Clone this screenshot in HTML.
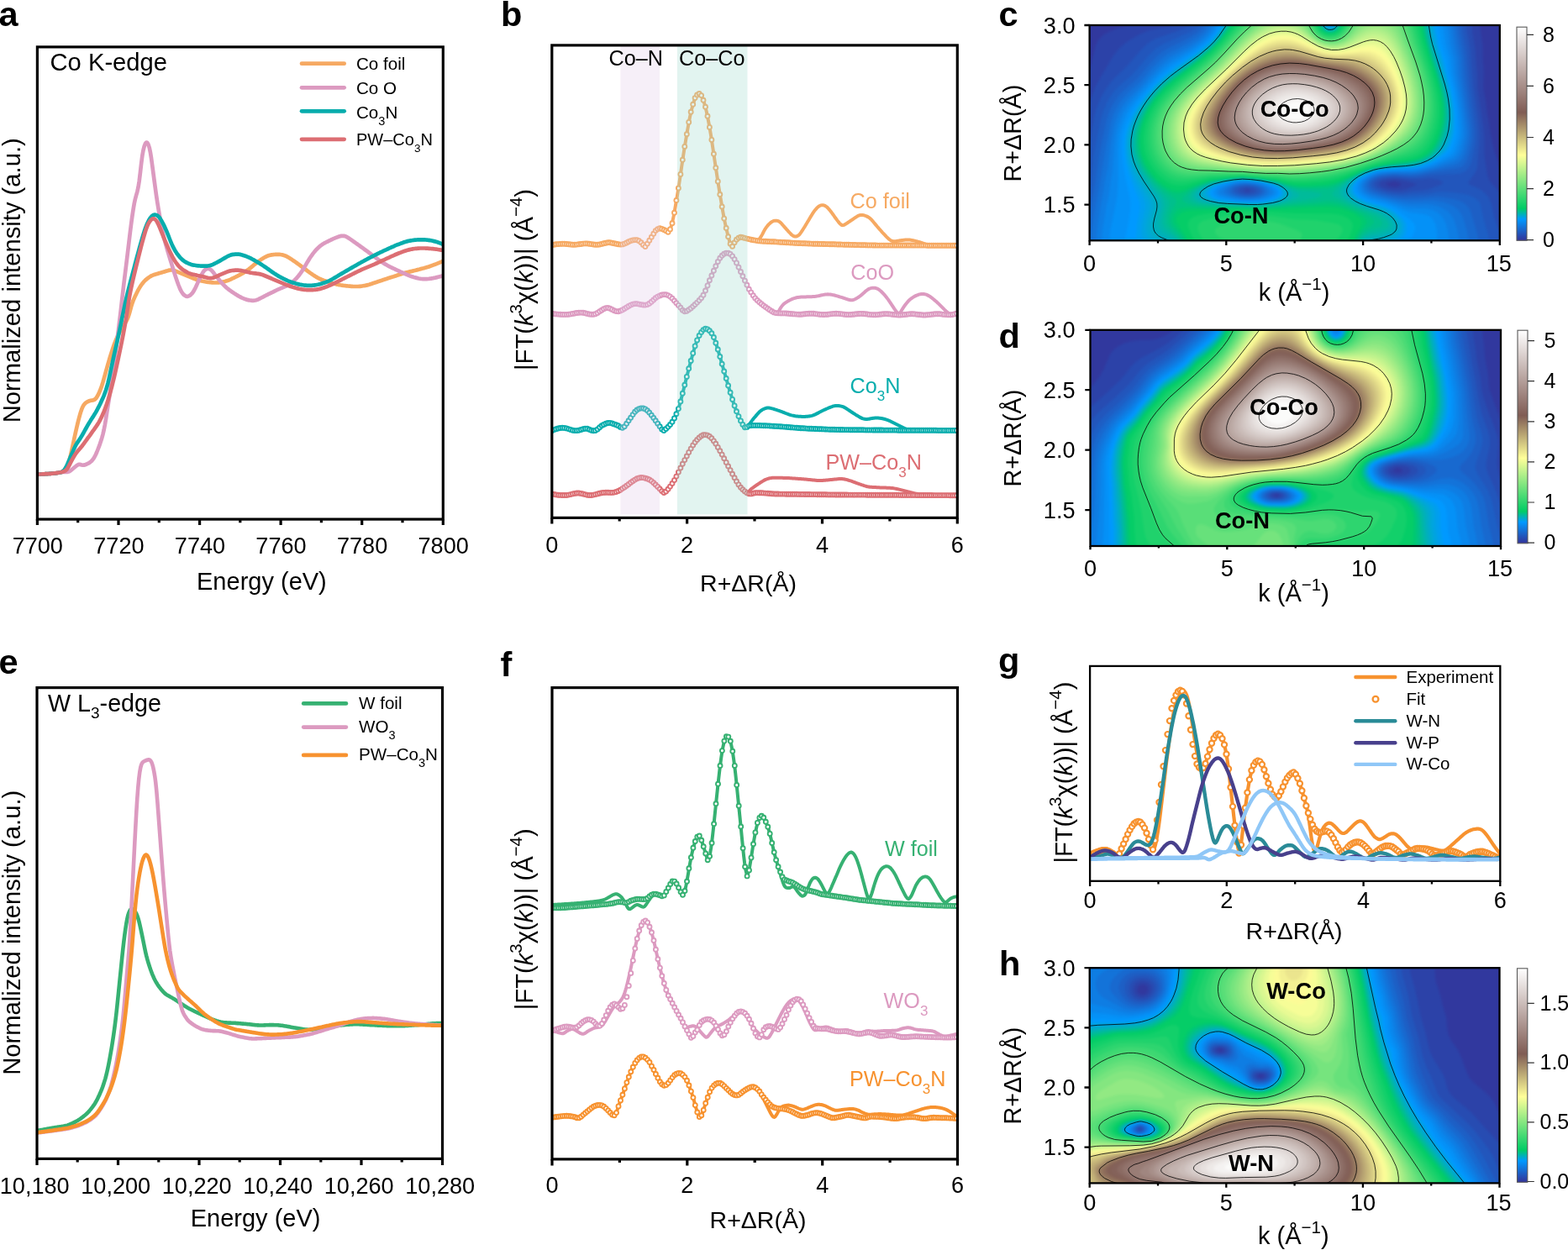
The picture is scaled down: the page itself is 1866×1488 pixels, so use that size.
<!DOCTYPE html>
<html lang="en"><head><meta charset="utf-8"><title>XAFS figure</title>
<style>
html,body{margin:0;padding:0;background:#fff}
body{width:1866px;height:1488px;overflow:hidden}
svg{display:block}
text{font-family:'Liberation Sans', Arial, Helvetica, sans-serif}
</style></head><body>
<svg xmlns="http://www.w3.org/2000/svg" width="1866" height="1488" viewBox="0 0 1866 1488">
<rect width="1866" height="1488" fill="#fff"/>
<!-- panel_a -->
<g fill="none" stroke-width="4.7" stroke-linejoin="round" stroke-linecap="butt">
<path d="M44.4 564.6L45.6 564.6L46.8 564.5L48 564.5L49.2 564.5L50.4 564.4L51.6 564.4L52.8 564.3L54 564.2L55.2 564.2L56.4 564.1L57.6 564L58.8 563.9L60 563.8L61.2 563.7L62.4 563.6L63.6 563.5L64.8 563.4L66 563.3L67.2 563.2L68.4 563L69.6 562.8L70.8 562.6L72 562.4L73.2 562L74.4 561.4L75.6 560.4L76.8 559.2L78 557.8L79.2 556.2L80.4 553.9L81.6 550.8L82.8 546.7L84 542L85.2 536.8L86.4 531.3L87.6 525.7L88.8 520L90 514.5L91.2 509.2L92.4 504.1L93.6 499.3L94.8 494.8L96 490.7L97.2 487.2L98.4 484.3L99.6 482.2L100.8 480.7L102 479.6L103.2 478.8L104.4 478.1L105.7 477.5L106.9 477.1L108.1 476.8L109.3 476.6L110.5 476.5L111.7 476.1L112.9 475.4L114.1 474.3L115.3 472.6L116.5 470.5L117.7 468.1L118.9 465.3L120.1 462.2L121.3 458.7L122.5 454.9L123.7 450.7L124.9 446.3L126.1 441.9L127.3 437.6L128.5 433.4L129.7 429.3L130.9 425.3L132.1 421.4L133.3 417.6L134.5 414L135.7 410.6L136.9 407.4L138.1 404.5L139.3 401.8L140.5 399.2L141.7 396.8L142.9 394.6L144.1 392.4L145.3 390.3L146.5 388.3L147.7 386.4L148.9 384.5L150.1 382.6L151.3 380.4L152.5 377.6L153.7 373.8L154.9 369.5L156.1 365.1L157.3 361.2L158.5 357.9L159.7 355.1L160.9 352.4L162.1 349.9L163.3 347.5L164.5 345.2L165.7 343.1L166.9 341.1L168.1 339.3L169.3 337.7L170.5 336.2L171.7 334.8L172.9 333.6L174.1 332.6L175.3 331.6L176.5 330.7L177.7 329.9L178.9 329.1L180.1 328.4L181.3 327.8L182.5 327.3L183.7 326.9L184.9 326.6L186.1 326.2L187.3 325.9L188.5 325.5L189.7 325.1L190.9 324.8L192.1 324.4L193.3 324.1L194.5 323.7L195.7 323.4L196.9 323L198.1 322.6L199.3 322.3L200.5 321.9L201.7 321.6L202.9 321.5L204.1 321.4L205.3 321.5L206.5 321.8L207.7 322.1L208.9 322.6L210.1 323.1L211.3 323.6L212.5 324.1L213.7 324.6L214.9 325.1L216.1 325.6L217.3 326.1L218.5 326.6L219.7 327.1L220.9 327.6L222.1 328.1L223.3 328.6L224.5 329.1L225.8 329.6L227 330.2L228.2 330.7L229.4 331.2L230.6 331.6L231.8 332.1L233 332.5L234.2 332.9L235.4 333.2L236.6 333.6L237.8 333.9L239 334.2L240.2 334.5L241.4 334.7L242.6 335L243.8 335.3L245 335.5L246.2 335.7L247.4 335.8L248.6 336L249.8 336.1L251 336.2L252.2 336.3L253.4 336.4L254.6 336.5L255.8 336.5L257 336.5L258.2 336.5L259.4 336.4L260.6 336.3L261.8 336.2L263 336.1L264.2 335.9L265.4 335.6L266.6 335.3L267.8 335L269 334.6L270.2 334.2L271.4 333.8L272.6 333.3L273.8 332.8L275 332.3L276.2 331.7L277.4 331.2L278.6 330.6L279.8 330L281 329.4L282.2 328.8L283.4 328.2L284.6 327.6L285.8 326.9L287 326.3L288.2 325.6L289.4 324.9L290.6 324.2L291.8 323.4L293 322.6L294.2 321.8L295.4 321L296.6 320L297.8 319.1L299 318.1L300.2 317.1L301.4 316.1L302.6 315L303.8 314.1L305 313.1L306.2 312.2L307.4 311.3L308.6 310.4L309.8 309.6L311 308.7L312.2 308L313.4 307.2L314.6 306.5L315.8 305.9L317 305.3L318.2 304.7L319.4 304.3L320.6 303.9L321.8 303.7L323 303.4L324.2 303.3L325.4 303.1L326.6 303L327.8 302.9L329 302.9L330.2 302.8L331.4 302.8L332.6 302.9L333.8 303L335 303.2L336.2 303.4L337.4 303.8L338.6 304.2L339.8 304.6L341 305.2L342.2 305.8L343.4 306.5L344.6 307.2L345.8 308L347.1 308.8L348.3 309.7L349.5 310.5L350.7 311.3L351.9 312.1L353.1 313L354.3 313.9L355.5 314.7L356.7 315.6L357.9 316.5L359.1 317.4L360.3 318.3L361.5 319.2L362.7 320.1L363.9 321L365.1 321.9L366.3 322.8L367.5 323.7L368.7 324.6L369.9 325.4L371.1 326.2L372.3 327.1L373.5 327.9L374.7 328.6L375.9 329.4L377.1 330.1L378.3 330.8L379.5 331.4L380.7 332L381.9 332.5L383.1 333L384.3 333.4L385.5 333.9L386.7 334.3L387.9 334.7L389.1 335.2L390.3 335.6L391.5 336L392.7 336.3L393.9 336.7L395.1 337.1L396.3 337.4L397.5 337.7L398.7 338L399.9 338.3L401.1 338.6L402.3 338.8L403.5 339.1L404.7 339.3L405.9 339.5L407.1 339.7L408.3 339.8L409.5 340L410.7 340.1L411.9 340.3L413.1 340.4L414.3 340.5L415.5 340.6L416.7 340.7L417.9 340.8L419.1 340.9L420.3 341L421.5 341L422.7 341L423.9 341L425.1 341L426.3 341L427.5 340.9L428.7 340.8L429.9 340.7L431.1 340.5L432.3 340.3L433.5 340.1L434.7 339.9L435.9 339.6L437.1 339.4L438.3 339L439.5 338.7L440.7 338.3L441.9 337.9L443.1 337.5L444.3 337.1L445.5 336.7L446.7 336.3L447.9 335.9L449.1 335.5L450.3 335.1L451.5 334.7L452.7 334.3L453.9 333.9L455.1 333.5L456.3 333.1L457.5 332.7L458.7 332.3L459.9 331.9L461.1 331.5L462.3 331.1L463.5 330.7L464.7 330.3L465.9 329.9L467.2 329.5L468.4 329.2L469.6 328.8L470.8 328.4L472 328L473.2 327.6L474.4 327.2L475.6 326.8L476.8 326.4L478 326L479.2 325.7L480.4 325.3L481.6 324.9L482.8 324.6L484 324.3L485.2 324L486.4 323.7L487.6 323.4L488.8 323.1L490 322.9L491.2 322.6L492.4 322.3L493.6 322L494.8 321.7L496 321.4L497.2 321.1L498.4 320.8L499.6 320.5L500.8 320.1L502 319.8L503.2 319.5L504.4 319.2L505.6 318.8L506.8 318.5L508 318.1L509.2 317.8L510.4 317.4L511.6 317L512.8 316.6L514 316.1L515.2 315.7L516.4 315.2L517.6 314.8L518.8 314.3L520 313.8L521.2 313.3L522.4 312.8L523.6 312.3L524.8 311.8L526 311.3L527.2 310.9" stroke="#F6A962"/>
<path d="M44.4 564.6L45.6 564.6L46.8 564.5L48 564.5L49.2 564.5L50.4 564.4L51.6 564.4L52.8 564.3L54 564.2L55.2 564.2L56.4 564.1L57.6 564L58.8 563.9L60 563.9L61.2 563.8L62.4 563.6L63.6 563.5L64.8 563.4L66 563.3L67.2 563.1L68.4 562.9L69.6 562.7L70.8 562.4L72 562.2L73.2 562.1L74.4 562L75.6 562L76.8 562L78 562L79.2 561.9L80.4 561.8L81.6 561.5L82.8 561L84 560.3L85.2 559.3L86.4 558.3L87.6 557.3L88.8 556.3L90 555.3L91.2 554.3L92.4 553.5L93.6 552.9L94.8 552.9L96 553.1L97.2 553.5L98.4 553.7L99.6 553.7L100.8 553.4L102 553L103.2 552.5L104.4 551.9L105.7 551.3L106.9 550.5L108.1 549.5L109.3 548.4L110.5 547L111.7 545.3L112.9 543.2L114.1 540.8L115.3 538L116.5 535L117.7 531.9L118.9 528.6L120.1 525L121.3 521.2L122.5 516.8L123.7 511.6L124.9 505.4L126.1 498.3L127.3 490.5L128.5 482.8L129.7 475.3L130.9 467.6L132.1 459.6L133.3 451.2L134.5 442.3L135.7 433.1L136.9 423.9L138.1 414.7L139.3 405.5L140.5 396.2L141.7 386.6L142.9 376.7L144.1 366.4L145.3 355.8L146.5 345.4L147.7 335.3L148.9 325.7L150.1 316L151.3 306.3L152.5 296.3L153.7 286.2L154.9 276.3L156.1 266.8L157.3 257.9L158.5 249.8L159.7 242.6L160.9 237L162.1 232.5L163.3 228.3L164.5 223L165.7 215.5L166.9 205.6L168.1 195L169.3 185.7L170.5 178.9L171.7 174.1L172.9 171L174.1 169.6L175.3 169.9L176.5 171.9L177.7 175.6L178.9 181.2L180.1 188.7L181.3 197.5L182.5 206.6L183.7 215.6L184.9 224.5L186.1 233.1L187.3 241.1L188.5 248.4L189.7 255.5L190.9 262.3L192.1 268.9L193.3 275L194.5 280.4L195.7 285.2L196.9 289.6L198.1 293.9L199.3 298L200.5 302L201.7 306L202.9 310L204.1 313.9L205.3 317.8L206.5 321.7L207.7 325.5L208.9 329.2L210.1 332.8L211.3 336.2L212.5 339.5L213.7 342.5L214.9 345.2L216.1 347.5L217.3 349.2L218.5 350.6L219.7 351.6L220.9 352.4L222.1 352.8L223.3 352.8L224.5 352.5L225.8 351.8L227 350.9L228.2 349.7L229.4 348.2L230.6 346.4L231.8 344.2L233 341.8L234.2 339.1L235.4 336.4L236.6 333.6L237.8 331L239 328.6L240.2 326.4L241.4 324.4L242.6 322.7L243.8 321.4L245 320.5L246.2 320L247.4 319.8L248.6 320L249.8 320.4L251 321.2L252.2 322.4L253.4 323.8L254.6 325.3L255.8 326.9L257 328.4L258.2 329.9L259.4 331.4L260.6 332.8L261.8 334.3L263 335.7L264.2 337.1L265.4 338.4L266.6 339.6L267.8 340.8L269 341.9L270.2 343L271.4 344L272.6 344.9L273.8 345.8L275 346.6L276.2 347.5L277.4 348.3L278.6 349.1L279.8 349.9L281 350.6L282.2 351.4L283.4 352.1L284.6 352.8L285.8 353.4L287 354.1L288.2 354.7L289.4 355.2L290.6 355.7L291.8 356.1L293 356.5L294.2 356.9L295.4 357.1L296.6 357.4L297.8 357.5L299 357.7L300.2 357.8L301.4 357.8L302.6 357.7L303.8 357.5L305 357.2L306.2 356.8L307.4 356.3L308.6 355.7L309.8 355.1L311 354.5L312.2 353.9L313.4 353.3L314.6 352.6L315.8 352L317 351.4L318.2 350.8L319.4 350.2L320.6 349.6L321.8 349L323 348.5L324.2 347.9L325.4 347.3L326.6 346.7L327.8 346.1L329 345.5L330.2 344.9L331.4 344.4L332.6 343.8L333.8 343.3L335 342.8L336.2 342.4L337.4 341.9L338.6 341.4L339.8 340.9L341 340.3L342.2 339.7L343.4 339.1L344.6 338.3L345.8 337.5L347.1 336.6L348.3 335.6L349.5 334.6L350.7 333.4L351.9 332.2L353.1 330.9L354.3 329.5L355.5 328.1L356.7 326.5L357.9 324.8L359.1 323.1L360.3 321.3L361.5 319.4L362.7 317.4L363.9 315.3L365.1 313.2L366.3 311.2L367.5 309.2L368.7 307.3L369.9 305.5L371.1 303.8L372.3 302.1L373.5 300.6L374.7 299.1L375.9 297.7L377.1 296.5L378.3 295.3L379.5 294.2L380.7 293.1L381.9 292.2L383.1 291.3L384.3 290.5L385.5 289.8L386.7 289.1L387.9 288.5L389.1 287.9L390.3 287.3L391.5 286.7L392.7 286.1L393.9 285.5L395.1 285L396.3 284.4L397.5 283.9L398.7 283.4L399.9 282.9L401.1 282.4L402.3 282L403.5 281.6L404.7 281.2L405.9 280.9L407.1 280.8L408.3 280.8L409.5 280.9L410.7 281.2L411.9 281.7L413.1 282.3L414.3 283.1L415.5 283.8L416.7 284.6L417.9 285.4L419.1 286.3L420.3 287.1L421.5 288L422.7 288.8L423.9 289.7L425.1 290.5L426.3 291.4L427.5 292.2L428.7 293.1L429.9 294L431.1 294.8L432.3 295.7L433.5 296.6L434.7 297.5L435.9 298.3L437.1 299.2L438.3 300.1L439.5 301L440.7 301.9L441.9 302.8L443.1 303.7L444.3 304.6L445.5 305.5L446.7 306.4L447.9 307.3L449.1 308.2L450.3 309.1L451.5 309.9L452.7 310.8L453.9 311.6L455.1 312.4L456.3 313.2L457.5 313.9L458.7 314.6L459.9 315.3L461.1 316L462.3 316.7L463.5 317.3L464.7 317.9L465.9 318.5L467.2 319.1L468.4 319.7L469.6 320.2L470.8 320.8L472 321.4L473.2 321.9L474.4 322.5L475.6 323L476.8 323.6L478 324.1L479.2 324.7L480.4 325.2L481.6 325.7L482.8 326.3L484 326.8L485.2 327.3L486.4 327.8L487.6 328.3L488.8 328.8L490 329.2L491.2 329.6L492.4 330L493.6 330.3L494.8 330.6L496 330.9L497.2 331.2L498.4 331.5L499.6 331.7L500.8 331.9L502 332L503.2 332.1L504.4 332.1L505.6 332.2L506.8 332.1L508 332.1L509.2 332L510.4 331.9L511.6 331.7L512.8 331.6L514 331.4L515.2 331.2L516.4 330.9L517.6 330.7L518.8 330.4L520 330.1L521.2 329.8L522.4 329.5L523.6 329.2L524.8 328.9L526 328.5L527.2 328.2" stroke="#DC9AC0"/>
<path d="M44.4 564.6L45.6 564.6L46.8 564.5L48 564.5L49.2 564.5L50.4 564.4L51.6 564.4L52.8 564.3L54 564.2L55.2 564.2L56.4 564.1L57.6 564L58.8 563.9L60 563.8L61.2 563.7L62.4 563.6L63.6 563.5L64.8 563.4L66 563.3L67.2 563.2L68.4 563L69.6 562.8L70.8 562.6L72 562.3L73.2 562L74.4 561.3L75.6 560.3L76.8 559L78 557.1L79.2 554.8L80.4 552.2L81.6 549.4L82.8 546.6L84 543.8L85.2 541L86.4 538.2L87.6 535.4L88.8 532.7L90 530.3L91.2 528.2L92.4 526.4L93.6 524.6L94.8 522.9L96 521L97.2 519.1L98.4 517L99.6 514.8L100.8 512.7L102 510.5L103.2 508.3L104.4 506.2L105.7 504.1L106.9 502.1L108.1 500.1L109.3 498.2L110.5 496.4L111.7 494.5L112.9 492.6L114.1 490.6L115.3 488.5L116.5 486.2L117.7 483.9L118.9 481.5L120.1 478.9L121.3 476.3L122.5 473.7L123.7 470.8L124.9 467.7L126.1 464.3L127.3 460.3L128.5 455.8L129.7 450.8L130.9 445.3L132.1 439.6L133.3 433.9L134.5 428.2L135.7 422.7L136.9 417.4L138.1 412.2L139.3 407L140.5 401.6L141.7 395.9L142.9 390.2L144.1 384.4L145.3 378.6L146.5 372.9L147.7 367.2L148.9 361.6L150.1 356.1L151.3 351L152.5 346L153.7 341.3L154.9 336.7L156.1 332.1L157.3 327.6L158.5 323L159.7 318.5L160.9 313.9L162.1 309.4L163.3 304.9L164.5 300.5L165.7 296.1L166.9 291.8L168.1 287.6L169.3 283.5L170.5 279.4L171.7 275.6L172.9 272.1L174.1 268.9L175.3 266L176.5 263.5L177.7 261.2L178.9 259.4L180.1 257.9L181.3 256.8L182.5 256.1L183.7 255.7L184.9 255.7L186.1 256L187.3 256.6L188.5 257.6L189.7 258.9L190.9 260.6L192.1 262.6L193.3 264.8L194.5 267.1L195.7 269.6L196.9 272.2L198.1 274.9L199.3 277.8L200.5 280.9L201.7 284L202.9 287L204.1 289.9L205.3 292.6L206.5 295L207.7 297.2L208.9 299.2L210.1 301.1L211.3 302.8L212.5 304.3L213.7 305.8L214.9 307.1L216.1 308.3L217.3 309.4L218.5 310.4L219.7 311.2L220.9 311.9L222.1 312.6L223.3 313.2L224.5 313.7L225.8 314.2L227 314.7L228.2 315.1L229.4 315.4L230.6 315.6L231.8 315.8L233 316L234.2 316.2L235.4 316.3L236.6 316.4L237.8 316.5L239 316.6L240.2 316.7L241.4 316.7L242.6 316.7L243.8 316.7L245 316.7L246.2 316.6L247.4 316.5L248.6 316.3L249.8 316.1L251 315.7L252.2 315.3L253.4 314.8L254.6 314.2L255.8 313.6L257 313L258.2 312.4L259.4 311.7L260.6 311.1L261.8 310.4L263 309.7L264.2 309L265.4 308.3L266.6 307.6L267.8 306.9L269 306.2L270.2 305.5L271.4 304.9L272.6 304.3L273.8 303.8L275 303.4L276.2 303.1L277.4 302.9L278.6 302.8L279.8 302.7L281 302.6L282.2 302.6L283.4 302.6L284.6 302.7L285.8 302.9L287 303.2L288.2 303.5L289.4 303.9L290.6 304.3L291.8 304.7L293 305.1L294.2 305.6L295.4 306.1L296.6 306.7L297.8 307.2L299 307.8L300.2 308.5L301.4 309.1L302.6 309.8L303.8 310.5L305 311.2L306.2 311.9L307.4 312.6L308.6 313.3L309.8 314.1L311 314.8L312.2 315.6L313.4 316.4L314.6 317.2L315.8 318L317 318.8L318.2 319.7L319.4 320.5L320.6 321.4L321.8 322.3L323 323.1L324.2 324L325.4 324.8L326.6 325.6L327.8 326.4L329 327.1L330.2 327.9L331.4 328.6L332.6 329.3L333.8 329.9L335 330.6L336.2 331.2L337.4 331.8L338.6 332.4L339.8 333L341 333.5L342.2 334.1L343.4 334.6L344.6 335.1L345.8 335.5L347.1 335.9L348.3 336.4L349.5 336.7L350.7 337.1L351.9 337.5L353.1 337.8L354.3 338.1L355.5 338.4L356.7 338.7L357.9 338.9L359.1 339.1L360.3 339.3L361.5 339.5L362.7 339.6L363.9 339.7L365.1 339.8L366.3 339.9L367.5 339.9L368.7 339.9L369.9 339.9L371.1 339.8L372.3 339.7L373.5 339.6L374.7 339.4L375.9 339.2L377.1 339L378.3 338.8L379.5 338.5L380.7 338.2L381.9 337.9L383.1 337.5L384.3 337.1L385.5 336.7L386.7 336.3L387.9 335.9L389.1 335.4L390.3 334.9L391.5 334.4L392.7 333.8L393.9 333.2L395.1 332.5L396.3 331.9L397.5 331.1L398.7 330.4L399.9 329.7L401.1 329L402.3 328.3L403.5 327.5L404.7 326.8L405.9 326.1L407.1 325.4L408.3 324.7L409.5 324L410.7 323.3L411.9 322.6L413.1 321.9L414.3 321.2L415.5 320.5L416.7 319.8L417.9 319.1L419.1 318.4L420.3 317.7L421.5 317L422.7 316.4L423.9 315.7L425.1 315L426.3 314.3L427.5 313.6L428.7 313L429.9 312.3L431.1 311.6L432.3 311L433.5 310.3L434.7 309.7L435.9 309L437.1 308.4L438.3 307.7L439.5 307.1L440.7 306.5L441.9 305.9L443.1 305.2L444.3 304.6L445.5 304L446.7 303.4L447.9 302.8L449.1 302.2L450.3 301.6L451.5 301L452.7 300.4L453.9 299.8L455.1 299.3L456.3 298.7L457.5 298.2L458.7 297.6L459.9 297.1L461.1 296.5L462.3 296L463.5 295.4L464.7 294.9L465.9 294.3L467.2 293.8L468.4 293.3L469.6 292.7L470.8 292.2L472 291.7L473.2 291.2L474.4 290.8L475.6 290.3L476.8 289.8L478 289.4L479.2 289L480.4 288.5L481.6 288.1L482.8 287.8L484 287.4L485.2 287.1L486.4 286.8L487.6 286.6L488.8 286.4L490 286.2L491.2 286L492.4 285.8L493.6 285.7L494.8 285.6L496 285.5L497.2 285.4L498.4 285.3L499.6 285.3L500.8 285.3L502 285.3L503.2 285.3L504.4 285.4L505.6 285.4L506.8 285.5L508 285.6L509.2 285.8L510.4 285.9L511.6 286.1L512.8 286.3L514 286.5L515.2 286.8L516.4 287.1L517.6 287.4L518.8 287.7L520 288.1L521.2 288.5L522.4 288.9L523.6 289.4L524.8 289.9L526 290.4L527.2 290.8" stroke="#08ADAD"/>
<path d="M44.4 564.6L45.6 564.6L46.8 564.5L48 564.5L49.2 564.5L50.4 564.4L51.6 564.4L52.8 564.3L54 564.2L55.2 564.2L56.4 564.1L57.6 564L58.8 563.9L60 563.8L61.2 563.7L62.4 563.6L63.6 563.5L64.8 563.4L66 563.3L67.2 563.1L68.4 562.9L69.6 562.7L70.8 562.5L72 562.3L73.2 562L74.4 561.7L75.6 561.3L76.8 560.8L78 560.1L79.2 559L80.4 557.5L81.6 555.5L82.8 553.1L84 550.7L85.2 548.4L86.4 546.2L87.6 544.1L88.8 542.1L90 540.2L91.2 538.6L92.4 537L93.6 535.6L94.8 534.3L96 532.9L97.2 531.5L98.4 529.9L99.6 528.3L100.8 526.7L102 525L103.2 523.3L104.4 521.6L105.7 520L106.9 518.3L108.1 516.6L109.3 514.9L110.5 513.2L111.7 511.6L112.9 509.9L114.1 508.2L115.3 506.4L116.5 504.6L117.7 502.6L118.9 500.4L120.1 498L121.3 495.4L122.5 492.7L123.7 489.9L124.9 486.9L126.1 483.7L127.3 480.2L128.5 476.5L129.7 472.5L130.9 468.3L132.1 463.9L133.3 459.3L134.5 454.5L135.7 449.6L136.9 444.4L138.1 439.1L139.3 433.6L140.5 428L141.7 422.3L142.9 416.6L144.1 410.7L145.3 404.8L146.5 398.7L147.7 392.4L148.9 385.9L150.1 378.9L151.3 371.2L152.5 362.9L153.7 355.2L154.9 348.6L156.1 342.7L157.3 337.2L158.5 332L159.7 326.9L160.9 321.9L162.1 316.9L163.3 312.1L164.5 307.2L165.7 302.4L166.9 297.7L168.1 293L169.3 288.5L170.5 284.1L171.7 279.8L172.9 275.8L174.1 272.1L175.3 268.9L176.5 266.3L177.7 264.3L178.9 262.6L180.1 261.4L181.3 260.6L182.5 260.3L183.7 260.6L184.9 261.4L186.1 262.9L187.3 264.9L188.5 267.3L189.7 269.9L190.9 272.9L192.1 275.9L193.3 278.9L194.5 282L195.7 284.9L196.9 287.8L198.1 290.5L199.3 293.2L200.5 295.9L201.7 298.5L202.9 301L204.1 303.4L205.3 305.8L206.5 307.9L207.7 310L208.9 311.8L210.1 313.5L211.3 315.1L212.5 316.5L213.7 317.8L214.9 318.9L216.1 319.9L217.3 320.8L218.5 321.7L219.7 322.4L220.9 323.1L222.1 323.8L223.3 324.5L224.5 325.1L225.8 325.6L227 326L228.2 326.4L229.4 326.7L230.6 326.9L231.8 327.2L233 327.4L234.2 327.7L235.4 328L236.6 328.2L237.8 328.5L239 328.7L240.2 329L241.4 329.3L242.6 329.6L243.8 329.9L245 330.2L246.2 330.5L247.4 330.8L248.6 331L249.8 331.1L251 331.1L252.2 331L253.4 330.7L254.6 330.4L255.8 329.9L257 329.4L258.2 328.9L259.4 328.3L260.6 327.7L261.8 327.2L263 326.7L264.2 326.2L265.4 325.7L266.6 325.2L267.8 324.7L269 324.2L270.2 323.7L271.4 323.2L272.6 322.8L273.8 322.4L275 322.2L276.2 322L277.4 321.9L278.6 321.8L279.8 321.7L281 321.7L282.2 321.7L283.4 321.7L284.6 321.8L285.8 321.9L287 322L288.2 322.3L289.4 322.5L290.6 322.8L291.8 323.1L293 323.4L294.2 323.7L295.4 324L296.6 324.3L297.8 324.6L299 324.8L300.2 325L301.4 325.2L302.6 325.3L303.8 325.4L305 325.6L306.2 325.8L307.4 325.9L308.6 326.1L309.8 326.4L311 326.7L312.2 327.1L313.4 327.5L314.6 328L315.8 328.5L317 329L318.2 329.5L319.4 330L320.6 330.5L321.8 331L323 331.5L324.2 332.1L325.4 332.6L326.6 333.1L327.8 333.6L329 334.1L330.2 334.6L331.4 335.1L332.6 335.6L333.8 336.1L335 336.6L336.2 337.1L337.4 337.6L338.6 338.1L339.8 338.6L341 339.1L342.2 339.6L343.4 340L344.6 340.5L345.8 340.9L347.1 341.3L348.3 341.7L349.5 342L350.7 342.4L351.9 342.7L353.1 343.1L354.3 343.4L355.5 343.7L356.7 344L357.9 344.2L359.1 344.5L360.3 344.6L361.5 344.8L362.7 344.9L363.9 345L365.1 345.1L366.3 345.1L367.5 345.2L368.7 345.2L369.9 345.2L371.1 345.2L372.3 345.1L373.5 345L374.7 344.9L375.9 344.8L377.1 344.6L378.3 344.4L379.5 344.2L380.7 343.9L381.9 343.6L383.1 343.2L384.3 342.8L385.5 342.4L386.7 342L387.9 341.6L389.1 341.2L390.3 340.7L391.5 340.2L392.7 339.7L393.9 339.1L395.1 338.5L396.3 338L397.5 337.4L398.7 336.8L399.9 336.2L401.1 335.6L402.3 335L403.5 334.4L404.7 333.8L405.9 333.2L407.1 332.5L408.3 331.9L409.5 331.3L410.7 330.7L411.9 330.1L413.1 329.5L414.3 328.9L415.5 328.3L416.7 327.7L417.9 327.1L419.1 326.5L420.3 325.9L421.5 325.3L422.7 324.7L423.9 324.1L425.1 323.5L426.3 322.9L427.5 322.3L428.7 321.8L429.9 321.2L431.1 320.6L432.3 320.1L433.5 319.6L434.7 319.1L435.9 318.6L437.1 318.1L438.3 317.6L439.5 317.1L440.7 316.6L441.9 316.1L443.1 315.6L444.3 315.1L445.5 314.6L446.7 314L447.9 313.5L449.1 313L450.3 312.4L451.5 311.9L452.7 311.3L453.9 310.7L455.1 310.2L456.3 309.6L457.5 309.1L458.7 308.5L459.9 307.9L461.1 307.4L462.3 306.8L463.5 306.3L464.7 305.7L465.9 305.2L467.2 304.6L468.4 304.1L469.6 303.5L470.8 303L472 302.5L473.2 302L474.4 301.5L475.6 301.1L476.8 300.6L478 300.1L479.2 299.7L480.4 299.2L481.6 298.8L482.8 298.4L484 298L485.2 297.7L486.4 297.4L487.6 297.1L488.8 296.8L490 296.6L491.2 296.3L492.4 296.2L493.6 296L494.8 295.9L496 295.8L497.2 295.7L498.4 295.6L499.6 295.5L500.8 295.5L502 295.5L503.2 295.5L504.4 295.5L505.6 295.5L506.8 295.6L508 295.6L509.2 295.7L510.4 295.8L511.6 295.9L512.8 296L514 296.1L515.2 296.2L516.4 296.3L517.6 296.5L518.8 296.6L520 296.8L521.2 297L522.4 297.2L523.6 297.4L524.8 297.6L526 297.8L527.2 298" stroke="#DC6E73"/>
</g>
<rect x="44.4" y="55.9" width="482.9" height="562.2" fill="none" stroke="#000" stroke-width="3.2"/>
<path d="M44.4 618.1v7M141 618.1v7M237.6 618.1v7M334.1 618.1v7M430.7 618.1v7M527.3 618.1v7" stroke="#000" stroke-width="3.2" fill="none"/>
<path d="M92.7 618.1v4.2M189.3 618.1v4.2M285.8 618.1v4.2M382.4 618.1v4.2M479 618.1v4.2" stroke="#000" stroke-width="3.2" fill="none"/>
<text x="44.8" y="658.8" font-size="27.1" text-anchor="middle">7700</text>
<text x="141.4" y="658.8" font-size="27.1" text-anchor="middle">7720</text>
<text x="238" y="658.8" font-size="27.1" text-anchor="middle">7740</text>
<text x="334.5" y="658.8" font-size="27.1" text-anchor="middle">7760</text>
<text x="431.1" y="658.8" font-size="27.1" text-anchor="middle">7780</text>
<text x="527.7" y="658.8" font-size="27.1" text-anchor="middle">7800</text>
<text x="311.4" y="701.5" font-size="29" text-anchor="middle">Energy (eV)</text>
<text transform="translate(24.2 333.8) rotate(-90)" font-size="29.2" text-anchor="middle">Normalized intensity (a.u.)</text>
<text x="-1.5" y="30.7" font-size="41.5" font-weight="bold">a</text>
<text x="59.5" y="84" font-size="29.2">Co K-edge</text>
<g fill="none" stroke-width="4.7" stroke-linecap="round">
<path d="M359 75.7H409.7" stroke="#F6A962"/>
<path d="M359 104.3H409.7" stroke="#DC9AC0"/>
<path d="M359 132.3H409.7" stroke="#08ADAD"/>
<path d="M359 165.8H409.7" stroke="#DC6E73"/>
</g>
<text x="424" y="83.4" font-size="20.6">Co foil</text>
<text x="424" y="112" font-size="20.6">Co O</text>
<text x="424" y="140.5" font-size="20.6">Co<tspan font-size="14.5" dy="8">3</tspan><tspan dy="-8">&#8203;</tspan>N</text>
<text x="424" y="173.3" font-size="20">PW–Co<tspan font-size="13.5" dy="8">3</tspan><tspan dy="-8">&#8203;</tspan>N</text>
<!-- panel_b -->
<defs><clipPath id="clb"><rect x="656.8" y="53.9" width="482.5" height="562.5"/></clipPath></defs><g clip-path="url(#clb)">
<defs><marker id="mbo" markerUnits="userSpaceOnUse" markerWidth="8" markerHeight="8" refX="0" refY="0" viewBox="-4 -4 8 8" overflow="visible"><circle r="2.5" fill="#fff" stroke="#F6A962" stroke-width="1.9"/></marker><marker id="mbp" markerUnits="userSpaceOnUse" markerWidth="8" markerHeight="8" refX="0" refY="0" viewBox="-4 -4 8 8" overflow="visible"><circle r="2.5" fill="#fff" stroke="#DC9AC0" stroke-width="1.9"/></marker><marker id="mbt" markerUnits="userSpaceOnUse" markerWidth="8" markerHeight="8" refX="0" refY="0" viewBox="-4 -4 8 8" overflow="visible"><circle r="2.5" fill="#fff" stroke="#08ADAD" stroke-width="1.9"/></marker><marker id="mbr" markerUnits="userSpaceOnUse" markerWidth="8" markerHeight="8" refX="0" refY="0" viewBox="-4 -4 8 8" overflow="visible"><circle r="2.5" fill="#fff" stroke="#DC6E73" stroke-width="1.9"/></marker></defs>
<path d="M656.8 291.5L657.8 291.4L658.8 291.3L659.8 291.1L660.8 291L661.8 290.8L662.8 290.7L663.8 290.6L664.8 290.6L665.8 290.5L666.8 290.4L667.8 290.4L668.8 290.3L669.8 290.3L670.8 290.3L671.8 290.3L672.8 290.4L673.8 290.5L674.8 290.6L675.8 290.7L676.8 290.8L677.8 290.9L678.8 291L679.8 291.1L680.8 291.2L681.8 291.2L682.8 291.3L683.8 291.3L684.8 291.2L685.8 291.2L686.8 291.1L687.8 291L688.8 290.8L689.8 290.7L690.8 290.6L691.8 290.4L692.8 290.3L693.8 290.2L694.8 290.1L695.8 290L696.8 289.9L697.8 289.9L698.8 290L699.8 290L700.8 290.1L701.8 290.3L702.8 290.4L703.8 290.6L704.8 290.7L705.9 290.9L706.9 291L707.9 291.1L708.9 291.2L709.9 291.3L710.9 291.3L711.9 291.2L712.9 291.1L713.9 290.9L714.9 290.7L715.9 290.5L716.9 290.2L717.9 290L718.9 289.7L719.9 289.5L720.9 289.3L721.9 289.1L722.9 288.9L723.9 288.8L724.9 288.8L725.9 288.9L726.9 289L727.9 289.1L728.9 289.3L729.9 289.5L730.9 289.7L731.9 290L732.9 290.2L733.9 290.4L734.9 290.6L735.9 290.8L736.9 291L737.9 291L738.9 291L739.9 291L740.9 290.8L741.9 290.5L742.9 290.2L743.9 289.8L744.9 289.4L745.9 288.9L746.9 288.4L747.9 287.9L748.9 287.4L749.9 287L750.9 286.6L751.9 286.2L752.9 286L753.9 285.8L754.9 285.7L755.9 285.7L756.9 285.7L757.9 285.8L758.9 286.1L759.9 286.5L760.9 287.1L761.9 287.8L762.9 288.7L763.9 289.7L764.9 290.8L765.9 291.9L766.9 292.6L767.9 292.8L768.9 292.1L769.9 290.8L770.9 289.2L771.9 287.7L772.9 286.1L773.9 284.5L774.9 282.9L775.9 281.3L776.9 279.7L777.9 278.1L778.9 276.5L779.9 275.2L780.9 274.1L781.9 273.3L782.9 272.7L783.9 272.2L784.9 272L785.9 272L786.9 272.2L787.9 272.5L788.9 273L789.9 273.5L790.9 274L791.9 274.5L792.9 275.1L793.9 275.5L794.9 275.6L795.9 275L796.9 273.7L797.9 271.6L798.9 268.8L799.9 265.3L800.9 260.9L802 255.8L803 250.1L804 244.2L805 238.4L806 232.6L807 226.5L808 220.2L809 213.5L810 206.7L811 199.8L812 192.9L813 186.2L814 179.8L815 173.5L816 167.5L817 161.6L818 155.7L819 150L820 144.4L821 139.3L822 134.7L823 130.6L824 126.9L825 123.4L826 120.2L827 117.5L828 115.4L829 113.9L830 112.8L831 112.1L832 111.9L833 112.2L834 113.2L835 114.7L836 116.8L837 119.4L838 122.3L839 125.7L840 129.6L841 133.9L842 138.7L843 143.8L844 149.2L845 154.9L846 160.9L847 167.3L848 174L849 180.8L850 187.5L851 194.2L852 200.8L853 207.4L854 213.9L855 220.3L856 226.6L857 232.7L858 238.7L859 244.6L860 250.4L861 256L862 261.2L863 266.1L864 270.6L865 274.9L866 279L867 283L868 286.5L869 289.4L870 291.3L871 292.2L872 291.9L873 290.7L874 289L875 287.4L876 286L877 284.9L878 284L879 283.3L880 282.9L881 282.6L882 282.5L883 282.6L884 282.8L885 283L886 283.3L887 283.6L888 283.9L889 284.1L890 284.3L891 284.5L892 284.8L893 285L894 285.2L895 285.4L896 285.6L897 285.8L898 285.9L899.1 286.1L900.1 286.1L901.1 286L902.1 285.6L903.1 284.9L904.1 283.9L905.1 282.5L906.1 280.9L907.1 279.1L908.1 277.2L909.1 275.2L910.1 273.4L911.1 271.8L912.1 270.4L913.1 269.1L914.1 267.9L915.1 266.8L916.1 265.9L917.1 265L918.1 264.3L919.1 263.7L920.1 263.2L921.1 262.9L922.1 262.7L923.1 262.7L924.1 262.7L925.1 262.9L926.1 263.2L927.1 263.6L928.1 264.3L929.1 265.2L930.1 266.2L931.1 267.4L932.1 268.5L933.1 269.7L934.1 270.8L935.1 271.9L936.1 273.1L937.1 274.2L938.1 275.3L939.1 276.4L940.1 277.4L941.1 278.5L942.1 279.5L943.1 280.3L944.1 280.9L945.1 281.3L946.1 281.5L947.1 281.5L948.1 281.3L949.1 280.9L950.1 280.3L951.1 279.4L952.1 278.2L953.1 276.9L954.1 275.4L955.1 273.9L956.1 272.3L957.1 270.7L958.1 269.1L959.1 267.4L960.1 265.8L961.1 264.1L962.1 262.4L963.1 260.7L964.1 259L965.1 257.4L966.1 255.7L967.1 254.1L968.1 252.6L969.1 251.2L970.1 249.9L971.1 248.8L972.1 247.7L973.1 246.7L974.1 245.9L975.1 245.2L976.1 244.7L977.1 244.4L978.1 244.2L979.1 244.2L980.1 244.3L981.1 244.6L982.1 245.1L983.1 245.7L984.1 246.5L985.1 247.5L986.1 248.6L987.1 249.8L988.1 251L989.1 252.3L990.1 253.6L991.1 255L992.1 256.4L993.1 257.8L994.1 259.3L995.2 260.7L996.2 262.1L997.2 263.4L998.2 264.7L999.2 265.8L1000.2 266.8L1001.2 267.6L1002.2 268.1L1003.2 268.2L1004.2 267.9L1005.2 267.4L1006.2 266.8L1007.2 266.2L1008.2 265.5L1009.2 264.8L1010.2 264.2L1011.2 263.5L1012.2 262.8L1013.2 262.2L1014.2 261.5L1015.2 260.8L1016.2 260.1L1017.2 259.4L1018.2 258.8L1019.2 258.1L1020.2 257.5L1021.2 256.9L1022.2 256.5L1023.2 256.2L1024.2 256L1025.2 255.9L1026.2 256L1027.2 256.1L1028.2 256.3L1029.2 256.6L1030.2 257L1031.2 257.4L1032.2 257.9L1033.2 258.4L1034.2 259L1035.2 259.8L1036.2 260.7L1037.2 261.7L1038.2 262.8L1039.2 264L1040.2 265.2L1041.2 266.4L1042.2 267.6L1043.2 268.8L1044.2 270L1045.2 271.1L1046.2 272.3L1047.2 273.4L1048.2 274.5L1049.2 275.7L1050.2 276.8L1051.2 277.8L1052.2 278.9L1053.2 280L1054.2 281L1055.2 282.1L1056.2 283.1L1057.2 284L1058.2 284.9L1059.2 285.6L1060.2 286.2L1061.2 286.7L1062.2 287.1L1063.2 287.3L1064.2 287.3L1065.2 287.3L1066.2 287.2L1067.2 287L1068.2 286.8L1069.2 286.7L1070.2 286.5L1071.2 286.3L1072.2 286.2L1073.2 286L1074.2 285.9L1075.2 285.8L1076.2 285.7L1077.2 285.6L1078.2 285.5L1079.2 285.4L1080.2 285.4L1081.2 285.5L1082.2 285.5L1083.2 285.6L1084.2 285.8L1085.2 285.9L1086.2 286.1L1087.2 286.3L1088.2 286.6L1089.2 286.8L1090.2 287.1L1091.3 287.3L1092.3 287.6L1093.3 287.9L1094.3 288.2L1095.3 288.5L1096.3 288.8L1097.3 289.2L1098.3 289.5L1099.3 289.8L1100.3 290.1L1101.3 290.4L1102.3 290.6L1103.3 290.9L1104.3 291.1L1105.3 291.3L1106.3 291.5L1107.3 291.7L1108.3 291.8L1109.3 291.9L1110.3 292L1111.3 292L1112.3 292.1L1113.3 292.1L1114.3 292.1L1115.3 292.2L1116.3 292.2L1117.3 292.2L1118.3 292.2L1119.3 292.3L1120.3 292.3L1121.3 292.3L1122.3 292.3L1123.3 292.3L1124.3 292.3L1125.3 292.3L1126.3 292.3L1127.3 292.3L1128.3 292.3L1129.3 292.3L1130.3 292.3L1131.3 292.3L1132.3 292.3L1133.3 292.3L1134.3 292.3L1135.3 292.3L1136.3 292.3L1137.3 292.3L1138.3 292.3L1139.3 292.3" fill="none" stroke="#F6A962" stroke-width="4" stroke-linejoin="round"/>
<path d="M656.8 291.6L659.3 291.2L661.7 290.8L664.2 290.6L666.7 290.4L669.1 290.3L671.6 290.3L674.1 290.5L676.6 290.7L679 291L681.5 291.2L684 291.3L686.4 291.1L688.9 290.8L691.4 290.5L693.8 290.1L696.3 289.9L698.8 289.9L701.2 290.2L703.7 290.6L706.2 291L708.6 291.2L711.1 291.3L713.6 291L716.1 290.4L718.5 289.8L721 289.2L723.5 288.8L725.9 288.8L728.4 289.2L730.9 289.7L733.3 290.3L735.8 290.8L738.3 291.1L740.7 290.9L743.2 290.1L745.7 289L748.1 287.8L750.6 286.6L753.1 285.9L755.6 285.6L758 285.8L760.5 286.7L763 288.7L765.4 291.4L767.9 293.6L770.4 290.1L772.8 286.2L775.3 282.3L777.8 278.3L780.2 274.6L782.7 272.8L785.2 271.7L787.6 272.4L790.1 273.5L792.6 274.8L795.1 276.3L797.5 272.9L800 265.7L802.5 253.3L804.9 238.5L807.4 224L809.9 207.4L812.3 190.3L814.8 174.4L817.3 159.7L819.7 145.4L822.2 133.3L824.7 124.3L827.1 116.6L829.6 112.9L832.1 111.5L834.6 113.6L837 119.2L839.5 127.2L842 138.3L844.4 151.4L846.9 166.4L849.4 183.3L851.8 199.7L854.3 215.9L856.8 231.5L859.2 246L861.7 260.1L864.2 271.5L866.6 281.7L869.1 290.3L871.6 293.2L874.1 288.7L876.5 285.2L879 283.2L881.5 282.3L883.9 282.7L886.4 283.4L888.9 284.1L891.3 284.6L893.8 285.2L896.3 285.7L898.7 286.1L901.2 286.6L903.7 286.9L906.1 287.1L908.6 287.2L911.1 287.3L913.6 287.5L916 287.6L918.5 287.7L921 287.8L923.4 287.9L925.9 288.1L928.4 288.2L930.8 288.4L933.3 288.5L935.8 288.7L938.2 288.8L940.7 289L943.2 289.1L945.6 289.3L948.1 289.4L950.6 289.5L953.1 289.6L955.5 289.7L958 289.8L960.5 289.9L962.9 290L965.4 290.1L967.9 290.2L970.3 290.2L972.8 290.3L975.3 290.4L977.7 290.4L980.2 290.5L982.7 290.6L985.1 290.6L987.6 290.7L990.1 290.8L992.6 290.8L995 290.9L997.5 291L1000 291L1002.4 291.1L1004.9 291.2L1007.4 291.2L1009.8 291.3L1012.3 291.4L1014.8 291.4L1017.2 291.5L1019.7 291.6L1022.2 291.6L1024.6 291.7L1027.1 291.7L1029.6 291.8L1032.1 291.9L1034.5 291.9L1037 291.9L1039.5 292L1041.9 292L1044.4 292.1L1046.9 292.1L1049.3 292.1L1051.8 292.1L1054.3 292.1L1056.7 292.1L1059.2 292.1L1061.7 292L1064.2 292L1066.6 292L1069.1 292L1071.6 292L1074 292L1076.5 292L1079 292L1081.4 292L1083.9 292L1086.4 292L1088.8 292.1L1091.3 292.1L1093.8 292.1L1096.2 292.1L1098.7 292.1L1101.2 292.1L1103.7 292.2L1106.1 292.2L1108.6 292.2L1111.1 292.2L1113.5 292.2L1116 292.2L1118.5 292.2L1120.9 292.2L1123.4 292.3L1125.9 292.3L1128.3 292.3L1130.8 292.3L1133.3 292.3L1135.7 292.3L1138.2 292.3" fill="none" stroke="none" marker-start="url(#mbo)" marker-mid="url(#mbo)" marker-end="url(#mbo)"/>
<path d="M656.8 373.3L657.8 373.4L658.8 373.5L659.8 373.7L660.8 373.8L661.8 373.9L662.8 374L663.8 374.1L664.8 374.2L665.8 374.2L666.8 374.3L667.8 374.3L668.8 374.4L669.8 374.4L670.8 374.4L671.8 374.4L672.8 374.4L673.8 374.4L674.8 374.3L675.8 374.3L676.8 374.1L677.8 374L678.8 373.9L679.8 373.7L680.8 373.5L681.8 373.4L682.8 373.2L683.8 373L684.8 372.8L685.8 372.7L686.8 372.5L687.8 372.4L688.8 372.2L689.8 372.2L690.8 372.1L691.8 372.1L692.8 372.2L693.8 372.3L694.8 372.5L695.8 372.7L696.8 372.9L697.8 373.2L698.8 373.4L699.8 373.6L700.8 373.9L701.8 374L702.8 374.2L703.8 374.3L704.8 374.3L705.9 374.3L706.9 374.1L707.9 373.9L708.9 373.5L709.9 373L710.9 372.5L711.9 371.9L712.9 371.3L713.9 370.6L714.9 370L715.9 369.3L716.9 368.7L717.9 368.1L718.9 367.6L719.9 367.2L720.9 366.9L721.9 366.7L722.9 366.6L723.9 366.7L724.9 366.9L725.9 367.2L726.9 367.6L727.9 368.1L728.9 368.6L729.9 369.1L730.9 369.6L731.9 370L732.9 370.4L733.9 370.6L734.9 370.7L735.9 370.6L736.9 370.4L737.9 370.1L738.9 369.7L739.9 369.2L740.9 368.8L741.9 368.2L742.9 367.6L743.9 367L744.9 366.4L745.9 365.8L746.9 365.2L747.9 364.6L748.9 364L749.9 363.5L750.9 363L751.9 362.6L752.9 362.2L753.9 361.9L754.9 361.7L755.9 361.6L756.9 361.6L757.9 361.7L758.9 361.8L759.9 362L760.9 362.2L761.9 362.4L762.9 362.6L763.9 362.8L764.9 362.9L765.9 363L766.9 363.1L767.9 363L768.9 362.9L769.9 362.6L770.9 362.2L771.9 361.7L772.9 361.1L773.9 360.3L774.9 359.5L775.9 358.6L776.9 357.7L777.9 356.8L778.9 355.9L779.9 355.1L780.9 354.3L781.9 353.6L782.9 353L783.9 352.5L784.9 352L785.9 351.6L786.9 351.3L787.9 351L788.9 350.8L789.9 350.7L790.9 350.7L791.9 350.7L792.9 350.9L793.9 351.2L794.9 351.6L795.9 352.2L796.9 352.8L797.9 353.5L798.9 354.3L799.9 355.3L800.9 356.3L802 357.4L803 358.5L804 359.6L805 360.7L806 361.8L807 362.9L808 364.1L809 365.2L810 366.4L811 367.6L812 368.6L813 369.5L814 370.1L815 370.5L816 370.5L817 370.3L818 369.9L819 369.3L820 368.6L821 367.9L822 367.1L823 366.3L824 365.4L825 364.5L826 363.6L827 362.7L828 361.7L829 360.7L830 359.7L831 358.7L832 357.6L833 356.5L834 355.3L835 354.1L836 352.7L837 351L838 349.2L839 347.1L840 344.8L841 342.3L842 339.8L843 337.3L844 334.9L845 332.5L846 330.1L847 327.7L848 325.4L849 323.1L850 320.8L851 318.5L852 316.3L853 314.2L854 312.2L855 310.3L856 308.6L857 307.1L858 305.8L859 304.6L860 303.6L861 302.8L862 302.1L863 301.6L864 301.3L865 301.1L866 301.2L867 301.4L868 301.9L869 302.5L870 303.3L871 304.4L872 305.6L873 307.1L874 308.6L875 310.3L876 312.1L877 314L878 316.1L879 318.2L880 320.4L881 322.5L882 324.7L883 326.9L884 329L885 331.2L886 333.3L887 335.4L888 337.5L889 339.6L890 341.6L891 343.5L892 345.3L893 346.9L894 348.5L895 350L896 351.4L897 352.8L898 354L899.1 355.2L900.1 356.3L901.1 357.3L902.1 358.3L903.1 359.2L904.1 360.1L905.1 360.9L906.1 361.7L907.1 362.5L908.1 363.3L909.1 364L910.1 364.7L911.1 365.5L912.1 366.2L913.1 366.9L914.1 367.6L915.1 368.2L916.1 368.9L917.1 369.5L918.1 370.1L919.1 370.8L920.1 371.4L921.1 372.1L922.1 372.7L923.1 373L924.1 373L925.1 372.5L926.1 371.3L927.1 369.7L928.1 368L929.1 366.3L930.1 364.9L931.1 363.6L932.1 362.5L933.1 361.6L934.1 360.8L935.1 360.1L936.1 359.5L937.1 358.9L938.1 358.3L939.1 357.7L940.1 357.2L941.1 356.7L942.1 356.2L943.1 355.8L944.1 355.4L945.1 355.1L946.1 354.8L947.1 354.5L948.1 354.2L949.1 354L950.1 353.9L951.1 353.8L952.1 353.7L953.1 353.6L954.1 353.5L955.1 353.5L956.1 353.4L957.1 353.4L958.1 353.4L959.1 353.4L960.1 353.3L961.1 353.3L962.1 353.3L963.1 353.3L964.1 353.2L965.1 353.2L966.1 353.2L967.1 353.1L968.1 353.1L969.1 353L970.1 352.9L971.1 352.7L972.1 352.6L973.1 352.4L974.1 352.2L975.1 352L976.1 351.7L977.1 351.5L978.1 351.3L979.1 351.1L980.1 350.9L981.1 350.7L982.1 350.6L983.1 350.5L984.1 350.4L985.1 350.3L986.1 350.4L987.1 350.4L988.1 350.5L989.1 350.7L990.1 350.8L991.1 351.1L992.1 351.3L993.1 351.5L994.1 351.8L995.2 352.1L996.2 352.4L997.2 352.7L998.2 353L999.2 353.3L1000.2 353.6L1001.2 353.9L1002.2 354.2L1003.2 354.5L1004.2 354.8L1005.2 355.2L1006.2 355.5L1007.2 355.8L1008.2 356.2L1009.2 356.5L1010.2 356.8L1011.2 357L1012.2 357.2L1013.2 357.2L1014.2 357.2L1015.2 357L1016.2 356.7L1017.2 356.3L1018.2 355.8L1019.2 355.2L1020.2 354.6L1021.2 354L1022.2 353.3L1023.2 352.6L1024.2 351.9L1025.2 351.1L1026.2 350.2L1027.2 349.3L1028.2 348.4L1029.2 347.5L1030.2 346.6L1031.2 345.8L1032.2 345.1L1033.2 344.4L1034.2 343.9L1035.2 343.5L1036.2 343.1L1037.2 342.9L1038.2 342.7L1039.2 342.7L1040.2 342.7L1041.2 342.8L1042.2 343L1043.2 343.3L1044.2 343.7L1045.2 344.3L1046.2 344.9L1047.2 345.7L1048.2 346.5L1049.2 347.5L1050.2 348.5L1051.2 349.5L1052.2 350.6L1053.2 351.8L1054.2 353L1055.2 354.3L1056.2 355.6L1057.2 356.9L1058.2 358.4L1059.2 359.8L1060.2 361.3L1061.2 362.9L1062.2 364.4L1063.2 365.9L1064.2 367.4L1065.2 368.8L1066.2 370.2L1067.2 371.4L1068.2 372.5L1069.2 373.2L1070.2 373.1L1071.2 372.2L1072.2 370.8L1073.2 369.1L1074.2 367.4L1075.2 365.9L1076.2 364.4L1077.2 363L1078.2 361.7L1079.2 360.5L1080.2 359.3L1081.2 358.2L1082.2 357.2L1083.2 356.3L1084.2 355.5L1085.2 354.8L1086.2 354.1L1087.2 353.5L1088.2 352.9L1089.2 352.4L1090.2 351.9L1091.3 351.5L1092.3 351.1L1093.3 350.7L1094.3 350.4L1095.3 350.2L1096.3 350L1097.3 350L1098.3 350L1099.3 350L1100.3 350.2L1101.3 350.4L1102.3 350.7L1103.3 351.1L1104.3 351.6L1105.3 352.1L1106.3 352.7L1107.3 353.4L1108.3 354.2L1109.3 354.9L1110.3 355.7L1111.3 356.5L1112.3 357.4L1113.3 358.2L1114.3 359.1L1115.3 360L1116.3 360.9L1117.3 361.9L1118.3 362.9L1119.3 363.9L1120.3 364.9L1121.3 365.9L1122.3 366.9L1123.3 367.9L1124.3 368.9L1125.3 369.8L1126.3 370.8L1127.3 371.6L1128.3 372.4L1129.3 373L1130.3 373.5L1131.3 373.8L1132.3 373.9L1133.3 374L1134.3 373.9L1135.3 373.7L1136.3 373.5L1137.3 373.1L1138.3 372.8L1139.3 372.5" fill="none" stroke="#DC9AC0" stroke-width="4" stroke-linejoin="round"/>
<path d="M656.8 373.2L659.3 373.6L661.7 373.9L664.2 374.1L666.7 374.3L669.1 374.4L671.6 374.4L674.1 374.4L676.6 374.2L679 373.9L681.5 373.4L684 373L686.4 372.5L688.9 372.2L691.4 372.1L693.8 372.3L696.3 372.8L698.8 373.4L701.2 374L703.7 374.3L706.2 374.3L708.6 373.7L711.1 372.4L713.6 370.8L716.1 369.2L718.5 367.7L721 366.7L723.5 366.5L725.9 367.2L728.4 368.4L730.9 369.7L733.3 370.6L735.8 370.7L738.3 370L740.7 368.9L743.2 367.5L745.7 365.9L748.1 364.4L750.6 363.1L753.1 362.1L755.6 361.6L758 361.6L760.5 362.1L763 362.6L765.4 363L767.9 363.1L770.4 362.6L772.8 361.2L775.3 359.2L777.8 357L780.2 354.8L782.7 353.1L785.2 351.9L787.6 351L790.1 350.6L792.6 350.8L795.1 351.6L797.5 353.1L800 355.3L802.5 358L804.9 360.7L807.4 363.4L809.9 366.3L812.3 369.2L814.8 370.7L817.3 370.3L819.7 368.8L822.2 366.9L824.7 364.8L827.1 362.5L829.6 360.1L832.1 357.5L834.6 354.7L837 351.2L839.5 346L842 339.9L844.4 333.8L846.9 328L849.4 322.2L851.8 316.7L854.3 311.5L856.8 307.3L859.2 304.3L861.7 302.2L864.2 301.1L866.6 301.2L869.1 302.4L871.6 304.9L874.1 308.6L876.5 312.9L879 318.1L881.5 323.5L883.9 328.8L886.4 334.1L888.9 339.3L891.3 344.2L893.8 348.1L896.3 351.8L898.7 354.9L901.2 357.5L903.7 359.8L906.1 361.8L908.6 363.7L911.1 365.5L913.6 367.2L916 368.9L918.5 370.5L921 371.9L923.4 372.6L925.9 372.8L928.4 372.9L930.8 372.9L933.3 372.9L935.8 373L938.2 373.2L940.7 373.5L943.2 373.7L945.6 373.9L948.1 374.1L950.6 374.2L953.1 374.2L955.5 374L958 373.7L960.5 373.4L962.9 373.3L965.4 373.2L967.9 373.3L970.3 373.6L972.8 373.9L975.3 374.2L977.7 374.4L980.2 374.5L982.7 374.4L985.1 374.2L987.6 373.9L990.1 373.6L992.6 373.4L995 373.3L997.5 373.4L1000 373.6L1002.4 373.9L1004.9 374.2L1007.4 374.5L1009.8 374.6L1012.3 374.5L1014.8 374.3L1017.2 374L1019.7 373.7L1022.2 373.5L1024.6 373.4L1027.1 373.5L1029.6 373.7L1032.1 374L1034.5 374.4L1037 374.6L1039.5 374.8L1041.9 374.8L1044.4 374.6L1046.9 374.3L1049.3 374L1051.8 373.7L1054.3 373.6L1056.7 373.7L1059.2 373.9L1061.7 374.2L1064.2 374.5L1066.6 374.8L1069.1 375L1071.6 375L1074 374.8L1076.5 374.5L1079 374.2L1081.4 373.9L1083.9 373.7L1086.4 373.7L1088.8 373.9L1091.3 374.2L1093.8 374.5L1096.2 374.8L1098.7 375L1101.2 375L1103.7 374.8L1106.1 374.6L1108.6 374.3L1111.1 374L1113.5 373.8L1116 373.7L1118.5 373.8L1120.9 374.1L1123.4 374.4L1125.9 374.6L1128.3 374.8L1130.8 374.8L1133.3 374.5L1135.7 373.9L1138.2 373.2" fill="none" stroke="none" marker-start="url(#mbp)" marker-mid="url(#mbp)" marker-end="url(#mbp)"/>
<path d="M656.8 512.4L657.8 512.1L658.8 511.8L659.8 511.4L660.8 511L661.8 510.7L662.8 510.4L663.8 510.1L664.8 509.9L665.8 509.7L666.8 509.6L667.8 509.4L668.8 509.4L669.8 509.3L670.8 509.4L671.8 509.5L672.8 509.6L673.8 509.8L674.8 510.1L675.8 510.4L676.8 510.7L677.8 511L678.8 511.4L679.8 511.7L680.8 512L681.8 512.2L682.8 512.4L683.8 512.6L684.8 512.6L685.8 512.6L686.8 512.5L687.8 512.4L688.8 512.2L689.8 511.9L690.8 511.6L691.8 511.4L692.8 511.1L693.8 510.8L694.8 510.6L695.8 510.4L696.8 510.3L697.8 510.3L698.8 510.4L699.8 510.7L700.8 511L701.8 511.4L702.8 511.8L703.8 512.2L704.8 512.5L705.9 512.7L706.9 512.7L707.9 512.6L708.9 512.2L709.9 511.7L710.9 511L711.9 510.2L712.9 509.3L713.9 508.5L714.9 507.6L715.9 506.9L716.9 506.3L717.9 505.7L718.9 505.2L719.9 504.8L720.9 504.4L721.9 504L722.9 503.7L723.9 503.5L724.9 503.5L725.9 503.5L726.9 503.7L727.9 503.9L728.9 504.2L729.9 504.5L730.9 504.9L731.9 505.3L732.9 505.7L733.9 506.1L734.9 506.5L735.9 507L736.9 507.5L737.9 508.1L738.9 508.6L739.9 508.9L740.9 509L741.9 508.6L742.9 507.8L743.9 506.7L744.9 505.4L745.9 504L746.9 502.5L747.9 501.1L748.9 499.7L749.9 498.3L750.9 496.8L751.9 495.3L752.9 493.9L753.9 492.5L754.9 491.2L755.9 490L756.9 489L757.9 488.2L758.9 487.5L759.9 486.9L760.9 486.5L761.9 486.2L762.9 486L763.9 485.9L764.9 486L765.9 486.2L766.9 486.5L767.9 487L768.9 487.6L769.9 488.4L770.9 489.2L771.9 490.2L772.9 491.4L773.9 492.6L774.9 493.8L775.9 495.1L776.9 496.4L777.9 497.7L778.9 499L779.9 500.4L780.9 501.7L781.9 503.1L782.9 504.5L783.9 505.9L784.9 507.3L785.9 508.7L786.9 510.1L787.9 511.2L788.9 512L789.9 512.2L790.9 511.8L791.9 511L792.9 510.1L793.9 509.1L794.9 508.2L795.9 507.2L796.9 506.1L797.9 504.9L798.9 503.6L799.9 502.2L800.9 500.5L802 498.7L803 496.8L804 494.7L805 492.5L806 490.1L807 487.5L808 484.6L809 481.2L810 477.5L811 473.6L812 469.7L813 465.7L814 461.6L815 457.6L816 453.6L817 449.6L818 445.7L819 441.8L820 437.9L821 434.1L822 430.4L823 426.7L824 423L825 419.4L826 416L827 412.7L828 409.6L829 406.8L830 404.2L831 401.9L832 399.9L833 398L834 396.4L835 395L836 393.8L837 392.8L838 392.1L839 391.6L840 391.4L841 391.6L842 392L843 392.6L844 393.4L845 394.4L846 395.7L847 397.1L848 398.8L849 400.9L850 403.3L851 405.9L852 408.8L853 411.9L854 415.1L855 418.4L856 421.9L857 425.4L858 428.9L859 432.5L860 436L861 439.5L862 443L863 446.5L864 449.9L865 453.4L866 456.8L867 460.2L868 463.6L869 466.9L870 470.3L871 473.5L872 476.7L873 479.8L874 482.7L875 485.6L876 488.3L877 490.9L878 493.3L879 495.7L880 497.9L881 500L882 501.9L883 503.8L884 505.4L885 506.9L886 508L887 508.7L888 508.8L889 508.2L890 507.3L891 506L892 504.7L893 503.3L894 501.9L895 500.6L896 499.3L897 498L898 496.8L899.1 495.6L900.1 494.4L901.1 493.2L902.1 492.1L903.1 491L904.1 490L905.1 489.2L906.1 488.5L907.1 487.8L908.1 487.3L909.1 486.8L910.1 486.4L911.1 486L912.1 485.7L913.1 485.5L914.1 485.5L915.1 485.6L916.1 485.7L917.1 485.9L918.1 486.2L919.1 486.4L920.1 486.7L921.1 487L922.1 487.3L923.1 487.6L924.1 487.9L925.1 488.3L926.1 488.6L927.1 488.9L928.1 489.3L929.1 489.7L930.1 490L931.1 490.4L932.1 490.8L933.1 491.2L934.1 491.6L935.1 492L936.1 492.4L937.1 492.7L938.1 493.1L939.1 493.5L940.1 493.8L941.1 494.1L942.1 494.4L943.1 494.6L944.1 494.8L945.1 495L946.1 495.2L947.1 495.4L948.1 495.5L949.1 495.6L950.1 495.7L951.1 495.7L952.1 495.8L953.1 495.8L954.1 495.9L955.1 495.9L956.1 495.9L957.1 495.9L958.1 495.9L959.1 495.8L960.1 495.8L961.1 495.7L962.1 495.6L963.1 495.5L964.1 495.3L965.1 495.1L966.1 494.9L967.1 494.6L968.1 494.2L969.1 493.8L970.1 493.4L971.1 492.9L972.1 492.4L973.1 491.9L974.1 491.4L975.1 490.8L976.1 490.3L977.1 489.8L978.1 489.3L979.1 488.8L980.1 488.3L981.1 487.8L982.1 487.4L983.1 486.9L984.1 486.5L985.1 486L986.1 485.6L987.1 485.2L988.1 484.8L989.1 484.4L990.1 484.1L991.1 483.7L992.1 483.4L993.1 483.2L994.1 483.1L995.2 483L996.2 483L997.2 483L998.2 483.1L999.2 483.2L1000.2 483.4L1001.2 483.6L1002.2 483.9L1003.2 484.2L1004.2 484.6L1005.2 485.1L1006.2 485.7L1007.2 486.3L1008.2 487L1009.2 487.6L1010.2 488.3L1011.2 489L1012.2 489.7L1013.2 490.3L1014.2 491L1015.2 491.7L1016.2 492.3L1017.2 492.9L1018.2 493.6L1019.2 494.2L1020.2 494.8L1021.2 495.4L1022.2 496L1023.2 496.6L1024.2 497.1L1025.2 497.6L1026.2 498.1L1027.2 498.4L1028.2 498.7L1029.2 498.8L1030.2 498.9L1031.2 499L1032.2 498.9L1033.2 498.8L1034.2 498.7L1035.2 498.5L1036.2 498.3L1037.2 498.1L1038.2 498L1039.2 497.8L1040.2 497.7L1041.2 497.6L1042.2 497.6L1043.2 497.6L1044.2 497.6L1045.2 497.6L1046.2 497.7L1047.2 497.8L1048.2 497.9L1049.2 498L1050.2 498.3L1051.2 498.5L1052.2 498.7L1053.2 499L1054.2 499.3L1055.2 499.7L1056.2 500L1057.2 500.4L1058.2 500.8L1059.2 501.3L1060.2 501.8L1061.2 502.3L1062.2 502.7L1063.2 503.2L1064.2 503.7L1065.2 504.2L1066.2 504.7L1067.2 505.2L1068.2 505.7L1069.2 506.2L1070.2 506.7L1071.2 507.2L1072.2 507.7L1073.2 508.2L1074.2 508.7L1075.2 509.2L1076.2 509.7L1077.2 510.2L1078.2 510.7L1079.2 511.1L1080.2 511.5L1081.2 511.7L1082.2 511.9L1083.2 512.1L1084.2 512.1L1085.2 512.2L1086.2 512.2L1087.2 512.2L1088.2 512.2L1089.2 512.2L1090.2 512.2L1091.3 512.2L1092.3 512.2L1093.3 512.2L1094.3 512.2L1095.3 512.2L1096.3 512.2L1097.3 512.3L1098.3 512.3L1099.3 512.3L1100.3 512.3L1101.3 512.3L1102.3 512.3L1103.3 512.3L1104.3 512.3L1105.3 512.3L1106.3 512.3L1107.3 512.3L1108.3 512.3L1109.3 512.3L1110.3 512.3L1111.3 512.3L1112.3 512.3L1113.3 512.3L1114.3 512.3L1115.3 512.3L1116.3 512.3L1117.3 512.3L1118.3 512.3L1119.3 512.3L1120.3 512.3L1121.3 512.3L1122.3 512.3L1123.3 512.3L1124.3 512.3L1125.3 512.4L1126.3 512.4L1127.3 512.4L1128.3 512.4L1129.3 512.4L1130.3 512.4L1131.3 512.4L1132.3 512.4L1133.3 512.4L1134.3 512.4L1135.3 512.4L1136.3 512.4L1137.3 512.4L1138.3 512.4L1139.3 512.4" fill="none" stroke="#08ADAD" stroke-width="4" stroke-linejoin="round"/>
<path d="M656.8 512.7L659.3 511.6L661.7 510.7L664.2 510L666.7 509.5L669.1 509.3L671.6 509.4L674.1 509.9L676.6 510.6L679 511.4L681.5 512.2L684 512.6L686.4 512.6L688.9 512.2L691.4 511.5L693.8 510.8L696.3 510.3L698.8 510.3L701.2 511.2L703.7 512.2L706.2 512.8L708.6 512.5L711.1 510.9L713.6 508.7L716.1 506.7L718.5 505.4L721 504.3L723.5 503.5L725.9 503.4L728.4 504L730.9 504.9L733.3 505.8L735.8 506.8L738.3 508.4L740.7 509.3L743.2 507.7L745.7 504.3L748.1 500.8L750.6 497.2L753.1 493.6L755.6 490.3L758 488L760.5 486.6L763 485.9L765.4 486L767.9 486.9L770.4 488.7L772.8 491.2L775.3 494.3L777.8 497.5L780.2 500.8L782.7 504.2L785.2 507.7L787.6 511.1L790.1 512.6L792.6 510.4L795.1 508.1L797.5 505.5L800 502.2L802.5 497.9L804.9 492.7L807.4 486.6L809.9 478L812.3 468.2L814.8 458.3L817.3 448.4L819.7 438.7L822.2 429.5L824.7 420.4L827.1 411.9L829.6 404.9L832.1 399.5L834.6 395.4L837 392.6L839.5 391.2L842 391.9L844.4 393.7L846.9 396.8L849.4 401.5L851.8 408.2L854.3 416L856.8 424.5L859.2 433.3L861.7 442L864.2 450.5L866.6 459L869.1 467.3L871.6 475.4L874.1 482.9L876.5 489.7L879 495.6L881.5 500.9L883.9 505.4L886.4 508.8L888.9 508.4L891.3 506.9L893.8 506.5L896.3 506.4L898.7 506.4L901.2 506.4L903.7 506.4L906.1 506.6L908.6 506.7L911.1 506.8L913.6 506.9L916 507L918.5 507.1L921 507.2L923.4 507.4L925.9 507.6L928.4 507.7L930.8 507.9L933.3 508.1L935.8 508.3L938.2 508.5L940.7 508.7L943.2 508.9L945.6 509.1L948.1 509.3L950.6 509.5L953.1 509.7L955.5 509.8L958 509.9L960.5 510.1L962.9 510.2L965.4 510.3L967.9 510.4L970.3 510.5L972.8 510.6L975.3 510.7L977.7 510.8L980.2 510.9L982.7 511L985.1 511.1L987.6 511.2L990.1 511.2L992.6 511.3L995 511.4L997.5 511.4L1000 511.5L1002.4 511.5L1004.9 511.6L1007.4 511.6L1009.8 511.6L1012.3 511.7L1014.8 511.7L1017.2 511.7L1019.7 511.8L1022.2 511.8L1024.6 511.8L1027.1 511.8L1029.6 511.9L1032.1 511.9L1034.5 511.9L1037 511.9L1039.5 512L1041.9 512L1044.4 512L1046.9 512L1049.3 512L1051.8 512.1L1054.3 512.1L1056.7 512.1L1059.2 512.1L1061.7 512.1L1064.2 512.1L1066.6 512.1L1069.1 512.2L1071.6 512.2L1074 512.2L1076.5 512.2L1079 512.2L1081.4 512.2L1083.9 512.2L1086.4 512.2L1088.8 512.3L1091.3 512.3L1093.8 512.3L1096.2 512.3L1098.7 512.3L1101.2 512.3L1103.7 512.3L1106.1 512.3L1108.6 512.3L1111.1 512.3L1113.5 512.3L1116 512.4L1118.5 512.4L1120.9 512.4L1123.4 512.4L1125.9 512.4L1128.3 512.4L1130.8 512.4L1133.3 512.4L1135.7 512.4L1138.2 512.4" fill="none" stroke="none" marker-start="url(#mbt)" marker-mid="url(#mbt)" marker-end="url(#mbt)"/>
<path d="M656.8 588L657.8 588.2L658.8 588.3L659.8 588.5L660.8 588.7L661.8 588.9L662.8 589L663.8 589.1L664.8 589.2L665.8 589.3L666.8 589.4L667.8 589.4L668.8 589.5L669.8 589.5L670.8 589.5L671.8 589.5L672.8 589.5L673.8 589.5L674.8 589.4L675.8 589.2L676.8 589.1L677.8 588.9L678.8 588.6L679.8 588.4L680.8 588.1L681.8 587.9L682.8 587.6L683.8 587.4L684.8 587.3L685.8 587.1L686.8 587.1L687.8 587L688.8 587.1L689.8 587.2L690.8 587.3L691.8 587.5L692.8 587.7L693.8 588L694.8 588.2L695.8 588.5L696.8 588.7L697.8 588.9L698.8 589.1L699.8 589.3L700.8 589.4L701.8 589.5L702.8 589.5L703.8 589.5L704.8 589.3L705.9 589.2L706.9 589L707.9 588.8L708.9 588.5L709.9 588.3L710.9 588L711.9 587.7L712.9 587.5L713.9 587.2L714.9 587L715.9 586.8L716.9 586.6L717.9 586.4L718.9 586.4L719.9 586.3L720.9 586.3L721.9 586.3L722.9 586.3L723.9 586.4L724.9 586.4L725.9 586.4L726.9 586.4L727.9 586.4L728.9 586.3L729.9 586.2L730.9 586.1L731.9 585.9L732.9 585.6L733.9 585.2L734.9 584.8L735.9 584.4L736.9 583.9L737.9 583.3L738.9 582.8L739.9 582.2L740.9 581.5L741.9 580.9L742.9 580.2L743.9 579.5L744.9 578.8L745.9 578.1L746.9 577.4L747.9 576.6L748.9 575.8L749.9 575.1L750.9 574.3L751.9 573.5L752.9 572.8L753.9 572.1L754.9 571.5L755.9 570.9L756.9 570.4L757.9 569.9L758.9 569.5L759.9 569.1L760.9 568.9L761.9 568.7L762.9 568.6L763.9 568.5L764.9 568.6L765.9 568.7L766.9 568.9L767.9 569.2L768.9 569.5L769.9 569.8L770.9 570.2L771.9 570.6L772.9 571.1L773.9 571.7L774.9 572.4L775.9 573.2L776.9 574L777.9 574.9L778.9 575.8L779.9 576.7L780.9 577.7L781.9 578.7L782.9 579.7L783.9 580.7L784.9 581.8L785.9 582.8L786.9 583.9L787.9 584.8L788.9 585.6L789.9 586L790.9 585.9L791.9 585.4L792.9 584.5L793.9 583.4L794.9 582.3L795.9 581.1L796.9 579.8L797.9 578.5L798.9 577L799.9 575.5L800.9 574L802 572.4L803 570.6L804 568.8L805 567L806 565L807 563L808 560.9L809 558.9L810 556.9L811 554.9L812 553L813 551L814 549.1L815 547.3L816 545.4L817 543.5L818 541.7L819 539.8L820 538L821 536.2L822 534.5L823 532.8L824 531.1L825 529.5L826 528.1L827 526.7L828 525.4L829 524.2L830 523.1L831 522.1L832 521.1L833 520.2L834 519.4L835 518.7L836 518.2L837 517.9L838 517.7L839 517.7L840 517.7L841 517.9L842 518.3L843 518.7L844 519.3L845 520L846 521L847 522L848 523.2L849 524.4L850 525.8L851 527.2L852 528.7L853 530.3L854 531.9L855 533.6L856 535.3L857 537.1L858 538.9L859 540.7L860 542.5L861 544.4L862 546.3L863 548.2L864 550.1L865 551.9L866 553.8L867 555.7L868 557.6L869 559.4L870 561.3L871 563.1L872 565L873 566.8L874 568.6L875 570.4L876 572.1L877 573.8L878 575.4L879 576.9L880 578.3L881 579.6L882 580.7L883 581.8L884 582.7L885 583.6L886 584.5L887 585.4L888 586.2L889 586.6L890 586.5L891 585.6L892 584.2L893 582.9L894 582L895 581.2L896 580.6L897 579.9L898 579.2L899.1 578.4L900.1 577.7L901.1 577L902.1 576.3L903.1 575.6L904.1 575L905.1 574.3L906.1 573.7L907.1 573.1L908.1 572.5L909.1 571.9L910.1 571.4L911.1 570.9L912.1 570.5L913.1 570.1L914.1 569.8L915.1 569.5L916.1 569.3L917.1 569.1L918.1 568.9L919.1 568.8L920.1 568.8L921.1 568.7L922.1 568.7L923.1 568.7L924.1 568.7L925.1 568.7L926.1 568.7L927.1 568.8L928.1 568.8L929.1 568.8L930.1 568.8L931.1 568.8L932.1 568.9L933.1 568.9L934.1 568.9L935.1 568.9L936.1 569L937.1 569L938.1 569.1L939.1 569.1L940.1 569.2L941.1 569.2L942.1 569.3L943.1 569.4L944.1 569.4L945.1 569.5L946.1 569.6L947.1 569.7L948.1 569.7L949.1 569.8L950.1 569.9L951.1 569.9L952.1 570L953.1 570.1L954.1 570.2L955.1 570.2L956.1 570.3L957.1 570.4L958.1 570.5L959.1 570.6L960.1 570.7L961.1 570.8L962.1 570.9L963.1 571L964.1 571.1L965.1 571.2L966.1 571.3L967.1 571.4L968.1 571.5L969.1 571.6L970.1 571.7L971.1 571.8L972.1 571.9L973.1 571.9L974.1 572L975.1 572L976.1 572L977.1 572L978.1 572L979.1 571.9L980.1 571.8L981.1 571.8L982.1 571.7L983.1 571.6L984.1 571.5L985.1 571.4L986.1 571.3L987.1 571.2L988.1 571.1L989.1 571L990.1 570.9L991.1 570.8L992.1 570.7L993.1 570.6L994.1 570.5L995.2 570.4L996.2 570.3L997.2 570.2L998.2 570.1L999.2 570L1000.2 570L1001.2 570L1002.2 570.1L1003.2 570.2L1004.2 570.3L1005.2 570.5L1006.2 570.7L1007.2 570.9L1008.2 571.2L1009.2 571.5L1010.2 571.8L1011.2 572.1L1012.2 572.4L1013.2 572.7L1014.2 573.1L1015.2 573.5L1016.2 573.8L1017.2 574.2L1018.2 574.6L1019.2 575L1020.2 575.3L1021.2 575.7L1022.2 576L1023.2 576.4L1024.2 576.7L1025.2 577.1L1026.2 577.4L1027.2 577.7L1028.2 578.1L1029.2 578.4L1030.2 578.7L1031.2 579L1032.2 579.2L1033.2 579.4L1034.2 579.5L1035.2 579.7L1036.2 579.7L1037.2 579.8L1038.2 579.9L1039.2 580L1040.2 580L1041.2 580.1L1042.2 580.1L1043.2 580.2L1044.2 580.2L1045.2 580.3L1046.2 580.3L1047.2 580.4L1048.2 580.4L1049.2 580.5L1050.2 580.5L1051.2 580.5L1052.2 580.6L1053.2 580.6L1054.2 580.6L1055.2 580.7L1056.2 580.7L1057.2 580.7L1058.2 580.8L1059.2 580.8L1060.2 580.9L1061.2 581L1062.2 581.1L1063.2 581.2L1064.2 581.4L1065.2 581.6L1066.2 581.8L1067.2 582L1068.2 582.2L1069.2 582.4L1070.2 582.7L1071.2 582.9L1072.2 583.2L1073.2 583.4L1074.2 583.7L1075.2 583.9L1076.2 584.2L1077.2 584.4L1078.2 584.7L1079.2 584.9L1080.2 585.2L1081.2 585.4L1082.2 585.7L1083.2 586L1084.2 586.2L1085.2 586.5L1086.2 586.7L1087.2 587L1088.2 587.2L1089.2 587.4L1090.2 587.6L1091.3 587.8L1092.3 588L1093.3 588.1L1094.3 588.3L1095.3 588.4L1096.3 588.5L1097.3 588.6L1098.3 588.7L1099.3 588.8L1100.3 588.8L1101.3 588.8L1102.3 588.9L1103.3 588.9L1104.3 588.9L1105.3 588.9L1106.3 589L1107.3 589L1108.3 589L1109.3 589.1L1110.3 589.1L1111.3 589.1L1112.3 589.1L1113.3 589.1L1114.3 589.2L1115.3 589.2L1116.3 589.2L1117.3 589.2L1118.3 589.3L1119.3 589.3L1120.3 589.3L1121.3 589.3L1122.3 589.3L1123.3 589.4L1124.3 589.4L1125.3 589.4L1126.3 589.4L1127.3 589.5L1128.3 589.5L1129.3 589.5L1130.3 589.5L1131.3 589.5L1132.3 589.6L1133.3 589.6L1134.3 589.6L1135.3 589.6L1136.3 589.6L1137.3 589.7L1138.3 589.7L1139.3 589.7" fill="none" stroke="#DC6E73" stroke-width="4" stroke-linejoin="round"/>
<path d="M656.8 587.9L659.3 588.4L661.7 588.9L664.2 589.2L666.7 589.4L669.1 589.5L671.6 589.5L674.1 589.5L676.6 589.1L679 588.6L681.5 587.9L684 587.4L686.4 587L688.9 587L691.4 587.4L693.8 588L696.3 588.6L698.8 589.2L701.2 589.5L703.7 589.5L706.2 589.1L708.6 588.6L711.1 587.9L713.6 587.3L716.1 586.7L718.5 586.4L721 586.3L723.5 586.3L725.9 586.4L728.4 586.4L730.9 586.1L733.3 585.5L735.8 584.5L738.3 583.2L740.7 581.6L743.2 580L745.7 578.3L748.1 576.4L750.6 574.5L753.1 572.7L755.6 571.1L758 569.8L760.5 568.9L763 568.5L765.4 568.6L767.9 569.2L770.4 570L772.8 571L775.3 572.6L777.8 574.7L780.2 577L782.7 579.4L785.2 582L787.6 584.6L790.1 586.5L792.6 585L795.1 582.2L797.5 579.1L800 575.5L802.5 571.6L804.9 567.1L807.4 562.1L809.9 557L812.3 552.2L814.8 547.6L817.3 543L819.7 538.4L822.2 534.1L824.7 529.9L827.1 526.4L829.6 523.5L832.1 520.9L834.6 518.9L837 517.8L839.5 517.6L842 518.1L844.4 519.5L846.9 521.8L849.4 524.9L851.8 528.3L854.3 532.4L856.8 536.7L859.2 541.1L861.7 545.7L864.2 550.4L866.6 555L869.1 559.6L871.6 564.2L874.1 568.7L876.5 573L879 576.9L881.5 580.2L883.9 582.8L886.4 584.9L888.9 586.7L891.3 587.8L893.8 587.9L896.3 587.3L898.7 586.7L901.2 586.6L903.7 586.7L906.1 586.8L908.6 586.9L911.1 587.1L913.6 587.3L916 587.5L918.5 587.7L921 587.9L923.4 588L925.9 588L928.4 588.1L930.8 588.1L933.3 588.1L935.8 588.2L938.2 588.2L940.7 588.2L943.2 588.3L945.6 588.3L948.1 588.3L950.6 588.4L953.1 588.4L955.5 588.4L958 588.5L960.5 588.5L962.9 588.5L965.4 588.6L967.9 588.6L970.3 588.6L972.8 588.7L975.3 588.7L977.7 588.8L980.2 588.8L982.7 588.8L985.1 588.9L987.6 588.9L990.1 588.9L992.6 588.9L995 589L997.5 589L1000 589L1002.4 589L1004.9 589L1007.4 589L1009.8 589.1L1012.3 589.1L1014.8 589.1L1017.2 589.1L1019.7 589.1L1022.2 589.1L1024.6 589.1L1027.1 589.1L1029.6 589.1L1032.1 589.2L1034.5 589.2L1037 589.2L1039.5 589.2L1041.9 589.2L1044.4 589.2L1046.9 589.2L1049.3 589.2L1051.8 589.3L1054.3 589.3L1056.7 589.3L1059.2 589.3L1061.7 589.3L1064.2 589.3L1066.6 589.3L1069.1 589.3L1071.6 589.4L1074 589.4L1076.5 589.4L1079 589.4L1081.4 589.4L1083.9 589.4L1086.4 589.4L1088.8 589.4L1091.3 589.5L1093.8 589.5L1096.2 589.5L1098.7 589.5L1101.2 589.5L1103.7 589.5L1106.1 589.5L1108.6 589.5L1111.1 589.6L1113.5 589.6L1116 589.6L1118.5 589.6L1120.9 589.6L1123.4 589.6L1125.9 589.6L1128.3 589.6L1130.8 589.7L1133.3 589.7L1135.7 589.7L1138.2 589.7" fill="none" stroke="none" marker-start="url(#mbr)" marker-mid="url(#mbr)" marker-end="url(#mbr)"/>
<rect x="738.4" y="53.9" width="46.6" height="558.5" fill="#E1CAE8" fill-opacity="0.3"/>
<rect x="805.9" y="53.9" width="83.6" height="558.5" fill="#9EDACD" fill-opacity="0.3"/>
</g>
<rect x="656.8" y="53.9" width="482.5" height="562.5" fill="none" stroke="#000" stroke-width="3.2"/>
<path d="M656.8 616.4v7M817.6 616.4v7M978.5 616.4v7M1139.3 616.4v7" stroke="#000" stroke-width="3.2" fill="none"/>
<path d="M737.2 616.4v4.2M898 616.4v4.2M1058.9 616.4v4.2" stroke="#000" stroke-width="3.2" fill="none"/>
<text x="656.8" y="658" font-size="27.1" text-anchor="middle">0</text>
<text x="817.6" y="658" font-size="27.1" text-anchor="middle">2</text>
<text x="978.5" y="658" font-size="27.1" text-anchor="middle">4</text>
<text x="1139.3" y="658" font-size="27.1" text-anchor="middle">6</text>
<text x="890.5" y="703.5" font-size="28.5" text-anchor="middle">R+ΔR(Å)</text>
<text transform="translate(634.3 333) rotate(-90)" font-size="29.2" text-anchor="middle">|FT(<tspan font-style="italic">k</tspan><tspan font-size="20.5" dy="-13">3</tspan><tspan dy="13">&#8203;</tspan>χ(<tspan font-style="italic">k</tspan>))| (Å<tspan font-size="20.5" dy="-13">−4</tspan><tspan dy="13">&#8203;</tspan>)</text>
<text x="596" y="30.7" font-size="41.5" font-weight="bold">b</text>
<text x="724.5" y="78.1" font-size="25.2">Co–N</text>
<text x="808" y="78.1" font-size="25.2">Co–Co</text>
<text x="1011.5" y="248" font-size="25.2" fill="#F6A962">Co foil</text>
<text x="1012.3" y="332.8" font-size="25.2" fill="#DC9AC0">CoO</text>
<text x="1011.5" y="468.4" font-size="25.2" fill="#08ADAD">Co<tspan font-size="17" dy="9">3</tspan><tspan dy="-9">&#8203;</tspan>N</text>
<text x="982.5" y="558.6" font-size="25.2" fill="#DC6E73">PW–Co<tspan font-size="17" dy="9">3</tspan><tspan dy="-9">&#8203;</tspan>N</text>
<!-- panel_c -->
<defs><filter id="hblur" filterUnits="userSpaceOnUse" x="1280" y="0" width="530" height="1488" color-interpolation-filters="sRGB"><feGaussianBlur stdDeviation="1.6"/></filter><clipPath id="clc"><rect x="1296.6" y="30" width="488.2" height="256.3"/></clipPath></defs>
<g clip-path="url(#clc)">
<g filter="url(#hblur)">
<rect x="1292.6" y="26" width="496.2" height="264.3" fill="#31389E"/>
<path fill="#2C42A8" d="M1365.3 26l20.5-2 374.9 0 1.1 12 2.7 18 0.1 16 1.2 16-0.6 16 0.2 4 2.6 14 1.9 16 2.5 12 1.4 12 2.8 13.4 2 7.3 8.5 23.3 2.8 6 2.7 4.3 0 79.7-502 0 0-194.6 8.3-25.4 5.1-20 3-6 3.3-4 4.3-3.4 4-2.4 10-4.2 16.3-4 19.7-3.9zM1650.6 217.8l-0.6 0.2-0.5 2 4.4 2 6.7 0.7 4-0.6 2.9-2.1-1.4-2-1.5-0.6-4-1.3-2 0-6 1.2z"/>
<path fill="#274CB2" d="M1410.7 26l4.7-2 336 0 0.8 14 3.3 20 0.7 12 1.5 16 0.9 20 6.8 46 1 14-0.1 16 0.5 6 3.1 20 1.1 4 1.6 3.1 2 2.9 8 8.5 2.4 3.5 3 8 4.6 17.5 0 38.5-502 0 0-140.3 2.6-17.7 1.6-8 3-10 4.8-12.2 6-11.9 16-27 6-7.8 8-7.3 5.5-3.8 10.2-6 6.3-3.1 6-2.5 6-1.5 20-3.4 8-2.1 10-3.4zM1480.6 225.8l-0.4 0.2 0.9 2 1.5 0.5 2 0.2 3.2-0.7 0.6-2-3.8-1.5-2 0.3zM1650.6 214l-6 1.6-0.9 0.4-2 2-0.1 2 1.6 2 3.6 2 5.8 1.6 6 0.7 8 0 4-0.5 4-1.2 11.6-4.6-2.9-2-2.7-0.5-4.5-1.5-9.9-2-5.6-0.7-8 0.4z"/>
<path fill="#2256BC" d="M1424.2 26l2.4-2 318 0 1 14 2.9 14 1.2 8 3.7 44 6.2 44 1 14-0.3 10-1.4 12-0.6 12-0.6 4-2.5 6-7.3 10-0.3 2 1.2 2 7.8 3 4 2.1 4 2.8 4.5 4.1 2.9 4 2.5 6 3.4 16 5.9 16 5.2 20-498.4 0 0-71.4 1.6-8.6 1.9-26 4-26 4.4-24 2.8-10 5-12 5.7-10 6.6-8.9 4-4.3 14-13.4 16.9-19.4 5.1-5.2 4-3.5 4.8-3.3 5.2-2.6 26-8.9 12-4.9 8-4.5zM1476.6 223.9l-3 2.1 0.6 2 3.9 2 6.5 1 6.7-1 3.5-2 0.1-2-3.2-2-7.1-1.5-6 0.8zM1650.6 211.9l-8 1.6-4.7 2.5-1.7 2-0.2 2 1.2 2 2.8 2 4.2 2 6.4 2 12 1.4 8 0 10-1.9 12-0.8 8-1.4 13.9-5.3 2.4-2-0.6-2-3.7-2-10-1.8-10 1.1-10 0.2-20-2.1-10 0.3z"/>
<path fill="#1D5FC5" d="M1431.9 26l1.8-2 305.4 0 1.4 14 4.7 24 3.9 42 6.1 44 0.7 8 0 10-0.9 8-3.6 18-2.4 6-3 4-3.4 2.6-4 1.6-4 0.8-32 1.2-12 2.1-6 0.5-8 0-16-1.2-8.4 0.4-7.6 1-4 1-4.3 2-2.7 2-1.4 2-0.3 2 0.6 2 1.7 2 3.4 2 5 2 8 2.3 12 1.8 8 0.4 10-0.9 14-0.5 6-0.6 10-2.1 6-0.1 8 0.5 16 1.9 6.3 1.3 5.7 2.2 6 4.1 2 2.4 1.4 3.3 3.3 16 5.8 20 3 14-483.5 0 0-43.5 7.4-32.5 3.4-32 8.2-42 3.4-12 5.4-12 4.9-8 5.3-6.5 4-4 11.4-9.5 4.3-4 18.9-22 7.4-7.2 4-3.1 6.3-3.7 18.1-8 15.6-7.5 6-3.8 6-5.3zM1476.6 221.8l-6.1 2.2-1.6 2 0.4 2 1.3 1.2 4 1.8 6 1.4 4 0.3 6-0.5 4-1 2.9-1.2 1.9-2 0-2-0.8-0.9-2-1.4-6-1.9-6-0.7-6 0.4z"/>
<path fill="#1869CF" d="M1437.5 26l1.5-2 295.2 0 3.2 20 4.2 22 2.6 30 7.7 58 0.1 8-1.1 10-2.9 12-3 8-2.4 3.5-2.6 2.5-3.4 1.8-6 1.5-10 1.2-20 3.3-8 1.8-6 0.9-10 0.4-18-0.8-10 0.8-7 1.1-5 1.7-4 2.3-2.2 2-1.3 2-0.5 2.1 0.2 1.9 1 2 2.1 2 2.7 1.6 10 3.5 10 2.3 10 1.7 8 0.5 18-0.3 18-1.3 6 0.2 16 2.8 6 2.1 4 1.9 4 2.8 2.2 2.2 1.8 2.5 1.7 3.5 7.1 24 1.8 8 1.7 10-470.3 0 0-7.7 0.7-4.3 4.5-26 7.4-36 3.9-28 2.8-16 7.1-34 2.7-8 4.7-10 3.7-6 4.8-6 5.7-5.6 14-12.1 16-18.9 10-10.1 6-4.7 6-3.6 18.6-9 11.4-6.2 8-6.1 8-8.5zM1480.6 219.9l-6 0.9-4.5 1.2-3.2 2-1.4 2 0 2 1.7 2 4 2 7.4 1.7 8 0.4 6-0.6 6-1.6 3-1.9 1.2-2-0.3-2-1.6-2-4.3-2.1-8-1.7-6-0.4z"/>
<path fill="#1373D9" d="M1442.1 26l1.3-2 286 0 2.5 10 2.3 16 3.8 18 1.8 24 8.2 60 0.3 8-0.8 8-2.2 10-2.9 8-1.8 3.2-2.3 2.8-2.5 2-3.2 1.7-4 1.3-36 8.5-6 1.1-6 0.5-20-0.4-6 0.3-10 1-6 1.3-6 2.6-3.1 2.1-2 2-1.3 2-0.7 2 0 2 0.6 2 1.4 2 2.4 2 2.7 1.5 12 3.9 14 3.2 8 1.5 10 1 12 0.1 12-0.6 8 0.4 10 2 6 2 4 1.8 4 2.7 2.7 2.5 3.1 4 2.2 4.3 2.7 7.7 2.6 10 1.9 10 0.9 8-451.8 0 1.4-14 3.3-22 6-32 9-54 5.3-26 3.3-10 3.8-8 5.1-8 4.5-5.3 4.7-4.7 13.3-12 13.5-16 10.5-10.7 6-5 4-2.7 22.2-11.6 11.8-7.4 8-6.9 8.1-9.7zM1472.6 219.8l-6.3 2.2-3 2-1.6 2-0.3 2 1.4 2 3.2 2 2.6 1 8 1.8 10 0.6 8-0.7 6-1.6 2.3-1.1 2.5-2 0.9-2-0.5-2-1.8-2-3.4-2.1-8-2.2-10-0.9-8 0.6z"/>
<path fill="#0E7DE3" d="M1446 26l1.2-2 277.3 0 3.7 12 2 16 4.1 18 1.2 18 5 32 3.7 30 0.5 8-0.8 8-2.2 10-3.1 7.8-2 3.1-2 2.2-2 1.6-4 2.1-20 6.6-16 4.2-6 1.2-6 0.6-20 0-8 0.4-8 0.9-6.5 1.3-5.5 2.2-6 3.8-3.4 4-0.8 2-0.1 2 0.4 2 1 2 2.9 3 5.6 3 6.3 2 26.1 6.7 10 2 8 0.6 16-0.2 6 0.6 8.3 2.3 7.7 3.9 2.7 2.1 3.6 4 2.5 4 1.7 4 3 10 1.8 8 0.7 6 0.1 6-432.7 0 0.6-12 2-16.2 3.1-19.8 3.5-18 1.7-12 3.6-18 3-24 2.4-14 1.6-8 2.2-8 3.1-8 3-6 3.8-6 4.7-6 16.3-16.1 12-13.9 10-10.1 6-5.3 6-4.6 22-12.1 12-7.9 6-5.2 4-4.2 4-4.8 4.1-5.8zM1478.6 217.9l-8 1.1-6 2.1-5.4 2.9-2.2 2-0.9 2 1.1 2 3.4 2 6 2.2 10 1.9 12 0.5 10-1.2 4.7-1.4 3.3-1.6 3.1-2.4 0.6-2-0.8-2-2.1-2-3.2-2-5-2-10.6-1.9-8-0.3z"/>
<path fill="#0987ED" d="M1449.4 26l1.3-2 268.7 0 3.2 9.1 1.3 4.9 1.6 14 4.5 18 1.6 18 4.4 24 3.7 28 1.2 14-0.2 8-2 10-2.8 8-2.4 4-1.7 2-2.4 2-2.8 1.6-18 7.4-14 4.3-6 1.4-8 1.1-22 0.4-12 1-6 0.9-6 1.8-4.8 2.1-6 4-3.5 4-1 4 0.9 4 2.4 3.2 4 2.9 6 2.6 18 4.6 18 5.9 6 1.6 6 0.9 16 0.6 4 0.6 4.2 1.1 5.8 2.9 3.8 3.1 1.8 2 2.5 4 1.9 4.5 2.4 9.5 1.3 8 0.2 4-0.7 6-412.4 0-0.2-8 1.2-14 4.2-26.2 3.1-13.8 1.8-14 2.4-14 2.5-30 1.5-12 1.2-6 2.2-8 2.9-8 2.8-6 3.6-6.3 5.8-7.7 32.2-34.7 8-7.2 8-6.3 23.6-13.8 11.1-8 5.3-4.7 4.9-5.3 4.7-6 4.4-6.7zM1470.6 217.8l-7.6 2.2-4.7 2-3.9 2-2.8 2-1.4 2 0.3 2 2.1 1.6 10 3.3 12 2.3 12 0.7 6-0.2 6-0.8 4.1-0.9 5.9-2 3.9-2 2.3-2 0.3-2-1.4-2-2.5-2-3.5-2-4.7-2-7.9-2-12.5-1.1-10 0.6z"/>
<path fill="#0491F7" d="M1452.5 26l1.3-2 260.4 0 3.9 12 2.7 18 4.8 16 1.9 16 4.7 22 3.3 22 1.5 18 0.3 10-0.4 4-1.3 6-3.4 10-1.6 2.9-2 2.7-4 3-16 7.9-14 5-6 1.6-8 1.1-22 0.7-12 1.1-8 1.3-6 2-5.9 2.7-5.8 4-3.3 4-1.3 4 0.5 4 2.4 4 3.4 2.8 6 3.1 6 1.9 16.4 4.2 10.2 4 11.4 5.1 4 1.3 4 0.9 10 1.2 6 1.1 2 0.6 3.4 1.8 2.2 2 2.7 4 1.5 4 1.3 6 0.5 6-0.3 4-0.8 4-1.7 4-1.4 2-384.7 0-0.8-4-0.2-4 1.1-12 7-34 1.5-10 0.9-22 0-30 1.1-14 1-6 2.3-8 2.9-8 2.7-6 4.6-8 6-8 19.2-21.6 8-8.3 8-7.2 8-6.4 26-16.4 10.8-8.1 6.4-6 4.8-5.3 4-5.4 4.7-7.3zM1478.6 216l-6 0.5-7.6 1.5-11.5 4-3.8 2-2.3 2-0.9 2 0.1 2 1.3 2 2.7 1.8 8.3 2.2 13.7 2.2 8 0.7 8 0.2 12.1-1.1 5.9-1.3 6-2 5.1-2.7 1.4-2 0-2-1.2-2-2.5-2-3.8-2-7-2.7-4.6-1.3-5.4-1-14-1.1z"/>
<path fill="#0099FF" d="M1455.4 26l1.3-2 120.4 0 1.5 2.9 1 1.1 1 0.8 2 0.7 2-0.2 2-1.2 2.6-4.1 120 0 3.8 14 2.5 16 5.8 18 2.3 14 5.4 22 3.2 20 1.1 14 0.1 16-1.6 8-3.5 10-2.4 4-4.2 4-13 8-8.1 3.7-10 3.2-8 1.5-8 0.8-20 0.8-10 1.1-8 1.6-9 3.3-6.9 4-4.4 4-1.5 2-1.5 4 0 4 1.3 3.1 2.3 2.9 3.7 2.9 8 3.6 19.9 5.5 6.1 2.4 8 4.2 16.3 11.4 3.6 4 1 2 0.5 2-0.2 4-2.2 6-3 4-4.3 4-3.7 2.7-6.3 3.3-323.8 0-1.4-6 0.1-6 3.5-14 2.3-18 0.3-8-1-8-4.8-22-2.2-12-1.4-12-0.4-12 0.3-8 1-8 2.1-8 3.7-10 4.9-10 6.8-10 9.9-12 12.4-13.6 8-7.6 10-8.1 28-18.6 12-9.5 4.8-4.6 5.3-6 4.4-6 5.5-8.7zM1470.6 215.8l-8 1.7-8.8 2.5-4.9 2-3.3 2-1.9 2-1 2-0.1 2 0.9 2 2.2 2 2.9 1.5 4 1.2 18 2.7 16 0.9 8-0.2 6-0.6 12-2.6 4-1.4 2.8-1.5 2-2 0.9-2-0.1-2-1-2-2.1-2-3.4-2-5-2-12.1-3.2-14-1.6-6-0.1-6 0.5z"/>
<path fill="#009EEF" d="M1458.5 24l116.8 0 1.3 3.1 2 2.7 2 1.3 2 0.5 2-0.2 2.6-1.4 1.8-2 2-4 115.2 0 3.1 14 2.9 16 5.9 18 3.6 16 4.8 18 3.4 20 1.2 14-0.2 16-1.5 8-3.5 10-2.2 4-1.6 2-7 6-9.5 6-9.2 4-7.8 2.3-8 1.4-24 1.3-12 1.3-8 1.6-8 2.8-6.7 3.3-5.5 4-3.4 4-1.8 4-0.4 2 0.6 4 1 2 2.2 2.8 4.2 3.2 7.8 3.7 20 5.7 6.7 2.6 7.3 4.2 8.9 7.8 3.1 4 1.3 4-0.3 8-1.4 4-1.3 2-2.3 2.5-4 2.9-10 4-5.1 2.6-293.5 0-2.7-6-0.9-4-0.3-4 1.2-14 3.3-18-0.2-6-1.7-6-7.3-18-4.2-12-3-12-1.4-10-0.4-10 0.5-10 1.6-8 3.2-10 4.4-10 6-10 9.1-12 11.4-12.9 8-7.9 10-8.5 8-5.9 22-14.8 12.6-10 6.2-6 5.2-6 4.3-6 6.3-10zM1466.6 215.9l-9.4 2.1-6.6 2-4.6 2-3 2-2 2-1.1 2-0.2 2 0.7 2 2.2 2.2 4 2.2 5.5 1.6 18.5 2.3 18 0.8 8-0.3 8-0.9 10-2.2 4.5-1.7 3.1-2 1.6-2 0.6-2-0.2-2-1-2-2.6-2.5-2.3-1.5-4.8-2-6.6-2-9.4-2-8.9-1-8-0.4-12 0.9z"/>
<path fill="#00A3E1" d="M1458.5 26l1.3-2 114.3 0 1.8 4 1.4 2 2.5 2 2.8 0.8 2-0.2 1.8-0.6 2.2-1.7 2-2.8 1.5-3.5 112.1 0 5.4 28 2.2 8 4.1 12 8.6 32 2.1 10 1.9 12 1 14-0.6 16-1.6 8-3.8 10-4.1 6-6.7 6-5.7 4-3.6 2-8.8 3.7-6 1.8-8 1.4-24 1.5-12 1.3-8 1.6-10 3.6-6.1 3.1-5.5 4-3.5 4-2 4-0.4 2 0.3 4 2.2 4 3 2.9 4 2.7 8 3.4 17.3 5 5.6 2 7.7 4 5.1 4 5.5 6 1.3 2 1.3 4-0.1 6-1.2 4-1.2 2-1.7 2-3.6 2.7-8.6 3.3-13.3 6-274 0-2.1-2.3-2.6-3.7-1.9-4-1.1-4-0.4-4 0.1-6 0.7-6 3.7-16-0.2-6-2.3-6.7-9.7-19.3-4.3-10-3.3-10-2-10-0.9-10 0.3-10 1.3-8 3-10 5.1-12 5.9-10 7.3-10 11.3-13.1 8-8 10-8.5 10-7.4 22-15 12-9.8 6-6 5.3-6.2 4.3-6 5-8zM1464.6 215.7l-9.9 2.3-6.1 1.9-4.7 2.1-3 2-2.1 2-1.2 2-0.4 2 0.6 2 1.7 2 3 2 5.2 2 4.9 1.1 18 1.9 20 0.7 8-0.4 8-1 8-1.6 4-1.3 2.9-1.4 3.1-2.6 1-1.4 0.5-2-0.3-2-1-2-1.9-2-2.8-2-4.6-2-6.6-2-9-2-5.3-0.8-10-0.9-6-0.1-12 1.2z"/>
<path fill="#00A8D3" d="M1459.7 26l1.4-2 112 0 1.6 4 1.9 2.7 2 1.8 2 1 2 0.4 2-0.2 2-0.7 2-1.4 2.8-3.6 1.7-4 109.2 0 5.3 28 7.5 24 7.9 28 2.2 10 1.7 10 1.1 14-0.5 14-1.8 10-3.6 10-3.5 6-5.6 6-8.1 6-6.3 3.2-8 2.9-8 1.7-36 3.1-8 1.4-6 1.7-9.8 4-6.6 4-2.5 2-3.7 4-2.3 4-0.5 2 0 4 2 4 3.4 3.5 3.6 2.5 8.4 3.8 18 5.4 6 2.2 5.2 2.6 5.6 4 5.4 6 2.1 4 0.6 2 0.1 4-1 3.8-1.2 2.2-2.8 3-4 2.4-14 5.5-10.1 3.1-4.4 2-249.8 0-7.7-4.4-4-3.8-2-2.8-1.4-3-1.1-4-0.3-4 0.6-8 4.1-16-0.2-6-1.2-4-1.9-4-11.4-20-4.8-10-3.6-10-2.2-10-0.8-10 0.3-8 1.3-8 2.8-10 5.1-12 5.8-10 7.3-10 10.3-12 8-8 9.3-7.9 10-7.5 22-15.3 12-9.8 6-5.9 6-6.9 4.8-6.7 5.2-8.3zM1474.6 214l-13.9 2-8.5 2-7.6 2.6-4 2.1-4.1 3.3-1.5 2-0.7 2 0.4 2 1.6 2 2.9 2 4.6 2 6.8 1.7 10 1.2 18 1.2 18 0.1 8-0.8 8-1.3 6-1.6 4-1.7 3.7-2.8 1.3-2 0.4-2-0.4-2-1.1-2-2-2-3.9-2.7-3-1.3-6.5-2-9-2-7.5-1.1-10-1-8-0.1z"/>
<path fill="#00ACC5" d="M1462.5 24l109.7 0 2.4 5.5 1.9 2.5 2.8 2 3.3 0.7 4-0.6 2.9-2.1 2.9-4 1.7-4 106.5 0 2 12.8 3.2 15.2 2.8 9.7 4.8 14.3 7.6 26 2.4 10 2.1 12 1 14-0.8 14-2.1 10-3.7 10-3.6 6-5.5 6-4.8 4-6.9 4-8.5 3.2-8 1.8-8 1-18 1.2-10 1.1-8 1.4-8 2.4-9.2 3.9-3.6 2-5.6 4-5.3 6-1.9 4-0.3 2 0.7 4 1.1 2 3.8 4 4.3 2.9 8 3.7 23.1 7.4 7.8 4 5.1 4 2 2.2 2.6 3.8 1.4 4 0 4-0.5 2-1.5 2.7-4 3.6-10 4.1-6 1.9-10 2.2-4 1.2-3.1 2.3-1.4 2-230.6 0-1.8-2-3.1-1.8-8-3.2-4-2.1-4-3.4-2-2.9-1.1-2.6-1-6 0.6-6 4.2-16 0.1-4-0.8-4-2.7-6-12.5-20-5.4-10-4.1-10-2.6-10-0.8-8 0.1-10 1.2-8 2.9-10 5-12 5.7-10 7.2-10 8.4-10 7.9-8 9.7-8.4 8-6.1 24-17 12.8-10.5 7.2-7.2 5.7-6.8 10.7-16zM1470.6 214l-10 1.5-10 2.2-7 2.3-4.2 2-5.7 4-1.8 2-0.9 2 0 2 1.3 2 2.8 2 5.5 2.4 4 1.2 8 1.4 18 1.4 16 0.6 10-0.1 8-0.7 12-2 6-1.9 4-2.3 2.2-2 1.2-2 0.2-2-0.5-2-1.3-2-2.1-2-2.7-2-5-2.4-5.2-1.6-9-2-7.8-1.3-10-1-8-0.3-6 0.4z"/>
<path fill="#00B1B7" d="M1462.2 26l1.6-2 107.6 0 1.5 4 2.5 4 3.2 2.6 4 1 4-0.7 2-1 2-1.8 2.7-4.1 1.6-4 104 0 2.2 14 3.1 14 15.4 50 2.5 10 2 12 0.9 14-0.8 12-1 6-1.5 6-3.9 10-3.7 6-5.3 6-4.9 4-7.1 4-6.2 2.3-8 1.9-10 1.2-16 1.2-10 1.1-10 2-7.4 2.3-9.3 4-6.6 4-2.6 2-5.9 6-1.3 2-1.5 4 0 2 1.4 4 3.7 4 5.5 3.8 8 3.8 24 8 4.9 2.4 5.1 3.5 4.3 4.5 2.1 4 0.6 4-1.1 4-1.5 2-2.4 2-8 3.4-8 2.2-10 1.7-4 1.2-2.5 1.5-1.5 1.5-2.1 4.5-221.3 0-1.9-4-1.7-2-3-1.8-12-5.4-4-3.4-2.1-3.4-1.1-6 0.8-6 3.5-14 0.2-4-0.8-4-2.8-6-12.4-18-7.1-12-4.5-10-2.9-10-1-8 0.1-10 1.2-8 2.7-10 5-12 5.7-10 7-10 8.5-10 8-7.9 8-7 8-6.2 24-17.1 14-11.6 6.1-6.2 5.9-6.9 10.2-15.1zM1468.6 213.8l-13.3 2.2-6.7 1.6-7.5 2.4-4.2 2-6.2 4-2.1 2-1.2 2-0.3 2 0.8 2 2.2 2 4.1 2 6.6 2 11.8 2 34 1.7 10-0.1 10-0.8 8-1.1 6.9-1.7 5-2 3.3-2 2.2-2 1-2 0-2-0.8-2-3.9-4-2.9-2-4.8-2.4-4.9-1.6-9-2-10.1-1.6-12-1.2-6-0.2-8 0.6z"/>
<path fill="#00B6A9" d="M1463.5 26l1.6-2 105.4 0 2.1 5.2 2 3.1 2 1.9 2 1.3 4 0.9 4-0.6 2-1 2-1.7 2.5-3.1 2.7-6 101.6 0 2.2 14 3 13.7 15.7 50.3 2.8 12 1.6 10 0.9 14-1 12-1.1 6-1.7 6-4 10-3.6 6-5.3 6-5 4-5.3 3-8 2.9-6 1.4-8 1.1-28 2.8-10 1.9-8 2.5-10.1 4.4-9.5 6-6.6 6-2.9 4-0.8 2-0.3 2 0.3 2 0.9 2 3.6 4 5.8 4 9.6 4.7 22 7.6 4 1.7 6.4 4 4.1 4 2.2 4 0.3 4-1 2.5-1.1 1.5-2.6 2-4.3 2-6 1.7-12 2.2-6 2.2-2 1.3-2 2-2.8 6.6-214.8 0-2.4-5.4-2-2.7-4-3-8.7-4.9-2.6-2-1.9-2-2.1-4-0.7-4 0.6-6 2.3-10 0.6-4-0.2-4-1.1-4-3.5-6-12.2-16-6.5-10-3.3-6-2.7-6-3.1-10-1.2-8 0-10 1.2-8 2.6-10 4-10 5.3-10 6.7-10 8.5-10.2 8-8.2 8.8-7.6 9.2-7.1 23.2-16.9 12.8-10.7 6-5.9 6.4-7.4 11.6-16.8zM1464.6 213.9l-12.2 2.1-8.1 2-5.7 2-8 4-3 2-2.1 2-1.3 2-0.6 2 0.2 2 1.2 2 1.6 1.2 4 1.9 4 1.1 8 1.6 10 1.3 42 1.3 10-0.5 8-0.9 8-1.5 5.4-1.5 6.6-3 3.9-3 1-2-0.5-2-1.4-2-4.9-4-7.1-4-5-1.9-18-3.5-20-1.9-6 0.1-8 0.8z"/>
<path fill="#00BB9A" d="M1466.4 24l103.4 0 2.4 6 3 4 3.4 2.3 4 0.8 4-0.6 2-0.9 2.1-1.6 3.2-4 2.7-6 99.3 0 2.6 16 2.1 9.3 16.4 52.7 2.8 12 1.6 10 0.7 14-1.1 12-3 12-4.1 10-3.6 6-3.3 4-4.4 4-6.4 4-5.6 2.3-8 2.1-10 1.5-16 1.4-12 1.6-8 1.7-10 3.2-6 2.5-7.2 3.7-8.9 6-7.1 6-2.9 4-0.7 2 0 2 0.8 2 1.6 2 2.2 2 6.1 4 12.1 6 21.7 8 7.5 4 4.4 4 2.1 4 0.2 2-0.6 2-1.3 1.8-3.2 2.2-2.8 1.1-14 3.5-6 2.5-3.9 2.9-1.7 2-1.1 2-2.4 6-209.2 0-2.8-6-2.9-4.1-4-3.5-6.1-4.4-4.2-4-2.1-4-0.8-4 0.4-6 2.5-12 0-4-1-4-3.7-6-11-12.8-8.2-11.2-6.7-12-3.7-10-1.6-8-0.4-10 1.2-10 2.6-10 3.9-10 5.2-10 6.7-10 8.3-10 7.9-8 8.8-7.6 32-23.9 12.5-10.5 7.5-7.6 5.5-6.4 12.7-18zM1462.6 213.7l-13.3 2.3-7.9 2-5.6 2-8.2 4-5.1 4-1.6 2-0.9 2-0.2 2 0.6 2 1.7 2 2.5 1.6 4 1.4 5 1 9 1.3 10 0.8 42 1.1 10-0.4 10-1 12-2.3 10.9-3.5 4.7-2 3.2-2 0.7-2-1.8-2-3.3-2-15.4-8-5-2-8.8-2-13.2-2.1-16-1.5-8 0.1-10 1z"/>
<path fill="#00BF8C" d="M1466 26l1.6-2 101.4 0 2.5 6 2.7 4 2.4 2 2 1 4 0.7 4-0.5 2-0.8 3-2.4 3.1-4 2.6-6 97.2 0 2.3 14 2.2 10 3.6 12.8 12.5 39.2 3 12 1.9 12 0.7 8 0 6-1.3 12-3.1 12-4.2 10-3.7 6-3.8 4.5-4 3.5-7 4-5.3 2-7.7 1.9-36 4.4-8 1.7-10 3.2-11.1 4.8-13.5 8-11.1 8-3.9 4-1.3 2 0.1 2 2.1 2 6.9 4 13.8 6.8 22.3 9.2 7.9 4 2.7 2 2 2 1.2 2 0.4 2-0.6 2-1.9 2-2 1.1-12 4.6-6 3.6-4.6 4.7-2.2 4-2.5 6-203.9 0-2.9-6-3.9-5.8-8.8-8.2-3.6-4-1.9-4-0.6-4 0.6-6 3.1-12-0.1-4-0.7-2-2.6-4-15.4-16.1-7.6-9.9-3.9-6-3.2-6-3.9-10-1.7-8-0.5-10 1.1-10 2.5-10 3.8-10 5.2-10 6.7-10 8.3-10 7.2-7.2 8-7 32-24.1 13.7-11.7 6.3-6.4 6-7 12-16.8zM1476.6 212l-12 1-14 2.1-10 2.3-7.6 2.6-8.4 4-5.4 4-3.2 4-0.7 2 0 2 0.9 2 2.3 2 4.3 2 5.8 1.3 5.7 0.7 18.3 1.3 46 0.6 10-0.4 10-1 36.6-6.5 9.8-2 5.5-2 2.5-2-1.9-2-2.5-0.6-8-1.4-12-1.1-8-1.8-17.8-7.1-6.2-1.6-18-2.9-20-1.6z"/>
<path fill="#00C47E" d="M1467.3 26l1.6-2 99.4 0 2.4 6 1.9 3 2 2.2 4 2.5 4 0.7 3.4-0.4 2.6-1 4-3 2.8-4 2.7-6 95 0 3.2 18 2.3 9.5 13 40.5 3.9 14 2.4 12 1.2 10 0.2 8-0.3 6-1.1 8-1.4 6-2.6 8-2.6 6-3.3 6-3 4-4 4-4.4 3.2-5.8 2.8-4.2 1.5-12 2.4-20 2.3-10 1.6-9.8 2.2-8.2 2.6-12.6 5.4-27.4 14.8-6 1.7-6 0.3-18-0.1-10-0.6-8-1.4-16-5.5-6-1.4-24-3.3-12-0.9-6 0.1-22 2.5-9.9 1.8-7.2 2-8.9 3.4-5.2 2.6-6 4-6.6 6-1.5 2-0.4 2 1.7 2 6 2.8 3.9 1.2 6.1 1.1 18 1.1 62 0.5 16-1.1 18-2.2 22-2 18-2.3 6 0.1 8 1.8 12 4.6 18.8 8.4 7 4 2.4 2 1.6 2 0.6 2-0.5 2-1.6 2-10.3 7.8-4 4.1-2.8 4.1-4.8 10-198.7 0-5.7-10.6-4-5.1-7.7-8.3-1.3-2-1.5-4-0.3-4 0.7-4 2.1-5.3 4.8-8.7 0.7-2-0.5-2-2.1-2-14.9-11.5-8-7.7-5.7-6.8-4.2-6-3.6-6-2.9-6-2.8-8-1.7-10-0.1-8 1.3-10 3.4-12 5.3-12 6.1-10 7.6-10 7.5-8 8.8-8 10-8 24-18 13-11.2 6-6.1 5.9-6.7 14.1-19.2z"/>
<path fill="#00C970" d="M1468.5 26l1.7-2 97.4 0 3 7.1 1.9 2.9 2 2 4.1 2.3 4 0.7 4-0.5 2-0.8 4-2.9 3.5-4.8 2.7-6 93 0 2.9 16 2.3 10 3.6 12 9.2 28 4 14 2.5 12 1.3 10 0.4 8-0.3 6-0.6 6-1.6 8-2.5 8-2.4 6-3.1 6-2.9 4.2-3.4 3.8-4.6 3.7-4 2.3-4.9 2-9.1 2.4-32 4.4-13.7 3.2-6.3 2-9.9 4-26.1 12.4-6 2.2-4 0.9-18 1-16-0.1-10-1.6-18-5.2-22-3-18-1.4-18 1.4-10.4 1.4-10.9 2-12.4 4-9 4-9.3 4.8-6 1.6-2 0-4-0.8-4-1.7-4-2.3-6-4.3-4-3.5-4-4.1-4.8-5.7-4.2-6-3-5.1-2.4-4.9-2.3-6-2.3-10-0.4-6 0.1-6 0.8-6 1.2-6 3.2-10 4.5-10 4.7-8 5.8-8 6.9-8 6.2-6.2 8-7 32-24.6 12-10.4 6-6 6.9-7.8 13.4-18zM1567.9 244l14.7-0.9 6 0.6 6 1.3 8 2.6 10.2 4.4 7.2 4 4.7 4 1.2 2 0.4 2-0.4 2-2.4 4-7.6 10-7.2 14-193.4 0-6.7-12-10-13-1.8-3-0.7-2-0.2-4 0.7-2.8 1.6-3.2 2.4-3 2-1.7 4-1.8 6-0.5 18 0.7 44-0.4 30 0.4 62-3.6z"/>
<path fill="#05CD67" d="M1469.7 26l1.8-2 95.4 0 3.5 8 3.2 4 2.8 2 2.2 0.9 4 0.7 4-0.5 2-0.7 4-2.7 4-5.3 2.9-6.4 91 0 3.4 18 2.5 10 11 34 4.7 16 2.7 12 1.5 12 0.3 8-0.2 6-0.8 6-1.6 8-2.6 8-2.4 6-3.3 6-3.1 4.4-3.4 3.6-2.6 2.1-4 2.5-6 2.6-10 2.6-28 4.1-14 3.1-14.7 5-19.3 8.7-10 4-6 1.8-6 1.1-20 1.4-14-0.2-10-1.6-16-4.2-22-2.7-18-1.4-16.3 1.1-21.7 2.9-11.3 3.1-18.7 7.2-6 1.5-4 0.1-4-0.7-4-1.4-6-3.4-6-4.5-4-3.8-7.5-9-6-10-4-10-2-10-0.3-6 0.3-6 0.8-6 1.4-6 4.2-12 4-8 4.9-8 6.1-8 5.3-6 6.1-6 6.8-6 31.9-24.7 12-10.4 12.2-12.9 15.8-20.7zM1542.9 248l35.7-1.5 10 0.4 6 1.1 6.6 2 7.4 3.1 5.2 2.9 4.6 4 1.2 2 0.6 2 0 2-0.5 2-1.8 4-4.5 8-3.7 8-3.6 6-187.8 0-7.7-13.6-8.2-12.4-1.9-4-0.3-2 0.3-2 0.9-2 3.2-3.5 4-2.2 4-1.1 8-1 46-1.8 12-0.2 26 0.5 38-0.7z"/>
<path fill="#12D06A" d="M1472.9 26l1.9-2 90.4 0 3.5 8 1.9 2.9 2 2.2 4 2.6 2 0.7 4 0.6 4-0.5 2-0.6 3.4-1.9 2.3-2 3.1-4 3.9-8 86 0 5.8 26 12.2 38 3.9 14 2.6 12 1.4 12 0.1 8-0.4 6-1.2 8-1.5 6-2.7 8-2.7 6-3.5 6-3.2 4-3.5 3.3-3.9 2.7-4.1 2-5.5 2-8.4 2-26.1 4.7-10 2.4-15.4 4.9-18.6 7.3-10 3.4-8 2.1-10 1.6-18 1.4-14 0-8-0.8-16-3.4-40-3.6-16 0.9-22 2.2-6 1.1-20 5.2-8 1.4-6-0.2-4-0.8-4-1.4-6-3.3-4-3-4-3.6-7-8.5-5.7-10-3.5-10-1.5-10-0.1-6 0.6-6 2-10 4.5-12 4.1-8 3.8-6 6.1-8 5.5-6 13.1-12 28.1-22.1 14-12.4 12-12.8 18-22.4zM1459.2 252l15.4-1 12 0 32 1.3 24 1.6 40 0.3 8 0.8 6 1.3 6 2.5 4.3 3.2 1.5 2 0.9 2 0.5 4-1.3 6-3.4 8-2.5 4-4.9 6-171 0-7.6-12-3-6-1.6-4-0.8-4 0.1-2 0.5-2 1.2-2 2-2 3.1-1.9 6-2.1 10-1.7 22-2.2z"/>
<path fill="#20D26C" d="M1476.6 26l2-2 84.7 0 4.6 10 3.3 4 2.6 2 2.8 1.4 2 0.6 4 0.5 6-1 3.3-1.5 2.7-2 2-2 2.8-4 4-8 80.2 0 6.9 28 10.5 32 4.1 14 3 14 1.4 12 0.1 8-0.3 6-1.2 8-1.5 6-2.7 8-2.8 6-3.7 6-3.4 4-3.4 3.1-4 2.6-4.8 2.3-5.2 1.8-30 7-12 3.2-32 10.9-8 2.4-10 2.4-12 1.8-18 1.5-14 0.2-8-0.8-14-2.3-40-3.1-38 2-24 4.2-10 0.7-6-0.6-4-1.1-4-1.7-4.4-2.5-7.2-6-6.4-8-2.5-4-2.8-6-3.1-10-1-10 0.6-10 2.2-10 2-6 2.6-6 3.2-6 3.8-6 4.6-6 5.3-6 12.8-12 28.3-22.8 12-10.7 11.9-12.5 16.1-19.4 6-6.6zM1466 256l8.6-0.9 8-0.3 20.6 1.2 17.4 2 20 3.3 24 0.8 20 3.1 6 1.4 3.5 1.4 2.5 2 1.1 2 0.1 2-1.2 3.8-2.9 4.2-3.9 4-5.2 4-6.7 4-137.5 0-7.8-7.9-3-4.1-2.4-4-1.5-4-0.4-2 0.1-2 1.2-3.3 2.8-2.7 5.2-2.1 8.6-1.9 21.4-3.8z"/>
<path fill="#2ED56F" d="M1480.4 26l2.1-2 78.8 0 4.8 10 2.5 3.6 2 1.9 3.7 2.5 2.3 0.9 6 1.1 4-0.4 4-1.2 4-2.3 2-1.7 3.6-4.4 5.3-10 74.5 0 1.8 6 5.1 20 10.6 32 3.6 12 3.1 14 1.8 14 0.2 8-0.5 8-1.4 8-1.6 6-2.2 6-3 6-3.9 6-3.6 4-3.4 2.8-5.2 3.2-10.8 4.3-34 9.6-28 9.1-12 3.5-12 2.7-16 2.3-16 1.3-14 0.2-8-0.7-10-1.5-12-0.4-30-2.4-38 1.2-20 2.5-10 0.5-6-0.6-4-0.8-6-2.3-4.2-2.5-3.8-2.9-3.3-3.1-3.4-4-2.7-4-4-8-2.9-10-1-10 0.7-10 1.2-6 1.8-6 4.2-10 3.5-6 4.1-6 8.6-10 11.2-10.6 26.1-21.4 11.9-10.6 11.1-11.4 16.9-19.7 8-8.5zM1471.1 262l7.5-1.1 8-0.3 10 0.7 12 1.6 14 3.1 20.8 8 4 2 1.9 2 0.3 2-2.1 6-4.6 8-59 0-4.1-4-3.2-2.1-4-0.8-12-1.1-6-1.8-4-2.2-2.4-2-1.5-2-0.8-2 0.1-2 1.2-2 2.6-2 3.8-2 10.3-4 6.7-1.9z"/>
<path fill="#3DD872" d="M1484.2 26l2.3-2 72.8 0 5.3 10.6 2 2.9 2.3 2.5 2.7 2 3.9 2 3.1 0.9 4 0.5 4-0.4 4-1 3.9-2 2.7-2 2-2 3-4 5.5-10 68.6 0 2.2 6 6.1 22 8.9 26 3.7 12 3.7 16 1.8 14 0.2 8-0.4 8-1.3 8-1.7 6-2.2 6-3.1 6-3.6 5.3-4 4.3-4 3.2-4 2.5-10 4.5-52 17.1-14 4.2-10 2.5-10 1.9-14 1.9-18 1.5-14 0.2-16-1.6-14-0.3-28-2.2-38 0.4-16 1.4-10 0.3-6-0.5-6-1.3-6-2.3-4-2.4-6-5.1-3-3.5-2.8-4-4-8-1.4-4-1.4-6-0.8-10 0.8-10 2.5-10 4.2-10 3.5-6 4.2-6 8.6-10 10.6-10 25-20.8 10.2-9.2 11.7-12 20.1-22.6 8-8z"/>
<path fill="#4BDB75" d="M1488 26l2.4-2 66.6 0 2.6 4 4.1 8 2.9 3.6 2 1.9 6 3.5 4 1.2 4 0.5 4-0.3 4-0.9 4-1.8 4-2.9 4.3-4.8 7.2-12 62.5 0 2.6 6 5.2 18 9.8 28 3.7 12 3.8 16 1.9 14 0.3 8-0.4 8-1.3 8-1.6 6-2.2 6-3.2 6-4.4 6-4.2 4.1-4 3.1-4.6 2.8-11.4 5.3-16 6.1-28 9.4-14 4.2-10 2.4-12 2.3-16 2.1-16 1.3-14 0.4-16-1.2-16-0.2-26-2-38-0.3-22 0.6-8-0.7-6-1.4-5.7-2.3-4.3-2.6-6-5.4-4.5-6-3.9-8-2.6-10-0.7-10 1-10 2.7-10 3.5-8 3.5-6 4.2-6 8.8-10 10.6-10 23.4-19.8 9.1-8.2 10.9-11.2 20-22.1 12-11.5z"/>
<path fill="#59DE78" d="M1491.9 26l2.7-2 59.9 0 3.2 4 4.3 8 2.6 3.4 2.6 2.6 3.4 2.4 4 2 4 1.1 6 0.5 4-0.6 4-1.2 4-2 3.1-2.2 3.9-4 6.1-10 3.3-4 55.5 0 2.4 4 1.6 4 5 16 12.6 36 4.5 18 1.3 8 0.8 8 0.2 8-0.5 8-1.4 8-1.7 6-2.5 6-3.6 6-4.6 5.5-5.1 4.5-9.5 6-12.5 6-16.9 6.7-18 6.2-14 4.1-16 3.7-14 2.3-14 1.6-16 1.1-12 0.3-14-0.8-16-0.1-26-2-58-1-8-1-6-1.5-6-2.6-4-2.6-6-5.7-4.5-6.7-3.3-8-2-10-0.3-8 1.1-10 3-10 3.8-8 6.7-10 8.9-10 10.6-10 22-18.8 8-7.3 9.7-9.9 22.3-24.2 8-7.7 6-5.1z"/>
<path fill="#67E17B" d="M1495.9 26l3-2 52.5 0 4.1 4 6.1 10 3.7 4 2.5 2 3.3 2 4.7 2 4.8 1 4 0.2 4-0.4 4-1.1 4-1.7 4-2.7 5.2-5.3 6.6-10 4.3-4 47 0 3.2 4 2.1 4 17.3 48 3 10 2.3 10 1.7 10 0.7 8 0.1 10-0.9 8-1.8 8-2.2 6-3.1 6-3.5 4.9-4.9 5.1-5.1 4-9.5 6-10.5 5.3-16 6.7-18 6.2-16 4.5-12 2.6-16 2.5-16 1.7-22 1.2-16-0.6-12 0.1-16-0.8-14-1.2-16-0.4-38-1.7-8-1-8-2-6-2.7-4-2.7-5.6-5.7-3.9-6-3.2-8-1.8-10-0.1-10 1.3-8 2.5-8 3.8-8 6.8-10 8.8-10 10.7-10 26.7-23.3 8-8 26-27.9 8-7.4 8-6.5z"/>
<path fill="#76E47E" d="M1500.3 26l3.5-2 43.9 0 5.1 4 1.8 2 5.3 8 3.7 4 3 2.6 4 2.4 4 1.8 4.6 1.2 5.4 0.5 4-0.3 4-1 4-1.6 4-2.3 5.9-5.3 8.1-10.6 3.9-3.4 3.1-2 36 0 3 2.4 4 4.9 2.4 4.7 11.6 29.6 5.1 14.4 3.5 12 2.3 10 1.4 10 0.6 10-0.3 8-1.1 8-2.3 8-2.7 6-3.9 6-5.4 6-5.2 4.4-8.2 5.6-11 6-14.8 6.6-12 4.5-14 4.3-12 2.9-16 3-16 2-18 1.5-16 0.6-28-0.3-78-4.9-8-1.2-8-2.3-6-2.8-5.2-3.9-4.8-5.6-3.5-6.4-2.7-8-1.2-8 0.2-10 1.5-8 2.8-8 4.2-8 7.2-10 9.3-10 35.8-32 24.4-26.2 9.8-9.8 8.2-7.1 8-5.9z"/>
<path fill="#84E680" d="M1505.2 26l4.6-2 33 0 3.8 1.9 4 2.9 3.1 3.2 6.2 8 6.7 5.9 4 2.3 4 1.7 6 1.5 4 0.3 4-0.2 4-0.8 4-1.5 4-2 6.6-5.2 7.4-8.7 4-3.8 6-3.6 4.9-1.9 19.2 0 5.9 2.8 4 3.2 1.9 2 4.1 6.6 8 18.5 6.5 16.9 4.5 14 2.9 12 1.7 10 0.8 10-0.4 10-1.3 8-2.5 8-2.9 6-5.3 7.4-6.7 6.6-7.3 5.5-8 5-10 5.2-10 4.4-12 4.4-12 3.7-12 2.9-14 2.6-14 1.9-18 1.7-18 0.9-36-0.4-38-2.4-32-3-10-1.8-7.4-2.6-6.6-3.9-4.5-4.1-4.3-6-2.7-6-2.1-8-0.7-8 0.5-8 1.7-8 3.1-8 4.5-8 6-8 7.3-8 8.4-8 27.1-24 31.7-33.5 12-10.4 6-4.3 6-3.5z"/>
<path fill="#92E983" d="M1511.5 26l7.6-2 15.3 0 6.2 1.7 6 2.9 4 3 9.5 10.4 6.5 5.1 8 4 8 1.7 6 0 4-0.7 4-1.3 4-1.8 7.2-5 8.8-8.9 4-3.3 6-3.2 6-1.8 4-0.5 4 0.1 4 0.6 4 1.3 3.5 1.7 2.8 2 2.2 2 3.2 4 2.3 3.8 4 8.1 6.9 16.1 5.7 16 3.9 14 2.4 12 0.9 10-0.1 10-1.6 10-2.7 8-4.4 8-4.8 6-6.3 6-8 6-9.9 6-12.2 6-11.8 4.7-12 3.8-12 3-16 3-12 1.7-16 1.5-18 1.2-36 0.1-43.5-3-24.5-2.7-10-1.6-8-2.3-6-2.8-6-4.4-4-4.6-3.2-5.6-2.2-6-1.6-8-0.2-8 1.1-8 2.3-8 2.7-6 4.9-8 4.6-6 7.3-8 8.5-8 25.8-23 25.2-27 8.8-8.6 8-6.7 6-4.3 6-3.4 6-2.7z"/>
<path fill="#A0EC86" d="M1523.8 26l8.8 0.3 6 1.3 4 1.5 6 3.5 11.9 11.4 6.1 4.4 8 3.8 4 1.1 6 0.9 4-0.1 4-0.6 5.1-1.5 4.4-2 6.2-4 12.3-10.4 4-2.4 4-1.7 4-0.9 6-0.4 6 0.9 4 1.6 4 2.5 4.8 4.8 3.9 6 5.3 10.3 5.8 13.7 4.2 12 3.5 12 2.6 12 1.2 10 0.1 10-0.9 8-2.5 8.8-3.4 7.2-4.6 6.7-7 7.3-7.3 6-9.1 6-11.3 6-11.3 4.8-12 4-14 3.6-12 2.3-16 2.3-18 1.7-24 1.3-22 0.1-12-0.3-38-3.1-20.7-2.7-11.3-2-6-1.7-5.5-2.3-4.5-2.7-3.9-3.3-3.4-4-2.7-4.5-2.2-5.5-1.4-6-0.6-6 0.3-8 1.1-6 1.9-6 2.6-6 3.6-6 4.3-6 5.1-6 10.1-10 26.7-24 26.5-28.1 12-11 8-5.8 8-4.5 8-3 8-1.5z"/>
<path fill="#AFEF89" d="M1515.2 30l7.4-1.4 6-0.1 6 0.6 6 1.7 4 1.8 4 2.6 12 10.3 6 4.1 8 3.7 8 1.9 8 0 5.7-1.2 4.3-1.6 8.2-4.4 11.8-8.7 4-2.4 4-1.6 6-1.2 4 0 4 0.7 6 2.5 3.7 2.7 2.3 2.3 3 3.7 3 4.7 6 11.9 5.4 13.4 4.5 14 3.4 14 1.5 10 0.3 10-1.1 10-2.3 8-3.9 8-5.9 8-8.1 8-7.8 6-9.7 6-10.3 5.1-12 4.7-12 3.6-10 2.4-14 2.5-14 1.8-16 1.5-26 1.3-22 0.2-16-0.7-34-3.3-20-3-10-2.2-8-3-5.1-2.9-4.9-4.2-4.3-5.8-2.7-6-1.9-8-0.4-6 0.5-8 1.9-8 2.4-6 3.2-6 4.1-6 4.9-6 5.6-6 32.7-30 22.6-24 9.4-9.1 8-6.5 6-4 6-3.3 8-2.9z"/>
<path fill="#BDF28C" d="M1517.5 32l5.1-0.8 6-0.2 6 0.7 6 1.6 4 1.8 4 2.5 10.6 8.4 7.4 4.8 4 2 6 2.3 8 1.5 8-0.4 8.3-2.2 8.3-4 13.4-8.3 6-2.6 6-1 6 0.4 6 2.3 4 2.7 2 1.9 5.2 6.6 4.8 8.4 5.2 11.6 5 14 3.9 14 2.1 12 0.7 10-0.6 8-1.8 8-3.2 8-5 8-7 8-9.3 8-9 6-11 5.8-10 4.1-12 3.9-12 2.9-12 2.2-14 1.8-18 1.7-20 1.3-32 0.3-12-0.6-20-1.8-12.7-1.6-15.3-2.5-10-2.1-8-2.5-6-2.7-4-2.7-4-3.7-4-5.8-2.6-6-1.6-8-0.3-6 0.8-8 2.2-8 2.6-6 3.5-6 4.4-6 5.1-6 5.9-6 30-27.7 22-23.1 10-9.5 8-6.2 6-3.8 6-2.9 8-2.6z"/>
<path fill="#CBF58F" d="M1520.6 34l6-0.5 4 0.2 6 0.9 4 1.2 6 2.9 13.3 9.3 8.7 5.1 8 3.2 8 1.5 8-0.2 8-1.9 9-3.7 13-6.8 6-2.3 6-0.9 6 0.7 6 2.7 3.4 2.6 2.6 2.6 6 8.4 5.5 11 4.5 11.3 4.1 12.7 2.9 12 1.4 10 0 10-1.2 8-2.6 8-3 6-5.5 8-7.6 8-7.2 6-9.3 6.2-11.4 5.8-10.6 4.2-13 3.8-15 3.1-26 3.4-18 1.4-18 0.9-18 0.3-12-0.3-12-0.8-19.5-2-13-2-13.5-2.6-10-2.6-6-2.2-4.9-2.6-5.2-4-3.4-4-3.3-6-1.9-6-0.9-6 0-8 0.9-6 1.8-6 2.6-6 3.5-6 4.3-6 11-12 27.9-26 23.6-24.2 8-7.5 8-6.3 8-4.8 7.6-3.2 6.4-1.7z"/>
<path fill="#D9F791" d="M1514 38l6.6-1.4 6-0.5 6 0.3 6 1.3 8 3.3 14 8.9 8 4.5 8 3 8 1.6 8-0.1 8-1.6 8-2.8 14-6 6-1.8 6-0.6 4 0.4 6 2.3 4 2.9 4 4.2 4 5.7 4.6 8.4 5 12 4 12 3.1 12 1.4 10 0.1 8-1 8-2.3 8-3.9 8-5.6 8-5.5 6-7.9 7-8 5.6-9.9 5.4-9.4 4-10.7 3.5-10 2.6-12 2.3-14 1.9-18 1.8-30 1.7-18 0.2-16-0.6-16-1.5-14.4-1.9-13.6-2.6-13.9-3.4-8.1-3-5.5-3-4.8-4-3.2-4-3.1-6-1.7-6-0.8-6 0.3-8 1.7-8 2.3-6 3.2-6 4.1-6 4.9-6 7.5-8 27.6-26 27.5-27.4 8-6.6 6-4 6-3.2 6-2.4z"/>
<path fill="#E8FA94" d="M1516.2 40l6.4-1.1 6-0.2 6 0.6 4 0.9 8 3 14 8.3 8 4.2 8 3 8 1.5 6 0.1 6-0.6 8-2 20-6.5 6-1 6 0.2 6 2 4 2.7 4.8 4.9 5.2 7.6 4.3 8.4 4.8 12 3.8 12 2.2 10 0.9 8-0.2 8-1.4 8-2.4 7-3.6 7-5.7 8-7.5 8-7.2 6-9.1 6-8.9 4.5-10 4-11.9 3.5-12.1 2.6-12 1.9-34 3.2-16 0.9-18 0.4-12-0.2-12-0.8-18-2-11.9-2-14.1-3.2-9.7-2.8-6.3-2.5-6-3.5-4.6-4-3-4-2.8-6-1.6-6-0.6-6 0.2-6 1.1-6 2-6 3-6 5.2-8 6.6-8 7.6-8 50.9-48.9 8-6.5 6-4.1 6-3.2 8-2.9z"/>
<path fill="#F6FD97" d="M1519.3 42l5.3-0.6 6 0 6 0.8 4 1 8 3.3 20 10.6 8 2.8 8 1.5 6 0.2 8-0.9 22-5.4 6-1.1 6-0.1 4 0.6 6 2.6 6 5 5.8 7.7 4.3 8 4.4 10 4.1 12 2.3 10 0.8 8-0.2 8-1.5 8-3 8-3.2 6-5.7 8-7.5 8-7.3 6-9.2 6-8.1 4-10.2 4-11.8 3.4-12.7 2.6-25.3 3.2-36 2.5-26 0.1-12-0.7-12-1.2-12-1.8-10.3-2.1-11.7-3-10-3.3-7.6-3.7-4.4-3.2-4-4.3-2.7-4.5-2.2-6-1.1-6-0.1-6 0.8-6 1.7-6 2.6-6 3.5-6 5.9-8 7-8 9.9-10 34.7-33.2 10-8.9 8-6.2 8-4.8 6-2.6 8-2.2z"/>
<path fill="#FCFB97" d="M1524.5 44l4.1-0.1 6 0.5 8 1.9 8 3.3 18 8.9 6 2.2 8 1.7 6 0.4 8-0.4 20-3.6 8-1.1 8 0.4 6 1.8 4 2.4 4 3.4 4 4.7 4 6 4 7.6 3.5 8 2.5 7.1 1.9 6.9 1.3 8 0.3 8-0.9 8-2.4 8-3.8 8-5.4 8-7 8-6.8 6-8.6 6-7.3 4-9.3 4-8 2.6-10 2.6-12 2.2-14 1.9-16 1.5-28 1.8-26 0.2-12-0.8-12-1.3-10-1.6-10-2.1-18-5.2-6-2.4-6.3-3.4-5-4-3.3-4-2.2-4-2-6-0.9-6 0.1-6 1-6 2-6 2.9-6 3.8-6 4.5-6 6.9-8 13.8-14 22.7-21.5 12-10.9 8-6.5 8-5.3 8-4 6-2.1 8-1.5z"/>
<path fill="#F3F093" d="M1515.8 48l4.8-1 6-0.5 6 0.1 6 1 10 3.2 15.2 7.2 6.8 2.7 6 1.8 6 1.1 6 0.4 6-0.1 26-3 6 0 4 0.6 6 1.9 6 3.7 5 4.9 5 6.8 4.1 7.2 4.5 10 2.6 8 1.6 8 0.6 8-0.7 8-2.1 8-2.6 6-4.6 8-6.2 8-5.9 6-7.3 5.9-6.2 4.1-7.8 4.1-9.7 3.9-10.3 3.1-12 2.6-12 1.8-36 3.3-14 0.8-16 0.3-22-1-12-1.4-12-2.2-13.4-3.3-10.6-3.4-8-3.5-5.1-3.1-4.7-4-3.1-4-2.8-6-1.5-6-0.3-6 0.7-6 1.7-6 2.6-6 3.5-6 5.7-8 8.6-10 11.7-12 15-14.2 16-14.4 8-6.4 8-5.5 8-4.3 8-2.9z"/>
<path fill="#EBE58E" d="M1518.3 50l4.3-0.7 6-0.3 6 0.3 6 1.1 8 2.6 20 8.5 6 1.8 6 1.2 6 0.6 6 0.1 26-1.7 6 0.4 6 1.2 6 2.5 6.1 4.4 5.9 6.3 6 9.1 4 8.1 2.4 6.5 2 8 0.8 8-0.5 8-1.2 6-2.1 6-4 8-5.4 8-5.2 6-6.4 6-8.2 6-7 4-9 4-8.2 2.8-10 2.6-12 2.2-12 1.5-36 3.1-26 0.7-12-0.5-10-0.8-11.5-1.6-10.5-2.1-12-3.2-10-3.4-7.5-3.3-6.4-4-4.4-4-2.9-4-2.7-6-1.2-6 0-6 1-6 2-6 2.9-6 3.6-6 5.9-8 8.7-10 9.6-10 15.4-14.5 14-12.1 10-7.6 8-5 8-3.9 8-2.5z"/>
<path fill="#E2DA89" d="M1521.4 52l9.2-0.5 10 1.3 8 2.3 20 7.9 6 1.6 6 1.1 10 0.7 18-0.7 8 0.1 6 0.7 6 1.4 4 1.6 4 2.2 4 2.9 4 3.8 6.1 7.6 3.6 6 2.3 4.6 2.8 7.4 1.8 8 0.4 8-0.5 6-1.9 8-3.4 8-4.8 8-4.6 6-5.6 6-7 6-5.8 4-7.4 4.1-9.3 3.9-8.7 2.7-10 2.4-12 2-32 3.2-26 1.5-22-0.3-10-0.8-10-1.4-10-1.9-10-2.5-10-3.2-8.9-3.7-7.1-4-4-3.1-4-4.5-2.6-4.4-1.9-6-0.5-6 0.6-6 1.7-6 2.6-6 4.6-8 5.8-8 6.6-8 9.4-10 11.7-11.2 12-10.6 12-9.4 8-5.3 8-4.4 8-3.1 8-1.9z"/>
<path fill="#D9CF85" d="M1525.9 54l8.7 0.1 8 1.4 6 1.8 18.6 6.7 9.4 2.4 12 1.2 18-0.1 8 0.4 8 1.3 7.7 2.8 4.3 2.3 6 4.5 5.1 5.2 4.6 6 3.5 6 2.7 6 1.8 6 1 6 0.1 8-1.3 8-2 6-3.8 8-5.2 8-6.5 7.6-6.9 6.4-7.1 5.1-6 3.4-8 3.6-8 2.8-10 2.6-20 3.3-34 3.1-24 1-20-0.8-18-2.4-8.2-1.7-9.8-2.7-14.3-5.3-5.7-2.8-6-4-3.6-3.2-3.1-4-2.1-4-1.7-6-0.2-6 0.9-6 2-6 3.9-8 5.2-8 6.1-8 6.9-8 7.6-8 8.1-7.6 12-10.5 10-7.7 8-5.3 8-4.4 8-3.4 8-2.1 6-0.9z"/>
<path fill="#D1C480" d="M1515.9 58l4.7-1 6-0.7 10 0.3 10 2.1 20 6.6 10 2.3 12 1.2 20 0.5 6 0.7 6 1.3 8 3.1 8 5 7.3 6.6 6.1 8 3.3 6 2.2 6 1.4 6 0.5 8-0.7 6-1.4 6-3.2 8-3.3 6-4.1 6-5.1 6-6.2 6-6.8 5.2-8 4.8-6 2.7-8 3-8 2.2-10 2.1-12 1.7-38 3.5-24 0.6-20-1.2-10-1.4-10-2.1-10-2.7-10-3.6-6.2-2.8-7-4-5.1-4-3.7-4.2-2.3-3.8-1.9-6-0.3-6 0.9-6 1.9-6 3.9-8 5.1-8 5.9-8 6.8-8 8-8.3 12-11.1 10-8.1 10-7 8-4.7 8-3.8 8-2.7z"/>
<path fill="#C8B97B" d="M1517.4 60l5.2-1 6-0.5 10 0.6 8 1.6 20 6.1 8 1.8 10 1.2 22 1.1 10 1.7 9.1 3.4 8.9 5.3 4 3.2 4 3.9 6 7.8 3.1 5.8 2.2 6 1.1 6 0.1 8-0.9 6-1.8 6-2.6 6-4.6 8-4.5 6-5.5 6-6.6 5.8-6 4.2-7.2 4-6.8 2.9-8 2.7-8 2-20 3.2-38 3.5-22 0.5-10-0.4-10-1-10-1.5-10-2.2-10-2.9-8-3-8-3.8-6.4-4-4.7-4-3.3-4-2.2-4-1.6-6 0.1-6 1.2-6 2.2-6 4.2-8 5.1-8 6.1-8 8.8-10 8.1-8 8.4-7.4 10-7.8 10-6.6 8-4.3 8-3.3 8-2.4z"/>
<path fill="#C0AE77" d="M1518.5 62l10.1-1.3 10 0.5 8 1.5 19.2 5.3 8.8 1.9 10 1.2 20 1.3 10 1.9 9.7 3.7 8.3 5 8 6.8 3.6 4.2 2.9 4 3.1 6 2 6 0.9 6-0.1 6-1 6-1.8 6-2.6 6-4.7 8-4.6 6-5.5 6-6.2 5.3-6 4.2-6 3.4-7.1 3.1-8.9 2.9-8 2-20 3.1-38 3.4-22 0.3-18-1.4-10-1.6-10-2.4-10-3.1-8-3.2-7.7-4-5.9-4-4.3-4-3-4-1.9-4-1.2-6 0.4-6 1.5-6 3.4-8 4.6-8 5.6-8 6.4-8 6.1-6.7 7.5-7.3 8.5-7.3 10-7.5 8-5 8-4.2 8-3.2 8-2.4z"/>
<path fill="#B7A372" d="M1519.4 64l11.2-1.2 10 0.6 8 1.5 18 4.7 8 1.6 8 1 20 1.7 10 1.9 10 3.9 6 3.4 4 2.8 4 3.3 4 4 5 6.8 3 6 1.8 6 0.6 6-0.4 6-1.2 6-2.1 6-4.1 8-4 6-4.9 6-5.7 5.6-5.5 4.4-6.1 4-6.4 3.3-6.8 2.7-7.2 2.2-10 2.3-10 1.6-14 1.7-18 1.7-16 1.1-20 0-18-1.8-10-1.9-10-2.6-8-2.7-8-3.5-7.4-4.1-5.3-4-3.9-4-2.7-4-1.6-4-0.8-6 0.7-6 1.8-6 3.7-8 4.7-8 5.7-8 6.6-8 5.7-6 8.8-8.2 8-6.5 8-5.6 8-4.7 8-3.8 8-3 8-2.1z"/>
<path fill="#AE976D" d="M1519.7 66l10.9-1.2 10 0.5 8 1.3 24 5.5 8 1.2 20 1.9 10 2.1 10 3.9 5.2 2.8 4.8 3.3 4 3.2 4 3.9 3 3.6 2.6 4 2.4 4.9 1.5 5.1 0.8 6-0.4 6-1.2 6-2.2 6-4 8-4.1 6-5 6-5.4 5.2-6 4.8-6 3.7-6 3-8 3.1-7.8 2.2-8.2 1.7-12 1.9-14 1.5-30 2.5-18 0-18-1.7-10-1.8-8.3-2.1-7.7-2.5-8.5-3.5-7.5-4-5.6-4-4.1-4-2.9-4-1.8-4-1-6 0.6-6 1.7-6 2.6-6 4.5-8 5.4-8 6.6-8.2 7.2-7.8 6.8-6.3 8-6.5 8-5.6 8-4.7 8-3.7 8-2.9 8-2.1z"/>
<path fill="#A68C68" d="M1519.6 68l11-1.3 6 0.1 6 0.5 8 1.3 22 4.8 26 3.2 10 2.1 10 3.8 10 6 4.4 3.5 4.1 4 3.2 4 2.3 3.6 2.1 4.4 1.6 6 0.4 6-0.6 6-1.5 6-2.4 6-3.3 6-4.1 6-4.2 5-5 5-5 4.1-6 4-6 3.1-8 3.2-8 2.4-8 1.8-22 3.1-32 2.8-18 0.2-18-1.6-10-1.8-8-2-8-2.6-8-3.3-6.6-3.4-5.9-4-4.3-4-3.1-4-1.9-4-1.2-6 0.4-6 1.7-6 2.6-6 4.4-8 5.4-8 6.3-8 7.5-8 6.5-6 7.6-6 6.6-4.6 8-4.6 8-3.7 8-2.9 8-2z"/>
<path fill="#9D8164" d="M1519.1 70l11.5-1.4 12 0.4 10 1.5 20 4.1 24 3.3 10 2.1 10 3.8 10 5.9 8 6.9 3 3.4 2.7 4 2.3 4.9 1.5 5.1 0.5 6-0.6 6-1.5 6-2.4 6-3.3 6-4.1 6-5.2 6-4.2 4-5.1 4-6.3 4-7.3 3.5-6 2.3-8 2.3-8 1.7-26 3.5-26 2.2-18 0.1-10-0.6-8-1.1-10-1.9-8-2.1-8-2.7-7.4-3.2-7.1-4-5.4-4-3.9-4-2.2-3.3-2-4.7-0.7-4 0.4-6 1.6-6 2.5-6 4.4-8 5.4-8 6.4-8.1 7.5-7.9 6.5-5.9 7.9-6.1 6.1-4 6-3.3 8-3.7 8-2.9 8-2z"/>
<path fill="#94765F" d="M1518.1 72l6.5-1.1 6-0.6 6-0.1 8 0.6 28 5.1 22 3.3 8 1.6 10 3.4 6 2.9 4.7 2.9 7.6 6 3.8 4 3 4 2.1 4 2 6 0.6 4-0.1 6-1.2 6-2.1 6-3 6-3.9 6-5 6-3.9 4-4.8 4-5.9 4-5.9 3.2-6.7 2.8-7.3 2.3-8 2-20 3-30 3-18 0.5-16-1.1-8-1.3-10-2.2-8-2.4-8-3-6-2.9-6.3-3.9-4.9-4-3.4-4-2.2-4-1.5-6 0-4 1.1-6 2.2-6 4.1-8 5.2-8 6.1-8 5.4-6 6.2-6.1 7.1-5.9 6.9-4.9 6-3.6 8-3.9 8-3.1 8-2.2z"/>
<path fill="#8C6B5A" d="M1531.4 72l9.2 0 8 0.8 42 7.2 12 2.7 9.3 3.3 4.7 2.3 6 3.7 5.2 4 4.8 4.9 3.7 5.1 2 4 1.3 4 0.7 6-0.4 6-1.5 6-3.4 8-3.6 6-4.6 6-5.9 6-5 4-6.2 4-7.1 3.5-6 2.3-14 3.7-10 1.7-16 2-26 2.4-18 0-14-1.3-14-2.8-14-4.6-6.4-2.9-5.6-3.2-4-2.8-4-3.7-2-2.4-2.3-3.9-1.4-4-0.4-4 0.3-4 1.4-6 2.5-6 4.4-8 3.9-6 6.2-8 7.3-8 6.1-5.6 6-4.7 6-4.1 8-4.4 6-2.7 6-2.2 8-2.2 8-1.5 6-0.6z"/>
<path fill="#836056" d="M1526.8 74l11.8-0.5 14 1.4 40.2 7.1 7.8 1.9 6 2 6 2.6 6 3.4 5.8 4.1 4.2 3.7 3.7 4.3 2.6 4 1.7 4 1.1 4 0.5 6-0.7 6-1.8 6-2.7 6-3.7 6-4.7 6-6 5.9-5.2 4.1-4.8 3-6 3.1-6 2.4-8 2.4-16 3.2-28 3.5-18 1.2-16-0.2-16-2.1-14-3.5-12.9-5-7.1-3.9-4-2.9-3.5-3.2-3.2-4-2-4-0.9-4-0.2-4 1-6 2.1-6 3-6 4.9-8 5.9-8 5.2-6 6-6 5.7-4.9 6-4.4 6-3.7 6-3.1 8-3.3 6-1.9 6-1.4 8-1.3z"/>
<path fill="#84625A" d="M1524.3 76l12.3-0.9 14 1 36 6.3 14 3.5 10.2 4.1 9.9 6 4.8 4 3.1 3.3 2.2 2.7 2.3 4 1.6 4 1.1 6-0.2 6-1.4 6-2.4 6-3.3 6-3.9 5.3-4 4.5-4.6 4.2-5.4 4-10 5.4-6.7 2.6-6.7 2-16.6 3.3-24 3-18 1.4-16-0.1-8-0.7-8-1.2-14.6-3.7-7.4-2.7-7.2-3.3-4.8-2.8-4.3-3.2-4.1-4-2.7-4-1.6-4-0.6-6 0.5-4 1.7-6 2.6-6 4.6-8 5.7-8 6.2-7.4 6-5.9 5.5-4.7 6.5-4.7 6-3.6 6-3 8-3.1 8-2.2 6-1.2z"/>
<path fill="#8B6B63" d="M1527.9 78l12.7-0.4 16 1.6 30 5.7 8 2.1 8 2.8 6 2.7 6 3.5 5.5 4 4.2 4 3.3 4 2.3 4 1.5 4 0.7 4 0.2 4-0.9 6-1.9 6-3.1 6-4.1 6-3.7 4.2-6 5.5-6 4.1-10 5-6 2.2-8 2.3-18 3.2-24 2.9-16 0.9-14-0.4-14-2-14.1-3.9-7.9-3.2-5.5-2.8-4.5-2.9-3.9-3.1-2.1-2.1-2.9-3.9-1.8-4-0.8-4 0-4 1.2-6 2.2-6 3.1-6 3.7-6 4.4-6 5-6 6-6 10-8 5.9-3.7 6-3.1 6-2.4 6-2 6-1.4 8-1.3z"/>
<path fill="#92746D" d="M1532.1 80l8.5-0.1 8 0.5 18 2.6 12 2.4 10 2.5 6.5 2.1 7.5 3.1 6 3.1 5.7 3.8 4.8 4 3.5 3.7 2.9 4.3 1.8 4 1 4 0.4 4-0.3 4-1.5 6-2.6 6-2.4 4-4.7 6-4 4-5 4-6.4 4-5.2 2.6-6 2.4-14 3.8-22 3.5-24 2.4-14 0.1-14-1.4-12-2.8-12-4.5-4.3-2.1-5.7-3.5-6-5.2-2.6-3.3-1.4-2.5-1.3-3.5-0.5-4 0.2-4 1.4-6 2.4-6 3.1-6 4-6 4.6-6 5.4-6 4.7-4.4 10.2-7.6 5.8-3.3 6-2.8 6-2.2 6-1.6 6-1.1 8-0.9z"/>
<path fill="#997D76" d="M1518.1 84l12.5-1.7 8-0.2 8 0.4 18 2.3 18 4 12 4 10.6 5.2 5.4 3.6 4 3.2 3.2 3.2 3.1 4 2.2 4 1.3 4 0.6 4-0.1 4-0.7 4-2.1 6-2.2 4-3.3 4.7-4 4.4-4 3.6-4.5 3.3-5.5 3.3-11.1 4.7-12.9 3.5-20 3.3-20 2.1-16 0.5-12-1-8-1.5-6-1.6-6-2.1-6-2.7-4.7-2.5-5.8-4-3.5-3.2-2.3-2.8-2.3-4-1.2-4-0.4-4 0.8-6 1.2-4 2.5-6 3.4-6 4.1-6 8.8-10 5.4-4.8 6-4.5 6-3.6 6-2.9 6-2.2 6-1.7z"/>
<path fill="#A08680" d="M1519 86l5.6-0.9 8-0.7 14 0.3 18 2.3 16 3.7 12 4.2 9.7 5.1 8.3 6.1 3.9 3.9 3.1 4 2.1 4 1.2 4 0.5 4-0.2 4-0.9 4-1.5 4-2.2 4-4 5.3-4 4.1-4 3.3-4.8 3.3-5.2 2.9-6 2.6-6 2.1-12 3-18 2.9-18 2-16 0.3-12-1.1-12-2.8-5.4-1.9-6.6-3-5.1-3-4.9-3.8-2.3-2.2-3.1-4-2-4-0.9-4-0.2-4 0.5-4 1-4 2.4-6 3.3-6 4.2-6 5.1-6 3.9-4 4.7-4 5.4-4 6-3.5 6-2.8 6-2.1 6-1.5z"/>
<path fill="#A78F89" d="M1519.9 88l12.7-1.4 14 0.3 16 1.9 16 3.7 12 4.5 9.1 5 4.9 3.5 4 3.6 2.7 2.9 3 4 2.7 6 0.7 4 0 4-0.8 4-1.5 4-2.3 4-3 4-3.8 4-4.8 4-8.9 5.5-11.1 4.5-12.9 3.3-16.3 2.7-17.7 2-16 0.3-10-1-6.7-1.3-5.3-1.5-6-2.2-4.8-2.3-3.5-2-5.5-4-5.4-6-2.2-4-1.2-4-0.3-4 0.3-4 0.9-4 2.3-6 3.2-6 2.7-4 4.9-6 3.8-4 4.5-4 5.3-4 5-3 6-3 6-2.2 6-1.5z"/>
<path fill="#AE9893" d="M1521.1 90l11.5-1.3 14 0.3 16 2 14 3.3 10 3.7 6 3 4.7 3 7.4 6 3.7 4 2.7 4 2.4 6 0.6 4-0.3 4-1.1 4-1.9 4-2.7 4-3.6 4-7.9 6.5-10 5.4-11.6 4.1-12.4 2.8-16 2.4-14 1.3-14 0.1-10-1.1-6.7-1.5-5.3-1.7-9.3-4.3-3.2-2-4.9-4-4.9-6-1.9-4-0.9-4-0.2-4 0.5-4 1-4 2.5-6 3.3-5.6 3.2-4.4 3.5-4 5.3-5.2 9.3-6.8 4.7-2.6 6-2.5 10-2.8z"/>
<path fill="#B5A19C" d="M1522.5 92l12.1-1.2 14 0.6 16 2.2 12 3.2 10 4 8.6 5.2 7.4 6.5 2.9 3.5 2.5 4 2 6 0.3 4-0.7 4-1.5 4-1.5 2.7-2.3 3.3-3.7 4-7.7 6-8.3 4.5-10 3.7-12 2.9-16 2.5-14 1.2-14-0.1-10-1.3-5.8-1.4-5.7-2-7.8-4-3-2-4.5-4-4.4-6-2.1-6-0.4-4 0.3-4 1-4 1.4-4 3-5.7 3-4.3 7.2-8 4.6-4 5.2-3.6 4.1-2.4 5.9-2.7 10-2.9z"/>
<path fill="#BCAAA5" d="M1524.4 94l12.2-1 12 0.5 14 2 12 3.1 10 4.1 8 4.9 7.1 6.4 4.2 6 2.2 6 0.2 6-1.1 4-2 4-4.7 6-7.2 6-4.7 2.9-6 3-10 3.5-12 2.7-14 2-14 1-12-0.4-10-1.6-9.6-3.1-7.3-4-3.1-2.3-3.9-3.7-4-6-1.8-6-0.2-4 0.4-4 1.1-4 1.7-4 5.1-8 3.4-4 4.2-4 8.1-6 3.9-2.2 6-2.7 10-2.8z"/>
<path fill="#C3B3AF" d="M1526.7 96l11.9-0.8 12.5 0.8 13.5 2.3 12 3.6 8.5 4.1 3.5 2.2 4.7 3.8 5.3 6 3 6 0.9 4-0.1 4-2 6-4.2 6-6.7 6-6.9 4.4-10 4.3-10 2.8-12 2.2-12 1.2-12 0.2-10-0.8-9.8-2.3-8.2-3.5-6.7-4.5-3.3-3.2-2.2-2.8-3-6-0.9-6 0.3-4 1-4 1.6-4 2.3-4 4.9-6.2 6.2-5.8 9.2-6 8.6-3.6 10-2.4z"/>
<path fill="#CABCB8" d="M1529.9 98l10.7-0.5 12 1 12 2.2 10 3.2 8 3.8 6.1 4.3 5.7 6 3.2 6 0.9 6-1.3 6-3.6 6-6.1 6-8.9 5.7-8 3.5-10 2.9-11.2 1.9-12.8 1-10 0-10-1.2-8-2.2-7.7-3.6-5.5-4-2.8-2.7-2.6-3.3-2.7-6-0.8-6 0.5-4 1.2-4 3.3-6 4.9-6 7.1-6 7.1-4.3 9.5-3.7 8.5-1.8z"/>
<path fill="#D1C5C2" d="M1535.5 100l9.1 0.1 12 1.5 10.3 2.4 9.7 3.8 7.1 4.2 4.9 4.4 3.9 5.6 1.8 6 0.1 2-0.7 4-3 6-5.5 6-6.6 4.8-8 4-9.9 3.2-10.1 1.9-10 0.9-10 0.1-8-0.7-8-1.7-6.5-2.5-6.6-4-4.9-4.5-3.8-5.5-2-6 0.2-6 2.1-6 4-6 6.2-6 5.7-4 7.9-4 7.7-2.4 10-1.6z"/>
<path fill="#D8CECB" d="M1526.4 104l8.2-1.3 8-0.2 10 1 10 2.1 8 2.7 7.3 3.7 5.2 4 3.5 4 2.2 4 1 4 0.1 2-1.3 5.5-2.6 4.5-5.8 6-5.7 4-7.9 3.8-6.9 2.2-9.1 1.8-10 0.9-10-0.2-8-1-8-2.2-6-2.9-5.8-4.4-3.6-4-2.6-4.6-1.3-5.4 0.6-6 2.8-6 3.9-4.8 6.1-5.2 7.9-4.6 8-2.9z"/>
<path fill="#DFD7D5" d="M1531.7 106l8.9-0.7 8 0.4 8 1.4 8 2.2 6.4 2.7 6.3 4 4.1 4 2.4 4 1.1 4-0.3 5-2.1 5-3.1 4-4.5 4-6.4 4-7.9 3.2-8 1.9-8 1.1-8 0.2-8-0.7-8-1.7-6-2.4-5.7-3.6-4.3-4.2-3.4-5.8-1-4 0.1-4 0.4-2 1.9-4.2 4-5.2 5.3-4.6 6.7-3.9 6-2.4 6-1.5z"/>
<path fill="#E6E0DE" d="M1528.9 110l7.7-1.4 6-0.3 6 0.4 8 1.5 6 1.9 6 2.8 4.6 3.1 3.8 4 2.1 4 0.6 4-0.6 4-2.5 4.7-2.8 3.3-5.2 4.2-7.4 3.8-6.3 2-6.3 1.2-8 0.6-8-0.4-7.3-1.4-5.7-2-5-2.8-3.9-3.2-3.1-4-1.7-4-0.5-4 0.6-4 2.6-5 4-4.5 4-3 6-3.3 6-2.1z"/>
<path fill="#EDE9E7" d="M1538.2 112l6.4-0.2 6 0.7 6 1.4 5.3 2.1 4.7 2.8 3.7 3.2 2.3 3.5 0.9 2.5 0.1 4-1.3 4-1.7 2.7-3.1 3.3-4.9 3.5-5.3 2.5-4.7 1.5-6 1-6 0.4-6-0.4-4-0.7-6-1.8-4.2-2-3.8-2.8-2.9-3.2-2-4-0.5-4 0.7-4 2.2-4 2.5-2.8 4-3.2 4-2.2 6-2.3 6-1.3z"/>
<path fill="#F4F2F1" d="M1539.9 116l4.7-0.2 4 0.4 4 0.9 4 1.5 2.8 1.4 3.2 2.4 2 2.2 1.8 3.4 0.4 2-0.5 4-1.7 3.3-2.3 2.7-5.7 4-5 2-5 1.1-6 0.3-4-0.4-5.1-1-4.9-1.9-3.5-2.1-2.2-2-2.3-3.5-0.8-2.5-0.1-2 1.1-4 1.2-2 2.6-2.9 4-2.9 4-1.9 8-2.2z"/>
<path fill="#FBFBFA" d="M1537 122l3.6-0.8 4-0.1 5.3 0.9 4.7 2.4 1.8 1.6 1.3 2 0.7 2 0.1 2-0.5 2-1 2-1.7 2-2.6 2-4.1 1.9-6 0.9-6.6-0.8-4.8-2-2.6-2-1.6-2-0.7-2-0.2-2 0.5-2 1.2-2 1.8-2 2.7-2 4.3-1.9z"/>
</g>
<path fill="none" stroke="#000" stroke-width="0.8" stroke-linejoin="round" d="M1571.5 24l1.5 4 2.6 4 3 2.4 2 0.8 2 0.2 2-0.1 2-0.5 2-1.1 1.8-1.7 2.8-4 1.6-4M1699.3 24l3.3 20 2 8.5 14.7 47.5 2.6 10 1.6 8 1.5 12 0.2 12-1.2 12-1.9 8-3.9 10-2.3 4-2.9 4-6 6-2.7 2-5.7 3.3-8 3.2-8 1.8-10 1.3-16 1.1-8 0.9-8 1.3-6 1.4-10.2 3.7-7.8 4-5.6 4-4.2 4-1.6 2-2.1 4-0.5 2 0 2 0.5 2 1 2 1.5 2 2.1 2 4.9 3.4 6 3 8 3 15 4.6 4.9 2 3.9 2 4.2 3 3.3 3 2.8 4 1.5 4-0.2 4-0.7 2-1.4 2-3.3 2.7-2.7 1.3-7.3 2.7-6 1.5-10 1.7-4 1.4-2 1.1-1.6 1.6-1.9 4M1468.6 213.9l-12.7 2.1-11.3 2.9-7.2 3.1-6.1 4-2 2-1.2 2-0.3 2 0.9 2 2.4 2 1.5 0.8 2.8 1.2 5.2 1.6 10 2 10 0.8 26 1.1 10 0 6-0.4 12-1.6 8-2.1 3.3-1.4 3.2-2 2.2-2 1-2 0.1-2-0.7-2-1.6-2-2.2-2-2.9-2-3.7-2-6-2-14.7-3-12-1.4-10-0.5-10 0.8M1398.4 294l-1.8-3.6-2-2-4-2.2-8-3.2-4-2.2-3-2.8-1.4-2-0.9-2-0.8-4 0.1-4 1.2-6 2.7-10 0.5-4-0.2-4-1.3-4-2.1-4-12.1-18-6-10-3.9-8-2.3-6-2.1-8-1.1-10 0.2-8 1.7-10 1.6-6 2.2-6 2.5-6 3.1-6 3.6-6 4-6 4.6-6 5.1-6 8.1-8.4 10-8.8 8-6.1 26-18.7 12-10.1 6-6 6-7.1 12.9-18.8M1552.2 24l2.4 2.2 2 2.5 5.5 9.3 3.7 4 2.4 2 4.4 2.5 4 1.5 4 0.7 4 0.2 4-0.4 4-1.1 4-1.9 4-2.7 4.7-4.8 6.4-10 4-4M1664.9 24l3.1 4 1.8 4 5.6 16 9.5 26 5 16 1.9 8 1.6 8 1 8 0.4 8-0.2 8-0.7 6-1.2 6-1.9 6-2.7 6-2.4 4-4.9 6-4.4 4-5.8 4.2-8 4.7-8 3.9-10 4.4-10 3.9-16 5.4-18 5-18 3.5-10 1.4-14 1.4-12 0.9-12 0.3-14-0.7-14 0.1-14-0.8-14-1.2-16-0.3-22-1-14-0.3-8-0.8-6-1-6-1.9-4-1.8-4.9-3.3-4.2-4-3-4-3.3-6-1.5-4-1.6-6-0.9-6-0.1-8 0.6-6 1.3-6 2-6 2.7-6 3.6-6 4.3-6 6.9-8 8.1-8 25.4-22 8.6-7.9 9.7-10.1 16.3-17.9 8-8 8-7.2 9.2-6.9M1518.1 38l6.5-0.8 6 0 6 0.9 4 1.2 4 1.6 4 2.1 12 7.5 8 4.4 8 3 8 1.6 8-0.1 7.6-1.4 6.4-2 16-6.2 4-1.2 4-0.8 4-0.2 4 0.6 4 1.4 4 2.4 4 3.7 4 5.1 4 6.6 3.2 6.6 4.1 10 3.4 10 2.6 10 1.5 8 0.5 6 0 6-0.6 6-1.4 6-2.2 6-2 4-3.1 5.1-3.7 4.9-7.5 8-7.1 6-9.1 6-4.6 2.5-8 3.7-10.4 3.8-15.1 4-16.5 2.9-16 1.8-26 2.1-20 0.7-18 0-18-1.2-20-2.4-10.3-1.9-11.7-2.6-8-2.2-6-2.2-4-2-4.6-3-4.1-4-1.5-2-2.3-4-1.7-4-1-4-0.9-8 0.5-8 2.1-8 2.6-6 4.9-8 6.3-8 9.5-10 25.4-24 20.8-20.8 8-7.4 8-6.2 6-3.8 8-3.7 7.5-2.1M1519.4 60l9.2-1.1 6 0.2 4 0.4 8 1.6 22 6.5 8 1.6 10 1 18 0.8 8 1.1 6 1.6 6 2.3 6 3.2 4 2.7 4 3.2 4 4 4 4.8 2 3 2 3.6 2 4.7 1.4 4.8 0.6 4 0.1 8-0.5 4-1.5 6-3.3 8-3.4 6-2.7 4-6.6 8-6.3 6-8.3 6-9.5 5-10 3.8-12 3.1-12 2-16 1.8-24 2.1-18 0.8-16-0.3-14-1.3-14-2.6-14-3.9-11.3-4.5-4.7-2.4-5.7-3.6-4.8-4-1.8-2-2.8-4-1-2-1.3-4-0.5-6 0.9-6 2.7-8 4.1-8 5.2-8 7.7-10 9-10 8.4-8 11.9-9.9 10-7.1 10-5.7 10-4.3 6-1.9 4.8-1.1M1524 76l10.6-0.9 12 0.5 10 1.3 28 5.1 10 2.1 8 2.4 8 3.4 7.3 4.1 6.7 5.1 4.7 4.9 3.9 6 2.1 6 0.6 6-0.3 4-0.8 4-1.2 4-1.7 4-3.4 6-4.4 6-5.7 6-7.7 6-7 4-7.1 3.1-10 3.1-12 2.5-12 1.7-18 2.2-16 1.1-12 0.1-12-0.9-12-2-10.7-2.9-10.5-4-8.8-4.8-6-4.6-4-4.6-2.1-4-0.6-2-0.7-4 0.5-6 1.7-6 3.7-8 4.9-8 5.9-8 7.2-8 7.5-6.9 8-5.9 8-4.6 8-3.6 10-3.2 9.4-1.8M1526.3 88l8.3-0.5 8 0.1 10 0.8 12 1.8 10 2.2 8 2.5 7.4 3.1 6.6 3.6 6.3 4.4 4.5 4 3.5 4 3.6 6 1.2 4 0.5 4-0.1 2-1.4 6-1.9 4-4.2 5.9-4 4.1-4.9 4-6.4 4-6.7 3.2-7.9 2.8-8.1 2.1-9.7 1.9-13.8 2-10.5 1.1-10 0.5-10-0.2-10-1.2-8-2-6.2-2.2-7.9-4-5.6-4-4.1-4-2.8-4-1.4-3-0.9-3-0.5-4 0.7-6 1.8-6 2.9-6 3.9-6 4.9-6 6.1-6 7.1-5.4 8-4.6 6-2.5 8-2.2 7.7-1.3M1532.3 100l6.3-0.3 6 0.1 8 0.9 7.5 1.3 6.5 1.7 6 2 5.1 2.3 4.9 2.9 4 3.1 3.8 4 2.6 4 1.4 4 0.3 2-0.1 4-1.2 4-2.3 4-3.3 4-4.6 4-4.6 3.1-4 2.1-6 2.6-4 1.3-6 1.6-7.3 1.3-6.7 0.7-8 0.5-8-0.2-6-0.6-6-1.1-4.4-1.3-4.9-2-4.7-2.8-4.1-3.2-3.7-4-2.2-3.5-1.2-2.5-1-4-0.1-4 0.8-4 1.6-4 2.5-4 3.4-4.1 4.2-3.9 5.8-4.1 6-3.2 6-2.3 6-1.6 5.7-0.8M1538.1 118l6.5-0.5 6 0.9 4.6 1.6 3.4 1.9 2 1.7 1.9 2.4 1 2 0.5 2 0 2-0.5 2-0.9 2-1.4 2-1.9 2-2.7 2-4 2-4 1.2-6 0.7-4-0.1-6-1.2-5.9-2.6-2.6-2-1.8-2-1.2-2-0.6-2 0.1-2.9 1.1-3.1 2.9-3.6 3.1-2.4 4.9-2.5 5.5-1.5"/>
</g>
<rect x="1296.6" y="30" width="488.2" height="256.3" fill="none" stroke="#000" stroke-width="2.3"/>
<path d="M1296.6 286.3v5.6M1459.3 286.3v5.6M1622.1 286.3v5.6M1784.8 286.3v5.6" stroke="#000" stroke-width="2.3" fill="none"/>
<path d="M1378 286.3v3.3M1540.7 286.3v3.3M1703.4 286.3v3.3" stroke="#000" stroke-width="2.3" fill="none"/>
<text x="1296.6" y="323" font-size="27.1" text-anchor="middle">0</text>
<text x="1459.3" y="323" font-size="27.1" text-anchor="middle">5</text>
<text x="1622.1" y="323" font-size="27.1" text-anchor="middle">10</text>
<text x="1783.8" y="323" font-size="27.1" text-anchor="middle">15</text>
<path d="M1296.6 30h-6.2M1296.6 101.2h-6.2M1296.6 172.4h-6.2M1296.6 243.6h-6.2" stroke="#000" stroke-width="2.3" fill="none"/>
<text x="1279.5" y="39.6" font-size="27.1" text-anchor="end">3.0</text>
<text x="1279.5" y="110.8" font-size="27.1" text-anchor="end">2.5</text>
<text x="1279.5" y="182" font-size="27.1" text-anchor="end">2.0</text>
<text x="1279.5" y="253.2" font-size="27.1" text-anchor="end">1.5</text>
<text x="1540" y="357.9" font-size="29" text-anchor="middle">k (Å<tspan font-size="20.5" dy="-13">−1</tspan><tspan dy="13">&#8203;</tspan>)</text>
<text transform="translate(1215.3 158.6) rotate(-90)" font-size="28.7" text-anchor="middle">R+ΔR(Å)</text>
<text x="1188.5" y="30.5" font-size="41.5" font-weight="bold">c</text>
<text x="1540.7" y="139.1" font-size="27.3" text-anchor="middle" font-weight="bold">Co-Co</text>
<text x="1477" y="266" font-size="27.3" text-anchor="middle" font-weight="bold">Co-N</text>
<defs><linearGradient id="cbc" x1="0" y1="1" x2="0" y2="0"><stop offset="0%" stop-color="#333399"/><stop offset="10%" stop-color="#0099FF"/><stop offset="15%" stop-color="#00CC66"/><stop offset="40%" stop-color="#FFFF99"/><stop offset="60%" stop-color="#805C54"/><stop offset="100%" stop-color="#FFFFFF"/></linearGradient></defs><rect x="1805" y="32.2" width="12" height="254.1" fill="url(#cbc)" stroke="#5A5A5A" stroke-width="1.1"/>
<path d="M1817 285.7h8M1817 224.6h8M1817 163.5h8M1817 102.4h8M1817 41.3h8" stroke="#333" stroke-width="1.2" fill="none"/>
<text x="1836" y="294" font-size="25">0</text>
<text x="1836" y="232.9" font-size="25">2</text>
<text x="1836" y="171.8" font-size="25">4</text>
<text x="1836" y="110.7" font-size="25">6</text>
<text x="1836" y="49.6" font-size="25">8</text>
<!-- panel_d -->
<defs><clipPath id="cld"><rect x="1297.5" y="392.8" width="488.5" height="257.2"/></clipPath></defs>
<g clip-path="url(#cld)">
<g filter="url(#hblur)">
<rect x="1293.5" y="388.8" width="496.5" height="265.2" fill="#31389E"/>
<path fill="#2C42A8" d="M1402.8 388.8l2.6-2 358.5 0 0 8 2.1 16 1.2 16 3.5 18 1.4 16 0.7 4 10.7 29.1 6.8 16.9 1.8 6 1.4 6.4 0 133.6-502 0 0-186.4 16.7-21.6 5.7-10 5.6-13.5 2.3-4.5 3.1-4 4.6-3.9 8-4.1 10-2.9 8-0.9 14-0.2 8-1.6 6-2.2 4-2 6-3.6 8-5.7zM1517.5 588.6l-0.6 0.2 0 2 2.6 0.4 1.8-0.4-0.1-2-1.7-0.4zM1663.5 556.7l-2 0.1-3.1 2-0.4 2 1.5 1.5 2 0.8 2 0.2 3.3-0.5 2.6-2-0.3-2-4.3-2z"/>
<path fill="#274CB2" d="M1413.5 388.8l2.4-2 336.7 0 0 6 0.6 6 2.5 16 1.7 14 4.2 20 2.2 18 1.7 6.5 5.7 17.5 8.1 20 2.5 8 0.8 4 0.5 6-1.4 20 0.4 8 2.4 10 9 26.7 0 63.3-502 0 0-163.7 2.9-4.3 5.1-5.6 16.6-14.4 16.9-16 5.2-6 7.6-10 3.8-4 5-4 4.9-3.2 20-10.7 8-5 8-6 16-13.5zM1519.5 586.8l-4 0.6-2.7 1.4-0.1 2 2.8 1.5 2 0.5 4-0.1 2-0.7 2-1.2-0.3-2-1.7-1-3.5-1zM1659.5 554.6l-4.8 2.2-2.1 2-0.5 2 1 2 2.5 2 3.9 1.4 4 0.6 6-0.5 5-1.5 3-2 1.2-2-0.2-2-1.7-2-4.7-2-6.6-0.9-4 0.3z"/>
<path fill="#2256BC" d="M1421.9 388.8l2.1-2 321.1 0 0.1 6 0.7 6 5.6 32 3.6 18 4.4 27 4.5 19 6.6 18 2.1 8 0.3 8-0.9 6-2.4 10-1 6-0.2 4 0.5 4 2.1 6 6.7 14 3.2 8 5.2 16 7.3 27.2 0 26.8-502 0 0-140.7 3-7.3 4.4-8 4.6-6.1 6-5.9 16-14 16-15.2 6-6.8 7.8-10 5.7-6 6.5-5.2 16-10.3 8-5.8 30-26.3zM1513.5 586.5l-3.5 2.3-0.2 2 1.7 1.6 4 1.3 4 0.2 4-0.3 2.7-0.8 1.3-1.1 0.8-0.9-0.3-2-2.5-1.9-2-0.6-4-0.5-4 0.3zM1659.5 552.6l-6.3 2.2-3.7 2.3-1.3 1.7-0.2 2 1.5 2.9 4.1 3.1 5.9 2 6 0.5 8-0.6 7-1.9 3.8-2 2.2-2 0.9-2-0.2-2-1.4-2-4.3-2.7-6-1.7-8-0.7-6 0.5z"/>
<path fill="#1D5FC5" d="M1428.6 388.8l1.8-2 308.7 0 0.3 6 1 8 10.4 54 6.2 40 1.5 6 4.4 14 1.2 6 0.2 4-0.8 6-1.7 6-5.2 14-0.8 4 0.3 4 2.5 6 11.4 18 3.5 8 2.9 10 5.7 26 7.7 30-498.3 0 0-109.7 1.7-10.3 1.8-8 2.5-8 2.6-6 4.6-8 6-8 5.9-6 16.9-15.6 14-14 4-4.6 8.8-11.8 5.2-5.7 6-5.1 14-9.4 10-7.5 32-29.2zM1511.5 586l-1.9 0.8-2.2 2-0.2 2 1.6 2 2.7 1.2 3.7 0.8 6.3 0.1 4-0.4 4.1-1.7 1.4-2-0.3-2-2.3-2-2.9-1.1-4-0.8-4 0-4 0.5zM1661.5 550.5l-8.3 2.3-4.4 2-2.6 2-1.1 2-0.2 2 0.6 2 1.4 2 2.2 2 3.6 2 6.8 2 8 0.7 10.7-0.7 8.6-2 4.7-2 3-2 1.8-2 0.8-2 0-2-1.1-2-2.5-2-4.1-2-6.7-2-9.2-1-10 0.4z"/>
<path fill="#1869CF" d="M1434.1 388.8l1.7-2 298.2 0 1.6 16 11.1 56 4.8 37.9 4 18.1 0.6 6-0.1 4-0.7 4-2.9 8-4.9 7.6-8.2 8.4-1.4 2-0.6 2 0.3 2 1.1 2 2 2 8.8 7.5 6 6.3 6 8.2 3.3 6 1.4 4 1.6 6 3.9 24 7.6 32-487.8 0 0-66.1 3.3-27.9 3.8-24 3.3-12 4.4-10 4.8-8 6-8 5.6-6 14.8-14 14-14.8 4-4.6 9.3-12.6 3.6-4 7.1-6.1 14.5-9.9 7.8-6 15.7-14.9 14.8-13.1 5.2-5.3zM1511.5 584.7l-4.6 2.1-1.9 2-0.2 2 1.2 2 1.5 1 2 1 4 0.9 10 0.1 4-0.5 4-1.8 0.9-0.7 1.2-2-0.4-2-2-2-3.7-1.7-4-0.9-6-0.1-4 0.3zM1663.5 548.7l-10 2.4-4.6 1.7-3.5 2-1.9 2-1 2-0.1 2 1.1 3.3 2 2.5 2.9 2.2 3.1 1.6 8 2.3 12 0.9 13.9-0.8 9.1-2 5.2-2 3.6-2 5-4 1.3-2 0.4-2-0.9-2-2.4-2-4-2-5.9-2-8.7-2-10.6-1.1-12 0.7z"/>
<path fill="#1373D9" d="M1438.9 388.8l1.4-2 288.9 0 2.3 20 4.9 22 7 38 2.3 26 3 24 0 4-0.5 4-2.3 6-4.3 6-4.1 3.3-6 2.9-8 2.7-8 1.5-6 0.4-8-0.3-20-1.7-8 0.4-10 1.3-10 2.4-8.1 3.1-2.8 2-1.6 2-0.9 2-0.2 2 0.4 2 1 2 1.5 2 2.7 2.4 6 3.2 8 2.1 16 1.3 14-0.2 10-1.6 16-4.3 8-0.8 4 0.4 6 1.8 6 2.9 4 2.7 4.6 4.1 4.9 6 2.5 4.1 2.4 5.9 2 8 3 22 6.7 30-478.1 0 0-27.3 3-14.7 1.9-12 3.8-40 1.7-14 1.9-10 2.3-8 2.4-6 4-8 6.1-10 4.7-6 5.7-6 10.6-10 15.9-17.5 11-14.5 5-5.7 6-5.3 16.1-11 7.7-6 14.2-14 16-14 6-6.3zM1509.5 584.3l-5 2.5-1.6 2-0.3 2 0.9 1.9 2.7 2.1 3.3 1.2 4 0.7 12 0.1 4-0.8 3.1-1.2 2.4-2 0.9-2-0.4-2-1.8-2-3.7-2-4.5-1.2-8-0.3-6 0.5z"/>
<path fill="#0E7DE3" d="M1443 388.8l1.2-2 280.3 0 2.8 22 5 22 6.6 36 2.1 32 0.5 12-0.4 8-0.9 4-0.7 1.6-3.6 4.4-4.4 3.4-10 5.5-8 3.4-6 1.6-6 0.9-24 0.3-10 1.3-10 2.1-10 3-5 2.5-2.5 2-1.5 2-0.8 2-0.2 2 1.3 4 1.4 2 3.3 3.2 4.6 2.8 7.4 2.6 10 1.5 24 1.9 10-0.5 14-1.8 8 0 6 1.1 4 1.4 4 2 4 2.7 3.4 3.1 3.1 4 2.1 4 2.1 6 1.5 8 2.2 18 6.3 30-465.7 0 7.2-46 1.7-18 2-34 1.4-12 1.8-8 2.5-8 3.4-8 4.2-8 3.6-6 4.4-6 4.8-5.2 12-11.6 16.6-19.2 9-12 4.4-5.1 6-5.3 16.9-11.6 7.1-5.5 14-14.1 16.7-14.4 7.4-8zM1513.5 582.6l-6 1.3-2.2 0.9-3 2-1.5 2-0.3 2 0.8 2 2.2 2.1 4 1.8 2 0.5 4 0.5 12 0.1 5.9-1 4.2-2 1.9-2 0.7-2-0.4-2-2.3-2.4-2.5-1.6-3.5-1.2-6-1.1-8 0z"/>
<path fill="#0987ED" d="M1446.5 388.8l1-2 272.4 0 3.3 24 4.6 20 6.6 36 1.1 24 0.1 10-1.1 10-1.7 6-3.3 5.2-4.8 4.8-10 8-5.2 2.9-4 1.6-6 1.3-6 0.6-12 0.5-10 1.4-12 2.4-10 2.8-6.5 2.5-3.5 2.2-2 1.8-1.4 2-0.7 2-0.2 2 0.4 2 1.9 3.8 4 4.2 6 3.6 6 2.1 8 1.6 30 4 8 0.3 14-0.5 4 0.3 4 0.8 4 1.4 4 2 3.4 2.4 2.6 2.4 2.7 3.6 2 4 1.2 4 1.1 6 2 18 4.8 22 1.3 8-447.5 0 2.1-16 2.5-26 1.3-24 1-32 0.9-10 1.6-8 2.3-8 3.3-8 5-10 3.4-6 4.6-6 14.4-14.2 18.2-21.8 7.8-10.4 4-4.6 6-5.3 17.2-11.7 6.8-5.3 12.3-12.7 19.7-17.1 4.8-4.9 3.2-4.2zM1509.5 582.4l-6.7 2.4-2.6 2-1.4 2-0.4 2 0.7 2 1.8 2 4.6 2.4 6 1.3 14 0.3 4-0.4 6-1.8 2.8-1.8 1.8-2 0.6-2-0.5-2-1.7-2-2.8-2-2.2-1-6-1.6-6-0.5-10 0.3zM1589.5 388.3l-2 1.7-0.6 2.8 0.6 2.2 2 1.3 2-0.6 0.8-0.9 0.6-2-0.2-2-1.2-2.1z"/>
<path fill="#0491F7" d="M1450.3 386.8l136 0-0.8 1.4-0.7 2.6 0.4 4 1.1 2 1.2 1.1 2 0.9 2-0.4 2-1.4 1.2-2.2 0.5-4-1.2-4 121.5 0 3.8 26 4.4 20 6.2 34 0.6 14 0 16-1.1 8-2.7 8-3.7 6-8.5 10-4.3 4-4.7 2.9-4 1.5-4 1-18 1.9-12 2.4-10 2.3-12 3.6-5.5 2.4-4.5 3.5-1.8 2.5-0.7 2 0 2 0.5 2.5 1.7 3.5 3.5 4 4.8 3.5 6 2.7 8 2.1 16 2.5 20 4.2 22 2.1 4 1.5 5.1 3.4 2 2 2.8 4 2.4 6 1 6 1.8 18 4.7 20 1.1 8-428.8 0 1.4-14 0.9-24 0.5-30 0-28 0.4-10 1.4-8 2.7-10 3.1-8 4.8-10 3.5-6 3-4 14.2-14.3 7.6-9.7 10.4-12.2 9-11.8 3-3.3 6-5.1 16-10.9 8-6.2 12-12.6 14.2-11.9 7.8-7.2 5.8-6.8 2.2-4zM1505.5 582.5l-5 2.3-2.5 2-1.4 2-0.4 2 0.6 2 1.7 2 2.9 2 5.5 2 4.6 0.7 16 0.2 6-1 4.7-1.9 2.9-2 1.7-2 0.6-2-0.6-2-1.7-2-2.8-2-4.8-2.1-8-1.6-12-0.1-6 1z"/>
<path fill="#0099FF" d="M1452.8 386.8l131.2 0-0.9 4 0.4 4 0.9 2 1.6 2 1.5 1.1 2 0.6 2-0.2 2-1.1 2.2-2.4 1.2-4 0.1-2-0.5-4 114.6 0 4.4 28 6.3 30 3.8 24 0.4 14-0.5 12-1.4 8-2.8 8-3.2 6-7 10-3.9 4-3.7 2.5-4 1.8-4 1.1-16 2.3-6 1.2-18 4.5-12 3.6-6 2.8-3 2.2-1.9 2-1.2 2-0.6 4 1 4 1.7 3 2 2.4 4 3.6 6 3.4 10 3.1 14.7 2.5 8.1 2 17.2 5.3 14 3.6 3 1.1 3 2.1 3.1 3.9 2.3 6 0.9 6 0.9 14 0.8 6 1.3 6 3.7 12 0.6 6-409.7 0 0.9-8 0.3-10-1.1-56-0.7-20 0.3-12 1.5-10 2-8 3-8 4.5-10 2.3-4 2.8-4 14.3-14.7 7-9.3 11.9-14 9.2-12 5.9-5.3 18-12.3 8.1-6.4 9.9-10.9 16-13.4 8-7.5 5.3-6.2 3.2-6zM1509.5 580.7l-7.5 2.1-3.8 2-2.5 2-1.4 2-0.5 2 0.6 2 1.6 2 2.7 2 2.8 1.4 6 1.8 6 0.5 16 0 4-0.6 4-1.2 3.9-1.9 2.7-2 1.5-2 0.6-2-0.6-2-1.7-2-2.9-2-4.1-2-7.2-2-6.2-0.6-12 0.2z"/>
<path fill="#009EEF" d="M1453.5 388.8l0.7-2 128.6 0-0.5 6 1.1 4 2.1 2.8 2 1.3 2 0.5 2-0.1 2-0.9 1.9-1.6 1.4-2 1.2-4-0.2-6 110.6 0 1 8 5.3 30 5.2 24 2.1 14 1 10 0.1 12-0.8 10-2.2 10-3 8-4.6 8-4.2 6-2.8 2.8-4 2.7-6.5 2.5-21.5 4-18 4.6-14 4.3-6 3-2.6 2.1-1.7 2-1.2 2-0.6 4 0.9 4 3.2 5.1 4 3.9 6 3.7 4 1.6 6 1.8 16 2.9 10.1 3 24.3 10 3.3 2 2.3 2 2.6 4 1.2 4 0.5 4 0.3 12 0.5 6 2 12 3.1 14-395.8 0 0.9-8 0-16-1.1-16-1.1-38-1.1-16 0.1-8 1.2-12 1.6-8 2.5-8 5.2-12 2.3-4 3-4 13.6-14 7.3-10 11.2-13 6.7-9 3.3-3.8 6-5 16-10.9 8.1-6.3 3.9-3.8 4-5 4-4 14-11.4 8-7.5 6-6.9 3.1-5.4zM1507.5 580.5l-7.2 2.3-3.6 2-2.5 2-1.5 2-0.6 2 0.6 2 1.6 2 2.6 2 4 2 6.6 1.9 4 0.4 14 0.2 7.1-0.5 7-2 3.9-2 2.5-2 1.5-2 0.5-2-0.5-2-1.7-2-2.9-2-4.1-2-7.3-2.2-8-0.9-10 0.1-4 0.4z"/>
<path fill="#00A3E1" d="M1455.2 386.8l126.8 0-0.4 6 1.1 4 1.2 2 1.6 1.6 2 1.2 2 0.5 2-0.2 2.6-1.1 2.2-2 1.2-1.9 1.2-4.1 0-6 107.8 0 0.9 8 5.8 32 3.4 14 1.5 8 2.9 24 0.2 10-0.8 10-2.6 12-2.9 8-3.1 6-3.7 6-3.7 4-2.9 2.1-3.9 1.9-4.1 1.3-20 4-18 4.7-16 5.1-5.4 2.9-2.6 2.3-2.4 3.7-0.7 4 0.9 4 2.2 4 4 4.4 6 4.2 4 1.9 6 1.9 18.4 3.6 9.6 3.2 10.7 4.8 7.5 4 3.1 2 4.3 4 2.2 4 1 4 0.4 16 1.7 12 1.1 10.4 1.7 7.6-386.4 0 0.7-6 0-20-1.4-14-0.2-12-1.1-14-0.2-14-1.1-12-0.1-8 1.1-14 1.5-8 2.4-8 4.1-10 2.1-4 2.9-4.2 14-14.8 6.6-9 11.9-14 9.5-12.3 6-5.2 15.5-10.5 7.8-6 4.7-4.3 4.6-5.7 3.4-3.5 18-14.9 6-5.9 4-4.7 3.2-5 1.8-4zM1505.5 580.6l-6 2-3.9 2.2-2.5 2-1.6 2-0.6 2 0.6 2 1.6 2 2.6 2 5.8 2.8 4 1.2 4 0.6 18 0.4 7.7-1 6.3-2.1 3.5-1.9 2.4-2 1.4-2 0.5-2-0.5-2-1.6-2-2.8-2-4.1-2-6-2-4.8-1-6-0.4-8 0-8 0.7z"/>
<path fill="#00A8D3" d="M1455.4 388.8l0.8-2 125.1 0-0.3 6 1.1 4 1.1 2 1.9 2 2.4 1.4 2 0.5 2-0.2 2-0.7 2-1.3 2-2.4 1.4-3.3 0.4-2 0.2-6 105.2 0 0.8 7.6 3.3 16.4 2.7 16.8 3.3 13.2 1.6 8 2.8 26 0 10-0.9 8-3.2 14-3 8-3.1 6-2.6 4-2.9 3.1-4 2.8-6 2.4-18 3.8-20 5.4-16 4.9-4 1.9-4.8 3.7-2.6 4-0.7 4 0.8 4 2.1 4 3.4 4 5.8 4.5 4 2 6 2.2 6 1.5 14 2.6 8.9 3.2 8.1 4 6.7 4 5.1 4 1.9 2 2.4 4 1.1 4 0.3 4-0.2 10 2.1 12 1.1 14 1.2 6-378.9 0 0.6-6-0.3-10 0.2-10-1.5-14-0.1-12-1.3-14-0.2-14-1.4-12-0.1-8 1-14 0.9-6 2.7-10 4-10 2.2-4 2.8-4 13.2-14 7.3-10 12.1-14 8.1-10.8 6-5.3 16-10.9 10-8 10-11.1 14.6-11.9 8.5-8 6.7-8 3.3-6zM1503.5 580.7l-5.5 2.1-3.6 2-2.5 2-1.5 2-0.6 2 0.5 2 1.5 2 2.6 2 3.6 2 3.5 1.4 8 1.6 18 0.5 6-0.6 4-0.9 5.5-2 3.5-2 2.2-2 1.3-2 0.4-2-0.4-2-1.5-2-2.7-2-4-2-5.8-2-8.5-1.6-14-0.1-8 1.1z"/>
<path fill="#00ACC5" d="M1457.1 386.8l123.5 0-0.1 6 1 4.1 2.8 3.9 3.2 2 2 0.4 2-0.1 2-0.6 2.6-1.7 1.8-2 1.7-4 0.6-4 0-4 102.9 0 0.4 6 3.6 18 3 18 3.1 12 1.5 8 2.7 26 0 10-1 8-3.2 14-2.9 8-3 6-2.6 4-3.2 3.1-4 2.5-6 2.2-16 3.5-36.6 10.7-5.4 2.8-3.9 3.2-2.4 4-0.8 4 0.7 4 0.9 2 2.6 4 3.8 4 5.1 3.6 4 1.9 6 2 6 1.5 12 2.2 8.2 2.8 10.9 6 5.6 4 3.9 4 2.5 4 1.6 6 0.1 12 2.3 14 1.6 18-372.6 0 0.4-6-0.4-10 0.2-10-1.4-14-0.3-14-1.3-12-0.3-14-1.3-10-0.3-8 0.8-16 0.9-6 2.7-10 3.8-10 4.4-7 13.8-15 6.2-8.6 12-14 8.6-11.4 5.4-4.8 16-10.9 8-6.2 4.4-4.1 7.6-8.8 14-11.3 6-5.4 6-6.2 4-5 2.1-3.3 2.7-6zM1513.5 578.7l-4 0.4-6 1.2-8 3.2-4.7 3.3-1.6 2-0.5 2 0.4 2 1.5 2 2.9 2.3 4 2.1 6 2.1 8 1.1 16 0.3 6-0.5 4-0.8 8-3.1 2.5-1.5 2.1-2 1.1-2 0.4-2-0.5-2-1.3-2-2.5-2-4-2-5.6-2-10.2-1.9-12-0.2z"/>
<path fill="#00B1B7" d="M1457.3 388.8l0.8-2 121.9 0-0.1 6 1 4 1 2 1.5 2 2.1 1.6 4 1.3 2-0.1 2.7-0.8 2.8-2 1.6-2 1.6-4 0.8-8 100.5 0 0.9 8 6.2 34 4.5 20 1.1 8 1.5 18 0.1 8-0.9 8-3 14-3.2 10-2.9 6-2.3 3.4-2.5 2.6-3.5 2.3-6 2.5-16 3.8-32.4 9.4-5.7 2-3.9 2-4.9 4-2.4 4-0.7 4 0.6 4 0.8 2 2.4 4 3.6 4 4.6 3.5 4 2.1 6 2.2 8 2 12 2.3 5.5 1.9 4.1 2 6.6 4 5.2 4 3.8 4 2.5 4 1.7 6 0.5 12 2.2 16 1.1 16-367 0-0.2-27.5-1.1-12.5-0.5-14-1.4-14-0.4-12-1.4-12-0.2-8 0.6-12 1-8 2.5-10 3.8-10 3.8-6 13.3-14.7 6.7-9.3 11.3-13 10-13 4-3.5 16-11 8-6.2 5.6-5.3 6.4-7.6 14-11.2 5.8-5.2 6.2-6.4 4-4.9 3-4.7 1.9-4zM1509.5 578.7l-9.1 2.1-4.8 2-4.1 2.5-1.8 1.5-1.6 2-0.5 2 0.4 2 1.3 2 2.4 2 3.8 2.2 4.4 1.8 5.6 1.4 6 0.7 20 0.1 4-0.6 6.1-1.6 4.7-2 3.1-2 2-2 1.1-2 0.3-2-0.5-2-1.2-2-2.4-2-3.8-2-5.5-2-5.9-1.5-8-0.9-14 0.1z"/>
<path fill="#00B6A9" d="M1459 386.8l120.4 0 0 6 0.9 4 1 2 1.5 2 2.4 2 2.3 1 2 0.4 2 0 3.9-1.4 2.4-2 1.5-2 1.6-4 0.8-8 98.3 0 1.3 10 5.8 32 4.5 20 1 8 1.5 18-0.1 10-1.1 8-3.2 14-3.5 10-2 4-2.9 4-3.8 3-4 2-16 4.3-36 10.6-8 3.4-3.9 2.7-2.1 2.2-2.2 3.8-0.8 4 0.5 4 2.5 5.1 4 4.9 5 4 5 2.6 6 2 8 2.1 12 2.4 4 1.4 3.1 1.5 6.4 4 4.9 4 3.7 4 2.5 4 1.9 6 1 14 2.1 18 0.3 12-361.7 0-0.5-28-1.6-26-3.2-38-0.3-8 0.5-12 1-8 2.4-10 2.7-8 2.1-4 2.7-3.8 12-13.3 6.3-8.9 12.2-14 9.5-12.6 4-3.6 14-9.6 10-7.6 6-5.7 6-7.2 14-11.2 6-5.4 6-6.1 4.1-5 3.8-6 2.7-6zM1507.5 578.6l-6 1.4-4 1.4-4 1.9-4 2.7-2.4 2.8-0.6 2 0.3 2 1.3 2 2.3 2 5.1 2.9 4 1.5 6 1.5 6 0.7 14 0.3 8-0.4 4-0.7 6.1-1.8 4.4-2 2.9-2 1.8-2 1-2 0.3-2-0.4-2-1.2-2-2.2-2-3.7-2-5.4-2-7.6-1.9-10-0.9-14 0.4z"/>
<path fill="#00BB9A" d="M1459 388.8l0.9-2 118.9 0 0 6 0.7 3.2 1.2 2.8 1.4 2 2.2 2 3.2 1.6 2 0.3 2 0 4-1.4 2-1.4 2-2.4 2-4.7 0.9-8 96.1 0 3 19.4 4.3 22.6 4.3 20 1.1 8 1.4 18-0.2 10-1.2 8-3.1 14-3.4 10-2 4-3.1 4-2.6 2-3.7 2-51.8 15.3-8 3.2-4 2.7-2.8 2.8-2.3 4-0.9 4 0.4 4 0.7 2 2.2 4 4.7 5.5 4 3.1 4 2.2 6 2.2 10 2.6 11.9 2.4 4.1 1.7 4.1 2.3 5.4 4 5.8 6 3.4 6 1.4 6 2.8 32-0.2 10-356.5 0-1-32-1.6-24-3.1-36-0.4-10 0.4-10 1.1-8 2.2-10 2.7-8 3.5-6 12-13.6 7.5-10.4 12.2-14 9-12 3.3-2.9 16-11.1 8-6.2 6-5.6 7-8.2 13-10.3 6-5.3 6-6.1 4-4.8 3.7-5.5 3-6zM1505.5 578.6l-6 1.6-6 2.5-3.7 2.1-2.4 2-1.4 2-0.6 2 0.3 2 1.2 2 2.1 2 3.2 2 5.3 2.3 5.8 1.7 4.2 0.7 20 0.7 8-0.7 6-1.3 4-1.4 4.2-2 3.8-3.3 1.5-2.7 0.2-2-0.4-2-1.1-2-2.1-2-3.5-2-5.3-2-11.3-2.6-10-0.6-8 0.1-6 0.6z"/>
<path fill="#00BF8C" d="M1460.8 386.8l117.4 0 0.1 6 0.9 4 0.9 2 1.3 2 2.1 2 3.8 2 2.2 0.4 3.9-0.4 2.1-0.9 2-1.3 1.8-1.8 1.4-2 1.5-4 1-8 93.8 0 3.9 24 7.8 38 1.2 10 1.2 16-0.1 8-1 8-3.5 16-3.3 10-2.1 4-1.6 2.2-4 3.4-4 2.1-52 15.7-6.3 2.6-3.7 2.3-3.8 3.7-2.3 4-0.9 4 0.2 4 1.6 4 4.2 6 5 4.6 4 2.4 6 2.3 12 3.3 10 2 4.2 1.4 3.5 2 5.4 4 5.6 6 3.3 6 1.2 4 0.6 4 2.2 30 0 5.7-0.6 4.3-351.2 0-0.7-8-0.9-30-3.7-42-1.3-24 0.4-8 1.4-10 2.3-10 2-6 3.8-6 10.5-12 8-11.1 12-13.7 8.2-11.2 3.8-3.6 14-9.7 10-7.7 6-5.5 8-9.2 12-9.3 6-5.3 6-6.2 6-7.4 2.6-4.1 3.8-8zM1503.5 578.7l-7 2.1-4.5 2-3.3 2-2.4 2-1.5 2-0.6 2 0.3 2 1.1 2 2.1 2 3.1 2 4.7 2.2 5.6 1.8 4.4 0.9 6 0.6 16 0.4 10-1 6-1.5 4-1.4 3.8-2 2.6-2 1.6-2 0.9-2 0.2-2-0.4-2-1.1-2-2.1-2-3.2-2-5.1-2-7.2-1.9-6-1.1-6-0.5-10 0-10 1z"/>
<path fill="#00C47E" d="M1460.8 388.8l0.8-2 116.1 0 0.1 6 1.7 6 2 2.8 2 1.8 2.5 1.4 3.5 0.9 4-0.4 2-0.8 2.7-1.7 1.9-2 1.4-2.4 1.3-3.6 1.1-8 91.7 0 3.8 24 7.9 38 1.3 10 1 14 0.1 8-1.2 10-3.5 16-3.4 10-2.1 4-1.6 2-2.4 2.2-4 2.3-28.9 9.5-23.1 6.8-7.6 3.2-4.4 3.1-2.8 2.9-2.2 4-1 4-0.1 2 0.7 4 2.1 4 4.5 6 4.8 4 4 2.2 6 2.1 24 6 3.3 1.7 5.4 4 5.4 6 2.4 4 1.6 4 1.5 8 1.5 30-0.4 4-0.9 4-345.5 0-1-8-1-32-2-24-1.9-16-1.4-24 0.4-8 1.4-10 2.2-10 2-6 3-4.7 12-14.2 6.3-9.1 12.3-14 8.9-12 4.5-3.8 12-8.2 10-7.8 6.8-6.2 7.2-8.5 12-9.3 6-5.3 6-6.1 6-7.3 3.5-5.5 2.9-6zM1501.5 578.7l-6.3 2.1-4.4 2-3.3 2-2.3 2-1.5 2-0.7 2 0.2 2 1.1 2 2.1 2 2.9 2 8.2 3.5 6 1.6 4 0.6 22 0.6 6-0.5 6-1.1 6-1.9 4-1.9 3.9-2.9 1.6-2 0.8-2 0.2-2-0.4-2-1.1-2-3-2.7-2.1-1.3-5.9-2.3-6.3-1.7-7.7-1.4-6-0.4-12 0-10 1.3z"/>
<path fill="#00C970" d="M1462.5 386.8l114.6 0 0.6 8 1.8 4.8 2 2.7 2 1.6 2 1.2 4 1 4-0.3 2-0.7 3.5-2.3 1.8-2 1.2-2 1.4-4 1.2-8 89.5 0 3.8 24 8.3 40 1 8 1.1 14-0.1 10-1.1 8-3.6 16-3.4 10-2.3 4-1.7 2-2.3 2-3.7 2-26.6 9.1-26 7.8-6.8 3.1-3.2 2.2-3.7 3.8-2.3 4-1.1 4-0.2 2 0.6 4 1.9 4 4.3 6 4.5 4.1 4 2.4 6 2.3 26 6.9 3.8 2.3 2.5 2 5.3 6 2.3 4 1.6 4 1 4 0.7 6 0.3 28-0.7 4-1.3 4-339 0-1.2-6-1-34-1.4-12-1-14-2.1-14-1.4-26 0.7-8 1.6-10 1.7-8 1.6-5.2 3-4.8 11-13.2 7.5-10.8 12.4-14 8.1-11 3.4-3 14.6-10.3 9.7-7.7 6.3-6 6-7.2 12-9.4 8-7.3 6-6.4 5.9-7.7 2.4-4 3.8-8zM1511.5 576.8l-6 0.7-6 1.4-5.6 1.9-6.4 3.3-3.4 2.7-1.6 2-0.7 2 0.2 2 1 2 2 2 4.5 2.9 6 2.6 6 1.7 10 1.3 20 0.2 6.4-0.7 7.6-1.8 5.9-2.2 3.4-2 2.3-2 1.5-2 0.7-2 0.2-2-0.4-2-1-2-2-2-3-2-4.7-2-7.1-2-11.8-1.9-16-0.2z"/>
<path fill="#05CD67" d="M1463.4 386.8l113.2 0 0.6 8 1.3 4 1.2 2 1.8 2.1 4 2.7 2 0.6 4 0.4 2-0.4 3.7-1.4 2.6-2 1.7-2 1.2-2 1.3-4 1.3-8 87.3 0 1.3 6 2.6 18 8.1 38 1.4 10 0.9 12 0 10-0.9 8-3.5 16-3.1 10-1.9 4-2 2.7-3.8 3.3-2.2 1.1-24.5 8.9-27.5 8.3-7.9 3.7-4.1 3.1-2.6 2.9-2.3 4-1.5 6 0.3 4 1.7 4 5.9 8 4.5 3.7 4 2.2 4 1.5 26 7 3.2 1.6 2.6 2 5.3 6 2.3 4 1.5 4 1.3 6 0.4 6-1.2 24-0.8 4-1.5 4-1 2-331 0-1.3-4-0.6-4-0.8-18-0.1-14-1.6-12-0.9-14-2.3-14-1.6-26 2.1-17 1.8-9 1.2-4 2.1-4 10.9-13.5 8-11.6 12-13.5 8.6-11.4 3.4-3.1 14-10 10-8 6-5.7 6.1-7.2 11.9-9.4 8-7.3 6-6.4 6-7.7 3.1-5.2 3.9-8zM1509.5 576.6l-6 0.9-6 1.6-6 2.2-6.3 3.5-2.3 2-1.5 2-0.9 2 0.1 2 1.1 2 3.8 3.4 4 2.3 6 2.4 6 1.6 10 1.3 16 0.4 6-0.3 7.6-1.1 6.4-1.6 5.9-2.4 3.2-2 2.3-2 1.4-2 0.8-2 0.2-2-0.4-2-1.1-2-1.9-2-4.4-2.7-4-1.6-8-2.1-12-1.9-18 0z"/>
<path fill="#12D06A" d="M1464.6 388.8l1-2 109.7 0 0.3 6 0.9 4 1 2.6 2 3.1 2.5 2.3 3.5 2 2 0.6 4 0.3 4-0.8 2-0.8 4-3 1.8-2.3 1.8-4 2-10 81.6 0 1.5 6 3 20 4.4 18 3.7 18 1.5 10 0.8 10 0.1 10-1.1 10-3.1 13.5-3.3 10.5-3.1 6-1.6 2-4 2.8-21.5 9.2-18.3 6-10.2 2.8-6 2.5-4 2.3-5.3 4.4-3 4-2.8 6-0.8 4 0.2 4 0.4 2 2 4 4.6 6 4.7 3.9 4 2.2 4 1.6 12 2.8 14 4.7 4.8 2.8 3.6 4 2.1 4 1.3 4 0.7 8-0.5 5.6-1.4 6.4-2.3 8-1.6 4-2.3 4-2.4 3.2-6.7 6.8-301.4 0-2.8-6-1.3-6-1.1-12-0.6-18-3-24-3-16-1.8-22 0.1-6 1.6-12.9 1.7-9.1 1.4-4 2.4-4 8.5-11.5 8-12 12.7-14.5 7.3-9.2 4-3.8 12-9 12-9.9 6-5.7 6-6.6 12-9.9 6-5.6 6-6.4 6.3-7.9 3.9-6 4-8zM1503.5 576.6l-8 2-6.1 2.2-4.1 2-5.4 4-1.7 2-0.9 2-0.1 2 0.9 2 3.4 3.3 4.4 2.7 5.6 2.4 6 1.8 8 1.6 22 0.9 6-0.2 8-0.9 7.4-1.6 6.1-2 4.2-2 5.4-4 1.7-2 0.9-2 0.3-2-0.5-2-1.4-2-2.2-2-3.2-2-6.7-2.8-6-1.6-10-1.9-8-0.9-6-0.2-12 0.2-6 0.7z"/>
<path fill="#20D26C" d="M1467.2 388.8l0.9-2 105.6 0 0.6 6 0.8 4 1.6 4 1.4 2 1.9 2 3.5 2.4 4 1.5 4 0.3 4-0.6 3.9-1.6 2.8-2 1.9-2 1.3-2 1.8-4 2.4-10 74.1 0 1.8 6 3.4 20 8.4 34 1.7 10 0.9 8 0.3 12-1 10-2.3 10-4 12-2.8 6-3.1 4-2.4 2-6.6 4-7.7 4-6.8 2.9-30 9.7-4 1.8-5.7 3.6-2.4 2-3.6 4-3.9 6-3.4 8-2 8 0.2 4 0.8 2 1.5 2 4.5 3.6 3.9 2.4 6.1 2.9 4 1.4 18 3.7 8 3.6 4 3.3 2 3.1 0.6 2 0.3 4-0.9 4-6 13.2-4.1 6.8-5.5 6-5.7 4-6.7 2.9-4 1-6 0.9-18 0-16 1.5-10.9 1.7-7 2-194.7 0-5.4-4.6-3.1-3.4-3.6-6-2.1-6-1.3-6-3.1-22-3.5-16-4.1-16-1.5-8-1.5-14-0.2-8 1.5-14 1.2-6 1.2-4 4.2-8 11.9-18.8 19.7-23.2 4.3-4.3 25.9-21.7 10.1-10 10-8.7 8-7.7 6-6.7 6-7.6 4.6-7.3 4.1-8zM1509.5 574.7l-8 1.1-6 1.5-8 2.7-5.8 2.8-5.5 4-1.7 2-1 2-0.3 2 0.5 2 1.3 2 4.5 3.5 5 2.5 7 2.5 8 2 6 1 6 0.4 14 0.5 10-0.2 10-1.1 10-2 9.8-3.1 10.6-4 4.6-2 3.4-2 2.2-2 1-2-0.3-2-2.3-2-5-2-21.6-6-8.4-1.8-10-1.6-10-0.9-18 0.1z"/>
<path fill="#2ED56F" d="M1470.6 386.8l101.7 0 1.4 10 1.5 4 2.3 3.3 3 2.7 3 1.8 4 1.3 4 0.4 4-0.5 3.3-1 3.6-2 2.3-2 1.7-2 2.3-4 2.8-9.6 1.2-2.4 65.3 0 2.4 6 3.7 18 9.6 36 2.2 12 0.9 12-0.2 8-0.7 6-2.8 12-2.2 6-3.4 7.5-2.9 4.5-3.1 3.5-2.9 2.5-5.8 4-7.5 4-10.4 4-19.4 6.1-6 2.6-5.7 3.3-5 4-3.8 4-9.5 13.3-4 4.4-4 3-4 1.8-8 1.9-10 0.6-10-0.5-26-3.2-10-0.7-16 0.1-10 0.9-12 2.7-6 2.1-6 2.7-4.7 2.9-2.4 2-2.9 4-0.7 2 0.1 2 0.6 1.6 1.7 2.4 2.5 2 3.7 2 4.1 1.7 8 2.7 6 1.4 8 1.3 22 1.2 10 0 16-1.3 22-3.2 10-0.6 14 0.6 20 2.3 16-1.2 4 0.5 1.8 0.6 2.2 2 0.6 2-0.9 4-3.7 6.2-6.3 7.8-3.7 3-4 2.1-8.1 2.9-21.9 5.2-10 1.7-25 3.1-3.7 2-1.2 2-0.2 4-152.6 0-1.3-2.8-2-2.4-10-8.2-4.3-4.6-5-8-3.5-8-7.1-20-8.5-22-3.4-12-1.8-12-0.3-12 1.2-12 2.5-10 3.3-8 6.4-12 3.9-6 6.3-8 14.3-16 29.5-26 18.5-17.2 8-8.1 6-6.9 6-7.8 5-8 5.1-10z"/>
<path fill="#3DD872" d="M1473 386.8l97.8 0 1.1 8 1.1 4 2 4 1.5 2 3 2.8 4 2.3 4 1.2 4 0.4 4-0.3 4-1.1 4-2.1 3.8-3.2 2.9-4 4.2-10 2.5-4 54 0 2.7 4 2.4 6 4.4 16 8.4 28 2.4 10 1.4 8 0.9 12-0.8 12-1.1 6-1.7 6-3.9 10-3.4 6-2.8 4-3.8 4-5 4-5.5 3.4-5.6 2.6-26.4 9.3-9.4 4.7-3 2-4.8 4-14.8 15.8-4 3.1-6 2.9-4 1.4-6 1.2-12 1.1-10-0.1-32-2-16 0.3-10 1.1-13.5 3.2-10.2 4-6.8 4-2.4 2-3.3 4-1 2-0.6 4 0.5 2 1.1 2 2 2 3.6 2 4.6 1.7 16 3.9 14 1.9 28 1.3 20-0.1 24-1.5 6 0.4 6 1.4 4 1.7 4.6 3.3 1.7 2 1.2 2 0.6 2 0.1 2-0.5 2-1 2-1.6 2-2.4 2-3.3 2-7.4 2.8-6 1.1-6 0.3-14-0.4-4 0.6-2 0.8-4 2.7-2.6 4.1-0.4 2 0.8 6-137.3 0-2.5-5.6-2-3.3-11.4-13.1-5.2-8-9.6-20-11.4-22-4.2-10-1.9-6-1.4-6-1.2-12 0.7-12 2.5-14 3-10 3.4-8 4.5-8 5.8-8 6.8-8 7.6-8 31-28 15-14 8-8.3 8-9.2 6.3-8.5 5-8 5.2-10z"/>
<path fill="#4BDB75" d="M1475.3 386.8l94.1 0 1.2 8 1.1 4 1.8 4 2 2.7 3.6 3.3 3.6 2 4.8 1.5 4 0.5 4-0.3 4-0.9 4-1.6 4.6-3.2 3.6-4 7.3-12 4.1-4 38.7 0 3.7 3.5 2 2.4 2 3.2 2.3 4.9 11.8 34 2.9 10 2.3 10 1.1 8 0.4 6-0.6 12-1.1 6-1.6 6-2.2 6-2.8 6-3.5 6-3.1 4-3.9 4-5.2 4-8.8 4.7-24 8.9-8.8 4.4-8.5 6-12.7 12.1-4 3.3-6 3.7-4 1.7-10 2.7-14 1.6-10 0.2-24-0.9-10 0-12 0.5-10 1.2-14 3.3-11.7 4.6-6.6 4-2.5 2-3.8 4-2.6 4-0.8 2-0.7 4 0.3 2 0.9 2 1.6 2 2.9 2 3 1.2 8 1.7 18 2.1 43.3 3 20.7 3.2 6-0.1 14-2.2 6 0.4 2.4 0.7 3.5 2 1.8 2 1 2 0.2 2-0.4 2-1.2 2-3.3 2.8-4 1.5-4 0.5-6-0.7-8-2.1-4-0.6-2 0.1-4 1.2-4 2.7-2 2-2.8 4.6-1.2 3.5-0.4 2.5 0.3 8-125.4 0-5.7-10-11.9-18-11.3-22-14.5-22-4.2-8-2.5-6-2.6-10-0.7-6-0.2-6 1-10 3.5-20 2.1-8 3.5-8 3.6-6 6-8 13-14 36.4-33.2 8-7.8 8-8.5 8-9.5 6-8.2 5.5-8.8 5.3-10z"/>
<path fill="#59DE78" d="M1476.6 388.8l1.1-2 90.2 0 1.4 8 1.1 4 1.7 4 2.9 4 2.5 2.3 4 2.4 4 1.6 6 0.9 4-0.1 4-0.8 4-1.3 4-2.2 5.8-4.8 6.2-7.8 4-4.2 4-2.8 4-1.8 5.9-1.4 7.1 0 5 1.1 6 2.7 4 2.9 4 4.2 3.3 5.1 2.7 5.3 10 24.9 3.2 9.8 2.5 10 1.4 8 0.5 6-0.4 12-1 6-1.5 6-2.1 6-2.8 6-3.4 6-2.9 4-3.6 4-4.8 4-5.1 3.2-5.7 2.8-20.3 8-8 4-9.1 6-16.9 14.2-4 2.6-6 2.9-10 3-14 2.1-12 0.6-24-0.2-16 0.4-12 1.1-10 1.8-12.2 3.5-5.8 2.3-7.2 3.7-8.3 6-8.1 8-4.2 6-0.8 2-0.2 2 0.4 2 1 2 1.4 1.8 2.5 2.2 3.5 2 4 1.4 4 0.8 6 0.4 30-1.1 20 0.4 8 0.9 6.3 1.2 5.7 2 2 1.3 2.4 2.7 0.5 2-0.1 2-1.9 8-0.6 4 0.5 10-0.5 4-112.2 0-10.1-13.9-3.6-6.1-6.6-14-4.7-12-2.3-4-3.1-4-9.7-10.4-6-7.2-5.5-8.4-3.7-8-1.9-6-0.7-4-0.6-10 0.5-6 2.1-12 2-16 1.6-6 2.5-6 3.5-6 6-8 6.2-7 6.9-7 33.1-30.3 8-7.8 8-8.6 8-9.4 7.4-9.9 5.1-8 5.6-10z"/>
<path fill="#67E17B" d="M1478.9 388.8l1.1-2 86.5 0 2.6 12 1.7 4 2.7 4 4 3.7 4 2.3 4 1.5 6 0.9 4 0 4-0.6 4-1.1 4-1.7 7.4-5 10.6-9.4 4-2.3 4-1.4 4-0.7 6 0.2 5.8 1.6 3.9 2 4.3 3.2 4 4.4 6 9.7 5.1 10.7 4.1 10 3.4 10 2.1 8 1.3 8 0.5 6 0.1 6-0.6 6-1 6-1.6 6-2.3 6-2.9 6-3.6 6-3.1 4-3.9 4-5.1 4-7.1 4-19.4 8.4-8 4.1-8.7 5.5-13.3 10.6-6 4.2-6 3.3-6 2.4-10 2.6-14 2-12 0.8-22 0.2-16 0.6-12 1.2-10 1.9-10 2.7-9.5 3.5-7.9 4-14.6 9.1-4 2.1-6 2.4-6 1.4-12 1.6-6 0.1-6-1.5-6-2.9-6-3.9-4-3.2-4-3.8-4-4.7-5.5-8.7-1.8-4-1.9-6-0.9-6 0-8 2.6-16 1.2-16 2-8 2.7-6 3.8-6 4.6-6 5.3-6 12.1-12 29.8-27.4 8-8.1 8-9 7.7-9.5 5.8-8 5.1-8 5.7-10zM1425.5 624.8l2-0.7 4 0.2 4 1.5 12 5.6 6 1.4 6 0.5 10-0.7 12-1.8 4-1 11.6-5 6.4-1.3 10-0.5 6 0.7 4 0.9 4.7 2.2 2.2 2 1.3 2 1.2 4 3 16 0 2-0.9 4-91 0-6.5-7-12-10.5-1.8-2.5-0.9-4 0.2-4 0.8-2 1.7-2z"/>
<path fill="#76E47E" d="M1481.2 388.8l1.1-2 82.8 0 1.6 8 1.8 6 2 4 3 3.8 4 3.3 4 2.1 4 1.4 6 1 8-0.4 8-2.3 5.9-2.9 14.1-9.1 6-2.1 6-0.5 4 0.5 4 1.2 4 2.1 4 3 4 4.3 4 5.5 4 6.9 4 8.2 3.3 8 2.7 8 2.1 8 1.5 12-0.1 6-0.5 6-1.2 6-1.7 6-2.4 6-3 6-3.8 6-3.3 4-4.2 4-5.4 3.9-7.5 4.1-16.5 7.8-8 4.3-6.2 3.9-15.8 11.8-6 3.8-6 2.9-8 2.8-10 2.4-14 2-12 0.8-34 1.2-10 0.9-10 1.6-8.2 1.8-9.8 3-7.7 3-18.3 8.8-6 2.2-6 1.1-20 0.4-4-0.3-6-1.3-4-1.7-4-2.2-4-2.8-4-3.6-5.5-6.6-4.3-8-2.3-8-0.4-4 0-6 2.8-16 0.4-16 0.7-4 2-6 1.9-4 3.7-6 4.7-6 5.3-6 11-10.9 28-25.8 8-8.2 8-8.9 8-9.8 6.2-8.4 5.3-8 7-12zM1506.8 632.8l4.7-1.3 4 0.3 2.7 1 3.3 2.7 2 3 2 4.2 1.9 6.1 0.1 4-1.4 4-42.8 0 1.6-2 6.6-5.3 4-3.8 6.6-8.9 3.4-3.2z"/>
<path fill="#84E680" d="M1483.4 388.8l1.2-2 79.1 0 2.2 10 1.3 4 2 4 2.3 3.3 4 3.7 4 2.5 4 1.7 6 1.4 8 0.2 8-1.4 8-2.9 14-6.8 6-1.6 4-0.2 4 0.4 4 1.2 4 1.9 4 2.9 4 4 4 5.1 4 6.4 4 7.7 2.8 6.5 2.7 8 1.6 6 1 6 0.5 6 0 6-0.6 6-1.3 6-1.8 6-2.5 6-3.2 6-3.2 4.8-4 4.8-4 3.7-4 2.9-6.2 3.8-17.8 9.2-8 4.6-20 13.9-6 3.7-6 2.9-8 2.9-12 2.9-14 2.1-12 1-34 1.6-10 1-10 1.6-10 2.3-7.7 2.3-24.3 9.6-6 1.7-4 0.6-6 0.4-18-0.9-8-1.8-6-2.8-6-4.3-6.1-6.5-2.6-4-2-4-2.2-8-0.4-4 0.2-6 2.7-16-0.4-10 0.2-4 1.2-6 1.4-4 3.1-6 2.6-4 8.2-10 11.9-12 28.2-26.1 8-8.4 8-9.1 8-9.9 6.2-8.5 5.3-8 7.3-12z"/>
<path fill="#92E983" d="M1487 386.8l75.2 0 3.7 14 1.9 4 2.8 4 4.3 4 4.6 2.8 4 1.6 6 1.4 8 0.4 8-1.1 6-1.6 14-5 8-1.6 4 0 4 0.8 4 1.4 4 2.3 4 3.2 4 4.2 4 5.4 3.5 5.8 3.1 6 3.2 8 1.8 6 1.3 6 0.7 6 0.2 6-1.2 10-1.5 6-2.1 6-5.2 10-4.4 6-3.8 4-4.7 4-5.9 4-25 14.3-20 13.4-6 3.6-8 3.7-10 3.3-12 2.8-14 2-42 2.7-18.3 2.2-15.7 3.5-28 9.3-10 2-10 0-14-1.3-8-2.3-6-3.1-6-4.8-4.5-5.3-3.5-6.5-2-7.5-0.3-4 0.3-6 2.3-12-0.7-12 0.2-4 1.3-6 1.4-4 2-4 3.8-6 8.3-10 11.4-11.5 26-24.2 8-8.3 8-9.1 8.8-10.9 7.4-10 14-22z"/>
<path fill="#A0EC86" d="M1489.4 386.8l71.3 0 3.2 12 1.5 4 2.2 4 3.3 4 2.6 2.3 4 2.7 4 1.8 8 2.2 4 0.4 6 0 9.9-1.4 16.1-4 8-0.8 4 0.4 4 1 6 2.9 4 3 4 4 4 5.1 2.9 4.4 3.1 5.8 2.7 6.2 1.9 6 1.4 6 0.8 6 0.1 6-1.2 10-1.6 6-2.3 6-5.5 10-4.3 5.7-4.2 4.3-4.9 4-5.7 4-21.2 12.9-24 15.4-10 4.8-12 3.9-12 2.7-14 2.2-42 3-18 2.3-13.5 2.8-26.5 7.9-10 1.9-10 0.2-12-1.2-8-2-4-1.6-4-2.2-6-4.7-4-4.7-3.2-5.6-1.3-4-0.8-4-0.2-8 2.1-12-0.7-14 0.9-6 2.1-6 2-4 3.9-6 8.4-10 9.8-10 27-25.3 15.2-16.7 15.6-20 15.7-24z"/>
<path fill="#AFEF89" d="M1490.4 388.8l1.4-2 67.4 0 3.3 12 1.5 4 2.2 4 3.1 4 4.2 3.7 4 2.5 3.9 1.8 8.1 2.1 10 0.7 8.8-0.8 15.2-2.6 8-0.4 4 0.4 4 1 4 1.7 4 2.4 4 3.3 3.9 4.2 6.1 8.9 2.6 5.1 2.4 6 2.5 10 0.6 6-0.1 6-1.7 10-3.6 10-2.7 5.1-3.1 4.9-6.7 8-7 6-8.5 6-30.7 19.7-8 4.8-8 3.9-8 3-8 2.4-12 2.7-14 2.2-42 3.4-16 2-16 3.2-24 6.4-10 1.7-10 0-12-1.6-8-2.4-6.6-3.4-5.4-4.3-4.6-5.7-2.9-6-1.5-6-0.1-8 1.6-10-0.7-10 0.1-4 1.1-6 2.2-6 2.1-4 4-6 8.3-10 9.9-10 24.5-23.1 8-8.3 8-9.2 16.7-21.4 15.3-22.7z"/>
<path fill="#BDF28C" d="M1492.8 388.8l1.5-2 63.4 0 4.2 14 3.6 7.1 2.2 2.9 3.8 3.6 4 2.8 4 2 8 2.5 10 1.2 8-0.1 18-1.7 8 0.2 4 0.8 4 1.3 6 3.2 4 3.2 4 4.1 6 8.6 2.2 4.3 2.4 6 2.3 10 0.3 10-1.8 10-3.9 10-3.3 6-2.7 4-6.9 8-9.3 8-11.4 8-19.9 12.9-10 5.9-8 3.8-8 3.1-10 3-12 2.7-14 2.2-42 3.7-16 2-14 2.7-22 5.3-12 1.8-10-0.1-10-1.5-8-2.5-4-1.9-4-2.4-4-3.4-4.4-5.3-2.9-6-1.5-6-0.2-6 1.2-10-0.6-10 0.3-4 1.2-6 2.3-6 2.2-4 4-6 8.4-10 9.9-10 23.2-22 14.9-16.2 17.2-21.8 16.8-24.2z"/>
<path fill="#CBF58F" d="M1495.2 388.8l1.6-2 59.2 0 4.5 14 1.7 4 2.4 4 2.9 3.4 2.7 2.6 3.3 2.4 4 2.3 8 2.9 10 1.7 8 0.3 18-0.6 8 0.6 8 2.1 4 2 3.6 2.3 6.4 6 3.2 4 2.8 4.4 2 3.9 2.3 5.7 1.1 4 0.9 6 0.2 4-0.4 6-2.1 9.4-4 9.5-5.7 9.1-7 8-9 8-10.9 8-15.4 10.2-10 5.9-10 4.8-10 3.8-10 2.9-14 3.1-12 1.9-42 3.9-14 1.8-12 2-24 5.2-10 1.3-10 0-10-1.5-8-2.5-4-1.9-4-2.4-5.2-4.5-3.2-4-2.9-6-1.5-6-0.2-6 0.6-8-0.2-8 0.3-6 1.4-6 2.5-6 6.4-10 8.4-10 9.8-10 23-22 14.6-16 15.8-20 18.6-26z"/>
<path fill="#D9F791" d="M1497.8 388.8l1.7-2 54.7 0 1.7 4 3.1 10 1.8 4 2.4 4 5.3 6 7 4.9 8 3.3 10 2.2 8 0.7 20 0.5 8 1.1 8 2.8 7.1 4.5 2.9 2.6 4 4.5 3.4 4.9 2.1 4 2.9 8 0.8 4 0.5 6-0.1 4-1 6-3.3 10-5.4 10-6 8-7.7 8-9.7 8-11.3 8-13.2 8.3-10 5.2-8 3.4-12 4-12 3.2-12 2.3-12 1.8-50 5-34 6.2-12 1.3-10-0.2-10-1.7-8-2.9-4-2.1-4-2.8-4-3.8-3.7-5.2-2.3-5.5-0.9-4.5-0.3-6 0.5-18 1.2-6 3.3-8 6.4-10 8.4-10 9.8-10 21.6-20.7 14-15.3 14.5-18 23.5-31.7z"/>
<path fill="#E8FA94" d="M1500.5 388.8l2-2 49.6 0 2.1 4 4.2 12 3.3 6 5.1 6 6.7 5 8 3.7 10 2.7 10 1.2 18 1.2 8 1.4 8 2.9 4 2.3 4.7 3.6 4 4 3 4 4.3 8 2.3 8 0.6 6-0.2 4-0.5 4-1.5 6-4.2 10-4.9 8-8.2 10-8.4 8-7.5 6-11.7 8-11.8 6.9-10 4.8-10 3.8-12 3.6-14 3.3-20 3.2-46 4.5-34 5.6-12 1.1-10-0.5-10-2-8-3.3-4-2.4-3.4-2.6-3.8-4-2.8-4.1-2.4-5.9-1-6 0-14 0.4-6 1.5-6 3.4-8 6.5-10 8.4-10 7.7-8 23.5-22.8 13.8-15.2 13-16 25.2-32.9z"/>
<path fill="#F6FD97" d="M1503.5 388.8l2.3-2 43.9 0 2.6 4 4.5 12 3.3 6 5.4 6.3 4 3.3 3.6 2.4 8.4 3.9 8 2.3 8 1.5 20 2.2 10 2.3 4 1.5 4.5 2.3 3.5 2.3 4.3 3.7 3.6 4 2.7 4 2.2 4 1.5 4 1.1 4 0.6 6-0.1 4-0.9 6-3.4 10-5.5 10-7.6 10-9.9 10-10.2 8-8.4 5.6-8 4.7-10 4.9-10 4-12 3.9-14 3.6-12 2.3-16 2.2-40 3.9-34 4.9-12 0.8-10-0.6-10-2.4-8.1-3.8-3.9-2.6-3.8-3.4-3.2-4-3-5.8-1.1-4.2-0.7-6 0-10 1.1-8 1.9-6 4-8 5.4-8 8.3-10 7.6-8 22.6-22 12.9-14 11.5-14 24.5-31.5 6-6.5z"/>
<path fill="#FCFB97" d="M1506.9 388.8l2.8-2 36.9 0 3.3 4 6.3 14 3.8 6 5.5 5.9 6 4.4 8 4 8 2.7 8 1.8 20.8 3.2 9.2 2.4 6 2.5 4 2.4 4 3 4 3.9 3 3.8 2.4 4 1.7 4 1.2 4 0.6 4 0.1 6-0.5 4-1.4 6-4.2 10-3.5 6-4.2 6-8.7 10-9.1 8-8.2 6-9.2 5.6-10 5.1-10 4.3-12 4.1-14 3.8-12 2.6-14 2.2-44 4.4-32 4.2-8 0.6-8 0-10-1.3-6-1.6-4-1.6-4-2-4-2.7-5.9-5.7-2.7-4-2.3-6-1-6-0.1-10 0.8-6 1.7-6 2.6-6 3.4-6 5.7-8 8.5-10 27.3-27 12-13 10.1-12 23.9-30.2 6-6.9 4-3.8z"/>
<path fill="#F3F093" d="M1510.8 388.8l3.5-2 28.3 0 2.9 2.2 3.1 3.8 6 12 3.8 6 5.6 6 5.5 4.3 8 4.3 8 3.1 10 2.5 19.8 3.8 10.2 3.2 5.7 2.8 4.3 2.9 4 3.5 4 4.7 3 4.9 1.6 4 1.1 4 0.5 4 0 4-0.8 6-1 4-2.2 6-2.9 6-3.7 6-7.7 10-5.8 6-4.5 4-10.8 8-10.8 6.3-14 6.4-16 5.7-16 4.3-12 2.4-14 2.1-40 3.9-28 3.3-10 0.7-8 0-8-0.8-6-1.4-6-2.1-6-3.3-4.6-3.5-3.7-4-2.6-4-2.3-6-0.9-6-0.1-8 0.9-6 1.8-6 2.7-6 3.4-6 5.6-8 6.6-8 35.6-36 12.2-14 27.4-33.8 6-6.5 6-4.9z"/>
<path fill="#EBE58E" d="M1515.7 388.8l5.3-2 15.4 0 3.1 1.2 4 2.6 2 1.9 2 2.6 5.3 9.7 4 6 5.5 6 5.2 4.2 8 4.7 8 3.3 10 3 21 4.8 6.3 2 4.7 2 6 3.5 5.5 4.5 3.5 4 3.6 6 1.5 4 1.2 6 0.1 4-0.7 6-1.6 6-2.3 6-3.1 6-3.8 6-8 10-5.9 5.7-5.1 4.3-11.9 8-15 7.6-12 4.7-12 4-12 3.2-14 2.9-22 3-56 5.4-10 0.7-8-0.1-8-0.8-6-1.3-6-2.1-6-3.2-4-3-4-4-3.3-5-1.6-4-1.2-6-0.1-8 0.9-6 1.8-6 2.7-6 3.4-6 4-6 4.6-6 7.1-8 24.2-24 11.2-12 10.3-12 18-22.3 8-9.1 8-7.6 4-2.8 4-2.1z"/>
<path fill="#E2DA89" d="M1524.2 388.8l5.3-0.4 4 0.5 4 1.2 4 2.3 4 3.9 8.1 12.5 5 6 6.8 6 8.1 5 6 2.9 8 2.9 22 5.9 8 2.6 6.3 2.7 5.7 3.5 5.4 4.5 4.7 6 2.9 6 1 4 0.5 4-0.2 6-1.7 8-2.2 6-4.2 8-5.4 8-5.1 6-6.2 6-5.5 4.4-8 5.4-8 4.5-10 4.7-10 3.9-12 4.1-10 2.8-12 2.8-12 2.1-18 2.1-54 4.8-14 0.2-10-1.2-6-1.5-6-2.4-4.7-2.7-5.3-4.3-3.2-3.7-2.8-5-1.5-5-0.7-6 0.2-5.5 0.8-4.5 1.1-4 2.4-6 3.1-6 3.7-6 7.6-10 9.2-10 18.3-18 11.4-12 10.5-12 17.9-21.9 10-11 6-5.4 4-2.8 6-3 6-1.8z"/>
<path fill="#D9CF85" d="M1519 392.8l4.5-1.2 6-0.4 6 1.2 4 1.9 2 1.4 3 3.1 7.3 10 5 6 4.3 4 5.3 4 7.1 4.2 10 4.5 28 8.7 10.7 4.6 6.2 4 4.4 4 3.3 4 3.2 6 1.3 4 0.7 6-0.3 6-1.4 6-2.1 6-2.9 6-3.6 6-4.5 6-5 5.5-4.8 4.5-5 4-6.2 4.2-14 7.5-18 7.3-12 4-10 2.7-12 2.6-12 2-18 2-40 3.3-12 0.7-8 0-8-0.6-6-1.1-6-1.7-6-2.7-6-4.1-4-4-2.8-4.1-1.7-4-1.1-4-0.5-6 0.3-4 1.2-6 2.1-6 2.8-6 4.7-8 4.3-6 10.4-12 22.1-22 11.4-12 24.8-29.6 8-8.8 6-5.7 4-3.1 4-2.4 4-1.9z"/>
<path fill="#D1C480" d="M1521.2 394.8l4.3-0.7 4-0.1 4 0.7 4 1.6 3.6 2.5 2.4 2.3 7.9 9.7 5.7 6 6.4 5.3 6 3.9 8 4.2 8 3.4 26.9 9.2 5.1 2.3 6 3.4 5.4 4.3 4.6 5.3 2.6 4.7 2 6 0.5 6-0.5 6-1.5 6-2.3 6-3 6-3.9 6-4.8 6-5.1 5.3-5.6 4.7-5.6 4-12.8 7.3-18 7.7-20 6.5-20 4.5-22 3-48 3.7-10 0.2-10-0.5-8-1.3-6-1.7-6-2.7-4-2.5-4.7-4.2-3.1-4-2.1-4-1.2-4-0.6-4 0.1-6 0.7-4 1.7-6 2.5-6 3.1-6 3.8-6 4.4-6 8.8-10 20.1-20 11.6-12 8.8-10 16.1-19.3 8-8.7 6-5.6 4-3 4-2.4 6-2.5z"/>
<path fill="#C8B97B" d="M1525.3 396.8l4.2 0.1 4 0.8 4 1.7 2 1.4 4 3.5 7.7 8.5 6.2 6 6.1 4.7 8 4.9 12 5.7 28.2 10.7 5.8 2.9 4.8 3.1 3.2 2.5 3.4 3.5 4.1 6 1.6 4 1 4 0.4 4-0.1 4-1.1 6-1.9 6-3.8 8-3.8 6-4.8 6-6.1 6-6.9 5.5-6 3.9-8.4 4.6-9.6 4.4-12 4.8-12 4-12 3.3-10 2.2-22 3.2-30 2.4-24 1.2-14-0.6-10-1.8-6-2-4-1.9-4.9-3.2-4.3-4-2.8-4-1.9-4-1.1-4-0.4-6 0.3-4 1.4-6 3.9-10 5.8-10 7.6-10 7.4-8 29.8-30 25.2-29.4 8-8.3 6-5 6-3.8 6-2.4 4-0.9z"/>
<path fill="#C0AE77" d="M1518.4 400.8l5.1-1.2 6 0 4 1 4 1.9 4 2.9 14 13.4 5.1 4 6.9 4.5 14 7.3 28 11.5 5.2 2.7 4.8 3 4 3.2 4 4.4 3.3 5.4 1.5 4 0.9 4 0.2 6-0.9 6-1.8 6-2.6 6-3.5 6-4.5 6-3.7 4-4.3 4-5 4-6 4-7.1 4-16.5 7.6-18 6.4-10 2.9-12 2.7-22 3.4-16 1.4-24 1.4-12 0.4-10-0.3-8-0.9-6-1.3-5.2-1.7-4.8-2.2-5.6-3.8-3.9-4-2.7-4-1.7-4-0.9-4-0.2-6 0.5-4 1.5-6 2.3-6 2.9-6 3.5-6 4.3-6 8.7-10 31.8-32 23.5-27.1 6-6.3 6-5.4 4-2.9 4-2.3 4-1.7z"/>
<path fill="#B7A372" d="M1520.4 402.8l3.1-0.5 4-0.1 4 0.6 4 1.5 6 4 14.4 12.5 11.6 7.8 14 7.3 24.7 10.9 9.3 5.2 6.1 4.8 5 6 2.9 6 1.3 6 0 6-1.1 6-1.9 6-2.9 6-3.8 6-3.1 4-4.5 4.7-6 5.2-5.9 4.1-6.7 4-7.8 4-9 4-18.6 6.8-10 3-10 2.4-10 1.9-12 1.7-26 2.2-26 0.9-10-0.4-8-0.9-7.1-1.6-5.6-2-5.3-2.8-4-3-3.9-4.2-2.1-3.5-1.7-4.5-0.8-4-0.1-4 0.7-6 3.1-10 5-10 7.1-10 9-10 30-30 21.7-24.9 6-6.3 6-5.3 4-2.8 6-3.2 4-1.3z"/>
<path fill="#AE976D" d="M1524.2 404.8l3.3 0 4 0.8 6 2.6 4 2.7 15 11.9 9 5.9 14 7.6 26.2 12.5 6.9 4 4.9 3.6 2.6 2.4 3.3 4 2.4 4 1.5 4 0.9 4 0.3 4-0.3 4-1.2 6-2.2 6-3.1 6-4.2 6-6 6.5-6.6 5.5-7.4 4.9-8 4.5-9.8 4.6-10.2 4.1-12 4.2-10 2.9-12 2.8-11.2 2-10.8 1.4-30 2-18 0.2-14-1-6-1.1-5.2-1.5-4.8-1.9-3.7-2.1-4.3-3.3-2.6-2.7-2.7-4-1.7-4-0.9-4-0.3-4 0.3-4 1.1-6 2-6 3.7-8 3.6-6 4.5-6 9-10 30-30 22-24.9 8-7.7 6-4.4 4-2.2 4-1.6 6-1.2z"/>
<path fill="#A68C68" d="M1516.5 408.8l5-1.2 6-0.2 4 0.8 6 2.6 4 2.5 12.8 9.5 11.2 7.2 14 7.7 22 11.1 10 6 5 4 3.7 4 2.7 4 1.7 4 1 4 0.4 6-0.4 4-1.4 6-2.4 6-2.2 4-4.1 5.8-3.7 4.2-4.3 4-5.1 4-10.9 6.8-14.8 7.2-17.2 6.5-10 3.1-10 2.6-10 2-12.2 1.8-13.8 1.3-16 0.9-14 0.3-12-0.4-8-0.8-6-1.2-6-1.7-5.4-2.4-4.6-3-3.4-3-3-4-1.9-4-1-4-0.4-6 0.3-4 1.3-6 2-6 2.7-6 6.5-10 8.9-10.3 31.8-31.7 24.2-26.7 8-6.7 4-2.5 4-1.8z"/>
<path fill="#9D8164" d="M1517.5 410.8l6-1 4 0.2 4 0.8 4 1.5 6 3.4 13.4 9.1 10.6 6.6 39.1 21.4 8.4 6 4.5 4.6 2.4 3.4 1.6 3.1 1.1 2.9 0.8 4 0.3 4-0.6 6-1.7 6-1.7 4-3.5 6-3 4-3.7 4-6 5.3-6 4.4-6 3.6-8 4.3-8 3.6-18 6.8-18 5.2-18 3.3-22 2.1-26 0.7-10-0.4-8.1-0.9-5.9-1.1-6-1.8-6-2.7-3.6-2.4-4.3-4-2.1-3-2.2-5-0.9-4-0.3-4 0.5-6 2.7-10 4.9-10 5.6-8 9.1-10 28.3-28 24.3-26.5 6-5.2 4-2.8 4-2 4-1.5z"/>
<path fill="#94765F" d="M1519 412.8l4.5-0.6 4 0.2 4 0.9 6 2.4 26 15.9 37.4 21.2 8.5 6 6 6 3.7 6 1.8 6 0.4 4-0.5 6-1.5 6-1.7 4-3.5 6-3.1 4-3.7 4-4.5 4-5.3 4-6.3 4-7.3 4-8.4 3.9-10 4.1-10 3.6-18 5-10 2-10 1.5-22 1.8-24 0.2-8-0.6-8-1-6-1.4-6-2.1-4-1.9-4-2.7-2.6-2.4-3.1-4-1.8-4-1.1-4-0.4-4 0.2-6 1.2-6 1.2-4 2.6-6 2.2-4 5.7-8 9.1-10 28.3-28 22.5-24.3 4-3.6 6-4.3 4-2.1 4-1.4z"/>
<path fill="#8C6B5A" d="M1521.1 414.8l4.4-0.1 4 0.5 4 1.1 6 2.6 47.9 27.9 13 8 9.1 7.1 2.8 2.9 2.9 4 2.7 6 0.8 4 0.2 4-0.7 6-1.1 4-2.6 6-2.5 4-4.5 5.5-4.6 4.5-5 4-5.9 4-8.5 4.8-8 3.9-18 7.1-10 3.1-10 2.7-18 3.3-18 1.7-22 0.5-16-1-12-2.2-5.6-1.9-4.4-2.1-4-2.8-3.2-3.1-2.7-4-1.7-4-0.9-4-0.3-4 0.2-4 1-6 2.7-8 4.3-8 6.1-8 9.5-10 24.3-24 18.7-20 6-5.9 6-4.8 4-2.4 4-1.6 4-1.1z"/>
<path fill="#836056" d="M1514.3 418.8l3.2-1 4-0.7 6 0.1 8 2.1 8 3.8 34.4 19.7 19.1 12 8 6 4.1 4 3.2 4 2.2 4 1.4 4 0.6 4 0 4-0.5 4-1.8 6-1.9 4-2.5 4-3.1 4-3.9 4-4.6 4-8.6 6-12.1 6.5-14 5.9-10 3.6-10 3-10 2.4-10 1.9-10 1.3-12 1-12 0.4-12-0.1-10-0.7-8-1.1-6-1.4-6-2.1-4-2-4-2.7-3.8-3.9-2.4-4-1.4-4-0.8-4-0.2-4 0.6-6 1.4-6 1.5-4 3.1-6 2.6-4 4.7-6 5.6-6 26.3-26 20.8-21.9 8-7.1 4-2.7 4-2z"/>
<path fill="#84625A" d="M1515.6 420.8l3.9-1 4-0.3 4 0.2 6 1.3 10 4.1 21.3 11.7 22.9 14 13.8 10 4.3 4 3.3 4 2.4 4 1.6 4 0.8 4 0.1 4-0.4 4-1.7 6-1.9 4-2.5 4-3.2 4-3.8 4-4.7 4-5.6 4-10.7 6.1-16 7.1-18 6.1-18 4.2-10 1.6-10 1-22 0.7-10-0.4-10-1-6-1-6-1.7-6-2.4-3.9-2.3-2.6-2-3.5-4-2.2-4-1.3-4-0.6-4-0.1-4 0.7-6 1-4 2.3-6 2.2-4 5.7-8 9.1-10 22.4-22 22.8-23.4 8-6.5 4-2.4 4-1.7z"/>
<path fill="#8B6B63" d="M1514.9 424.8l4.6-1.3 4-0.4 8 0.9 10 3.3 16 7.9 19.6 11.6 17 12 4.7 4 4 4 3.1 4 2.2 4 1.4 4 0.7 4 0 4-0.6 4-1.2 4-1.9 4-2.5 4-3.1 4-4 4-4.7 4-8.7 5.8-10 5.2-14 5.8-10 3.5-10 2.9-18 3.7-10 1.3-10 0.6-12 0.2-10-0.4-8-0.7-8-1.2-6-1.6-6-2.3-4.8-2.8-3.2-2.7-2.8-3.3-2.1-4-1.2-4-0.6-4 0-4 0.8-6 1.9-5.8 2-4.2 5.2-8 10.8-12 40-40 8-6.9 4-2.6 4-2z"/>
<path fill="#92746D" d="M1522.9 426.8l4.6 0.1 6 0.9 6 1.9 8 3.2 10 4.9 8.9 5 9.4 6 8.5 6 7.5 6 4.4 4 3.6 4 2.9 4 2 4 1.2 4 0.5 4-0.1 4-1.5 6-1.7 4-2.5 4-3.1 4-4 4-4.9 4-9.4 6-7.7 3.9-8 3.4-20 7-16 3.9-10 1.6-8 0.8-16 0.6-16-0.8-12-1.9-6-1.6-4-1.6-4-2.1-4-3-4-4.9-1.6-3.3-1.2-4-0.5-4 0.1-4 1.8-8 3.7-8 5.8-8 7.2-8 34.7-34.8 8-7.4 6-4.4 4-2.3 4-1.7 6-1.3z"/>
<path fill="#997D76" d="M1519.4 430.8l4.1-0.5 6 0.2 10 2.3 6 2.2 8 3.5 8 4.2 8 4.8 13 9.3 7 6 4 4 3.4 4 2.6 4 2 4.5 1.2 5.5-0.1 4-0.6 4-1.4 4-2 4-2.8 4-3.6 4-7.1 6-9.9 6-13.2 6-16.5 5.9-14 3.7-14 2.5-16 1.2-18-0.5-14-2-10-3-4-2-4-2.8-4.4-5-2-4-1-4-0.4-4 0.3-4 0.8-4 1.4-4 4.3-8 6.2-8 9.3-10 31.5-31.3 6-5 4-2.8 6-3.1 4-1.4z"/>
<path fill="#A08680" d="M1517.3 434.8l4.2-0.9 6-0.2 4 0.4 6 1.2 12 4.2 7 3.3 7 3.8 12.1 8.2 11.6 10 5.4 6 2.7 4 2 4 1.2 4 0.5 6-0.5 4-1.3 4-1.9 4-2.8 4-5.8 6-8.3 6-8.9 4.7-12.5 5.3-15.5 5.2-16 3.9-16 2.1-16 0.2-16-1.6-6-1.1-6-1.7-4-1.6-4-2.2-4-3.1-2-2.3-2.3-3.8-1.3-4-0.5-6 0.4-4 1.1-4 3.9-8 5.7-8 10.9-12 26.1-26.3 10-8.1 6-3.5 4-1.6z"/>
<path fill="#A78F89" d="M1515.3 438.8l4.2-1.1 4-0.6 4-0.1 6 0.6 6 1.3 6 1.9 12 5.3 11 6.7 10.2 8 6.2 6 3.4 4 2.8 4 2.2 4 1.8 6 0.3 4-0.4 4-1.1 4-1.9 4-4.5 6-6 5.4-7 4.6-11 5.4-11.8 4.6-16.2 5.1-14 2.9-14 1.4-16-0.2-14-1.9-6-1.4-6-2.1-4-2-4-2.9-2.7-2.9-2.3-4-1.4-6 0.1-4 0.8-4 1.3-4 2-4 5.3-8 12.2-14 22.7-23.1 10-8 8-4.2z"/>
<path fill="#AE9893" d="M1520.6 440.8l4.9-0.5 4 0 6 0.8 6 1.4 6 2 6 2.5 6 3.2 6 3.7 6 4.4 5.2 4.5 5.8 6 3.1 4 2.6 4 2 4 1.2 4 0.5 4-0.3 4-1 4-3.1 6-5.4 6-6.6 5-10 5.4-14 5.7-14 4.5-14 3.3-14 1.6-12 0-13.5-1.5-10.5-2.4-8-3.3-3.5-2.3-2.3-2-2.2-2.9-1.5-3.1-1.1-6 0.4-4 1.1-4 3.8-8 5.5-8 10.4-12 15.4-16.1 10-8.9 6-4.1 4-2.1 8-2.6z"/>
<path fill="#B5A19C" d="M1517 444.8l4.5-1 6-0.4 10 1.1 10 2.9 6 2.6 5.3 2.8 6.2 4 4.5 3.4 5.1 4.6 3.8 4 5.8 8 2 4 1.4 4 0.7 6-1.1 6-3.1 6-5.6 6-8.9 6-8.1 4-12 4.8-12 3.9-14 3.3-12 1.4-12 0.1-12-1.4-10-2.3-5-1.8-4.1-2-3-2-2.2-2-1.7-2.1-1.8-3.9-0.6-6 0.6-4 1.4-4 4.1-8 5.7-8 14.1-16 12.5-12.5 6-4.8 4-2.6 8-3.7z"/>
<path fill="#BCAAA5" d="M1522.7 446.8l4.8-0.3 6 0.4 10 2.1 10 4 9.6 5.8 5.1 4 4.2 4 6.6 8 2.4 4 1.8 4 1.1 4 0.4 4-1 6-3.2 6-5 5.1-7 4.9-12.3 6-12.7 4.8-12 3.6-12 2.3-12 0.8-10-0.4-10-1.6-10-3-5.3-2.5-5.1-4-2.6-4-0.7-2-0.4-4 0.5-4 1.1-4 1.8-4 3.4-6 7.4-10 10.6-12 9.3-9.3 8-6.2 8-4.2 8-2.1z"/>
<path fill="#C3B3AF" d="M1517.8 450.8l7.7-1.2 4-0.1 6 0.6 10 2.6 10 4.5 8.2 5.6 4.5 4 3.8 4 5.5 8 1.8 4 1.2 4 0.3 6-1.7 6-2.6 4-5 4.9-7.8 5.1-8.2 4-12 4.7-12 3.7-10 2-10 0.9-10-0.2-10-1.4-8-2.3-4-1.6-4-2.2-4.2-3.6-1.8-2.6-1.3-3.4-0.1-6 1-4 1.5-4 4.4-8 7.5-10 10.8-12 8.2-7.4 8-5.3 8-3.2z"/>
<path fill="#CABCB8" d="M1523.2 452.8l8.3-0.2 10 1.8 6 2.1 4 1.8 7.4 4.5 7 6 3.6 4 2.9 4 2.2 4 1.5 4 0.9 6-1.1 6-2.1 4-4.3 4.8-7.3 5.2-8.7 4.4-12 4.9-10 3-10 2-10 0.8-8-0.2-8-1.1-8-2.3-7.4-3.5-4.6-4-2.2-4-0.8-4 0.2-4 1-4 3.6-8 5.3-8 8.3-10 8.6-8.5 7.3-5.5 6.7-3.5 8-2.3z"/>
<path fill="#D1C5C2" d="M1518.3 456.8l5.2-1 4-0.3 8 0.6 8 2 8 3.6 7.6 5.1 6.2 6 4.2 6 1.9 4 1.2 4 0.2 6-1.1 4-2.3 4-3.7 4-5.4 4-8.8 4.8-10 4.2-10 3.2-8.8 1.8-9.2 0.8-10-0.4-8-1.5-7.9-2.9-4.1-2.5-4-3.9-1.9-3.6-0.5-2 0.1-6 1.8-6 4.2-8 5.8-8 7.2-8 7.3-6.5 6-3.9 8-3.4z"/>
<path fill="#D8CECB" d="M1524.2 458.8l7.3-0.1 8 1.4 8 3 6.4 3.7 6.9 6 4.5 6 2.6 6 0.8 6-0.7 4-0.7 2-2.6 4-4 4-5.8 4-7.5 4-9.9 4.1-8 2.3-10 1.7-8 0.3-6-0.4-8-1.7-6-2.3-4-2.5-2-1.7-2-2.5-1.5-3.3-0.5-2-0.1-4 1.4-6 3.8-8 4.9-7 6-6.7 6-5.4 6-4.1 6-2.8 8-1.9z"/>
<path fill="#DFD7D5" d="M1519.6 462.8l5.9-0.9 8 0.2 8 2 6 2.6 6 4 4.3 4.1 4.1 6 2.1 6 0.3 4-0.3 2-1.5 4-2.8 4-4.2 3.9-6.2 4.1-7.8 3.9-6 2.4-8 2.2-8 1.2-6 0.2-8-0.9-6-1.5-6-2.7-3.6-2.8-2.9-4-1.2-4 0.3-6 1.9-6 3.3-6 4.5-6 5.7-5.9 6-4.6 6-3.4 6-2.1z"/>
<path fill="#E6E0DE" d="M1517.5 466.8l6-1.4 6-0.3 6 0.8 6 1.8 6 3.1 4 3 4 4.3 2.7 4.7 1.2 4 0.1 4-1 4-2.4 4-3.8 4-5.5 4-7.3 3.9-5.2 2.1-6.8 1.9-6 1-8 0.1-6-0.8-6-1.7-4.9-2.5-3.1-2.7-2.2-3.3-1.2-4 0.4-6 1.3-4 3.2-6 4.5-5.8 4.3-4.2 5.7-4.2 6-3.1z"/>
<path fill="#EDE9E7" d="M1526.6 468.8l4.9 0.2 6 1.3 4 1.6 4.8 2.9 4.2 4 2.6 4 1.2 4 0.1 4-1.3 4-2.6 4-4.1 4-2.9 2.1-6 3.4-6 2.4-6 1.5-6 0.7-6-0.3-6-1.2-4-1.5-4-2.5-2.6-2.6-1.4-2.5-0.9-3.5 0.1-4 1.1-4 3.2-6 3.2-4 4.2-4 5.1-3.6 4-1.9 4-1.4 6-1.1z"/>
<path fill="#F4F2F1" d="M1517.3 474.8l4.2-1.2 6-0.6 4 0.3 4 1 4 1.6 4 2.7 2.2 2.2 1.8 2.9 1.1 3.1 0 4-1.1 3.2-1.6 2.8-2.4 2.8-3.8 3.2-7.3 4-4.9 1.6-4 0.7-6 0.2-4-0.5-4-1.2-4-1.9-3.4-2.9-1.3-2-0.9-2-0.4-4 0.9-4 2-4 3.1-4 2-2 4-3.1 4-2.1z"/>
<path fill="#FBFBFA" d="M1521.7 478.8l3.8-0.5 4 0.2 6 2 3.1 2.3 1.6 2 0.9 2 0.4 2-0.1 2-1.5 4-3.4 4-5 3.3-6 2.1-6 0.5-4-0.7-3.5-1.2-3-2-1.5-1.7-1.1-2.3-0.4-2 0.1-2 1.4-4 3.1-4 4.9-3.7 6-2.3z"/>
</g>
<path fill="none" stroke="#000" stroke-width="0.8" stroke-linejoin="round" d="M1572.1 386.8l0.6 6 0.8 4 1.6 4 2.4 3.5 2.7 2.5 3.3 2 4 1.2 4 0.4 4-0.4 3.7-1.2 3.5-2 2.3-2 1.7-2 2.3-4 2.5-8.7 1.6-3.3M1677.3 386.8l1.9 4 0.6 2 3.8 18 9.3 34 2.3 12 1.2 12-0.1 8-0.5 6-1.1 6-2.1 8-2.1 6-3 6.5-3.5 5.5-2.5 2.9-3.5 3.1-4.5 3.2-8.8 4.8-10.4 4-20.8 6.7-6 2.9-4 2.4-5 4-3.8 4-9.2 12.5-4 4.4-4 2.9-4 2-4 1.2-4 0.7-6 0.6-6 0.2-10-0.6-22-2.5-10-0.9-16 0-10 0.7-6 1-7.6 1.8-6 2-4.7 2-6.8 4-2.4 2-1.8 2-1.2 2-0.7 2 0 2 0.7 2 1.4 2 3.1 2.4 6 3 6 2.1 8 2.1 8 1.5 12 1 22 0.5 18-1.4 20-2.7 8-0.4 6 0.1 8 0.7 6.4 1.1 5.6 1.3 14 4.2 10.3 0.5 1.4 2-0.4 2-1.4 4-1.8 4-3.2 4-2.7 2-3.5 2-4.6 2-5.8 2-16.3 4.3-8 1.6-8 1.1-16 1.4-4 0.7-2.2 0.9-2.2 2-0.7 2 0.1 4M1402.1 656.8l-0.7-2-1.9-3-12.5-11-3.4-4-3.7-6-3.6-8-6.7-18-9.6-24-2.6-8-1.4-6-1-6-0.8-8 0-6 0.3-6 1-8 1.3-6 1.2-4 2.3-6 4.9-10 4.7-8 6-8 9.6-11.1 6.5-6.9 29.4-26 18.1-16.9 8-8.1 8-9.3 5.6-7.7 4.4-7.4 5.3-10.6M1550.4 386.8l2.4 4 4.4 12 3.3 6 5.1 6 3.9 3.3 4 2.6 8 3.7 8 2.3 8 1.4 22 2.3 6 1.2 3.8 1.2 4.8 2 5.4 3.3 4 3.2 3.3 3.5 4.3 6 2.9 6 1.7 6 0.6 6-0.4 6-1.8 8-2.3 6-4.2 8-5.5 8-5.2 6-8.2 8-7.4 6-11.7 8-8.1 4.7-10 4.9-12 4.7-8 2.6-10 2.7-8 1.9-12 2.1-14 1.9-38 3.7-36 5.3-12 0.9-6-0.2-6-0.8-6-1.3-4-1.4-6-2.8-4-2.7-4-3.5-2.4-2.7-2.6-4-1.7-4-1-4-0.5-4 0.1-14 0.9-6 1.1-4 2.5-6 3.4-6 4.2-6 4.8-6 9.2-10 20.7-20 13.3-14 13.4-16 26.6-34.3 4-4.5 3.4-3.2M1517.3 414.8l4.2-0.8 6 0.1 4 0.8 6 2.4 6 3.2 17 10.3 34.7 20 9.2 6 5 4 3.9 4 2.8 4 2 4 1.4 6 0.1 6-1.2 6-2.3 6-2.2 4-4.4 6-6 6.1-7.7 5.9-9.9 6-10.4 5.1-12.1 4.9-13.9 4.7-12 3.2-12 2.4-14 1.8-16 1.1-18 0.2-12-0.6-10-1.4-8-2.2-7-3.2-5.3-4-3.3-4-2.1-4-1.5-6-0.2-6 1.2-8 1.9-6 3.9-8 4.4-6.4 6.5-7.6 30.3-30 23.2-24.8 4-3.6 6-4.3 4-2 3.8-1.3M1518.9 444.8l6.6-0.9 6 0.2 8 1.3 6 1.7 8 3.3 6 3.3 6 3.9 6.4 5.2 5.9 6 4.6 6 3.1 5.6 1.6 4.4 0.7 6-0.5 4-1.4 4-2.3 4-3.5 4-4.8 4-6.4 4-7.4 3.6-10.7 4.4-9.3 3.2-9.9 2.8-8.1 1.7-8 1.1-8 0.5-8-0.2-6-0.5-6-0.9-8-1.8-6-2-6-3.1-3.5-2.8-2.5-3.3-1.2-2.7-0.7-4 0.3-4 1.7-6 1.9-4 3.5-6 6-8 6.9-8 9.6-10.3 8-7.7 6-4.8 4-2.7 6-2.9 5.4-1.6M1520.2 472.8l5.3-0.8 6 0.2 6 1.6 4 1.9 4.1 3.1 3 4 1.4 4 0 4-1.3 4-2.8 4-4.5 4-5.9 3.6-6 2.3-4 1-6 0.6-6-0.5-4-1-4-1.7-4-3-2-2.8-1-2.5-0.3-2 0.4-4 0.9-2.7 1.7-3.3 2.3-3.2 2.6-2.8 3.4-2.9 4-2.5 6.7-2.6"/>
</g>
<rect x="1297.5" y="392.8" width="488.5" height="257.2" fill="none" stroke="#000" stroke-width="2.3"/>
<path d="M1297.5 650v4.2M1460.3 650v4.2M1623.2 650v4.2M1786 650v4.2" stroke="#000" stroke-width="2.3" fill="none"/>
<path d="M1378.9 650v2.6M1541.8 650v2.6M1704.6 650v2.6" stroke="#000" stroke-width="2.3" fill="none"/>
<text x="1297.5" y="686.1" font-size="27.1" text-anchor="middle">0</text>
<text x="1460.3" y="686.1" font-size="27.1" text-anchor="middle">5</text>
<text x="1623.2" y="686.1" font-size="27.1" text-anchor="middle">10</text>
<text x="1785" y="686.1" font-size="27.1" text-anchor="middle">15</text>
<path d="M1297.5 392.8h-6.2M1297.5 464.2h-6.2M1297.5 535.7h-6.2M1297.5 607.1h-6.2" stroke="#000" stroke-width="2.3" fill="none"/>
<text x="1279.5" y="402.4" font-size="27.1" text-anchor="end">3.0</text>
<text x="1279.5" y="473.8" font-size="27.1" text-anchor="end">2.5</text>
<text x="1279.5" y="545.3" font-size="27.1" text-anchor="end">2.0</text>
<text x="1279.5" y="616.7" font-size="27.1" text-anchor="end">1.5</text>
<text x="1539.5" y="716.3" font-size="29" text-anchor="middle">k (Å<tspan font-size="20.5" dy="-13">−1</tspan><tspan dy="13">&#8203;</tspan>)</text>
<text transform="translate(1215.3 521.6) rotate(-90)" font-size="28.7" text-anchor="middle">R+ΔR(Å)</text>
<text x="1188.5" y="414.1" font-size="41.5" font-weight="bold">d</text>
<text x="1528" y="493.5" font-size="27.3" text-anchor="middle" font-weight="bold">Co-Co</text>
<text x="1478.5" y="629.2" font-size="27.3" text-anchor="middle" font-weight="bold">Co-N</text>
<defs><linearGradient id="cbd" x1="0" y1="1" x2="0" y2="0"><stop offset="0%" stop-color="#333399"/><stop offset="10%" stop-color="#0099FF"/><stop offset="15%" stop-color="#00CC66"/><stop offset="40%" stop-color="#FFFF99"/><stop offset="60%" stop-color="#805C54"/><stop offset="100%" stop-color="#FFFFFF"/></linearGradient></defs><rect x="1806" y="393.2" width="12" height="253.6" fill="url(#cbd)" stroke="#5A5A5A" stroke-width="1.1"/>
<path d="M1818 646.1h8M1818 598h8M1818 549.9h8M1818 501.8h8M1818 453.7h8M1818 405.6h8" stroke="#333" stroke-width="1.2" fill="none"/>
<text x="1837.5" y="654.4" font-size="25">0</text>
<text x="1837.5" y="606.3" font-size="25">1</text>
<text x="1837.5" y="558.2" font-size="25">2</text>
<text x="1837.5" y="510.1" font-size="25">3</text>
<text x="1837.5" y="462" font-size="25">4</text>
<text x="1837.5" y="413.9" font-size="25">5</text>
<!-- panel_e -->
<g fill="none" stroke-width="4.6" stroke-linejoin="round">
<path d="M44.2 1345.9L45.2 1345.8L46.2 1345.6L47.2 1345.4L48.2 1345.3L49.2 1345.1L50.2 1344.9L51.2 1344.7L52.2 1344.5L53.2 1344.3L54.2 1344.2L55.2 1344L56.2 1343.8L57.2 1343.6L58.2 1343.5L59.2 1343.3L60.2 1343.1L61.2 1342.9L62.2 1342.8L63.2 1342.6L64.2 1342.4L65.2 1342.3L66.2 1342.1L67.2 1342L68.2 1341.8L69.2 1341.6L70.2 1341.5L71.2 1341.3L72.2 1341.2L73.2 1341L74.2 1340.9L75.2 1340.7L76.2 1340.5L77.2 1340.3L78.2 1340.1L79.2 1339.9L80.2 1339.6L81.2 1339.2L82.2 1338.8L83.2 1338.4L84.2 1338L85.2 1337.5L86.2 1337.1L87.2 1336.6L88.2 1336.1L89.2 1335.6L90.2 1335.1L91.2 1334.5L92.2 1334L93.2 1333.4L94.2 1332.7L95.2 1332.1L96.2 1331.4L97.2 1330.6L98.2 1329.9L99.2 1329.1L100.2 1328.3L101.2 1327.5L102.2 1326.6L103.2 1325.7L104.2 1324.8L105.2 1323.7L106.2 1322.6L107.2 1321.4L108.2 1320.2L109.2 1318.9L110.2 1317.6L111.2 1316.2L112.2 1314.8L113.2 1313.2L114.2 1311.5L115.2 1309.7L116.2 1307.7L117.2 1305.6L118.2 1303.5L119.2 1301.2L120.2 1298.8L121.2 1296.4L122.2 1293.7L123.2 1290.7L124.2 1287.6L125.3 1284.1L126.3 1280.3L127.3 1276.2L128.3 1271.7L129.3 1266.9L130.3 1261.7L131.3 1256.2L132.3 1250.4L133.3 1244.3L134.3 1237.9L135.3 1231.1L136.3 1223.9L137.3 1216.1L138.3 1207.7L139.3 1198.6L140.3 1188.8L141.3 1178.9L142.3 1169.1L143.3 1159.3L144.3 1149.4L145.3 1139.6L146.3 1130.1L147.3 1121.3L148.3 1113.3L149.3 1106L150.3 1099.5L151.3 1094.1L152.3 1089.8L153.3 1086.7L154.3 1084.4L155.3 1082.8L156.3 1082L157.3 1081.9L158.3 1082.4L159.3 1083.3L160.3 1084.4L161.3 1085.8L162.3 1087.6L163.3 1089.9L164.3 1092.9L165.3 1096.4L166.3 1100.5L167.3 1105L168.3 1109.7L169.3 1114.5L170.3 1119.4L171.3 1124.4L172.3 1129.3L173.3 1133.9L174.3 1138.1L175.3 1141.9L176.3 1145.3L177.3 1148.5L178.3 1151.6L179.3 1154.5L180.3 1157.2L181.3 1159.8L182.3 1162.2L183.3 1164.5L184.3 1166.5L185.3 1168.3L186.3 1170L187.3 1171.7L188.3 1173.2L189.3 1174.6L190.3 1175.9L191.3 1177.2L192.3 1178.4L193.3 1179.5L194.3 1180.6L195.3 1181.6L196.3 1182.6L197.3 1183.4L198.3 1184.1L199.3 1184.7L200.3 1185.3L201.3 1185.9L202.3 1186.4L203.3 1187L204.3 1187.5L205.3 1188.1L206.3 1188.7L207.3 1189.3L208.3 1189.9L209.3 1190.6L210.3 1191.2L211.3 1191.9L212.3 1192.6L213.3 1193.2L214.3 1193.9L215.3 1194.6L216.3 1195.2L217.3 1195.9L218.3 1196.5L219.3 1197.2L220.3 1197.8L221.3 1198.4L222.3 1199L223.3 1199.6L224.3 1200.2L225.3 1200.8L226.3 1201.3L227.3 1201.8L228.3 1202.3L229.3 1202.8L230.3 1203.3L231.3 1203.8L232.3 1204.2L233.3 1204.7L234.3 1205.2L235.3 1205.6L236.3 1206.1L237.3 1206.5L238.3 1207L239.3 1207.5L240.3 1207.9L241.3 1208.4L242.3 1208.9L243.3 1209.3L244.3 1209.8L245.3 1210.2L246.3 1210.7L247.3 1211.2L248.3 1211.6L249.3 1212L250.3 1212.5L251.3 1212.9L252.3 1213.3L253.3 1213.7L254.3 1214L255.3 1214.4L256.3 1214.7L257.3 1215.1L258.3 1215.4L259.3 1215.7L260.3 1216L261.3 1216.2L262.3 1216.5L263.3 1216.7L264.3 1216.9L265.3 1217L266.3 1217.2L267.3 1217.3L268.3 1217.4L269.3 1217.4L270.3 1217.5L271.3 1217.5L272.3 1217.6L273.3 1217.6L274.3 1217.6L275.3 1217.7L276.3 1217.7L277.3 1217.7L278.3 1217.8L279.3 1217.8L280.3 1217.9L281.3 1218L282.3 1218.1L283.3 1218.1L284.3 1218.2L285.4 1218.3L286.4 1218.4L287.4 1218.5L288.4 1218.6L289.4 1218.6L290.4 1218.7L291.4 1218.8L292.4 1218.9L293.4 1219L294.4 1219.1L295.4 1219.2L296.4 1219.3L297.4 1219.4L298.4 1219.5L299.4 1219.6L300.4 1219.7L301.4 1219.9L302.4 1220L303.4 1220.1L304.4 1220.2L305.4 1220.3L306.4 1220.4L307.4 1220.4L308.4 1220.5L309.4 1220.5L310.4 1220.5L311.4 1220.5L312.4 1220.5L313.4 1220.5L314.4 1220.4L315.4 1220.4L316.4 1220.3L317.4 1220.3L318.4 1220.2L319.4 1220.2L320.4 1220.1L321.4 1220.1L322.4 1220.1L323.4 1220.1L324.4 1220.1L325.4 1220.1L326.4 1220.2L327.4 1220.2L328.4 1220.2L329.4 1220.3L330.4 1220.3L331.4 1220.4L332.4 1220.5L333.4 1220.6L334.4 1220.7L335.4 1220.8L336.4 1220.9L337.4 1221.1L338.4 1221.2L339.4 1221.4L340.4 1221.6L341.4 1221.8L342.4 1222L343.4 1222.1L344.4 1222.3L345.4 1222.5L346.4 1222.7L347.4 1222.9L348.4 1223.1L349.4 1223.2L350.4 1223.4L351.4 1223.6L352.4 1223.8L353.4 1223.9L354.4 1224.1L355.4 1224.3L356.4 1224.4L357.4 1224.6L358.4 1224.8L359.4 1224.9L360.4 1225.1L361.4 1225.2L362.4 1225.4L363.4 1225.5L364.4 1225.6L365.4 1225.6L366.4 1225.7L367.4 1225.7L368.4 1225.7L369.4 1225.6L370.4 1225.5L371.4 1225.5L372.4 1225.4L373.4 1225.2L374.4 1225.1L375.4 1225L376.4 1224.9L377.4 1224.7L378.4 1224.6L379.4 1224.5L380.4 1224.3L381.4 1224.2L382.4 1224L383.4 1223.9L384.4 1223.7L385.4 1223.6L386.4 1223.4L387.4 1223.2L388.4 1223.1L389.4 1222.9L390.4 1222.7L391.4 1222.6L392.4 1222.4L393.4 1222.2L394.4 1222.1L395.4 1221.9L396.4 1221.7L397.4 1221.6L398.4 1221.4L399.4 1221.3L400.4 1221.1L401.4 1221L402.4 1220.9L403.4 1220.7L404.4 1220.6L405.4 1220.5L406.4 1220.4L407.4 1220.3L408.4 1220.2L409.4 1220.1L410.4 1220L411.4 1219.9L412.4 1219.8L413.4 1219.7L414.4 1219.7L415.4 1219.6L416.4 1219.5L417.4 1219.5L418.4 1219.4L419.4 1219.4L420.4 1219.3L421.4 1219.3L422.4 1219.2L423.4 1219.2L424.4 1219.2L425.4 1219.2L426.4 1219.3L427.4 1219.3L428.4 1219.4L429.4 1219.4L430.4 1219.5L431.4 1219.5L432.4 1219.6L433.4 1219.7L434.4 1219.7L435.4 1219.8L436.4 1219.8L437.4 1219.9L438.4 1220L439.4 1220L440.4 1220.1L441.4 1220.1L442.4 1220.2L443.4 1220.2L444.4 1220.3L445.4 1220.3L446.5 1220.4L447.5 1220.5L448.5 1220.5L449.5 1220.6L450.5 1220.6L451.5 1220.7L452.5 1220.7L453.5 1220.8L454.5 1220.8L455.5 1220.9L456.5 1220.9L457.5 1220.9L458.5 1221L459.5 1221L460.5 1221.1L461.5 1221.1L462.5 1221.2L463.5 1221.2L464.5 1221.2L465.5 1221.3L466.5 1221.3L467.5 1221.3L468.5 1221.3L469.5 1221.3L470.5 1221.3L471.5 1221.3L472.5 1221.3L473.5 1221.3L474.5 1221.3L475.5 1221.3L476.5 1221.3L477.5 1221.2L478.5 1221.2L479.5 1221.2L480.5 1221.1L481.5 1221.1L482.5 1221L483.5 1221L484.5 1220.9L485.5 1220.9L486.5 1220.8L487.5 1220.7L488.5 1220.7L489.5 1220.6L490.5 1220.5L491.5 1220.5L492.5 1220.4L493.5 1220.3L494.5 1220.2L495.5 1220.2L496.5 1220.1L497.5 1220L498.5 1219.9L499.5 1219.8L500.5 1219.8L501.5 1219.7L502.5 1219.6L503.5 1219.5L504.5 1219.4L505.5 1219.3L506.5 1219.2L507.5 1219.1L508.5 1219L509.5 1218.9L510.5 1218.8L511.5 1218.7L512.5 1218.6L513.5 1218.5L514.5 1218.4L515.5 1218.3L516.5 1218.3L517.5 1218.2L518.5 1218.2L519.5 1218.1L520.5 1218.1L521.5 1218.1L522.5 1218L523.5 1218L524.5 1218L525.5 1218L526.5 1218" stroke="#36B172"/>
<path d="M44.2 1348.5L45.2 1348.5L46.2 1348.3L47.2 1348.2L48.2 1348.1L49.2 1348L50.2 1347.8L51.2 1347.7L52.2 1347.6L53.2 1347.4L54.2 1347.3L55.2 1347.2L56.2 1347L57.2 1346.9L58.2 1346.8L59.2 1346.6L60.2 1346.5L61.2 1346.4L62.2 1346.2L63.2 1346.1L64.2 1346L65.2 1345.8L66.2 1345.7L67.2 1345.6L68.2 1345.4L69.2 1345.3L70.2 1345.1L71.2 1345L72.2 1344.9L73.2 1344.7L74.2 1344.6L75.2 1344.4L76.2 1344.3L77.2 1344.2L78.2 1344L79.2 1343.8L80.2 1343.6L81.2 1343.4L82.2 1343.2L83.2 1343L84.2 1342.7L85.2 1342.5L86.2 1342.2L87.2 1341.9L88.2 1341.6L89.2 1341.3L90.2 1341L91.2 1340.7L92.2 1340.4L93.2 1340L94.2 1339.7L95.2 1339.2L96.2 1338.8L97.2 1338.4L98.2 1337.9L99.2 1337.5L100.2 1337L101.2 1336.5L102.2 1336.1L103.2 1335.6L104.2 1335L105.2 1334.4L106.2 1333.8L107.2 1333.2L108.2 1332.5L109.2 1331.8L110.2 1331L111.2 1330.2L112.2 1329.4L113.2 1328.5L114.2 1327.5L115.2 1326.3L116.2 1325.1L117.2 1323.7L118.2 1322.3L119.2 1320.8L120.2 1319.3L121.2 1317.7L122.2 1316L123.2 1314.3L124.2 1312.4L125.3 1310.4L126.3 1308.3L127.3 1306L128.3 1303.5L129.3 1300.9L130.3 1298.1L131.3 1295.1L132.3 1291.8L133.3 1288.1L134.3 1284.2L135.3 1280.1L136.3 1275.7L137.3 1271.1L138.3 1266.2L139.3 1261L140.3 1255.5L141.3 1249.5L142.3 1243.2L143.3 1236.3L144.3 1228.9L145.3 1221L146.3 1212.2L147.3 1202.2L148.3 1191.1L149.3 1179.4L150.3 1167.6L151.3 1156.2L152.3 1145.2L153.3 1133.7L154.3 1119.7L155.3 1102.3L156.3 1082.9L157.3 1063L158.3 1043.2L159.3 1023.4L160.3 1003.7L161.3 984.6L162.3 966.6L163.3 950.7L164.3 937.4L165.3 926.9L166.3 919L167.3 913.5L168.3 910L169.3 908.1L170.3 907L171.3 906.4L172.3 905.8L173.3 905.4L174.3 905L175.3 904.6L176.3 904.4L177.3 904.3L178.3 904.7L179.3 905.6L180.3 907.3L181.3 910L182.3 913.7L183.3 918.5L184.3 924.3L185.3 931.9L186.3 941.8L187.3 953.8L188.3 966.9L189.3 980.3L190.3 993.8L191.3 1007.2L192.3 1020.6L193.3 1033.9L194.3 1046.8L195.3 1059L196.3 1070.7L197.3 1081.9L198.3 1092.9L199.3 1103.7L200.3 1114.1L201.3 1123.7L202.3 1131.8L203.3 1138.5L204.3 1144.4L205.3 1149.8L206.3 1155L207.3 1160.1L208.3 1165.1L209.3 1170L210.3 1174.8L211.3 1179.5L212.3 1184.2L213.3 1188.9L214.3 1193.3L215.3 1197.4L216.3 1201L217.3 1203.9L218.3 1206.2L219.3 1208.1L220.3 1209.8L221.3 1211.3L222.3 1212.8L223.3 1214.1L224.3 1215.2L225.3 1216.1L226.3 1217L227.3 1217.7L228.3 1218.5L229.3 1219.2L230.3 1219.9L231.3 1220.5L232.3 1221.1L233.3 1221.7L234.3 1222.2L235.3 1222.8L236.3 1223.3L237.3 1223.8L238.3 1224.3L239.3 1224.7L240.3 1225.1L241.3 1225.4L242.3 1225.6L243.3 1225.9L244.3 1226.1L245.3 1226.2L246.3 1226.4L247.3 1226.5L248.3 1226.7L249.3 1226.8L250.3 1226.9L251.3 1227L252.3 1227L253.3 1227.1L254.3 1227.1L255.3 1227.1L256.3 1227.1L257.3 1227.2L258.3 1227.2L259.3 1227.2L260.3 1227.3L261.3 1227.5L262.3 1227.6L263.3 1227.8L264.3 1228L265.3 1228.2L266.3 1228.5L267.3 1228.7L268.3 1229L269.3 1229.3L270.3 1229.6L271.3 1229.8L272.3 1230.1L273.3 1230.4L274.3 1230.7L275.3 1231.1L276.3 1231.4L277.3 1231.7L278.3 1232L279.3 1232.3L280.3 1232.6L281.3 1232.9L282.3 1233.2L283.3 1233.5L284.3 1233.7L285.4 1234L286.4 1234.2L287.4 1234.4L288.4 1234.6L289.4 1234.8L290.4 1235L291.4 1235.2L292.4 1235.4L293.4 1235.6L294.4 1235.8L295.4 1235.9L296.4 1236.1L297.4 1236.2L298.4 1236.3L299.4 1236.4L300.4 1236.5L301.4 1236.5L302.4 1236.5L303.4 1236.5L304.4 1236.4L305.4 1236.4L306.4 1236.3L307.4 1236.3L308.4 1236.2L309.4 1236.2L310.4 1236.1L311.4 1236.1L312.4 1236L313.4 1236L314.4 1235.9L315.4 1235.9L316.4 1235.9L317.4 1235.8L318.4 1235.8L319.4 1235.7L320.4 1235.7L321.4 1235.6L322.4 1235.6L323.4 1235.5L324.4 1235.5L325.4 1235.5L326.4 1235.4L327.4 1235.4L328.4 1235.3L329.4 1235.3L330.4 1235.2L331.4 1235.2L332.4 1235.2L333.4 1235.1L334.4 1235.1L335.4 1235L336.4 1235L337.4 1234.9L338.4 1234.9L339.4 1234.8L340.4 1234.8L341.4 1234.8L342.4 1234.7L343.4 1234.7L344.4 1234.6L345.4 1234.6L346.4 1234.5L347.4 1234.5L348.4 1234.4L349.4 1234.3L350.4 1234.2L351.4 1234.1L352.4 1234L353.4 1233.9L354.4 1233.7L355.4 1233.6L356.4 1233.4L357.4 1233.2L358.4 1233L359.4 1232.9L360.4 1232.7L361.4 1232.5L362.4 1232.3L363.4 1232.2L364.4 1232L365.4 1231.8L366.4 1231.6L367.4 1231.4L368.4 1231.2L369.4 1230.9L370.4 1230.7L371.4 1230.5L372.4 1230.2L373.4 1229.9L374.4 1229.6L375.4 1229.3L376.4 1229L377.4 1228.7L378.4 1228.4L379.4 1228.1L380.4 1227.8L381.4 1227.5L382.4 1227.2L383.4 1226.9L384.4 1226.5L385.4 1226.2L386.4 1225.9L387.4 1225.6L388.4 1225.3L389.4 1225L390.4 1224.7L391.4 1224.4L392.4 1224.1L393.4 1223.8L394.4 1223.5L395.4 1223.3L396.4 1223L397.4 1222.7L398.4 1222.4L399.4 1222.1L400.4 1221.7L401.4 1221.4L402.4 1221.1L403.4 1220.8L404.4 1220.4L405.4 1220.1L406.4 1219.7L407.4 1219.3L408.4 1219L409.4 1218.6L410.4 1218.2L411.4 1217.9L412.4 1217.5L413.4 1217.2L414.4 1216.9L415.4 1216.5L416.4 1216.2L417.4 1215.9L418.4 1215.6L419.4 1215.4L420.4 1215.1L421.4 1214.8L422.4 1214.6L423.4 1214.3L424.4 1214.1L425.4 1213.8L426.4 1213.6L427.4 1213.4L428.4 1213.2L429.4 1213L430.4 1212.9L431.4 1212.7L432.4 1212.6L433.4 1212.5L434.4 1212.4L435.4 1212.3L436.4 1212.2L437.4 1212.1L438.4 1212.1L439.4 1212L440.4 1212L441.4 1212L442.4 1212L443.4 1211.9L444.4 1211.9L445.4 1212L446.5 1212L447.5 1212L448.5 1212.1L449.5 1212.2L450.5 1212.2L451.5 1212.3L452.5 1212.4L453.5 1212.5L454.5 1212.6L455.5 1212.7L456.5 1212.8L457.5 1212.9L458.5 1213L459.5 1213.2L460.5 1213.3L461.5 1213.5L462.5 1213.7L463.5 1213.8L464.5 1214L465.5 1214.2L466.5 1214.4L467.5 1214.5L468.5 1214.7L469.5 1214.9L470.5 1215.1L471.5 1215.2L472.5 1215.4L473.5 1215.6L474.5 1215.7L475.5 1215.9L476.5 1216L477.5 1216.2L478.5 1216.4L479.5 1216.5L480.5 1216.7L481.5 1216.8L482.5 1217L483.5 1217.1L484.5 1217.3L485.5 1217.4L486.5 1217.5L487.5 1217.7L488.5 1217.8L489.5 1217.9L490.5 1218L491.5 1218.1L492.5 1218.3L493.5 1218.4L494.5 1218.5L495.5 1218.5L496.5 1218.6L497.5 1218.7L498.5 1218.8L499.5 1218.9L500.5 1219L501.5 1219L502.5 1219.1L503.5 1219.2L504.5 1219.2L505.5 1219.3L506.5 1219.4L507.5 1219.4L508.5 1219.5L509.5 1219.6L510.5 1219.6L511.5 1219.7L512.5 1219.8L513.5 1219.8L514.5 1219.9L515.5 1219.9L516.5 1220L517.5 1220L518.5 1220.1L519.5 1220.1L520.5 1220.2L521.5 1220.2L522.5 1220.2L523.5 1220.3L524.5 1220.3L525.5 1220.4L526.5 1220.4" stroke="#DC9AC0"/>
<path d="M44.2 1348.1L45.2 1348.1L46.2 1347.9L47.2 1347.8L48.2 1347.7L49.2 1347.5L50.2 1347.4L51.2 1347.3L52.2 1347.1L53.2 1347L54.2 1346.8L55.2 1346.7L56.2 1346.6L57.2 1346.4L58.2 1346.3L59.2 1346.1L60.2 1346L61.2 1345.9L62.2 1345.7L63.2 1345.6L64.2 1345.4L65.2 1345.3L66.2 1345.1L67.2 1345L68.2 1344.8L69.2 1344.7L70.2 1344.5L71.2 1344.4L72.2 1344.2L73.2 1344.1L74.2 1343.9L75.2 1343.8L76.2 1343.6L77.2 1343.5L78.2 1343.3L79.2 1343.1L80.2 1342.9L81.2 1342.7L82.2 1342.4L83.2 1342.2L84.2 1341.9L85.2 1341.6L86.2 1341.3L87.2 1341L88.2 1340.8L89.2 1340.5L90.2 1340.1L91.2 1339.8L92.2 1339.5L93.2 1339.1L94.2 1338.7L95.2 1338.3L96.2 1337.9L97.2 1337.4L98.2 1337L99.2 1336.5L100.2 1336L101.2 1335.6L102.2 1335.1L103.2 1334.6L104.2 1334L105.2 1333.4L106.2 1332.8L107.2 1332.1L108.2 1331.4L109.2 1330.7L110.2 1329.9L111.2 1329.1L112.2 1328.2L113.2 1327.3L114.2 1326.2L115.2 1325.1L116.2 1323.8L117.2 1322.5L118.2 1321.1L119.2 1319.6L120.2 1318.1L121.2 1316.5L122.2 1314.9L123.2 1313.3L124.2 1311.5L125.3 1309.6L126.3 1307.7L127.3 1305.6L128.3 1303.5L129.3 1301.3L130.3 1299L131.3 1296.6L132.3 1294.1L133.3 1291.3L134.3 1288.3L135.3 1285.1L136.3 1281.8L137.3 1278.2L138.3 1274.4L139.3 1270.2L140.3 1265.6L141.3 1260.7L142.3 1255.4L143.3 1249.8L144.3 1243.8L145.3 1237.3L146.3 1230.4L147.3 1223L148.3 1215.2L149.3 1206.7L150.3 1197.8L151.3 1188.3L152.3 1178.6L153.3 1168.6L154.3 1158.5L155.3 1148.1L156.3 1137L157.3 1125.2L158.3 1112.4L159.3 1099.5L160.3 1087.3L161.3 1076.2L162.3 1066.6L163.3 1058.2L164.3 1051L165.3 1044.6L166.3 1038.8L167.3 1033.7L168.3 1029.2L169.3 1025.5L170.3 1022.5L171.3 1020.1L172.3 1018.5L173.3 1017.6L174.3 1017.6L175.3 1018.5L176.3 1020.1L177.3 1022.5L178.3 1025.5L179.3 1029.1L180.3 1033.2L181.3 1037.8L182.3 1042.8L183.3 1048.1L184.3 1053.6L185.3 1059.4L186.3 1065.3L187.3 1071.3L188.3 1077.4L189.3 1083.7L190.3 1090.1L191.3 1096.5L192.3 1102.9L193.3 1109.2L194.3 1115.5L195.3 1121.5L196.3 1127.3L197.3 1132.6L198.3 1137.3L199.3 1141.7L200.3 1145.8L201.3 1149.6L202.3 1153.1L203.3 1156.3L204.3 1159.2L205.3 1162L206.3 1164.6L207.3 1167L208.3 1169.4L209.3 1171.6L210.3 1173.8L211.3 1175.8L212.3 1177.5L213.3 1178.9L214.3 1180.1L215.3 1181.2L216.3 1182.2L217.3 1183.2L218.3 1184.2L219.3 1185.2L220.3 1186.1L221.3 1187L222.3 1187.9L223.3 1188.8L224.3 1189.7L225.3 1190.6L226.3 1191.5L227.3 1192.3L228.3 1193.2L229.3 1194.1L230.3 1195L231.3 1195.9L232.3 1196.8L233.3 1197.7L234.3 1198.7L235.3 1199.6L236.3 1200.6L237.3 1201.6L238.3 1202.6L239.3 1203.6L240.3 1204.5L241.3 1205.4L242.3 1206.3L243.3 1207.2L244.3 1208L245.3 1208.7L246.3 1209.5L247.3 1210.2L248.3 1210.9L249.3 1211.6L250.3 1212.3L251.3 1213L252.3 1213.6L253.3 1214.3L254.3 1214.9L255.3 1215.6L256.3 1216.2L257.3 1216.8L258.3 1217.3L259.3 1217.9L260.3 1218.4L261.3 1218.9L262.3 1219.3L263.3 1219.7L264.3 1220.1L265.3 1220.5L266.3 1220.9L267.3 1221.3L268.3 1221.6L269.3 1221.9L270.3 1222.3L271.3 1222.6L272.3 1222.9L273.3 1223.3L274.3 1223.6L275.3 1224L276.3 1224.3L277.3 1224.6L278.3 1224.9L279.3 1225.2L280.3 1225.4L281.3 1225.7L282.3 1225.9L283.3 1226.1L284.3 1226.3L285.4 1226.4L286.4 1226.6L287.4 1226.8L288.4 1227L289.4 1227.1L290.4 1227.3L291.4 1227.5L292.4 1227.6L293.4 1227.8L294.4 1228L295.4 1228.1L296.4 1228.3L297.4 1228.5L298.4 1228.6L299.4 1228.8L300.4 1229L301.4 1229.1L302.4 1229.3L303.4 1229.4L304.4 1229.6L305.4 1229.8L306.4 1229.9L307.4 1230.1L308.4 1230.2L309.4 1230.4L310.4 1230.5L311.4 1230.6L312.4 1230.8L313.4 1230.9L314.4 1231L315.4 1231.1L316.4 1231.2L317.4 1231.3L318.4 1231.4L319.4 1231.4L320.4 1231.5L321.4 1231.5L322.4 1231.6L323.4 1231.6L324.4 1231.6L325.4 1231.6L326.4 1231.6L327.4 1231.5L328.4 1231.5L329.4 1231.5L330.4 1231.4L331.4 1231.4L332.4 1231.3L333.4 1231.3L334.4 1231.2L335.4 1231.2L336.4 1231.1L337.4 1231L338.4 1230.9L339.4 1230.8L340.4 1230.7L341.4 1230.6L342.4 1230.5L343.4 1230.3L344.4 1230.2L345.4 1230L346.4 1229.9L347.4 1229.7L348.4 1229.6L349.4 1229.4L350.4 1229.2L351.4 1229.1L352.4 1228.9L353.4 1228.7L354.4 1228.5L355.4 1228.3L356.4 1228.1L357.4 1227.9L358.4 1227.7L359.4 1227.6L360.4 1227.4L361.4 1227.2L362.4 1227L363.4 1226.8L364.4 1226.6L365.4 1226.4L366.4 1226.1L367.4 1225.9L368.4 1225.7L369.4 1225.5L370.4 1225.3L371.4 1225.1L372.4 1224.9L373.4 1224.6L374.4 1224.4L375.4 1224.2L376.4 1224L377.4 1223.8L378.4 1223.6L379.4 1223.3L380.4 1223.1L381.4 1222.9L382.4 1222.7L383.4 1222.5L384.4 1222.2L385.4 1222L386.4 1221.8L387.4 1221.6L388.4 1221.3L389.4 1221.1L390.4 1220.9L391.4 1220.7L392.4 1220.4L393.4 1220.2L394.4 1220L395.4 1219.8L396.4 1219.6L397.4 1219.4L398.4 1219.2L399.4 1219L400.4 1218.8L401.4 1218.6L402.4 1218.5L403.4 1218.3L404.4 1218.1L405.4 1218L406.4 1217.8L407.4 1217.7L408.4 1217.5L409.4 1217.4L410.4 1217.3L411.4 1217.2L412.4 1217.1L413.4 1217L414.4 1216.9L415.4 1216.8L416.4 1216.7L417.4 1216.6L418.4 1216.6L419.4 1216.5L420.4 1216.4L421.4 1216.3L422.4 1216.3L423.4 1216.2L424.4 1216.1L425.4 1216.1L426.4 1216.1L427.4 1216L428.4 1216.1L429.4 1216.1L430.4 1216.1L431.4 1216.2L432.4 1216.3L433.4 1216.3L434.4 1216.4L435.4 1216.5L436.4 1216.6L437.4 1216.6L438.4 1216.7L439.4 1216.8L440.4 1216.9L441.4 1216.9L442.4 1217L443.4 1217.1L444.4 1217.2L445.4 1217.3L446.5 1217.3L447.5 1217.4L448.5 1217.5L449.5 1217.5L450.5 1217.6L451.5 1217.7L452.5 1217.8L453.5 1217.8L454.5 1217.9L455.5 1218L456.5 1218L457.5 1218.1L458.5 1218.2L459.5 1218.3L460.5 1218.3L461.5 1218.4L462.5 1218.5L463.5 1218.5L464.5 1218.6L465.5 1218.7L466.5 1218.7L467.5 1218.8L468.5 1218.9L469.5 1218.9L470.5 1219L471.5 1219L472.5 1219.1L473.5 1219.1L474.5 1219.2L475.5 1219.2L476.5 1219.3L477.5 1219.3L478.5 1219.3L479.5 1219.4L480.5 1219.4L481.5 1219.5L482.5 1219.5L483.5 1219.5L484.5 1219.6L485.5 1219.6L486.5 1219.7L487.5 1219.7L488.5 1219.7L489.5 1219.8L490.5 1219.8L491.5 1219.8L492.5 1219.9L493.5 1219.9L494.5 1220L495.5 1220L496.5 1220L497.5 1220.1L498.5 1220.1L499.5 1220.1L500.5 1220.2L501.5 1220.2L502.5 1220.2L503.5 1220.3L504.5 1220.3L505.5 1220.3L506.5 1220.4L507.5 1220.4L508.5 1220.4L509.5 1220.4L510.5 1220.5L511.5 1220.5L512.5 1220.5L513.5 1220.6L514.5 1220.6L515.5 1220.6L516.5 1220.6L517.5 1220.6L518.5 1220.7L519.5 1220.7L520.5 1220.7L521.5 1220.7L522.5 1220.7L523.5 1220.8L524.5 1220.8L525.5 1220.8L526.5 1220.8" stroke="#F7922F"/>
</g>
<rect x="44" y="818.6" width="482.5" height="560.8" fill="none" stroke="#000" stroke-width="3.2"/>
<path d="M44 1379.4v7.5M140.5 1379.4v7.5M237 1379.4v7.5M333.5 1379.4v7.5M430 1379.4v7.5M526.5 1379.4v7.5" stroke="#000" stroke-width="3.2" fill="none"/>
<path d="M92.2 1379.4v4.2M188.8 1379.4v4.2M285.2 1379.4v4.2M381.8 1379.4v4.2M478.2 1379.4v4.2" stroke="#000" stroke-width="3.2" fill="none"/>
<text x="41.2" y="1421.3" font-size="27.1" text-anchor="middle">10,180</text>
<text x="137.7" y="1421.3" font-size="27.1" text-anchor="middle">10,200</text>
<text x="234.2" y="1421.3" font-size="27.1" text-anchor="middle">10,220</text>
<text x="330.7" y="1421.3" font-size="27.1" text-anchor="middle">10,240</text>
<text x="427.2" y="1421.3" font-size="27.1" text-anchor="middle">10,260</text>
<text x="523.7" y="1421.3" font-size="27.1" text-anchor="middle">10,280</text>
<text x="304.1" y="1459.8" font-size="29" text-anchor="middle">Energy (eV)</text>
<text transform="translate(24.2 1110.3) rotate(-90)" font-size="29.2" text-anchor="middle">Normalized intensity (a.u.)</text>
<text x="-1.5" y="802.2" font-size="41.5" font-weight="bold">e</text>
<text x="57" y="847.4" font-size="28.7">W L<tspan font-size="19" dy="8">3</tspan><tspan dy="-8">&#8203;</tspan>-edge</text>
<g fill="none" stroke-width="4.7" stroke-linecap="round">
<path d="M361.2 837.4H411.9" stroke="#36B172"/>
<path d="M361.2 865.6H411.9" stroke="#DC9AC0"/>
<path d="M361.2 898.9H411.9" stroke="#F7922F"/>
</g>
<text x="427" y="843.8" font-size="20.6">W foil</text>
<text x="427" y="872" font-size="20.6">WO<tspan font-size="14.5" dy="8">3</tspan><tspan dy="-8">&#8203;</tspan></text>
<text x="427" y="905.4" font-size="20.6">PW–Co<tspan font-size="14.5" dy="8">3</tspan><tspan dy="-8">&#8203;</tspan>N</text>
<!-- panel_f -->
<defs><clipPath id="clf"><rect x="657" y="818.6" width="482.5" height="561.3"/></clipPath></defs><g clip-path="url(#clf)">
<defs><marker id="mfg" markerUnits="userSpaceOnUse" markerWidth="8" markerHeight="8" refX="0" refY="0" viewBox="-4 -4 8 8" overflow="visible"><circle r="2.5" fill="#fff" stroke="#36B172" stroke-width="1.9"/></marker><marker id="mfp" markerUnits="userSpaceOnUse" markerWidth="8" markerHeight="8" refX="0" refY="0" viewBox="-4 -4 8 8" overflow="visible"><circle r="2.5" fill="#fff" stroke="#DC9AC0" stroke-width="1.9"/></marker><marker id="mfo" markerUnits="userSpaceOnUse" markerWidth="8" markerHeight="8" refX="0" refY="0" viewBox="-4 -4 8 8" overflow="visible"><circle r="2.5" fill="#fff" stroke="#F7922F" stroke-width="1.9"/></marker></defs>
<path d="M657 1077L658 1076.9L659 1076.9L660 1076.8L661 1076.8L662 1076.7L663 1076.7L664 1076.6L665 1076.6L666 1076.5L667 1076.4L668 1076.4L669 1076.3L670 1076.3L671 1076.2L672 1076.1L673 1076.1L674 1076L675 1075.9L676 1075.9L677 1075.8L678 1075.7L679 1075.7L680 1075.6L681 1075.5L682 1075.5L683 1075.4L684 1075.3L685 1075.3L686 1075.2L687 1075.1L688 1075L689 1075L690 1074.9L691 1074.8L692 1074.7L693 1074.6L694 1074.5L695 1074.4L696 1074.3L697 1074.2L698 1074.1L699 1074L700 1073.9L701 1073.8L702 1073.7L703 1073.6L704 1073.5L705 1073.4L706.1 1073.3L707.1 1073.2L708.1 1073L709.1 1072.9L710.1 1072.8L711.1 1072.7L712.1 1072.5L713.1 1072.4L714.1 1072.2L715.1 1072L716.1 1071.8L717.1 1071.6L718.1 1071.2L719.1 1070.9L720.1 1070.5L721.1 1070L722.1 1069.5L723.1 1068.9L724.1 1068.3L725.1 1067.7L726.1 1067.1L727.1 1066.5L728.1 1066L729.1 1065.4L730.1 1065L731.1 1064.6L732.1 1064.3L733.1 1064.2L734.1 1064.3L735.1 1064.7L736.1 1065.3L737.1 1065.9L738.1 1066.7L739.1 1067.6L740.1 1068.7L741.1 1070.1L742.1 1071.6L743.1 1073.4L744.1 1075.2L745.1 1077.1L746.1 1079L747.1 1080.7L748.1 1081.8L749.1 1082.2L750.1 1082L751.1 1081.4L752.1 1080.7L753.1 1079.9L754.1 1079.1L755.1 1078.3L756.1 1077.7L757.1 1077.2L758.1 1077L759.1 1077.1L760.1 1077.4L761.1 1077.9L762.1 1078.4L763.1 1078.9L764.1 1079.4L765.1 1079.7L766.1 1079.6L767.1 1079L768.1 1077.9L769.1 1076.5L770.1 1075L771.1 1073.4L772.1 1071.9L773.1 1070.5L774.1 1069.1L775.1 1067.8L776.1 1066.7L777.1 1065.7L778.1 1064.9L779.1 1064.5L780.1 1064.4L781.1 1064.5L782.1 1064.7L783.1 1065L784.1 1065.3L785.1 1065.7L786.1 1066L787.1 1066.3L788.1 1066.5L789.1 1066.4L790.1 1065.6L791.1 1064.3L792.1 1062.6L793.1 1060.8L794.1 1059L795.1 1057.2L796.1 1055.4L797.1 1053.6L798.1 1051.9L799.1 1050.5L800.1 1049.5L801.1 1049L802.2 1049.1L803.2 1049.8L804.2 1050.8L805.2 1052.3L806.2 1054L807.2 1056L808.2 1058L809.2 1059.9L810.2 1061.8L811.2 1063.3L812.2 1064.2L813.2 1064L814.2 1062.3L815.2 1059.3L816.2 1055.2L817.2 1050.3L818.2 1044.7L819.2 1038.8L820.2 1032.9L821.2 1027.3L822.2 1022.1L823.2 1017.1L824.2 1012.6L825.2 1008.5L826.2 1005.1L827.2 1002.2L828.2 999.8L829.2 997.8L830.2 996.3L831.2 995.6L832.2 995.8L833.2 997L834.2 999L835.2 1001.7L836.2 1004.6L837.2 1007.7L838.2 1011L839.2 1014.3L840.2 1017.5L841.2 1020.5L842.2 1022.4L843.2 1022.5L844.2 1020L845.2 1015.3L846.2 1009.2L847.2 1001.7L848.2 993.2L849.2 984L850.2 974.5L851.2 964.9L852.2 955.3L853.2 945.7L854.2 936.2L855.2 927.1L856.2 918.3L857.2 910.1L858.2 902.5L859.2 895.8L860.2 890.1L861.2 885.4L862.2 881.8L863.2 879.2L864.2 877.6L865.2 876.8L866.2 877L867.2 878.1L868.2 880L869.2 882.8L870.2 886.6L871.2 891.5L872.2 897.4L873.2 904.2L874.2 912L875.2 920.6L876.2 929.9L877.2 939.7L878.2 949.7L879.2 959.7L880.2 969.7L881.2 979.8L882.2 990L883.2 1000.2L884.2 1010.3L885.2 1019.7L886.2 1028L887.2 1034.7L888.2 1039.1L889.2 1040.8L890.2 1039.6L891.2 1036.2L892.2 1031.3L893.2 1025.5L894.2 1019.2L895.2 1012.9L896.2 1006.5L897.2 1000.5L898.2 994.8L899.3 989.5L900.3 984.7L901.3 980.6L902.3 977.3L903.3 974.9L904.3 973.2L905.3 972.2L906.3 971.8L907.3 972L908.3 972.9L909.3 974.3L910.3 976.1L911.3 978.3L912.3 980.6L913.3 983.2L914.3 986L915.3 989.3L916.3 993L917.3 997.2L918.3 1001.6L919.3 1006.1L920.3 1010.5L921.3 1014.8L922.3 1018.7L923.3 1022.4L924.3 1025.8L925.3 1029.1L926.3 1032.3L927.3 1035.7L928.3 1039L929.3 1042.4L930.3 1045.8L931.3 1049L932.3 1051.9L933.3 1054.1L934.3 1055.6L935.3 1056.5L936.3 1056.9L937.3 1057.1L938.3 1057.1L939.3 1057.1L940.3 1056.8L941.3 1056.3L942.3 1055.8L943.3 1055.3L944.3 1055.4L945.3 1056.1L946.3 1057.3L947.3 1058.7L948.3 1060.1L949.3 1061.5L950.3 1062.7L951.3 1063.9L952.3 1065L953.3 1065.9L954.3 1066.5L955.3 1066.7L956.3 1066.4L957.3 1065.8L958.3 1064.6L959.3 1062.8L960.3 1060.5L961.3 1057.7L962.3 1054.9L963.3 1052.4L964.3 1050.2L965.3 1048.5L966.3 1047L967.3 1045.9L968.3 1045.2L969.3 1044.8L970.3 1044.8L971.3 1045L972.3 1045.5L973.3 1046.4L974.3 1047.6L975.3 1049.1L976.3 1050.8L977.3 1052.5L978.3 1054.4L979.3 1056.4L980.3 1058.4L981.3 1060.3L982.3 1062.1L983.3 1063.3L984.3 1063.8L985.3 1063.5L986.3 1062.4L987.3 1060.7L988.3 1058.7L989.3 1056.5L990.3 1054.1L991.3 1051.8L992.3 1049.4L993.3 1047.1L994.3 1044.7L995.4 1042.3L996.4 1039.9L997.4 1037.5L998.4 1035.1L999.4 1032.8L1000.4 1030.6L1001.4 1028.6L1002.4 1026.6L1003.4 1024.8L1004.4 1023.1L1005.4 1021.4L1006.4 1019.9L1007.4 1018.5L1008.4 1017.3L1009.4 1016.3L1010.4 1015.5L1011.4 1014.9L1012.4 1014.6L1013.4 1014.6L1014.4 1015L1015.4 1015.9L1016.4 1017L1017.4 1018.6L1018.4 1020.5L1019.4 1022.8L1020.4 1025.4L1021.4 1028.3L1022.4 1031.4L1023.4 1034.7L1024.4 1038.3L1025.4 1041.9L1026.4 1045.7L1027.4 1049.5L1028.4 1053.3L1029.4 1057L1030.4 1060.7L1031.4 1064.2L1032.4 1067.3L1033.4 1069.2L1034.4 1069.7L1035.4 1068.6L1036.4 1066.4L1037.4 1063.6L1038.4 1060.3L1039.4 1056.9L1040.4 1053.5L1041.4 1050.4L1042.4 1047.5L1043.4 1044.8L1044.4 1042.3L1045.4 1040.1L1046.4 1038.2L1047.4 1036.6L1048.4 1035.2L1049.4 1034.1L1050.4 1033.2L1051.4 1032.5L1052.4 1031.9L1053.4 1031.5L1054.4 1031.3L1055.4 1031.2L1056.4 1031.4L1057.4 1031.7L1058.4 1032.3L1059.4 1033L1060.4 1034L1061.4 1035.2L1062.4 1036.5L1063.4 1038L1064.4 1039.6L1065.4 1041.4L1066.4 1043.3L1067.4 1045.4L1068.4 1047.5L1069.4 1049.7L1070.4 1051.8L1071.4 1053.9L1072.4 1056.1L1073.4 1058.1L1074.4 1060.2L1075.4 1062.2L1076.4 1064.1L1077.4 1066L1078.4 1067.6L1079.4 1068.9L1080.4 1069.8L1081.4 1070L1082.4 1069.4L1083.4 1068.1L1084.4 1066.5L1085.4 1064.6L1086.4 1062.3L1087.4 1059.9L1088.4 1057.5L1089.4 1055.2L1090.4 1053.2L1091.5 1051.4L1092.5 1049.8L1093.5 1048.4L1094.5 1047.2L1095.5 1046.2L1096.5 1045.3L1097.5 1044.6L1098.5 1044.1L1099.5 1043.8L1100.5 1043.6L1101.5 1043.6L1102.5 1043.7L1103.5 1044L1104.5 1044.6L1105.5 1045.4L1106.5 1046.5L1107.5 1047.8L1108.5 1049.4L1109.5 1051L1110.5 1052.7L1111.5 1054.5L1112.5 1056.3L1113.5 1058.1L1114.5 1060L1115.5 1061.8L1116.5 1063.6L1117.5 1065.3L1118.5 1066.9L1119.5 1068.4L1120.5 1069.8L1121.5 1071.2L1122.5 1072.4L1123.5 1073.4L1124.5 1074L1125.5 1074.2L1126.5 1073.7L1127.5 1072.9L1128.5 1071.9L1129.5 1071L1130.5 1070.2L1131.5 1069.5L1132.5 1069L1133.5 1068.5L1134.5 1068.2L1135.5 1067.8L1136.5 1067.6L1137.5 1067.4L1138.5 1067.3L1139.5 1067.2" fill="none" stroke="#36B172" stroke-width="4" stroke-linejoin="round"/>
<path d="M657 1080.8L659.5 1080.8L661.9 1080.8L664.4 1080.7L666.9 1080.7L669.3 1080.6L671.8 1080.5L674.3 1080.3L676.8 1080.1L679.2 1079.9L681.7 1079.7L684.2 1079.5L686.6 1079.3L689.1 1079.1L691.6 1078.9L694 1078.7L696.5 1078.5L699 1078.3L701.4 1078.1L703.9 1077.9L706.4 1077.7L708.8 1077.5L711.3 1077.2L713.8 1077L716.3 1076.8L718.7 1076.6L721.2 1076.4L723.7 1076.1L726.1 1075.8L728.6 1075.4L731.1 1074.7L733.5 1074.1L736 1073.8L738.5 1073.8L740.9 1073.9L743.4 1074.6L745.9 1074.6L748.3 1073.6L750.8 1072.3L753.3 1071.4L755.8 1070.8L758.2 1070.3L760.7 1070.2L763.2 1070.4L765.6 1070.5L768.1 1070.2L770.6 1069.3L773 1066.9L775.5 1065.2L778 1064.3L780.4 1064.3L782.9 1065L785.4 1065.7L787.8 1066.7L790.3 1065.9L792.8 1061.5L795.3 1057L797.7 1052.5L800.2 1049L802.7 1049.1L805.1 1052L807.6 1056.8L810.1 1061.8L812.5 1065.3L815 1060.5L817.5 1049.2L819.9 1033.8L822.4 1020.7L824.9 1009.2L827.3 1001.5L829.8 996.3L832.3 995L834.8 1000.2L837.2 1007.8L839.7 1016L842.2 1023.8L844.6 1019.2L847.1 1003.5L849.6 980.7L852 956.8L854.5 933.2L857 911.5L859.4 893.6L861.9 882.1L864.4 876.7L866.8 877.1L869.3 882.3L871.8 894.2L874.3 911.4L876.7 934.5L879.2 959.3L881.7 984L884.1 1009.7L886.6 1031.7L889.1 1042.9L891.5 1035.9L894 1020.9L896.5 1004.8L898.9 990.9L901.4 979.4L903.9 973.4L906.3 971.3L908.8 973.2L911.3 978.2L913.8 984.3L916.2 992.4L918.7 1003.5L921.2 1014.5L923.6 1023.8L926.1 1031.7L928.6 1038L931 1043.7L933.5 1046.9L936 1048L938.4 1049L940.9 1049.8L943.4 1050.6L945.8 1052.1L948.3 1053.8L950.8 1055.4L953.3 1056.9L955.7 1058.1L958.2 1059L960.7 1059.6L963.1 1060.2L965.6 1060.8L968.1 1061.4L970.5 1062L973 1062.8L975.5 1063.7L977.9 1064.5L980.4 1064.9L982.9 1065.3L985.3 1065.6L987.8 1066L990.3 1066.3L992.8 1066.7L995.2 1067L997.7 1067.4L1000.2 1067.7L1002.6 1068.1L1005.1 1068.4L1007.6 1068.8L1010 1069.2L1012.5 1069.6L1015 1070L1017.4 1070.4L1019.9 1070.8L1022.4 1071.2L1024.8 1071.4L1027.3 1071.7L1029.8 1071.9L1032.3 1072.2L1034.7 1072.4L1037.2 1072.7L1039.7 1072.9L1042.1 1073.2L1044.6 1073.4L1047.1 1073.7L1049.5 1073.9L1052 1074.2L1054.5 1074.4L1056.9 1074.7L1059.4 1074.9L1061.9 1075.2L1064.4 1075.4L1066.8 1075.5L1069.3 1075.7L1071.8 1075.8L1074.2 1076L1076.7 1076.1L1079.2 1076.2L1081.6 1076.3L1084.1 1076.4L1086.6 1076.6L1089 1076.7L1091.5 1076.8L1094 1076.9L1096.4 1077.1L1098.9 1077.2L1101.4 1077.3L1103.9 1077.5L1106.3 1077.6L1108.8 1077.7L1111.3 1077.8L1113.7 1077.9L1116.2 1078L1118.7 1078L1121.1 1078.1L1123.6 1078.2L1126.1 1078.2L1128.5 1078.3L1131 1078.3L1133.5 1078.4L1135.9 1078.4L1138.4 1078.5" fill="none" stroke="none" marker-start="url(#mfg)" marker-mid="url(#mfg)" marker-end="url(#mfg)"/>
<path d="M657 1227.2L658 1227.4L659 1227.6L660 1227.9L661 1228.2L662 1228.4L663 1228.7L664 1229L665 1229.3L666 1229.6L667 1229.9L668 1230.1L669 1230.3L670 1230.3L671 1229.9L672 1229.4L673 1228.7L674 1227.9L675 1227.3L676 1226.7L677 1226.2L678 1225.8L679 1225.4L680 1225.1L681 1225L682 1225.1L683 1225.4L684 1225.9L685 1226.5L686 1227.1L687 1227.8L688 1228.4L689 1229L690 1229.6L691 1230.1L692 1230.5L693 1230.7L694 1230.8L695 1230.5L696 1230.1L697 1229.5L698 1228.7L699 1228L700 1227.4L701 1226.8L702 1226.2L703 1225.7L704 1225.2L705 1224.7L706.1 1224.2L707.1 1223.8L708.1 1223.5L709.1 1223.3L710.1 1223.2L711.1 1223.1L712.1 1222.9L713.1 1222.7L714.1 1222.4L715.1 1221.8L716.1 1221L717.1 1220.1L718.1 1218.9L719.1 1217.4L720.1 1215.9L721.1 1214.2L722.1 1212.5L723.1 1210.8L724.1 1209.1L725.1 1207.3L726.1 1205.5L727.1 1203.7L728.1 1202.1L729.1 1200.6L730.1 1199.3L731.1 1198.1L732.1 1197.1L733.1 1196.2L734.1 1195.4L735.1 1194.6L736.1 1193.8L737.1 1192.8L738.1 1191.8L739.1 1190.6L740.1 1189.1L741.1 1187.4L742.1 1185.4L743.1 1182.8L744.1 1179.7L745.1 1176.3L746.1 1172.6L747.1 1168.5L748.1 1164.3L749.1 1160L750.1 1155.4L751.1 1150.7L752.1 1145.9L753.1 1141L754.1 1136.1L755.1 1131.3L756.1 1126.7L757.1 1122.3L758.1 1118.1L759.1 1114.2L760.1 1110.7L761.1 1107.4L762.1 1104.4L763.1 1101.9L764.1 1099.9L765.1 1098.3L766.1 1097.2L767.1 1096.5L768.1 1096.4L769.1 1096.9L770.1 1097.9L771.1 1099.4L772.1 1101.3L773.1 1103.6L774.1 1106.2L775.1 1109.1L776.1 1112.5L777.1 1116.2L778.1 1120.3L779.1 1124.6L780.1 1129L781.1 1133.6L782.1 1138.2L783.1 1142.6L784.1 1146.9L785.1 1151.1L786.1 1155.1L787.1 1159L788.1 1162.7L789.1 1166.4L790.1 1169.8L791.1 1173.1L792.1 1176.3L793.1 1179.3L794.1 1182L795.1 1184.5L796.1 1186.5L797.1 1188.5L798.1 1190.3L799.1 1192.3L800.1 1194.2L801.1 1196.1L802.2 1198L803.2 1199.8L804.2 1201.7L805.2 1203.5L806.2 1205.3L807.2 1207.2L808.2 1209L809.2 1210.8L810.2 1212.5L811.2 1214.4L812.2 1216.3L813.2 1218.3L814.2 1220.2L815.2 1221.8L816.2 1222.6L817.2 1222.7L818.2 1222.6L819.2 1222.4L820.2 1222.1L821.2 1221.9L822.2 1221.7L823.2 1221.5L824.2 1221.3L825.2 1221.3L826.2 1221.5L827.2 1221.8L828.2 1222.4L829.2 1223.2L830.2 1224.2L831.2 1225.3L832.2 1226.5L833.2 1227.7L834.2 1228.9L835.2 1230L836.2 1231.1L837.2 1232.2L838.2 1233.2L839.2 1234.1L840.2 1234.7L841.2 1234.7L842.2 1234L843.2 1232.9L844.2 1231.6L845.2 1230.3L846.2 1229L847.2 1227.7L848.2 1226.5L849.2 1225.3L850.2 1224.3L851.2 1223.3L852.2 1222.6L853.2 1221.9L854.2 1221.4L855.2 1220.9L856.2 1220.5L857.2 1220.1L858.2 1219.6L859.2 1219.1L860.2 1218.6L861.2 1218L862.2 1217.4L863.2 1216.8L864.2 1216.2L865.2 1215.5L866.2 1214.8L867.2 1214.1L868.2 1213.3L869.2 1212.4L870.2 1211.6L871.2 1210.8L872.2 1209.9L873.2 1209.1L874.2 1208.3L875.2 1207.4L876.2 1206.6L877.2 1205.8L878.2 1205.1L879.2 1204.6L880.2 1204.2L881.2 1204L882.2 1204.1L883.2 1204.3L884.2 1204.7L885.2 1205.3L886.2 1206.1L887.2 1207.1L888.2 1208.3L889.2 1209.6L890.2 1211.2L891.2 1212.9L892.2 1214.8L893.2 1216.9L894.2 1219L895.2 1220.9L896.2 1222.5L897.2 1224L898.2 1225.3L899.3 1226.4L900.3 1227.5L901.3 1228.5L902.3 1229.5L903.3 1230.5L904.3 1231.3L905.3 1232.2L906.3 1232.9L907.3 1233.5L908.3 1234.1L909.3 1234.6L910.3 1235L911.3 1235.5L912.3 1235.8L913.3 1235.8L914.3 1235.3L915.3 1234.4L916.3 1233L917.3 1231.4L918.3 1229.6L919.3 1227.7L920.3 1225.7L921.3 1223.7L922.3 1221.7L923.3 1219.7L924.3 1217.6L925.3 1215.6L926.3 1213.6L927.3 1211.6L928.3 1209.7L929.3 1207.7L930.3 1205.8L931.3 1204L932.3 1202.2L933.3 1200.5L934.3 1198.8L935.3 1197.3L936.3 1195.9L937.3 1194.6L938.3 1193.5L939.3 1192.6L940.3 1191.7L941.3 1191L942.3 1190.4L943.3 1189.9L944.3 1189.4L945.3 1189.1L946.3 1188.9L947.3 1188.9L948.3 1189.1L949.3 1189.7L950.3 1190.6L951.3 1191.8L952.3 1193.3L953.3 1194.9L954.3 1196.6L955.3 1198.4L956.3 1200.4L957.3 1202.6L958.3 1204.8L959.3 1207.2L960.3 1209.5L961.3 1211.9L962.3 1214.2L963.3 1216.4L964.3 1218.5L965.3 1220.4L966.3 1222.3L967.3 1223.9L968.3 1225.2L969.3 1226L970.3 1226.3L971.3 1226.3L972.3 1225.9L973.3 1225.5L974.3 1225.1L975.3 1224.6L976.3 1224.2L977.3 1223.8L978.3 1223.5L979.3 1223.1L980.3 1222.8L981.3 1222.6L982.3 1222.4L983.3 1222.4L984.3 1222.6L985.3 1222.8L986.3 1223.2L987.3 1223.5L988.3 1223.9L989.3 1224.3L990.3 1224.7L991.3 1225.1L992.3 1225.4L993.3 1225.8L994.3 1226.1L995.4 1226.4L996.4 1226.7L997.4 1227L998.4 1227.2L999.4 1227.2L1000.4 1227.2L1001.4 1227L1002.4 1226.8L1003.4 1226.6L1004.4 1226.4L1005.4 1226.2L1006.4 1226.1L1007.4 1226.2L1008.4 1226.3L1009.4 1226.5L1010.4 1226.8L1011.4 1227.2L1012.4 1227.5L1013.4 1227.9L1014.4 1228.2L1015.4 1228.6L1016.4 1228.8L1017.4 1229L1018.4 1229.1L1019.4 1229.2L1020.4 1229.3L1021.4 1229.3L1022.4 1229.2L1023.4 1229.2L1024.4 1229.1L1025.4 1228.9L1026.4 1228.7L1027.4 1228.4L1028.4 1228.1L1029.4 1227.8L1030.4 1227.5L1031.4 1227.3L1032.4 1227.2L1033.4 1227.1L1034.4 1227.2L1035.4 1227.3L1036.4 1227.4L1037.4 1227.5L1038.4 1227.6L1039.4 1227.7L1040.4 1227.8L1041.4 1227.8L1042.4 1227.7L1043.4 1227.7L1044.4 1227.6L1045.4 1227.5L1046.4 1227.4L1047.4 1227.4L1048.4 1227.3L1049.4 1227.2L1050.4 1227.2L1051.4 1227.1L1052.4 1227.1L1053.4 1227L1054.4 1227L1055.4 1227L1056.4 1226.9L1057.4 1226.9L1058.4 1226.9L1059.4 1226.9L1060.4 1226.9L1061.4 1226.8L1062.4 1226.8L1063.4 1226.8L1064.4 1226.7L1065.4 1226.7L1066.4 1226.6L1067.4 1226.4L1068.4 1226.2L1069.4 1225.9L1070.4 1225.6L1071.4 1225.2L1072.4 1224.8L1073.4 1224.5L1074.4 1224.2L1075.4 1224L1076.4 1223.8L1077.4 1223.6L1078.4 1223.4L1079.4 1223.3L1080.4 1223.2L1081.4 1223.3L1082.4 1223.4L1083.4 1223.5L1084.4 1223.8L1085.4 1224.1L1086.4 1224.4L1087.4 1224.8L1088.4 1225.1L1089.4 1225.4L1090.4 1225.6L1091.5 1225.7L1092.5 1225.9L1093.5 1226L1094.5 1226L1095.5 1226.1L1096.5 1226.2L1097.5 1226.3L1098.5 1226.3L1099.5 1226.4L1100.5 1226.5L1101.5 1226.6L1102.5 1226.7L1103.5 1226.7L1104.5 1226.8L1105.5 1226.9L1106.5 1227L1107.5 1227.1L1108.5 1227.2L1109.5 1227.3L1110.5 1227.6L1111.5 1227.9L1112.5 1228.4L1113.5 1228.9L1114.5 1229.5L1115.5 1230.1L1116.5 1230.6L1117.5 1231.1L1118.5 1231.7L1119.5 1232.2L1120.5 1232.6L1121.5 1233.1L1122.5 1233.4L1123.5 1233.7L1124.5 1233.8L1125.5 1233.8L1126.5 1233.7L1127.5 1233.5L1128.5 1233.3L1129.5 1233L1130.5 1232.8L1131.5 1232.5L1132.5 1232.3L1133.5 1232.1L1134.5 1231.8L1135.5 1231.6L1136.5 1231.3L1137.5 1231.1L1138.5 1230.8L1139.5 1230.6" fill="none" stroke="#DC9AC0" stroke-width="4" stroke-linejoin="round"/>
<path d="M657 1227.1L659.5 1226.1L661.9 1225.3L664.4 1224.4L666.9 1223.6L669.3 1222.9L671.8 1222.3L674.3 1221.9L676.8 1222.2L679.2 1222.7L681.7 1223.2L684.2 1223.3L686.6 1222.8L689.1 1220.8L691.6 1218.2L694 1216.3L696.5 1214.8L699 1213.8L701.4 1213.6L703.9 1214.4L706.4 1216.1L708.8 1218.8L711.3 1220.7L713.8 1221.1L716.3 1218.4L718.7 1214L721.2 1208.6L723.7 1203.2L726.1 1198.9L728.6 1196.3L731.1 1195L733.5 1196.9L736 1199.1L738.5 1201.2L740.9 1200.5L743.4 1196.4L745.9 1186.7L748.3 1173.4L750.8 1158.4L753.3 1143.4L755.8 1129.1L758.2 1117.4L760.7 1108L763.2 1101.5L765.6 1097.4L768.1 1096L770.6 1098.1L773 1103.2L775.5 1110L778 1119.5L780.4 1130.3L782.9 1141.8L785.4 1152.1L787.8 1161.8L790.3 1170.5L792.8 1178.4L795.3 1185L797.7 1189.5L800.2 1194.3L802.7 1199L805.1 1203.4L807.6 1208L810.1 1212.3L812.5 1216.9L815 1221.9L817.5 1226.6L819.9 1231.1L822.4 1235.2L824.9 1233.4L827.3 1228.9L829.8 1225.9L832.3 1220.4L834.8 1216.5L837.2 1214.7L839.7 1213.6L842.2 1213.1L844.6 1213.5L847.1 1214.9L849.6 1217.3L852 1221.1L854.5 1225.4L857 1229.9L859.4 1232.8L861.9 1231.7L864.4 1227.8L866.8 1222L869.3 1217.2L871.8 1212.8L874.3 1209.2L876.7 1206.2L879.2 1204.4L881.7 1203.9L884.1 1204.6L886.6 1206.3L889.1 1209.3L891.5 1213.3L894 1218.3L896.5 1224.3L898.9 1230.1L901.4 1233.7L903.9 1234.9L906.3 1231.6L908.8 1225.8L911.3 1222.8L913.8 1221.8L916.2 1221.5L918.7 1222.2L921.2 1223.2L923.6 1224.6L926.1 1225.4L928.6 1223.1L931 1218.8L933.5 1213.4L936 1208.2L938.4 1202L940.9 1196.9L943.4 1193L945.8 1190.4L948.3 1189.1L950.8 1189.8L953.3 1191.7L955.7 1195.9L958.2 1200.9L960.7 1206.1L963.1 1211.6L965.6 1216.4L968.1 1221.3L970.5 1223.8L973 1224.3L975.5 1224.6L977.9 1224.7L980.4 1224.7L982.9 1224.8L985.3 1225.1L987.8 1225.7L990.3 1226.5L992.8 1227.1L995.2 1227.5L997.7 1227.7L1000.2 1227.7L1002.6 1227.6L1005.1 1227.6L1007.6 1227.8L1010 1228.2L1012.5 1228.8L1015 1229.5L1017.4 1230.1L1019.9 1230.6L1022.4 1230.9L1024.8 1230.6L1027.3 1230.1L1029.8 1229.5L1032.3 1229.1L1034.7 1229.1L1037.2 1229.6L1039.7 1230.6L1042.1 1231.6L1044.6 1232.6L1047.1 1233.2L1049.5 1233.3L1052 1233.1L1054.5 1232.7L1056.9 1232.3L1059.4 1232.1L1061.9 1232.1L1064.4 1232.5L1066.8 1233.1L1069.3 1233.7L1071.8 1234.2L1074.2 1234.5L1076.7 1234.5L1079.2 1234.4L1081.6 1234.2L1084.1 1234L1086.6 1233.9L1089 1233.8L1091.5 1233.8L1094 1233.9L1096.4 1234L1098.9 1234.1L1101.4 1234.2L1103.9 1234.3L1106.3 1234.4L1108.8 1234.5L1111.3 1234.6L1113.7 1234.7L1116.2 1234.8L1118.7 1234.8L1121.1 1234.9L1123.6 1235L1126.1 1235L1128.5 1235L1131 1235L1133.5 1234.9L1135.9 1234.7L1138.4 1234.6" fill="none" stroke="none" marker-start="url(#mfp)" marker-mid="url(#mfp)" marker-end="url(#mfp)"/>
<path d="M657 1330.2L658 1330.1L659 1330L660 1329.8L661 1329.7L662 1329.5L663 1329.4L664 1329.3L665 1329.1L666 1329L667 1328.9L668 1328.7L669 1328.6L670 1328.5L671 1328.5L672 1328.4L673 1328.3L674 1328.3L675 1328.3L676 1328.4L677 1328.5L678 1328.6L679 1328.7L680 1328.8L681 1329L682 1329.2L683 1329.4L684 1329.7L685 1330.1L686 1330.4L687 1330.6L688 1330.7L689 1330.5L690 1330.1L691 1329.5L692 1328.8L693 1328L694 1327.1L695 1326.3L696 1325.4L697 1324.6L698 1323.8L699 1322.9L700 1322.1L701 1321.3L702 1320.4L703 1319.6L704 1318.9L705 1318.2L706.1 1317.6L707.1 1317L708.1 1316.6L709.1 1316.2L710.1 1315.8L711.1 1315.6L712.1 1315.5L713.1 1315.4L714.1 1315.5L715.1 1315.6L716.1 1315.9L717.1 1316.3L718.1 1316.9L719.1 1317.6L720.1 1318.5L721.1 1319.4L722.1 1320.3L723.1 1321.3L724.1 1322.3L725.1 1323.3L726.1 1324.4L727.1 1325.5L728.1 1326.4L729.1 1327.1L730.1 1327.5L731.1 1327.3L732.1 1326.6L733.1 1325L734.1 1322.6L735.1 1319.7L736.1 1316.8L737.1 1313.9L738.1 1311L739.1 1308.2L740.1 1305.5L741.1 1302.7L742.1 1299.8L743.1 1296.8L744.1 1293.9L745.1 1290.9L746.1 1288.1L747.1 1285.3L748.1 1282.7L749.1 1280.1L750.1 1277.5L751.1 1275.1L752.1 1272.9L753.1 1270.7L754.1 1268.7L755.1 1266.7L756.1 1265L757.1 1263.4L758.1 1262.1L759.1 1261L760.1 1260L761.1 1259.1L762.1 1258.5L763.1 1258.1L764.1 1257.9L765.1 1257.9L766.1 1258.2L767.1 1258.7L768.1 1259.4L769.1 1260.2L770.1 1261.2L771.1 1262.2L772.1 1263.5L773.1 1264.9L774.1 1266.5L775.1 1268.3L776.1 1270.2L777.1 1272L778.1 1273.9L779.1 1275.8L780.1 1277.8L781.1 1279.8L782.1 1281.8L783.1 1283.7L784.1 1285.5L785.1 1287.2L786.1 1288.6L787.1 1289.9L788.1 1290.8L789.1 1291.5L790.1 1291.9L791.1 1291.9L792.1 1291.7L793.1 1291.1L794.1 1290.2L795.1 1289.2L796.1 1288L797.1 1286.7L798.1 1285.4L799.1 1284L800.1 1282.7L801.1 1281.4L802.2 1280.4L803.2 1279.5L804.2 1278.9L805.2 1278.3L806.2 1277.9L807.2 1277.6L808.2 1277.5L809.2 1277.6L810.2 1278L811.2 1278.5L812.2 1279.2L813.2 1280.1L814.2 1281.2L815.2 1282.6L816.2 1284.1L817.2 1285.9L818.2 1287.9L819.2 1290.2L820.2 1292.8L821.2 1295.6L822.2 1298.5L823.2 1301.4L824.2 1304.5L825.2 1307.8L826.2 1311.4L827.2 1315L828.2 1318.5L829.2 1321.8L830.2 1324.8L831.2 1327.2L832.2 1328.5L833.2 1328.8L834.2 1328L835.2 1326.4L836.2 1324L837.2 1321.3L838.2 1318.2L839.2 1315L840.2 1311.9L841.2 1309L842.2 1306.2L843.2 1303.6L844.2 1301.1L845.2 1298.8L846.2 1296.8L847.2 1295.2L848.2 1293.8L849.2 1292.6L850.2 1291.7L851.2 1290.9L852.2 1290.3L853.2 1289.8L854.2 1289.5L855.2 1289.3L856.2 1289.3L857.2 1289.5L858.2 1290L859.2 1290.6L860.2 1291.4L861.2 1292.3L862.2 1293.2L863.2 1294.2L864.2 1295.2L865.2 1296.2L866.2 1297.2L867.2 1298.2L868.2 1299.1L869.2 1300.1L870.2 1300.9L871.2 1301.7L872.2 1302.4L873.2 1303L874.2 1303.4L875.2 1303.7L876.2 1303.8L877.2 1303.7L878.2 1303.5L879.2 1303L880.2 1302.4L881.2 1301.7L882.2 1300.9L883.2 1300.2L884.2 1299.4L885.2 1298.7L886.2 1297.9L887.2 1297.3L888.2 1296.7L889.2 1296.1L890.2 1295.6L891.2 1295.1L892.2 1294.6L893.2 1294.2L894.2 1293.9L895.2 1293.8L896.2 1293.8L897.2 1294L898.2 1294.5L899.3 1295L900.3 1295.6L901.3 1296.3L902.3 1297.2L903.3 1298.3L904.3 1299.9L905.3 1301.7L906.3 1303.6L907.3 1305.6L908.3 1307.6L909.3 1309.6L910.3 1311.6L911.3 1313.6L912.3 1315.6L913.3 1317.6L914.3 1319.6L915.3 1321.6L916.3 1323.6L917.3 1325.5L918.3 1327.2L919.3 1328.6L920.3 1329.6L921.3 1329.9L922.3 1329.4L923.3 1328.2L924.3 1326.7L925.3 1324.9L926.3 1323.1L927.3 1321.3L928.3 1319.7L929.3 1318.5L930.3 1317.6L931.3 1317L932.3 1316.6L933.3 1316.3L934.3 1316.1L935.3 1315.9L936.3 1315.8L937.3 1315.7L938.3 1315.6L939.3 1315.7L940.3 1315.9L941.3 1316.1L942.3 1316.3L943.3 1316.6L944.3 1316.9L945.3 1317.3L946.3 1317.7L947.3 1318.1L948.3 1318.6L949.3 1319L950.3 1319.5L951.3 1319.9L952.3 1320.2L953.3 1320.5L954.3 1320.7L955.3 1320.8L956.3 1320.6L957.3 1320.4L958.3 1320L959.3 1319.6L960.3 1319.3L961.3 1318.9L962.3 1318.4L963.3 1318L964.3 1317.6L965.3 1317.2L966.3 1316.8L967.3 1316.4L968.3 1316L969.3 1315.6L970.3 1315.3L971.3 1315.1L972.3 1314.9L973.3 1314.8L974.3 1314.8L975.3 1314.8L976.3 1314.9L977.3 1315L978.3 1315.2L979.3 1315.5L980.3 1315.8L981.3 1316.1L982.3 1316.5L983.3 1317L984.3 1317.5L985.3 1318L986.3 1318.5L987.3 1319L988.3 1319.5L989.3 1320L990.3 1320.4L991.3 1320.9L992.3 1321.2L993.3 1321.5L994.3 1321.7L995.4 1321.8L996.4 1321.8L997.4 1321.7L998.4 1321.6L999.4 1321.5L1000.4 1321.3L1001.4 1321.1L1002.4 1321L1003.4 1320.8L1004.4 1320.7L1005.4 1320.6L1006.4 1320.5L1007.4 1320.4L1008.4 1320.2L1009.4 1320.2L1010.4 1320.1L1011.4 1320L1012.4 1319.9L1013.4 1319.9L1014.4 1320L1015.4 1320.1L1016.4 1320.2L1017.4 1320.4L1018.4 1320.7L1019.4 1321L1020.4 1321.3L1021.4 1321.7L1022.4 1322.1L1023.4 1322.6L1024.4 1323.2L1025.4 1323.7L1026.4 1324.2L1027.4 1324.7L1028.4 1325.1L1029.4 1325.5L1030.4 1325.9L1031.4 1326.3L1032.4 1326.5L1033.4 1326.7L1034.4 1326.8L1035.4 1326.8L1036.4 1326.8L1037.4 1326.6L1038.4 1326.5L1039.4 1326.4L1040.4 1326.3L1041.4 1326.2L1042.4 1326.2L1043.4 1326.2L1044.4 1326.2L1045.4 1326.1L1046.4 1326.1L1047.4 1326.1L1048.4 1326.1L1049.4 1326.2L1050.4 1326.2L1051.4 1326.2L1052.4 1326.3L1053.4 1326.3L1054.4 1326.4L1055.4 1326.5L1056.4 1326.5L1057.4 1326.6L1058.4 1326.7L1059.4 1326.8L1060.4 1326.9L1061.4 1327L1062.4 1327.1L1063.4 1327.2L1064.4 1327.3L1065.4 1327.3L1066.4 1327.4L1067.4 1327.4L1068.4 1327.5L1069.4 1327.5L1070.4 1327.5L1071.4 1327.5L1072.4 1327.5L1073.4 1327.5L1074.4 1327.4L1075.4 1327.2L1076.4 1327L1077.4 1326.8L1078.4 1326.5L1079.4 1326.2L1080.4 1325.9L1081.4 1325.5L1082.4 1325.2L1083.4 1324.8L1084.4 1324.5L1085.4 1324.2L1086.4 1323.8L1087.4 1323.5L1088.4 1323.2L1089.4 1322.8L1090.4 1322.5L1091.5 1322.2L1092.5 1321.8L1093.5 1321.5L1094.5 1321.2L1095.5 1320.8L1096.5 1320.5L1097.5 1320.2L1098.5 1319.9L1099.5 1319.6L1100.5 1319.3L1101.5 1319.1L1102.5 1318.9L1103.5 1318.7L1104.5 1318.5L1105.5 1318.4L1106.5 1318.2L1107.5 1318.1L1108.5 1318.1L1109.5 1318L1110.5 1318L1111.5 1318L1112.5 1318L1113.5 1318.1L1114.5 1318.2L1115.5 1318.2L1116.5 1318.4L1117.5 1318.5L1118.5 1318.7L1119.5 1318.8L1120.5 1319.1L1121.5 1319.3L1122.5 1319.6L1123.5 1319.9L1124.5 1320.3L1125.5 1320.7L1126.5 1321.1L1127.5 1321.6L1128.5 1322.1L1129.5 1322.7L1130.5 1323.3L1131.5 1324L1132.5 1324.7L1133.5 1325.4L1134.5 1326.1L1135.5 1326.8L1136.5 1327.5L1137.5 1328.3L1138.5 1329L1139.5 1329.5" fill="none" stroke="#F7922F" stroke-width="4" stroke-linejoin="round"/>
<path d="M657 1330.3L659.5 1329.9L661.9 1329.5L664.4 1329.2L666.9 1328.9L669.3 1328.6L671.8 1328.4L674.3 1328.3L676.8 1328.4L679.2 1328.7L681.7 1329.1L684.2 1329.8L686.6 1330.7L689.1 1330.7L691.6 1329.2L694 1327.1L696.5 1325L699 1323L701.4 1320.9L703.9 1318.9L706.4 1317.3L708.8 1316.2L711.3 1315.5L713.8 1315.4L716.3 1315.9L718.7 1317.3L721.2 1319.4L723.7 1321.9L726.1 1324.5L728.6 1327L731.1 1327.8L733.5 1324.6L736 1316.9L738.5 1309.9L740.9 1303.2L743.4 1295.9L745.9 1288.6L748.3 1282L750.8 1275.7L753.3 1270.3L755.8 1265.4L758.2 1261.9L760.7 1259.4L763.2 1257.9L765.6 1257.9L768.1 1259.3L770.6 1261.6L773 1264.5L775.5 1269.1L778 1273.5L780.4 1278.5L782.9 1283.3L785.4 1287.7L787.8 1290.7L790.3 1292.2L792.8 1291.6L795.3 1289.2L797.7 1285.9L800.2 1282.6L802.7 1279.8L805.1 1278.2L807.6 1277.4L810.1 1277.8L812.5 1279.4L815 1282.1L817.5 1286.3L819.9 1292L822.4 1299.1L824.9 1306.6L827.3 1315.6L829.8 1324L832.3 1329.6L834.8 1327.8L837.2 1321.4L839.7 1313.2L842.2 1306.3L844.6 1299.8L847.1 1295.1L849.6 1292.1L852 1290.3L854.5 1289.3L857 1289.3L859.4 1290.7L861.9 1292.9L864.4 1295.4L866.8 1297.8L869.3 1300.2L871.8 1302.2L874.3 1303.5L876.7 1303.9L879.2 1303.2L881.7 1301.4L884.1 1299.5L886.6 1297.7L889.1 1296.2L891.5 1294.9L894 1293.9L896.5 1293.7L898.9 1294.7L901.4 1296.6L903.9 1299.2L906.3 1302.9L908.8 1306.2L911.3 1309.2L913.8 1312.1L916.2 1314.8L918.7 1317L921.2 1318.3L923.6 1318.9L926.1 1319.4L928.6 1319.7L931 1319.9L933.5 1320.2L936 1320.7L938.4 1321.6L940.9 1322.6L943.4 1323.8L945.8 1325.1L948.3 1326.3L950.8 1327.4L953.3 1328.2L955.7 1328.4L958.2 1328L960.7 1327.4L963.1 1326.7L965.6 1325.8L968.1 1325.1L970.5 1324.7L973 1324.8L975.5 1325.2L977.9 1325.9L980.4 1326.9L982.9 1327.9L985.3 1328.9L987.8 1329.9L990.3 1330.7L992.8 1330.8L995.2 1330.3L997.7 1329.8L1000.2 1329.2L1002.6 1328.7L1005.1 1328L1007.6 1327.4L1010 1327.3L1012.5 1327.7L1015 1328.2L1017.4 1328.7L1019.9 1329.2L1022.4 1329.7L1024.8 1330.2L1027.3 1330.7L1029.8 1330.9L1032.3 1330.3L1034.7 1329.6L1037.2 1329.1L1039.7 1329.2L1042.1 1329.3L1044.6 1329.4L1047.1 1329.6L1049.5 1329.7L1052 1330L1054.5 1330.3L1056.9 1330.7L1059.4 1331.1L1061.9 1331.4L1064.4 1331.6L1066.8 1331.6L1069.3 1331.3L1071.8 1330.8L1074.2 1330.4L1076.7 1330L1079.2 1329.9L1081.6 1329.8L1084.1 1329.8L1086.6 1329.8L1089 1329.9L1091.5 1330.3L1094 1330.8L1096.4 1331.2L1098.9 1331.5L1101.4 1331.6L1103.9 1331.3L1106.3 1330.8L1108.8 1330.5L1111.3 1330.3L1113.7 1330.4L1116.2 1330.5L1118.7 1330.6L1121.1 1330.7L1123.6 1330.7L1126.1 1330.8L1128.5 1330.9L1131 1331L1133.5 1331.1L1135.9 1331.2L1138.4 1331.3" fill="none" stroke="none" marker-start="url(#mfo)" marker-mid="url(#mfo)" marker-end="url(#mfo)"/>
</g>
<rect x="657" y="818.6" width="482.5" height="561.3" fill="none" stroke="#000" stroke-width="3.2"/>
<path d="M657 1379.9v7.5M817.8 1379.9v7.5M978.7 1379.9v7.5M1139.5 1379.9v7.5" stroke="#000" stroke-width="3.2" fill="none"/>
<path d="M737.4 1379.9v4.2M898.2 1379.9v4.2M1059.1 1379.9v4.2" stroke="#000" stroke-width="3.2" fill="none"/>
<text x="657" y="1420.2" font-size="27.1" text-anchor="middle">0</text>
<text x="817.8" y="1420.2" font-size="27.1" text-anchor="middle">2</text>
<text x="978.7" y="1420.2" font-size="27.1" text-anchor="middle">4</text>
<text x="1139.5" y="1420.2" font-size="27.1" text-anchor="middle">6</text>
<text x="902" y="1461.9" font-size="28.5" text-anchor="middle">R+ΔR(Å)</text>
<text transform="translate(634.3 1094.3) rotate(-90)" font-size="29.2" text-anchor="middle">|FT(<tspan font-style="italic">k</tspan><tspan font-size="20.5" dy="-13">3</tspan><tspan dy="13">&#8203;</tspan>χ(<tspan font-style="italic">k</tspan>))| (Å<tspan font-size="20.5" dy="-13">−4</tspan><tspan dy="13">&#8203;</tspan>)</text>
<text x="595.5" y="804.5" font-size="41.5" font-weight="bold">f</text>
<text x="1053" y="1018.5" font-size="25.2" fill="#36B172">W foil</text>
<text x="1051.5" y="1199.7" font-size="25.2" fill="#DC9AC0">WO<tspan font-size="17" dy="9">3</tspan><tspan dy="-9">&#8203;</tspan></text>
<text x="1011" y="1293.3" font-size="25.2" fill="#F7922F">PW–Co<tspan font-size="17" dy="9">3</tspan><tspan dy="-9">&#8203;</tspan>N</text>
<!-- panel_g -->
<defs><clipPath id="clg"><rect x="1297.1" y="792.9" width="488.2" height="255.9"/></clipPath></defs><g clip-path="url(#clg)">
<defs><marker id="mgo" markerUnits="userSpaceOnUse" markerWidth="12" markerHeight="12" refX="0" refY="0" viewBox="-6 -6 12 12" overflow="visible"><circle r="3.1" fill="#fff" stroke="#F7922F" stroke-width="2.2"/></marker></defs>
<path d="M1297.1 1015.5L1298.1 1015.1L1299.1 1014.7L1300.1 1014.2L1301.1 1013.7L1302.1 1013.3L1303.1 1012.9L1304.1 1012.5L1305.1 1012.1L1306.1 1011.8L1307.1 1011.4L1308.1 1011.1L1309.1 1010.8L1310.1 1010.5L1311.1 1010.3L1312.1 1010.2L1313.1 1010L1314.1 1010L1315.1 1010L1316.1 1010.1L1317.1 1010.3L1318.1 1010.6L1319.1 1011L1320.1 1011.4L1321.1 1011.9L1322.1 1012.5L1323.1 1013.1L1324.1 1013.9L1325.1 1015L1326.1 1016.3L1327.1 1017.6L1328.1 1018.6L1329.1 1019L1330.1 1018.6L1331.1 1017.4L1332.1 1015.6L1333.1 1013.5L1334.1 1011.3L1335.1 1009L1336.1 1006.8L1337.1 1004.5L1338.1 1002.3L1339.1 1000L1340.1 997.7L1341.1 995.3L1342.1 993.1L1343.1 991L1344.1 989L1345.1 987.2L1346.1 985.4L1347.1 983.9L1348.1 982.4L1349.1 981.2L1350.1 980.2L1351.1 979.3L1352.1 978.7L1353.1 978.3L1354.1 978.1L1355.1 978.1L1356.1 978.4L1357.1 979L1358.1 979.9L1359.1 981L1360.1 982.4L1361.1 984.1L1362.1 986L1363.1 988.3L1364.1 990.8L1365.1 993.5L1366.1 996.4L1367.1 999.3L1368.1 1002.2L1369.1 1005L1370.1 1007.4L1371.1 1009.4L1372.1 1010.5L1373.1 1010.4L1374.1 1008.8L1375.1 1005.4L1376.1 1000.6L1377.1 995L1378.1 989L1379.1 982.2L1380.1 974.7L1381.1 966.6L1382.1 958.3L1383.1 949.9L1384.1 941.5L1385.1 933L1386.1 924.5L1387.1 915.9L1388.1 907.6L1389.1 899.8L1390.1 892.2L1391.1 884.7L1392.1 877.3L1393.1 870.3L1394.1 863.7L1395.1 857.4L1396.1 851.4L1397.1 845.9L1398.1 841.1L1399.1 837.1L1400.1 833.8L1401.1 830.9L1402.1 828.5L1403.1 826.4L1404.1 824.7L1405.1 823.4L1406.1 822.5L1407.1 822.1L1408.1 822.1L1409.1 822.6L1410.1 823.5L1411.1 825.1L1412.1 827.3L1413.1 830.2L1414.1 834.1L1415.1 838.7L1416.1 844.1L1417.1 850.2L1418.1 856.6L1419.1 863.2L1420.2 869.8L1421.2 876.6L1422.2 883.3L1423.2 889.8L1424.2 895.5L1425.2 900.4L1426.2 904.5L1427.2 908.1L1428.2 910.9L1429.2 912.9L1430.2 914L1431.2 914.2L1432.2 913.4L1433.2 911.8L1434.2 909.5L1435.2 906.6L1436.2 903.4L1437.2 900.1L1438.2 896.7L1439.2 893.4L1440.2 890.2L1441.2 887.2L1442.2 884.5L1443.2 882L1444.2 879.9L1445.2 878L1446.2 876.5L1447.2 875.3L1448.2 874.5L1449.2 874.2L1450.2 874.2L1451.2 874.8L1452.2 875.8L1453.2 877.2L1454.2 879L1455.2 881.3L1456.2 884.1L1457.2 887.6L1458.2 891.7L1459.2 896.7L1460.2 902.6L1461.2 909.6L1462.2 917.3L1463.2 925.8L1464.2 934.7L1465.2 943.7L1466.2 952.9L1467.2 962L1468.2 971L1469.2 979.8L1470.2 988.2L1471.2 996L1472.2 1003.1L1473.2 1008.9L1474.2 1012.5L1475.2 1012.9L1476.2 1009.5L1477.2 1002.8L1478.2 994.4L1479.2 985.6L1480.2 976.8L1481.2 968.4L1482.2 960.3L1483.2 952.7L1484.2 945.6L1485.2 938.9L1486.2 932.9L1487.2 927.4L1488.2 922.7L1489.2 918.7L1490.2 915.5L1491.2 912.9L1492.2 910.7L1493.2 909L1494.2 907.6L1495.2 906.7L1496.2 906.1L1497.2 905.9L1498.2 906.1L1499.2 906.6L1500.2 907.6L1501.2 908.9L1502.2 910.7L1503.2 913L1504.2 915.7L1505.2 918.6L1506.2 921.8L1507.2 925.1L1508.2 928.4L1509.2 931.6L1510.2 934.6L1511.2 937.5L1512.2 940.2L1513.2 942.7L1514.2 944.8L1515.2 946.4L1516.2 947.7L1517.2 948.7L1518.2 949.3L1519.2 949.4L1520.2 949L1521.2 948L1522.2 946.6L1523.2 944.8L1524.2 942.7L1525.2 940.4L1526.2 938.2L1527.2 935.9L1528.2 933.6L1529.2 931.4L1530.2 929.4L1531.2 927.5L1532.2 925.9L1533.2 924.4L1534.2 923.2L1535.2 922.2L1536.2 921.2L1537.2 920.5L1538.2 919.9L1539.2 919.7L1540.2 920.1L1541.2 921L1542.2 922.4L1543.2 924.2L1544.2 926.2L1545.2 928.4L1546.2 931L1547.2 933.9L1548.2 937.2L1549.2 940.6L1550.2 944.1L1551.2 947.6L1552.2 951.2L1553.2 954.8L1554.2 958.4L1555.2 962L1556.2 966.4L1557.2 972.1L1558.2 979L1559.2 986.6L1560.2 994.3L1561.2 1001.2L1562.2 1006.8L1563.2 1010.7L1564.2 1012.8L1565.2 1013L1566.2 1011.5L1567.2 1008.9L1568.2 1005.4L1569.2 1001.6L1570.2 997.9L1571.2 994.4L1572.2 991.3L1573.2 988.7L1574.2 986.6L1575.2 984.8L1576.2 983.4L1577.2 982.3L1578.2 981.3L1579.2 980.6L1580.2 980L1581.2 979.7L1582.2 979.7L1583.2 979.9L1584.2 980.3L1585.2 980.9L1586.2 981.7L1587.2 982.6L1588.2 983.6L1589.2 984.6L1590.2 985.6L1591.2 986.6L1592.2 987.7L1593.2 988.7L1594.2 989.7L1595.2 990.6L1596.2 991.4L1597.2 991.8L1598.2 992L1599.2 992L1600.2 991.7L1601.2 991.2L1602.2 990.6L1603.2 989.7L1604.2 988.8L1605.2 987.8L1606.2 986.8L1607.2 985.8L1608.2 984.8L1609.2 983.8L1610.2 982.8L1611.2 981.8L1612.2 980.8L1613.2 980L1614.2 979.2L1615.2 978.5L1616.2 978L1617.2 977.6L1618.2 977.4L1619.2 977.4L1620.2 977.6L1621.2 978L1622.2 978.6L1623.2 979.4L1624.2 980.4L1625.2 981.6L1626.2 982.9L1627.2 984.3L1628.2 985.6L1629.2 987.1L1630.2 988.5L1631.2 990L1632.2 991.5L1633.2 992.9L1634.2 994.2L1635.2 995.4L1636.2 996.4L1637.2 997.2L1638.2 997.8L1639.2 998.4L1640.2 998.9L1641.2 999.1L1642.2 999.2L1643.2 998.9L1644.2 998.5L1645.2 998.1L1646.2 997.5L1647.2 996.9L1648.2 996.3L1649.2 995.6L1650.2 995L1651.2 994.3L1652.2 993.7L1653.2 993.2L1654.2 992.8L1655.2 992.5L1656.2 992.3L1657.2 992.3L1658.2 992.3L1659.2 992.5L1660.2 992.9L1661.2 993.4L1662.2 994L1663.2 994.8L1664.3 995.7L1665.3 996.7L1666.3 997.7L1667.3 998.8L1668.3 1000L1669.3 1001.1L1670.3 1002.3L1671.3 1003.5L1672.3 1004.7L1673.3 1005.8L1674.3 1006.9L1675.3 1007.9L1676.3 1008.8L1677.3 1009.7L1678.3 1010.3L1679.3 1010.8L1680.3 1011L1681.3 1011L1682.3 1010.9L1683.3 1010.7L1684.3 1010.4L1685.3 1010.1L1686.3 1009.8L1687.3 1009.5L1688.3 1009.3L1689.3 1009.1L1690.3 1009L1691.3 1008.8L1692.3 1008.6L1693.3 1008.5L1694.3 1008.4L1695.3 1008.3L1696.3 1008.4L1697.3 1008.5L1698.3 1008.6L1699.3 1008.8L1700.3 1009L1701.3 1009.3L1702.3 1009.5L1703.3 1009.8L1704.3 1010L1705.3 1010.3L1706.3 1010.6L1707.3 1010.8L1708.3 1011.1L1709.3 1011.3L1710.3 1011.5L1711.3 1011.7L1712.3 1012L1713.3 1012.2L1714.3 1012.4L1715.3 1012.5L1716.3 1012.6L1717.3 1012.6L1718.3 1012.5L1719.3 1012.2L1720.3 1011.8L1721.3 1011.2L1722.3 1010.5L1723.3 1009.8L1724.3 1008.9L1725.3 1008.1L1726.3 1007.2L1727.3 1006.3L1728.3 1005.4L1729.3 1004.5L1730.3 1003.6L1731.3 1002.7L1732.3 1001.8L1733.3 1000.9L1734.3 1000L1735.3 999.1L1736.3 998.2L1737.3 997.3L1738.3 996.4L1739.3 995.5L1740.3 994.6L1741.3 993.7L1742.3 992.9L1743.3 992.1L1744.3 991.4L1745.3 990.8L1746.3 990.2L1747.3 989.7L1748.3 989.2L1749.3 988.7L1750.3 988.3L1751.3 987.9L1752.3 987.6L1753.3 987.3L1754.3 987.1L1755.3 987L1756.3 986.8L1757.3 986.7L1758.3 986.7L1759.3 986.7L1760.3 986.8L1761.3 987.1L1762.3 987.4L1763.3 987.9L1764.3 988.6L1765.3 989.5L1766.3 990.5L1767.3 991.6L1768.3 992.9L1769.3 994.1L1770.3 995.5L1771.3 996.9L1772.3 998.3L1773.3 999.8L1774.3 1001.3L1775.3 1002.8L1776.3 1004.3L1777.3 1005.8L1778.3 1007.2L1779.3 1008.6L1780.3 1010L1781.3 1011.3L1782.3 1012.6L1783.3 1014L1784.3 1015.3L1785.3 1016.2" fill="none" stroke="#F7922F" stroke-width="4.2" stroke-linejoin="round"/>
<path d="M1297.1 1018.3L1299.6 1017.1L1302.1 1016.1L1304.6 1015.1L1307.1 1014.1L1309.6 1013.2L1312.1 1012.5L1314.6 1012.3L1317.1 1012.8L1319.6 1013.8L1322.1 1015L1324.6 1016.3L1327.1 1018.3L1329.6 1019.3L1332.1 1016.3L1334.6 1010.2L1337.1 1004.6L1339.6 999L1342.1 993.1L1344.6 988.1L1347.1 983.9L1349.6 980.5L1352.1 978.6L1354.6 977.9L1357.1 978.8L1359.5 981.4L1362 985.6L1364.5 991.7L1367 999.1L1369.5 1006.2L1372 1011.3L1374.5 1000.4L1377 976.2L1379.5 955L1382 934L1384.5 912.2L1387 893.1L1389.5 874.1L1392 858.1L1394.5 843.2L1397 833.9L1399.5 827.4L1402 823.3L1404.5 821.7L1407 823L1409.5 827.6L1412 837.5L1414.5 852.3L1417 868.8L1419.5 886.1L1422 900.1L1424.5 909.5L1427 913.5L1429.5 915L1432 914.1L1434.5 909L1437 900.6L1439.5 892.3L1442 884.8L1444.5 879L1447 875.2L1449.5 873.8L1452 875.3L1454.5 879.3L1457 886.4L1459.5 897.7L1462 915.2L1464.5 937.3L1467 960.1L1469.5 982.5L1472 1002.3L1474.5 1015.6L1477 1005.8L1479.5 983L1481.9 961.8L1484.4 943.4L1486.9 928.1L1489.4 917.2L1491.9 910.9L1494.4 907.1L1496.9 905.6L1499.4 906.6L1501.9 909.9L1504.4 916.2L1506.9 924.3L1509.4 932.4L1511.9 939.7L1514.4 945.6L1516.9 948.6L1519.4 949.8L1521.9 947.3L1524.4 942.2L1526.9 936.5L1529.4 930.8L1531.9 926.1L1534.4 922.9L1536.9 920.6L1539.4 919.4L1541.9 921.7L1544.4 926.5L1546.9 932.7L1549.4 941.2L1551.9 950L1554.4 959.3L1556.9 967.7L1559.4 975.1L1561.9 981.8L1564.4 986.7L1566.9 989.5L1569.4 990.7L1571.9 990.9L1574.4 990.1L1576.9 989.2L1579.4 989.6L1581.9 991.1L1584.4 994L1586.9 998.2L1589.4 1003.1L1591.9 1008.2L1594.4 1012.3L1596.9 1014.5L1599.4 1013.6L1601.9 1011.3L1604.3 1008.1L1606.8 1005.8L1609.3 1004.1L1611.8 1003L1614.3 1002.4L1616.8 1002.4L1619.3 1003.2L1621.8 1004.9L1624.3 1007.1L1626.8 1009.8L1629.3 1012.8L1631.8 1015.6L1634.3 1016.3L1636.8 1014.7L1639.3 1012.8L1641.8 1010.8L1644.3 1008.9L1646.8 1007.6L1649.3 1007L1651.8 1006.9L1654.3 1007.1L1656.8 1008L1659.3 1009.7L1661.8 1011.7L1664.3 1013.6L1666.8 1016.5L1669.3 1017.8L1671.8 1016.6L1674.3 1015.4L1676.8 1014.1L1679.3 1012.9L1681.8 1011.6L1684.3 1010.5L1686.8 1010L1689.3 1010L1691.8 1010.3L1694.3 1010.8L1696.8 1011.6L1699.3 1012.6L1701.8 1014.2L1704.3 1016.5L1706.8 1018.3L1709.3 1018.5L1711.8 1017.9L1714.3 1017.1L1716.8 1016.1L1719.3 1015L1721.8 1014L1724.3 1013.3L1726.7 1013.1L1729.2 1013.4L1731.7 1014.2L1734.2 1015.1L1736.7 1016.2L1739.2 1017.4L1741.7 1019.3L1744.2 1020.3L1746.7 1019.2L1749.2 1017.3L1751.7 1016.2L1754.2 1015.3L1756.7 1014.5L1759.2 1014L1761.7 1013.7L1764.2 1013.8L1766.7 1014.4L1769.2 1015.3L1771.7 1016.3L1774.2 1017.4L1776.7 1018.5L1779.2 1019.8L1781.7 1021L1784.2 1020.9" fill="none" stroke="none" marker-start="url(#mgo)" marker-mid="url(#mgo)" marker-end="url(#mgo)"/>
<g fill="none" stroke-width="4.4" stroke-linejoin="round">
<path d="M1297.1 1023.1L1298.1 1022.9L1299.1 1022.6L1300.1 1022.2L1301.1 1021.9L1302.1 1021.5L1303.1 1021.2L1304.1 1020.8L1305.1 1020.5L1306.1 1020.1L1307.1 1019.8L1308.1 1019.4L1309.1 1019.1L1310.1 1018.7L1311.1 1018.4L1312.1 1018.1L1313.1 1017.7L1314.1 1017.4L1315.1 1017.1L1316.1 1016.8L1317.1 1016.6L1318.1 1016.5L1319.1 1016.6L1320.1 1016.8L1321.1 1017L1322.1 1017.4L1323.1 1017.8L1324.1 1018.1L1325.1 1018.5L1326.1 1018.8L1327.1 1019.1L1328.1 1019.4L1329.1 1019.7L1330.1 1020.1L1331.1 1020.4L1332.1 1020.7L1333.1 1020.8L1334.1 1020.8L1335.1 1020.7L1336.1 1020.3L1337.1 1019.6L1338.1 1018.6L1339.1 1017.4L1340.1 1016.1L1341.1 1014.6L1342.1 1013.2L1343.1 1011.7L1344.1 1010.3L1345.1 1008.9L1346.1 1007.4L1347.1 1006.1L1348.1 1004.8L1349.1 1003.8L1350.1 1002.9L1351.1 1002.4L1352.1 1001.9L1353.1 1001.7L1354.1 1001.5L1355.1 1001.5L1356.1 1001.6L1357.1 1001.9L1358.1 1002.4L1359.1 1002.9L1360.1 1003.5L1361.1 1004.1L1362.1 1004.7L1363.1 1005.2L1364.1 1005.7L1365.1 1006L1366.1 1006.2L1367.1 1006.1L1368.1 1005.6L1369.1 1004.5L1370.1 1002.8L1371.1 1000.7L1372.1 997.9L1373.1 994.5L1374.1 990.5L1375.1 986L1376.1 981.1L1377.1 975.8L1378.1 970.2L1379.1 964.2L1380.1 957.9L1381.1 951.3L1382.1 944.5L1383.1 937.6L1384.1 930.6L1385.1 923.5L1386.1 916.4L1387.1 909.4L1388.1 902.6L1389.1 896L1390.1 889.7L1391.1 883.6L1392.1 877.8L1393.1 872.1L1394.1 866.7L1395.1 861.5L1396.1 856.6L1397.1 852.1L1398.1 847.9L1399.1 844.3L1400.1 841L1401.1 838L1402.1 835.4L1403.1 833.2L1404.1 831.3L1405.1 829.8L1406.1 828.8L1407.1 828.1L1408.1 827.9L1409.1 828.1L1410.1 828.9L1411.1 830.1L1412.1 832L1413.1 834.3L1414.1 837.1L1415.1 840.3L1416.1 843.9L1417.1 847.9L1418.1 852.2L1419.1 857L1420.2 862L1421.2 867.3L1422.2 872.6L1423.2 878.2L1424.2 883.9L1425.2 889.9L1426.2 896.3L1427.2 902.8L1428.2 909.4L1429.2 915.9L1430.2 922.4L1431.2 928.8L1432.2 935.3L1433.2 941.9L1434.2 948.5L1435.2 955L1436.2 961.3L1437.2 967.3L1438.2 973.1L1439.2 978.6L1440.2 983.9L1441.2 988.9L1442.2 993.4L1443.2 997.3L1444.2 1000.5L1445.2 1002.7L1446.2 1003.4L1447.2 1002.7L1448.2 1001L1449.2 998.8L1450.2 996.3L1451.2 993.8L1452.2 991.5L1453.2 989.4L1454.2 987.6L1455.2 986.1L1456.2 985L1457.2 984.1L1458.2 983.5L1459.2 983.2L1460.2 983.2L1461.2 983.4L1462.2 984L1463.2 984.9L1464.2 986.1L1465.2 987.6L1466.2 989.3L1467.2 991.2L1468.2 993.4L1469.2 995.7L1470.2 998L1471.2 1000.4L1472.2 1002.8L1473.2 1005.2L1474.2 1007.6L1475.2 1010L1476.2 1012.3L1477.2 1014.3L1478.2 1015.7L1479.2 1016.2L1480.2 1015.8L1481.2 1014.9L1482.2 1013.6L1483.2 1012.3L1484.2 1010.9L1485.2 1009.5L1486.2 1008.1L1487.2 1006.7L1488.2 1005.3L1489.2 1003.9L1490.2 1002.6L1491.2 1001.3L1492.2 1000.1L1493.2 999.2L1494.2 998.6L1495.2 998.3L1496.2 998.1L1497.2 998.1L1498.2 998.3L1499.2 998.6L1500.2 999L1501.2 999.6L1502.2 1000.4L1503.2 1001.4L1504.2 1002.6L1505.2 1004L1506.2 1005.5L1507.2 1007.1L1508.2 1008.6L1509.2 1010.1L1510.2 1011.6L1511.2 1013L1512.2 1014.4L1513.2 1015.7L1514.2 1016.8L1515.2 1017.6L1516.2 1017.9L1517.2 1017.8L1518.2 1017.3L1519.2 1016.4L1520.2 1015.3L1521.2 1014.1L1522.2 1012.9L1523.2 1011.9L1524.2 1011L1525.2 1010.2L1526.2 1009.4L1527.2 1008.7L1528.2 1008L1529.2 1007.4L1530.2 1006.9L1531.2 1006.6L1532.2 1006.3L1533.2 1006.2L1534.2 1006.2L1535.2 1006.2L1536.2 1006.3L1537.2 1006.4L1538.2 1006.7L1539.2 1007.3L1540.2 1008L1541.2 1008.9L1542.2 1009.9L1543.2 1010.9L1544.2 1011.9L1545.2 1012.9L1546.2 1013.9L1547.2 1014.9L1548.2 1015.9L1549.2 1016.9L1550.2 1017.9L1551.2 1018.8L1552.2 1019.5L1553.2 1020L1554.2 1020.2L1555.2 1020.1L1556.2 1019.7L1557.2 1019.2L1558.2 1018.6L1559.2 1017.9L1560.2 1017.2L1561.2 1016.5L1562.2 1015.8L1563.2 1015L1564.2 1014.3L1565.2 1013.5L1566.2 1012.7L1567.2 1012L1568.2 1011.3L1569.2 1010.8L1570.2 1010.4L1571.2 1010.2L1572.2 1010.1L1573.2 1010.2L1574.2 1010.4L1575.2 1010.6L1576.2 1010.9L1577.2 1011.2L1578.2 1011.6L1579.2 1012.1L1580.2 1012.7L1581.2 1013.4L1582.2 1014.1L1583.2 1014.9L1584.2 1015.8L1585.2 1016.7L1586.2 1017.5L1587.2 1018.3L1588.2 1019.1L1589.2 1019.8L1590.2 1020.4L1591.2 1020.8L1592.2 1021L1593.2 1021L1594.2 1020.7L1595.2 1020L1596.2 1019.2L1597.2 1018.3L1598.2 1017.4L1599.2 1016.7L1600.2 1016L1601.2 1015.4L1602.2 1014.8L1603.2 1014.4L1604.2 1014L1605.2 1013.7L1606.2 1013.7L1607.2 1013.7L1608.2 1013.8L1609.2 1014.1L1610.2 1014.5L1611.2 1014.9L1612.2 1015.4L1613.2 1015.9L1614.2 1016.5L1615.2 1017.1L1616.2 1017.7L1617.2 1018.3L1618.2 1018.9L1619.2 1019.5L1620.2 1020.1L1621.2 1020.6L1622.2 1021.1L1623.2 1021.5L1624.2 1021.8L1625.2 1021.9L1626.2 1021.8L1627.2 1021.5L1628.2 1021L1629.2 1020.5L1630.2 1019.9L1631.2 1019.3L1632.2 1018.8L1633.2 1018.2L1634.2 1017.8L1635.2 1017.4L1636.2 1017L1637.2 1016.6L1638.2 1016.3L1639.2 1016L1640.2 1015.7L1641.2 1015.5L1642.2 1015.4L1643.2 1015.3L1644.2 1015.4L1645.2 1015.5L1646.2 1015.7L1647.2 1015.9L1648.2 1016.1L1649.2 1016.4L1650.2 1016.7L1651.2 1017.1L1652.2 1017.5L1653.2 1017.9L1654.2 1018.4L1655.2 1019L1656.2 1019.5L1657.2 1020L1658.2 1020.4L1659.2 1020.8L1660.2 1020.9L1661.2 1021L1662.2 1020.9L1663.2 1020.7L1664.3 1020.4L1665.3 1020L1666.3 1019.6L1667.3 1019.2L1668.3 1018.8L1669.3 1018.4L1670.3 1018.1L1671.3 1017.8L1672.3 1017.5L1673.3 1017.3L1674.3 1017L1675.3 1016.8L1676.3 1016.6L1677.3 1016.5L1678.3 1016.4L1679.3 1016.4L1680.3 1016.6L1681.3 1016.7L1682.3 1017L1683.3 1017.2L1684.3 1017.5L1685.3 1017.8L1686.3 1018.1L1687.3 1018.4L1688.3 1018.7L1689.3 1019.1L1690.3 1019.5L1691.3 1020L1692.3 1020.4L1693.3 1020.8L1694.3 1021.2L1695.3 1021.5L1696.3 1021.8L1697.3 1021.9L1698.3 1021.9L1699.3 1021.8L1700.3 1021.7L1701.3 1021.4L1702.3 1021.2L1703.3 1020.9L1704.3 1020.6L1705.3 1020.3L1706.3 1020L1707.3 1019.7L1708.3 1019.4L1709.3 1019.2L1710.3 1018.9L1711.3 1018.6L1712.3 1018.3L1713.3 1018.1L1714.3 1018L1715.3 1017.9L1716.3 1017.9L1717.3 1017.9L1718.3 1018L1719.3 1018.2L1720.3 1018.4L1721.3 1018.6L1722.3 1018.8L1723.3 1019.1L1724.3 1019.3L1725.3 1019.5L1726.3 1019.8L1727.3 1020L1728.3 1020.2L1729.3 1020.4L1730.3 1020.7L1731.3 1020.9L1732.3 1021.2L1733.3 1021.4L1734.3 1021.6L1735.3 1021.8L1736.3 1021.9L1737.3 1022L1738.3 1022L1739.3 1021.9L1740.3 1021.8L1741.3 1021.5L1742.3 1021.3L1743.3 1021L1744.3 1020.8L1745.3 1020.6L1746.3 1020.4L1747.3 1020.2L1748.3 1020.1L1749.3 1019.9L1750.3 1019.8L1751.3 1019.7L1752.3 1019.6L1753.3 1019.5L1754.3 1019.5L1755.3 1019.5L1756.3 1019.6L1757.3 1019.7L1758.3 1019.8L1759.3 1020L1760.3 1020.1L1761.3 1020.3L1762.3 1020.4L1763.3 1020.6L1764.3 1020.7L1765.3 1020.9L1766.3 1021L1767.3 1021.2L1768.3 1021.3L1769.3 1021.4L1770.3 1021.5L1771.3 1021.6L1772.3 1021.7L1773.3 1021.8L1774.3 1021.9L1775.3 1022L1776.3 1022L1777.3 1022L1778.3 1021.9L1779.3 1021.8L1780.3 1021.6L1781.3 1021.4L1782.3 1021.1L1783.3 1020.9L1784.3 1020.6L1785.3 1020.4" stroke="#2A8B97"/>
<path d="M1297.1 1020.5L1298.1 1020L1299.1 1019.4L1300.1 1018.7L1301.1 1018.1L1302.1 1017.5L1303.1 1016.9L1304.1 1016.3L1305.1 1015.8L1306.1 1015.3L1307.1 1014.8L1308.1 1014.3L1309.1 1013.9L1310.1 1013.5L1311.1 1013.2L1312.1 1012.9L1313.1 1012.7L1314.1 1012.5L1315.1 1012.5L1316.1 1012.5L1317.1 1012.6L1318.1 1012.8L1319.1 1013.1L1320.1 1013.4L1321.1 1013.8L1322.1 1014.2L1323.1 1014.7L1324.1 1015.2L1325.1 1015.9L1326.1 1016.6L1327.1 1017.3L1328.1 1018.1L1329.1 1018.9L1330.1 1019.6L1331.1 1020.2L1332.1 1020.7L1333.1 1021.1L1334.1 1021.3L1335.1 1021.3L1336.1 1021.1L1337.1 1020.6L1338.1 1019.9L1339.1 1019.1L1340.1 1018.2L1341.1 1017.2L1342.1 1016.3L1343.1 1015.5L1344.1 1014.7L1345.1 1014L1346.1 1013.3L1347.1 1012.7L1348.1 1012L1349.1 1011.5L1350.1 1010.9L1351.1 1010.5L1352.1 1010.2L1353.1 1010L1354.1 1009.9L1355.1 1009.9L1356.1 1010L1357.1 1010.2L1358.1 1010.5L1359.1 1010.8L1360.1 1011.3L1361.1 1011.8L1362.1 1012.4L1363.1 1013.1L1364.1 1014L1365.1 1014.8L1366.1 1015.8L1367.1 1016.7L1368.1 1017.5L1369.1 1018.4L1370.1 1019.2L1371.1 1019.9L1372.1 1020.4L1373.1 1020.6L1374.1 1020.4L1375.1 1019.9L1376.1 1019L1377.1 1017.9L1378.1 1016.7L1379.1 1015.5L1380.1 1014.3L1381.1 1013L1382.1 1011.8L1383.1 1010.5L1384.1 1009.3L1385.1 1008.1L1386.1 1007L1387.1 1006.1L1388.1 1005.3L1389.1 1004.5L1390.1 1003.9L1391.1 1003.4L1392.1 1003.1L1393.1 1002.9L1394.1 1002.9L1395.1 1003.1L1396.1 1003.5L1397.1 1004.1L1398.1 1004.9L1399.1 1005.8L1400.1 1006.9L1401.1 1008.2L1402.1 1009.6L1403.1 1010.9L1404.1 1012.2L1405.1 1013.3L1406.1 1014.2L1407.1 1014.7L1408.1 1014.7L1409.1 1014L1410.1 1012.3L1411.1 1009.9L1412.1 1006.9L1413.1 1003.6L1414.1 1000.1L1415.1 996.3L1416.1 992.3L1417.1 988L1418.1 983.5L1419.1 979.2L1420.2 974.9L1421.2 970.8L1422.2 966.8L1423.2 962.8L1424.2 958.8L1425.2 954.8L1426.2 950.8L1427.2 946.8L1428.2 942.9L1429.2 939.1L1430.2 935.6L1431.2 932.4L1432.2 929.4L1433.2 926.5L1434.2 923.8L1435.2 921.1L1436.2 918.7L1437.2 916.4L1438.2 914.3L1439.2 912.4L1440.2 910.7L1441.2 909.2L1442.2 907.7L1443.2 906.5L1444.2 905.3L1445.2 904.3L1446.2 903.6L1447.2 903L1448.2 902.6L1449.2 902.5L1450.2 902.5L1451.2 902.8L1452.2 903.4L1453.2 904.3L1454.2 905.4L1455.2 906.8L1456.2 908.4L1457.2 910.1L1458.2 912L1459.2 914L1460.2 916.1L1461.2 918.4L1462.2 920.8L1463.2 923.4L1464.2 926.1L1465.2 929L1466.2 932L1467.2 935L1468.2 938.1L1469.2 941.3L1470.2 944.6L1471.2 948L1472.2 951.4L1473.2 954.8L1474.2 958.2L1475.2 961.6L1476.2 965L1477.2 968.4L1478.2 971.8L1479.2 975.1L1480.2 978.4L1481.2 981.6L1482.2 984.8L1483.2 987.9L1484.2 990.9L1485.2 993.7L1486.2 996.5L1487.2 999.1L1488.2 1001.6L1489.2 1003.8L1490.2 1005.7L1491.2 1007.4L1492.2 1008.8L1493.2 1009.8L1494.2 1010.5L1495.2 1010.9L1496.2 1011L1497.2 1010.8L1498.2 1010.5L1499.2 1010.2L1500.2 1009.9L1501.2 1009.6L1502.2 1009.4L1503.2 1009.3L1504.2 1009.2L1505.2 1009.2L1506.2 1009.4L1507.2 1009.8L1508.2 1010.3L1509.2 1010.9L1510.2 1011.4L1511.2 1012L1512.2 1012.5L1513.2 1013.1L1514.2 1013.6L1515.2 1014.2L1516.2 1014.7L1517.2 1015.3L1518.2 1015.8L1519.2 1016.3L1520.2 1016.9L1521.2 1017.3L1522.2 1017.6L1523.2 1017.8L1524.2 1017.9L1525.2 1017.8L1526.2 1017.6L1527.2 1017.3L1528.2 1017L1529.2 1016.6L1530.2 1016.3L1531.2 1015.9L1532.2 1015.6L1533.2 1015.3L1534.2 1015.1L1535.2 1014.8L1536.2 1014.6L1537.2 1014.3L1538.2 1014.1L1539.2 1014L1540.2 1013.8L1541.2 1013.8L1542.2 1013.9L1543.2 1014.1L1544.2 1014.4L1545.2 1014.7L1546.2 1015.1L1547.2 1015.6L1548.2 1016.1L1549.2 1016.7L1550.2 1017.3L1551.2 1018L1552.2 1018.6L1553.2 1019.2L1554.2 1019.8L1555.2 1020.3L1556.2 1020.8L1557.2 1021.2L1558.2 1021.6L1559.2 1021.8L1560.2 1021.9L1561.2 1021.9L1562.2 1021.7L1563.2 1021.4L1564.2 1021.1L1565.2 1020.7L1566.2 1020.3L1567.2 1020L1568.2 1019.6L1569.2 1019.4L1570.2 1019.1L1571.2 1018.8L1572.2 1018.6L1573.2 1018.4L1574.2 1018.2L1575.2 1018.1L1576.2 1018.1L1577.2 1018.2L1578.2 1018.3L1579.2 1018.6L1580.2 1018.8L1581.2 1019.1L1582.2 1019.4L1583.2 1019.7L1584.2 1020L1585.2 1020.3L1586.2 1020.6L1587.2 1020.8L1588.2 1021.1L1589.2 1021.3L1590.2 1021.6L1591.2 1021.8L1592.2 1022.1L1593.2 1022.3L1594.2 1022.4L1595.2 1022.6L1596.2 1022.7L1597.2 1022.7L1598.2 1022.7L1599.2 1022.6L1600.2 1022.4L1601.2 1022.1L1602.2 1021.8L1603.2 1021.4L1604.2 1021.1L1605.2 1020.8L1606.2 1020.5L1607.2 1020.3L1608.2 1020.1L1609.2 1019.9L1610.2 1019.7L1611.2 1019.6L1612.2 1019.4L1613.2 1019.4L1614.2 1019.4L1615.2 1019.5L1616.2 1019.7L1617.2 1019.9L1618.2 1020.1L1619.2 1020.3L1620.2 1020.6L1621.2 1020.8L1622.2 1021.1L1623.2 1021.3L1624.2 1021.6L1625.2 1021.8L1626.2 1022.1L1627.2 1022.3L1628.2 1022.6L1629.2 1022.8L1630.2 1023.1L1631.2 1023.3L1632.2 1023.5L1633.2 1023.6L1634.2 1023.6L1635.2 1023.5L1636.2 1023.2L1637.2 1022.9L1638.2 1022.5L1639.2 1022.1L1640.2 1021.7L1641.2 1021.3L1642.2 1021.1L1643.2 1020.9L1644.2 1020.9L1645.2 1020.9L1646.2 1020.9L1647.2 1021L1648.2 1021.1L1649.2 1021.2L1650.2 1021.3L1651.2 1021.3L1652.2 1021.4L1653.2 1021.5L1654.2 1021.6L1655.2 1021.7L1656.2 1021.9L1657.2 1022L1658.2 1022.1L1659.2 1022.2L1660.2 1022.4L1661.2 1022.5L1662.2 1022.6L1663.2 1022.8L1664.3 1022.9L1665.3 1023.1L1666.3 1023.2L1667.3 1023.4L1668.3 1023.5L1669.3 1023.6L1670.3 1023.6L1671.3 1023.6L1672.3 1023.5L1673.3 1023.3L1674.3 1023.1L1675.3 1022.9L1676.3 1022.7L1677.3 1022.4L1678.3 1022.2L1679.3 1022L1680.3 1021.8L1681.3 1021.6L1682.3 1021.6L1683.3 1021.5L1684.3 1021.5L1685.3 1021.6L1686.3 1021.6L1687.3 1021.7L1688.3 1021.8L1689.3 1021.8L1690.3 1022L1691.3 1022.1L1692.3 1022.2L1693.3 1022.3L1694.3 1022.4L1695.3 1022.6L1696.3 1022.7L1697.3 1022.8L1698.3 1023L1699.3 1023.1L1700.3 1023.2L1701.3 1023.3L1702.3 1023.4L1703.3 1023.5L1704.3 1023.5L1705.3 1023.6L1706.3 1023.6L1707.3 1023.6L1708.3 1023.6L1709.3 1023.5L1710.3 1023.5L1711.3 1023.4L1712.3 1023.3L1713.3 1023.2L1714.3 1023L1715.3 1022.9L1716.3 1022.8L1717.3 1022.6L1718.3 1022.5L1719.3 1022.4L1720.3 1022.3L1721.3 1022.2L1722.3 1022.1L1723.3 1022L1724.3 1022L1725.3 1022L1726.3 1022L1727.3 1022.1L1728.3 1022.2L1729.3 1022.2L1730.3 1022.3L1731.3 1022.4L1732.3 1022.5L1733.3 1022.7L1734.3 1022.8L1735.3 1022.9L1736.3 1023L1737.3 1023.1L1738.3 1023.2L1739.3 1023.3L1740.3 1023.4L1741.3 1023.5L1742.3 1023.5L1743.3 1023.6L1744.3 1023.6L1745.3 1023.6L1746.3 1023.6L1747.3 1023.5L1748.3 1023.5L1749.3 1023.4L1750.3 1023.4L1751.3 1023.3L1752.3 1023.3L1753.3 1023.2L1754.3 1023.1L1755.3 1023.1L1756.3 1023L1757.3 1022.9L1758.3 1022.9L1759.3 1022.8L1760.3 1022.7L1761.3 1022.7L1762.3 1022.6L1763.3 1022.6L1764.3 1022.6L1765.3 1022.5L1766.3 1022.5L1767.3 1022.5L1768.3 1022.5L1769.3 1022.5L1770.3 1022.5L1771.3 1022.5L1772.3 1022.5L1773.3 1022.5L1774.3 1022.5L1775.3 1022.5L1776.3 1022.5L1777.3 1022.5L1778.3 1022.6L1779.3 1022.6L1780.3 1022.6L1781.3 1022.6L1782.3 1022.7L1783.3 1022.7L1784.3 1022.7L1785.3 1022.8" stroke="#48408C"/>
<path d="M1297.1 1022.5L1298.1 1022.5L1299.1 1022.4L1300.1 1022.4L1301.1 1022.4L1302.1 1022.3L1303.1 1022.3L1304.1 1022.3L1305.1 1022.2L1306.1 1022.2L1307.1 1022.1L1308.1 1022.1L1309.1 1022.1L1310.1 1022.1L1311.1 1022L1312.1 1022L1313.1 1022L1314.1 1021.9L1315.1 1021.9L1316.1 1021.9L1317.1 1021.8L1318.1 1021.8L1319.1 1021.8L1320.1 1021.7L1321.1 1021.7L1322.1 1021.7L1323.1 1021.7L1324.1 1021.6L1325.1 1021.6L1326.1 1021.6L1327.1 1021.6L1328.1 1021.5L1329.1 1021.5L1330.1 1021.5L1331.1 1021.5L1332.1 1021.5L1333.1 1021.4L1334.1 1021.4L1335.1 1021.4L1336.1 1021.4L1337.1 1021.4L1338.1 1021.3L1339.1 1021.3L1340.1 1021.3L1341.1 1021.3L1342.1 1021.3L1343.1 1021.3L1344.1 1021.2L1345.1 1021.2L1346.1 1021.2L1347.1 1021.2L1348.1 1021.2L1349.1 1021.2L1350.1 1021.2L1351.1 1021.2L1352.1 1021.1L1353.1 1021.1L1354.1 1021.1L1355.1 1021.1L1356.1 1021.1L1357.1 1021.1L1358.1 1021.1L1359.1 1021.1L1360.1 1021.1L1361.1 1021.1L1362.1 1021L1363.1 1021L1364.1 1021L1365.1 1021L1366.1 1021L1367.1 1021L1368.1 1021L1369.1 1021L1370.1 1021L1371.1 1021L1372.1 1021L1373.1 1021L1374.1 1021L1375.1 1020.9L1376.1 1020.9L1377.1 1020.9L1378.1 1020.9L1379.1 1020.9L1380.1 1020.9L1381.1 1020.9L1382.1 1020.9L1383.1 1020.9L1384.1 1020.9L1385.1 1020.9L1386.1 1020.8L1387.1 1020.8L1388.1 1020.8L1389.1 1020.8L1390.1 1020.8L1391.1 1020.8L1392.1 1020.8L1393.1 1020.8L1394.1 1020.8L1395.1 1020.7L1396.1 1020.7L1397.1 1020.7L1398.1 1020.7L1399.1 1020.7L1400.1 1020.7L1401.1 1020.6L1402.1 1020.6L1403.1 1020.6L1404.1 1020.6L1405.1 1020.6L1406.1 1020.5L1407.1 1020.5L1408.1 1020.5L1409.1 1020.5L1410.1 1020.5L1411.1 1020.4L1412.1 1020.4L1413.1 1020.4L1414.1 1020.4L1415.1 1020.4L1416.1 1020.3L1417.1 1020.3L1418.1 1020.3L1419.1 1020.3L1420.2 1020.2L1421.2 1020.1L1422.2 1020L1423.2 1019.9L1424.2 1019.6L1425.2 1019.4L1426.2 1019L1427.2 1018.5L1428.2 1018L1429.2 1017.3L1430.2 1016.6L1431.2 1016L1432.2 1015.3L1433.2 1014.7L1434.2 1014.2L1435.2 1013.7L1436.2 1013.2L1437.2 1012.7L1438.2 1012.3L1439.2 1011.9L1440.2 1011.7L1441.2 1011.5L1442.2 1011.5L1443.2 1011.6L1444.2 1011.8L1445.2 1012L1446.2 1012.3L1447.2 1012.6L1448.2 1012.8L1449.2 1013.1L1450.2 1013.3L1451.2 1013.5L1452.2 1013.8L1453.2 1014L1454.2 1014.2L1455.2 1014.4L1456.2 1014.5L1457.2 1014.5L1458.2 1014.4L1459.2 1014.1L1460.2 1013.6L1461.2 1012.9L1462.2 1011.8L1463.2 1010.3L1464.2 1008.4L1465.2 1006.4L1466.2 1004.2L1467.2 1001.9L1468.2 999.6L1469.2 997.3L1470.2 994.9L1471.2 992.5L1472.2 990.2L1473.2 987.8L1474.2 985.5L1475.2 983.2L1476.2 980.9L1477.2 978.6L1478.2 976.3L1479.2 974L1480.2 971.6L1481.2 969.3L1482.2 966.9L1483.2 964.6L1484.2 962.4L1485.2 960.3L1486.2 958.4L1487.2 956.5L1488.2 954.7L1489.2 952.9L1490.2 951.3L1491.2 949.8L1492.2 948.4L1493.2 947L1494.2 945.8L1495.2 944.8L1496.2 943.9L1497.2 943.1L1498.2 942.5L1499.2 941.9L1500.2 941.5L1501.2 941.2L1502.2 941.1L1503.2 941L1504.2 941.1L1505.2 941.2L1506.2 941.5L1507.2 941.9L1508.2 942.4L1509.2 942.9L1510.2 943.6L1511.2 944.4L1512.2 945.3L1513.2 946.3L1514.2 947.5L1515.2 948.7L1516.2 950L1517.2 951.4L1518.2 952.9L1519.2 954.5L1520.2 956.1L1521.2 957.9L1522.2 959.7L1523.2 961.5L1524.2 963.4L1525.2 965.3L1526.2 967.3L1527.2 969.2L1528.2 971.2L1529.2 973.2L1530.2 975.2L1531.2 977.1L1532.2 979L1533.2 980.8L1534.2 982.6L1535.2 984.3L1536.2 985.8L1537.2 987.3L1538.2 988.8L1539.2 990.3L1540.2 991.8L1541.2 993.4L1542.2 994.9L1543.2 996.5L1544.2 998.1L1545.2 999.6L1546.2 1001.3L1547.2 1002.9L1548.2 1004.6L1549.2 1006.2L1550.2 1007.8L1551.2 1009.2L1552.2 1010.5L1553.2 1011.7L1554.2 1012.7L1555.2 1013.6L1556.2 1014.4L1557.2 1015.2L1558.2 1015.8L1559.2 1016.4L1560.2 1016.9L1561.2 1017.3L1562.2 1017.7L1563.2 1018.1L1564.2 1018.4L1565.2 1018.7L1566.2 1018.9L1567.2 1019.1L1568.2 1019.3L1569.2 1019.4L1570.2 1019.6L1571.2 1019.7L1572.2 1019.8L1573.2 1019.9L1574.2 1020.1L1575.2 1020.1L1576.2 1020.2L1577.2 1020.3L1578.2 1020.4L1579.2 1020.5L1580.2 1020.5L1581.2 1020.6L1582.2 1020.7L1583.2 1020.7L1584.2 1020.8L1585.2 1020.8L1586.2 1020.9L1587.2 1021L1588.2 1021L1589.2 1021.1L1590.2 1021.1L1591.2 1021.1L1592.2 1021.2L1593.2 1021.2L1594.2 1021.2L1595.2 1021.3L1596.2 1021.3L1597.2 1021.3L1598.2 1021.4L1599.2 1021.4L1600.2 1021.4L1601.2 1021.5L1602.2 1021.5L1603.2 1021.5L1604.2 1021.6L1605.2 1021.6L1606.2 1021.6L1607.2 1021.6L1608.2 1021.7L1609.2 1021.7L1610.2 1021.7L1611.2 1021.7L1612.2 1021.8L1613.2 1021.8L1614.2 1021.8L1615.2 1021.8L1616.2 1021.9L1617.2 1021.9L1618.2 1021.9L1619.2 1021.9L1620.2 1021.9L1621.2 1022L1622.2 1022L1623.2 1022L1624.2 1022L1625.2 1022L1626.2 1022L1627.2 1022L1628.2 1022.1L1629.2 1022.1L1630.2 1022.1L1631.2 1022.1L1632.2 1022.1L1633.2 1022.1L1634.2 1022.1L1635.2 1022.1L1636.2 1022.2L1637.2 1022.2L1638.2 1022.2L1639.2 1022.2L1640.2 1022.2L1641.2 1022.2L1642.2 1022.2L1643.2 1022.2L1644.2 1022.3L1645.2 1022.3L1646.2 1022.3L1647.2 1022.3L1648.2 1022.3L1649.2 1022.3L1650.2 1022.3L1651.2 1022.3L1652.2 1022.4L1653.2 1022.4L1654.2 1022.4L1655.2 1022.4L1656.2 1022.4L1657.2 1022.4L1658.2 1022.4L1659.2 1022.4L1660.2 1022.4L1661.2 1022.4L1662.2 1022.5L1663.2 1022.5L1664.3 1022.5L1665.3 1022.5L1666.3 1022.5L1667.3 1022.5L1668.3 1022.5L1669.3 1022.5L1670.3 1022.5L1671.3 1022.5L1672.3 1022.6L1673.3 1022.6L1674.3 1022.6L1675.3 1022.6L1676.3 1022.6L1677.3 1022.6L1678.3 1022.6L1679.3 1022.6L1680.3 1022.6L1681.3 1022.6L1682.3 1022.6L1683.3 1022.7L1684.3 1022.7L1685.3 1022.7L1686.3 1022.7L1687.3 1022.7L1688.3 1022.7L1689.3 1022.7L1690.3 1022.7L1691.3 1022.7L1692.3 1022.7L1693.3 1022.7L1694.3 1022.7L1695.3 1022.7L1696.3 1022.7L1697.3 1022.8L1698.3 1022.8L1699.3 1022.8L1700.3 1022.8L1701.3 1022.8L1702.3 1022.8L1703.3 1022.8L1704.3 1022.8L1705.3 1022.8L1706.3 1022.8L1707.3 1022.8L1708.3 1022.8L1709.3 1022.8L1710.3 1022.8L1711.3 1022.8L1712.3 1022.8L1713.3 1022.8L1714.3 1022.8L1715.3 1022.8L1716.3 1022.9L1717.3 1022.9L1718.3 1022.9L1719.3 1022.9L1720.3 1022.9L1721.3 1022.9L1722.3 1022.9L1723.3 1022.9L1724.3 1022.9L1725.3 1022.9L1726.3 1022.9L1727.3 1022.9L1728.3 1022.9L1729.3 1022.9L1730.3 1022.9L1731.3 1022.9L1732.3 1022.9L1733.3 1022.9L1734.3 1022.9L1735.3 1022.9L1736.3 1022.9L1737.3 1022.9L1738.3 1022.9L1739.3 1022.9L1740.3 1022.9L1741.3 1022.9L1742.3 1022.9L1743.3 1022.9L1744.3 1022.9L1745.3 1022.9L1746.3 1022.9L1747.3 1022.9L1748.3 1022.9L1749.3 1022.9L1750.3 1022.9L1751.3 1022.9L1752.3 1022.9L1753.3 1022.9L1754.3 1022.9L1755.3 1022.9L1756.3 1022.9L1757.3 1022.9L1758.3 1022.9L1759.3 1022.9L1760.3 1022.9L1761.3 1022.9L1762.3 1022.9L1763.3 1022.9L1764.3 1022.9L1765.3 1022.9L1766.3 1022.9L1767.3 1022.9L1768.3 1022.9L1769.3 1022.9L1770.3 1022.9L1771.3 1022.9L1772.3 1022.9L1773.3 1022.9L1774.3 1022.9L1775.3 1022.9L1776.3 1022.8L1777.3 1022.8L1778.3 1022.8L1779.3 1022.8L1780.3 1022.8L1781.3 1022.8L1782.3 1022.8L1783.3 1022.8L1784.3 1022.8L1785.3 1022.8" stroke="#8FC7F7"/>
<path d="M1297.1 1022.8L1298.1 1022.8L1299.1 1022.8L1300.1 1022.7L1301.1 1022.7L1302.1 1022.7L1303.1 1022.7L1304.1 1022.7L1305.1 1022.7L1306.1 1022.6L1307.1 1022.6L1308.1 1022.6L1309.1 1022.6L1310.1 1022.6L1311.1 1022.5L1312.1 1022.5L1313.1 1022.5L1314.1 1022.5L1315.1 1022.5L1316.1 1022.5L1317.1 1022.5L1318.1 1022.4L1319.1 1022.4L1320.1 1022.4L1321.1 1022.4L1322.1 1022.4L1323.1 1022.4L1324.1 1022.4L1325.1 1022.3L1326.1 1022.3L1327.1 1022.3L1328.1 1022.3L1329.1 1022.3L1330.1 1022.3L1331.1 1022.3L1332.1 1022.2L1333.1 1022.2L1334.1 1022.2L1335.1 1022.2L1336.1 1022.2L1337.1 1022.2L1338.1 1022.2L1339.1 1022.1L1340.1 1022.1L1341.1 1022.1L1342.1 1022.1L1343.1 1022.1L1344.1 1022.1L1345.1 1022.1L1346.1 1022.1L1347.1 1022L1348.1 1022L1349.1 1022L1350.1 1022L1351.1 1022L1352.1 1022L1353.1 1022L1354.1 1021.9L1355.1 1021.9L1356.1 1021.9L1357.1 1021.9L1358.1 1021.9L1359.1 1021.9L1360.1 1021.9L1361.1 1021.9L1362.1 1021.9L1363.1 1021.9L1364.1 1021.8L1365.1 1021.8L1366.1 1021.8L1367.1 1021.8L1368.1 1021.8L1369.1 1021.8L1370.1 1021.8L1371.1 1021.8L1372.1 1021.8L1373.1 1021.8L1374.1 1021.8L1375.1 1021.8L1376.1 1021.8L1377.1 1021.8L1378.1 1021.8L1379.1 1021.8L1380.1 1021.8L1381.1 1021.8L1382.1 1021.8L1383.1 1021.7L1384.1 1021.7L1385.1 1021.7L1386.1 1021.7L1387.1 1021.7L1388.1 1021.7L1389.1 1021.7L1390.1 1021.7L1391.1 1021.7L1392.1 1021.7L1393.1 1021.7L1394.1 1021.7L1395.1 1021.7L1396.1 1021.7L1397.1 1021.7L1398.1 1021.7L1399.1 1021.7L1400.1 1021.7L1401.1 1021.7L1402.1 1021.7L1403.1 1021.7L1404.1 1021.7L1405.1 1021.7L1406.1 1021.7L1407.1 1021.7L1408.1 1021.7L1409.1 1021.7L1410.1 1021.7L1411.1 1021.7L1412.1 1021.7L1413.1 1021.7L1414.1 1021.7L1415.1 1021.7L1416.1 1021.6L1417.1 1021.6L1418.1 1021.6L1419.1 1021.6L1420.2 1021.6L1421.2 1021.6L1422.2 1021.6L1423.2 1021.6L1424.2 1021.6L1425.2 1021.6L1426.2 1021.5L1427.2 1021.4L1428.2 1021.3L1429.2 1021.2L1430.2 1021.1L1431.2 1021L1432.2 1020.9L1433.2 1021L1434.2 1021.3L1435.2 1021.7L1436.2 1022.3L1437.2 1022.8L1438.2 1023.1L1439.2 1023.2L1440.2 1023L1441.2 1022.6L1442.2 1022.1L1443.2 1021.6L1444.2 1021.1L1445.2 1020.5L1446.2 1019.9L1447.2 1019.3L1448.2 1018.6L1449.2 1018L1450.2 1017.3L1451.2 1016.7L1452.2 1016.2L1453.2 1015.7L1454.2 1015.3L1455.2 1015L1456.2 1014.7L1457.2 1014.5L1458.2 1014.3L1459.2 1014.1L1460.2 1013.9L1461.2 1013.7L1462.2 1013.4L1463.2 1013.3L1464.2 1013.1L1465.2 1013.1L1466.2 1013.2L1467.2 1013.4L1468.2 1013.6L1469.2 1013.9L1470.2 1014.2L1471.2 1014.4L1472.2 1014.7L1473.2 1014.9L1474.2 1015.2L1475.2 1015.4L1476.2 1015.7L1477.2 1015.9L1478.2 1016.1L1479.2 1016L1480.2 1015.7L1481.2 1015.1L1482.2 1014.2L1483.2 1013.1L1484.2 1011.7L1485.2 1010.2L1486.2 1008.6L1487.2 1006.8L1488.2 1005L1489.2 1003L1490.2 1001.1L1491.2 999.1L1492.2 997L1493.2 994.9L1494.2 992.8L1495.2 990.6L1496.2 988.4L1497.2 986.2L1498.2 984.1L1499.2 982L1500.2 980L1501.2 978L1502.2 976L1503.2 974.1L1504.2 972.3L1505.2 970.5L1506.2 968.8L1507.2 967.2L1508.2 965.7L1509.2 964.3L1510.2 962.9L1511.2 961.7L1512.2 960.6L1513.2 959.7L1514.2 958.8L1515.2 958L1516.2 957.4L1517.2 956.8L1518.2 956.3L1519.2 955.9L1520.2 955.6L1521.2 955.4L1522.2 955.3L1523.2 955.3L1524.2 955.4L1525.2 955.6L1526.2 955.9L1527.2 956.2L1528.2 956.7L1529.2 957.3L1530.2 958L1531.2 958.8L1532.2 959.6L1533.2 960.5L1534.2 961.4L1535.2 962.3L1536.2 963.2L1537.2 964.3L1538.2 965.4L1539.2 966.6L1540.2 968L1541.2 969.5L1542.2 971.2L1543.2 973.1L1544.2 975L1545.2 977.1L1546.2 979.2L1547.2 981.3L1548.2 983.4L1549.2 985.6L1550.2 987.7L1551.2 989.8L1552.2 991.8L1553.2 993.8L1554.2 995.8L1555.2 997.7L1556.2 999.5L1557.2 1001.1L1558.2 1002.6L1559.2 1003.9L1560.2 1005.2L1561.2 1006.3L1562.2 1007.4L1563.2 1008.4L1564.2 1009.3L1565.2 1010.2L1566.2 1010.9L1567.2 1011.6L1568.2 1012.3L1569.2 1012.9L1570.2 1013.5L1571.2 1014L1572.2 1014.5L1573.2 1014.9L1574.2 1015.4L1575.2 1015.7L1576.2 1016.1L1577.2 1016.5L1578.2 1016.8L1579.2 1017.1L1580.2 1017.4L1581.2 1017.6L1582.2 1017.9L1583.2 1018.1L1584.2 1018.3L1585.2 1018.6L1586.2 1018.8L1587.2 1019L1588.2 1019.2L1589.2 1019.3L1590.2 1019.5L1591.2 1019.6L1592.2 1019.7L1593.2 1019.8L1594.2 1020L1595.2 1020.1L1596.2 1020.2L1597.2 1020.3L1598.2 1020.4L1599.2 1020.5L1600.2 1020.6L1601.2 1020.7L1602.2 1020.8L1603.2 1020.8L1604.2 1020.9L1605.2 1021L1606.2 1021L1607.2 1021.1L1608.2 1021.2L1609.2 1021.2L1610.2 1021.3L1611.2 1021.3L1612.2 1021.4L1613.2 1021.4L1614.2 1021.5L1615.2 1021.5L1616.2 1021.6L1617.2 1021.6L1618.2 1021.7L1619.2 1021.7L1620.2 1021.8L1621.2 1021.8L1622.2 1021.9L1623.2 1021.9L1624.2 1022L1625.2 1022L1626.2 1022L1627.2 1022.1L1628.2 1022.1L1629.2 1022.2L1630.2 1022.2L1631.2 1022.2L1632.2 1022.3L1633.2 1022.3L1634.2 1022.3L1635.2 1022.4L1636.2 1022.4L1637.2 1022.4L1638.2 1022.4L1639.2 1022.5L1640.2 1022.5L1641.2 1022.5L1642.2 1022.5L1643.2 1022.5L1644.2 1022.6L1645.2 1022.6L1646.2 1022.6L1647.2 1022.6L1648.2 1022.6L1649.2 1022.7L1650.2 1022.7L1651.2 1022.7L1652.2 1022.7L1653.2 1022.7L1654.2 1022.7L1655.2 1022.8L1656.2 1022.8L1657.2 1022.8L1658.2 1022.8L1659.2 1022.8L1660.2 1022.8L1661.2 1022.9L1662.2 1022.9L1663.2 1022.9L1664.3 1022.9L1665.3 1022.9L1666.3 1022.9L1667.3 1023L1668.3 1023L1669.3 1023L1670.3 1023L1671.3 1023L1672.3 1023L1673.3 1023L1674.3 1023.1L1675.3 1023.1L1676.3 1023.1L1677.3 1023.1L1678.3 1023.1L1679.3 1023.1L1680.3 1023.1L1681.3 1023.1L1682.3 1023.2L1683.3 1023.2L1684.3 1023.2L1685.3 1023.2L1686.3 1023.2L1687.3 1023.2L1688.3 1023.2L1689.3 1023.2L1690.3 1023.2L1691.3 1023.3L1692.3 1023.3L1693.3 1023.3L1694.3 1023.3L1695.3 1023.3L1696.3 1023.3L1697.3 1023.3L1698.3 1023.3L1699.3 1023.3L1700.3 1023.3L1701.3 1023.3L1702.3 1023.4L1703.3 1023.4L1704.3 1023.4L1705.3 1023.4L1706.3 1023.4L1707.3 1023.4L1708.3 1023.4L1709.3 1023.4L1710.3 1023.4L1711.3 1023.4L1712.3 1023.4L1713.3 1023.4L1714.3 1023.4L1715.3 1023.4L1716.3 1023.4L1717.3 1023.4L1718.3 1023.4L1719.3 1023.4L1720.3 1023.4L1721.3 1023.5L1722.3 1023.5L1723.3 1023.5L1724.3 1023.5L1725.3 1023.5L1726.3 1023.5L1727.3 1023.5L1728.3 1023.5L1729.3 1023.5L1730.3 1023.5L1731.3 1023.5L1732.3 1023.5L1733.3 1023.5L1734.3 1023.5L1735.3 1023.5L1736.3 1023.5L1737.3 1023.5L1738.3 1023.5L1739.3 1023.5L1740.3 1023.5L1741.3 1023.5L1742.3 1023.5L1743.3 1023.5L1744.3 1023.5L1745.3 1023.4L1746.3 1023.4L1747.3 1023.4L1748.3 1023.4L1749.3 1023.4L1750.3 1023.4L1751.3 1023.4L1752.3 1023.4L1753.3 1023.4L1754.3 1023.4L1755.3 1023.4L1756.3 1023.4L1757.3 1023.4L1758.3 1023.4L1759.3 1023.4L1760.3 1023.4L1761.3 1023.4L1762.3 1023.4L1763.3 1023.3L1764.3 1023.3L1765.3 1023.3L1766.3 1023.3L1767.3 1023.3L1768.3 1023.3L1769.3 1023.3L1770.3 1023.3L1771.3 1023.3L1772.3 1023.3L1773.3 1023.3L1774.3 1023.2L1775.3 1023.2L1776.3 1023.2L1777.3 1023.2L1778.3 1023.2L1779.3 1023.2L1780.3 1023.2L1781.3 1023.2L1782.3 1023.1L1783.3 1023.1L1784.3 1023.1L1785.3 1023.1" stroke="#8FC7F7"/>
</g>
</g>
<rect x="1297.1" y="792.9" width="488.2" height="255.9" fill="none" stroke="#000" stroke-width="2.3"/>
<path d="M1297.1 1048.8v6.2M1459.8 1048.8v6.2M1622.6 1048.8v6.2M1785.3 1048.8v6.2" stroke="#000" stroke-width="2.3" fill="none"/>
<path d="M1378.5 1048.8v3.6M1541.2 1048.8v3.6M1703.9 1048.8v3.6" stroke="#000" stroke-width="2.3" fill="none"/>
<text x="1297.1" y="1080.8" font-size="27.1" text-anchor="middle">0</text>
<text x="1459.8" y="1080.8" font-size="27.1" text-anchor="middle">2</text>
<text x="1622.6" y="1080.8" font-size="27.1" text-anchor="middle">4</text>
<text x="1785.3" y="1080.8" font-size="27.1" text-anchor="middle">6</text>
<text x="1540" y="1117.7" font-size="28.5" text-anchor="middle">R+ΔR(Å)</text>
<text transform="translate(1275.5 919.6) rotate(-90)" font-size="29.2" text-anchor="middle">|FT(<tspan font-style="italic">k</tspan><tspan font-size="20.5" dy="-13">3</tspan><tspan dy="13">&#8203;</tspan>χ(<tspan font-style="italic">k</tspan>))| (Å<tspan font-size="20.5" dy="-13">−4</tspan><tspan dy="13">&#8203;</tspan>)</text>
<text x="1188" y="800" font-size="41.5" font-weight="bold">g</text>
<g fill="none" stroke-width="4.4" stroke-linecap="round">
<path d="M1613.4 806H1660.3" stroke="#F7922F"/>
<path d="M1613.4 858.3H1660.3" stroke="#2A8B97"/>
<path d="M1613.4 884.2H1660.3" stroke="#48408C"/>
<path d="M1613.4 909.9H1660.3" stroke="#8FC7F7"/>
</g>
<circle cx="1637" cy="832.3" r="3.4" fill="#fff" stroke="#F7922F" stroke-width="2.3"/>
<text x="1673.5" y="813" font-size="20.5">Experiment</text>
<text x="1673.5" y="839.2" font-size="20.5">Fit</text>
<text x="1673.5" y="865.2" font-size="20.5">W-N</text>
<text x="1673.5" y="890.9" font-size="20.5">W-P</text>
<text x="1673.5" y="916.3" font-size="20.5">W-Co</text>
<!-- panel_h -->
<defs><clipPath id="clh"><rect x="1296.7" y="1152.2" width="487.8" height="256.2"/></clipPath></defs>
<g clip-path="url(#clh)">
<g filter="url(#hblur)">
<rect x="1292.7" y="1148.2" width="495.8" height="264.2" fill="#31389E"/>
<path fill="#2C42A8" d="M1290.7 1146.2l416.8 0 0.3 16 0.8 6 5.3 16 2.8 12 4.2 14 1.6 16 0.8 4 1.3 4 2.1 4 7.1 10 2.3 4 3.4 8 5.9 16 3.3 6.6 4.3 5.4 15.7 13.1 4.9 4.9 3.1 3.8 2.6 4.2 6 14 5.4 9.5 0 78.5-500 0 0-268zM1358.7 1171.8l-2 0.7-2.2 1.7-1 2-0.3 2 0.4 2 1.1 2.1 2 1.4 2 0.6 2 0 2-0.7 1.9-1.4 1.3-2 0.5-2-0.1-2-1-2-2.6-2-2-0.4zM1450.7 1247.9l-1 0.3-1.5 2 1.9 2 2.6 0.4 1.5-0.4 1.5-2-1.6-2-1.4-0.4zM1496.7 1280.1l0.1 2.1 1.9 1.1 2 0.3 2-0.6 1.1-0.8 0.2-2-1.3-0.9-2-0.6-2 0.2z"/>
<path fill="#274CB2" d="M1290.7 1146.2l387.4 0-0.5 6 0.8 6 5.6 20 3.6 16 3 16 5.5 18 4.6 20 2 6 4 8 9 14 2.2 4 1.5 4 2.5 10 1.6 4 2.5 4 3.4 4 21.3 18.1 6 6.4 10 11.6 14 14.9 6 7.3 2.2 3.7 1.8 4.3 0 43.7-500 0 0-268zM1356.7 1168l-4 1.8-2.4 2.4-1 2-0.4 2 0.2 4 0.7 2 1.3 2 2.3 2 3.3 1.3 4 0.1 4-1.3 2.8-2.1 1.6-2 1-2 0.6-4-0.3-2-0.9-2-2.8-2.7-4-1.6-4-0.2zM1450.7 1246.1l-2 0.4-2 1-0.9 0.7-0.7 2 1.6 2.3 2 1 4 0.7 2-0.2 2-0.7 1.6-1.1 0.6-2-1.1-2-1.1-0.8-4-1.3zM1496.7 1277.5l-1.8 0.7-1.5 2 0.3 2 3 2.4 2 0.5 4-0.1 2.1-0.8 1.9-1.8 0.6-2.2-1.6-2-1-0.4-2-0.5-4-0.2zM1356.7 1343.1l-1.3 1.1 1.3 0.9 1.4-0.9z"/>
<path fill="#2256BC" d="M1290.7 1146.2l377 0 0.2 8 1.4 8 6.3 22 5.1 26.8 7.1 23.2 4.8 22 4.1 12 7.2 16 6.2 16 2.3 4 3.2 4 31.1 29 6.5 7 8.2 10 10.2 14 3.8 6 2.9 6 5.9 14 2.5 4.6 4 5.7 0 1.7 0 10-500 0 0-268zM1356.7 1164.2l-4 0.9-2 0.9-3.1 2.2-1.7 2-1 2-0.7 2-0.2 4 1 4 1 2 1.4 2 2.3 2 5 2.1 6 0.2 4-1 2-0.9 3.2-2.4 1.9-2 1.3-2 1.5-4 0.1-4-0.5-2-1.5-2.8-3.6-3.2-4.4-1.7-6-0.5zM1446.7 1245.3l-2 0.9-1.7 2-0.4 2 1 2 2.5 2 2.6 0.9 4 0.4 4-0.2 3-1.1 1.7-2 0.3-2-0.9-2-2.1-1.9-2-0.8-4-0.7-4 0.1zM1494.7 1276.1l-2 1-1.1 1.1-0.8 2 0.5 2 1.4 1.8 4 2.2 2 0.3 4-0.1 4-1.5 2-1.8 0.7-0.9 0.5-2-0.7-2-2.5-1.8-2-0.5-8-0.1zM1356.7 1341.7l-2 0.7-1.1 1.8 1.4 2 1.7 0.4 2-0.8 1.1-1.6-1.1-2.1z"/>
<path fill="#1D5FC5" d="M1290.7 1146.2l369.5 0 0.9 10 1.4 8 2.2 8.3 4.3 13.7 2.3 10 2.9 16 7.3 24 3.8 18 2.9 12 4.5 13.6 8.8 20.4 3.2 6 3 4 11 10.3 22 22 5.3 5.7 4.8 6 5.5 8 9.6 16 11.2 22 2.8 4 5.1 6 3.3 6-497.6 0 0-268zM1348.7 1162l-4 2.2-2.3 2-1.7 2.3-1.7 3.7-0.4 2 0 4 1 4 0.9 2 1.3 2 2.9 3.1 2 1.5 4 1.8 6 0.9 4-0.2 4-0.9 4-1.8 3.3-2.4 2.7-2.9 2.1-3.1 1.6-4 0.3-2-0.1-2-1-4-0.9-2-2-2.7-2-1.8-4-2.1-4-1-4-0.3-6 0.2-4 0.8zM1444.7 1244.2l-2.8 2-1 2-0.2 2 0.7 2 1.8 2 3.5 1.9 2 0.4 6 0.5 4-0.1 2.3-0.7 1.7-1.3 1.3-2.7 0-2-0.7-2-1.6-2-3-1.8-2-0.5-10-0.3zM1490.7 1275.8l-1.5 2.4-0.3 2 0.5 2 1.2 2 2.1 1.8 2 1 4 0.7 4 0 4.7-1.5 2.6-2 1.4-2 0.6-2-0.3-2-1.5-2-1.5-1-4-0.9-10 0-2 0.3zM1354.7 1341.3l-1.5 0.9-1.1 2 0.9 2 1.7 1 2 0.3 2-0.5 1.2-0.8 1.2-2-0.4-1.3-0.3-0.7-1.7-1.1-2-0.4z"/>
<path fill="#1869CF" d="M1290.7 1146.2l363.1 0 0.6 8 2 10 4.3 15.9 4.9 16.1 5.1 23.2 6.3 20.8 7.4 34 2.7 8 9.2 20 3.3 6 3.1 4 12.3 12 9.7 11.2 14.4 14.8 5.6 6.8 4.8 7.2 10.4 18 11.8 22 8.4 12-489.4 0 0-268zM1344.7 1158.1l-4 2.1-2.6 2-3.6 4-2.1 4-0.6 2-0.4 4 0.9 4 1.9 4 4.7 6 3.8 2.9 4 1.9 4 1.1 6 0.3 6-0.8 4-1.2 4-2 4-3 2.9-3.2 3.1-5 1-3 0.3-4-0.6-4-1.5-4-2.8-4-2.3-2-2.1-1.3-4-1.6-6-0.9-8-0.1-4 0.2-4 0.9zM1446.7 1242l-4 1.2-1.4 1-1.6 2-0.7 2 0 2 0.6 2 1.1 1.7 2.7 2.3 3.3 1.3 12 1.4 4-0.7 2.5-2 1-2 0.3-2-0.9-4-1.2-2-1.7-1.6-2-1.2-4-1.1-8-0.3zM1490.7 1272.9l-2 1.3-1.2 2-0.4 2 0.6 4 1 2 2 2.1 4 2.1 4 0.5 6-0.3 2-0.6 3.1-1.8 2.9-3.2 1.1-2.8-0.1-2-1-2.3-2-1.9-2-0.9-2-0.4-6 0.4-8-0.7zM1356.7 1339.9l-2 0.3-2 1.2-1 0.8-0.9 2 0.6 2 1.3 1 2.3 1 1.7 0.1 2-0.4 2.7-1.7 1-2-0.6-2-3.1-2.1z"/>
<path fill="#1373D9" d="M1290.7 1146.2l357.6 0 0.6 8 1.8 8.5 6 22.2 5 15.3 5.4 24 6.2 20 5.4 27.4 2 7.6 2 5.3 10.6 21.7 3.4 5.4 4 4.6 11.9 12 8.1 10.5 14.5 15.5 6.2 8 25.3 43.7 6.4 10.3-482.4 0 0-268zM1344.7 1151.9l-6 1.9-4 2.2-5.5 4.2-3.9 4-2.8 4-1.5 4-0.2 4 0.4 2 2.2 4 3.5 4 6.5 6 5.7 4 4.8 2 4.8 1 6 0.2 6-0.7 6-1.5 6-3 4-3.2 4-4.5 2.5-4.3 1.4-4 0.2-6-0.9-6-1.2-3.1-2-3.2-4-3.8-4-2.2-4-1.3-4-0.7-12-0.7-6 0.3zM1442.7 1241.2l-2 1-2 2-1.1 2-0.4 2 0.6 4 1.1 2 1.8 2 2 1.3 4 1.5 6 0.6 6 1.4 4 0.1 2-0.5 2-1.1 1.3-1.3 0.9-2 0.3-2-1.2-6-1.1-2-1.7-2-2.8-2-3.7-1.2-12-0.6-2 0.2zM1490.7 1269.9l-2 0.5-2 1.4-1.3 2.4-0.3 4 0.9 4 0.9 2 1.8 2.2 4 2.6 4 1 6 0.1 4-0.9 2-0.8 4-3.1 2.2-3.1 0.6-2 0.1-2-0.6-2-2.3-3.2-2-1.3-2-0.7-4-0.1-4 0.6-8-1.6zM1354.7 1339.4l-2 0.8-2.5 2-0.9 2 0.5 2 2.6 2 2.3 0.7 2 0.1 2-0.3 2-0.9 2.1-1.6 0.9-2-0.5-2-2.1-2-2.4-0.9-2-0.2z"/>
<path fill="#0E7DE3" d="M1290.7 1146.2l44.7 0-6.7 2.6-12 6-5.7 3.4-2.4 2-1.9 2-2.2 4-0.8 4 0.3 4 1.1 4 2.2 4 3.4 3.6 3.3 2.4 22.3 12 6.4 1.9 6 0.7 6-0.4 8-1.3 6-1.8 4-2 4.3-3.1 3.9-4 3.8-5.6 1.8-4.4 1-6 0.1-6-1-6-1.9-4.2-4-4.8-4-3-6-2.8-5.2-1.2 278.2 0 1 9.7 1.7 8.3 6.9 24 5.2 16 4.5 22 7.1 22 4.8 26 1.7 6 2.4 6 10.1 20 3.6 6.3 4.6 5.7 11.8 12 10.2 14 12.6 14 4.6 6 10.5 18 14.9 24 5.6 10-476.8 0 0-268zM1352.7 1339.4l-1.7 0.8-2.3 2-1 2 0.5 2 2.3 2 2.2 1 4 0.6 2-0.4 3.1-1.2 2.4-2 0.8-2-0.3-2-1.9-2-2.1-1.1-4-0.8-2 0.4zM1440.7 1240l-2 1.4-2 2.3-1.1 2.5-0.3 2 0.7 4 1 2 1.5 2 2.2 1.9 4 2 8 1.4 8 2.3 4 0.3 4-0.6 2.6-1.3 1.6-2 0.5-2-0.1-2-2.8-8-1-2-2.8-3.3-4-2.6-4-1.2-12-0.5-4 0.6zM1488.7 1266.1l-4 0.8-2 1.9-0.9 3.4 0.1 2 0.9 4 2.3 6 1.6 2.2 4 3.1 2 0.9 4 0.9 8-0.3 4-1.3 2.5-1.5 2.3-2 3-4 0.7-2-0.3-4-2.2-3.9-2-1.8-2-1.1-4-0.8-6 0.4-8-2.4-3-0.4z"/>
<path fill="#0987ED" d="M1381.3 1146.2l258.2 0 1.8 14 1.2 6 5.3 16 3 12 4.8 14 3.3 20 1.9 6 5.4 14 3.7 22 2.1 8 3 8 10.2 20 4.5 8 5 6.5 11.1 11.5 10.9 16.2 12 13.4 3.4 4.4 10.4 18 15.1 22 5.2 10-472.1 0 0-225.6 7.2 3.6 5.8 2 17 4 12 4.2 8 1.6 6 0.4 8-0.7 10-2.1 6-2.2 6-3.7 6-5.8 4-6.1 1.5-3.6 1.1-4 1-6 0.4-4-0.2-6-0.7-4-1.1-3.1-1.7-2.9-4.3-4.8zM1440.7 1237.8l-3.8 2.4-1.8 2-1.7 4-0.2 2 0.9 4 2.3 4 2.3 2.3 2.5 1.7 3.5 1.6 8 2.1 8 3 10 2.3 2.4 1 1.6 1 2 2.2 7.8 12.8 2.2 2.2 4 2.5 4 1.3 4 0.5 4-0.2 4-0.8 3.4-1.5 2.9-2 3.7-3.9 1.3-2.1 0.6-2 0-4-1.6-4-2.3-2.7-2-1.5-4-1.7-8-1-2-0.6-16-7-4-3.5-7.7-10-2-2-2.6-2-3.7-1.9-6-1.3-10-0.5-4 0.6zM1354.7 1337.9l-5.5 2.3-2.2 2-1 2 0.5 2 2.1 2 4.1 1.8 4 0.5 2-0.4 4.9-1.9 2.2-2 0.7-2-0.3-2-1.6-2-3.9-2-4-0.6z"/>
<path fill="#0491F7" d="M1389.7 1146.2l245.6 0 3.6 22 1.8 6 3.8 10 2 10 1.1 4 4.7 12 0.6 4 0.7 10 1.1 6 2 6 6.2 14 0.8 4 1 10 1.2 6 3 10 3.2 8 8.2 16 8 14 4.6 6 7.8 8 3.3 4 6.7 11.7 4.4 6.3 12.7 14 9.1 16 7 10 10.8 14 3.9 8-467.9 0 0-212 8 1.1 20 2 16 2.5 8 0.3 8-0.5 8-1.4 8-2.2 6-2.6 6-4 4-3.7 4.3-5.5 3-6 3.2-12 0.9-10-0.3-8-1.1-3.2-2-3.4zM1440.7 1235.5l-4 2.1-2.9 2.6-1.5 2-1.4 4-0.1 2 1 4 2.4 4 2.5 2.6 2 1.7 4 2.3 9 3.4 19 8.6 6 4.8 7.4 8.6 2.7 2 3.7 2 4.2 1.3 4 0.4 4-0.1 4-0.9 4-1.8 4-2.9 3.6-4 1.7-4 0.2-4-1.2-4-2.3-3.5-2-2-4-2.6-10.5-3.9-15.5-8.2-6-4.1-8.8-7.7-5.2-3.1-4-1.5-6-1-8-0.3-4 0.6zM1352.7 1337.7l-5.4 2.5-2.2 2-1 2 0.4 2 2.1 2 6.1 2.5 4 0.4 4.1-0.9 4.7-2 2-2 0.8-2-0.3-2-1.5-2-3.5-2-4.3-1.2-4 0.1z"/>
<path fill="#0099FF" d="M1395.7 1146.2l235.4 0 1.8 8 2.1 14 2.2 8 3.6 10 2.1 12 1.4 4 4.4 10 0.1 10 1.9 10 2.7 8 5.3 10 0.7 2 0.8 10 1.2 6 3.1 10 4.2 10.4 8 16 10 17.4 6 8 7.4 8.2 5.3 10 3.7 6 5.6 7.3 9.6 10.7 4.5 8 3.9 6 7.5 10 10.5 12.8 3 5.2 0.8 2-463.8 0 0-203.8 20 0.5 22 1.1 12-0.4 10-1.3 8-1.8 6-2 6-2.9 6-4.3 4-3.9 3.9-5.2 3.3-6 3.8-12 1.4-8 0.9-12-0.2-2-1.2-4zM1444.7 1232.1l-6 1.9-3.9 2.2-2.4 2-3.1 4-1.3 4 0.3 4 1.9 4 3.3 4 3.2 2.8 4 2.7 12.8 6.5 17.2 9.3 6 4.4 4.7 4.3 6.2 4 3.1 1.4 4 1.1 4 0.4 4-0.1 6-1.7 4-2.1 5.6-5 2.4-4 1.1-4-0.3-4-1.5-4-3.3-4.5-4-3.5-4-2.5-24-12.3-6-3.6-8.1-5.6-5.9-3.2-4-1.6-4-1-4-0.5-6-0.1zM1356.7 1336.1l-4 0.8-6 2.4-3.8 2.9-1 2 0.4 2 1.9 2 4.4 2 6.1 1.5 4-0.2 6-1.7 2.9-1.6 1.8-2 0.8-2-0.2-2-1.5-2-3.8-2.3-6.3-1.7z"/>
<path fill="#009EEF" d="M1398.8 1146.2l229.6 0 4.3 22.1 4.9 17.9 2.3 12 1.8 6 3.3 8 0.7 10 2.2 10 3.1 10 4.7 10 1.5 10 1.6 6 4.1 12 4.2 10 9 18 5.5 10 5.1 8.2 10.4 13.8 5.7 10 5.9 8.7 12 15 11.4 16.3 16.3 20 3.2 6-460.9 0 0-199.4 16-0.5 26 0.2 14-0.9 10-1.5 8-2.1 6-2.2 6-3.3 5.7-4.3 4.3-4.5 4-5.5 3.1-6 3.4-10 1.7-8 1.3-14-0.9-6zM1446.7 1230.2l-6 1.3-4 1.7-4.6 3-3.8 4-2.1 4-0.4 4 1.3 4 2.7 4 4.1 4 4.8 3.7 30 17.1 6 3.8 7.4 5.4 3.5 2 7.1 2.9 4 0.6 4 0.2 6-1.1 5.7-2.6 5-4 3.3-4 1.7-4 0.4-2-0.1-3.5-1.4-4.5-2.6-4.2-4-4.2-8-5.7-7.1-3.9-18.9-9.4-14-8.3-4-1.8-6-1.8-4-0.7-4-0.1zM1354.7 1335.9l-7.5 2.3-3.6 2-2.2 2-1 2 0.3 2 1.9 2 4.3 2 7.8 1.9 4-0.2 8-2.1 2.3-1.6 2-2 0.8-2-0.4-2-1.4-2-3-2-6.3-2.1-4-0.5z"/>
<path fill="#00A3E1" d="M1400.8 1146.2l225.9 0 0.5 4 5.5 25.1 3.2 12.9 2.8 13.4 3.6 12.6 1.3 8 3.1 12.9 2.7 9.1 3.1 8 3.1 12 1.9 6 4.5 12 4.4 10 7.9 16 8.4 15.2 20.1 30.8 7.9 11.1 17.4 22.9 18 22 3.4 6-458.8 0 0-196.6 16-1 30-0.6 12-1.1 8-1.3 8-2.1 6-2.2 6-3.1 6-4.5 5.3-5.5 4.2-6 3-6 3.5-10 1.8-8 1.4-14-0.7-6zM1442.7 1229.6l-4 1.4-6 3.2-4.6 4-2.8 4-1.2 4 0 2 1.4 4 2.8 4 6.4 5.8 4 2.9 45.4 27.3 6.6 2.9 4 1 6 0.3 4-0.5 6-2.2 4-2.4 5.3-5.1 2.3-4 1.2-4 0-4-1.2-4-3.8-6-3.8-3.9-4-3.2-7.8-4.9-22.2-10.8-16-8.9-4-1.6-6-1.6-4-0.5-6 0.4zM1352.7 1336l-6 1.9-4.2 2.3-2.2 2-1 2 0.3 2 1.8 2 3.3 1.6 8 2.3 4 0.4 8-1.5 2.6-0.8 5.1-4 0.5-2-0.5-2-1.7-2.2-4-2.5-8-2.2-4 0.2z"/>
<path fill="#00A8D3" d="M1402.9 1146.2l222.3 0 0.4 4 11.1 50.9 5.9 25.1 4.1 15.6 8.3 26.4 6.2 16 4.4 10 12.1 24 9 15.4 8 12.6 20 28 12.5 16 16.5 20 3.5 6-456.5 0 0-193.9 14-1.4 34-1.6 12-1.2 8-1.5 8-2.2 6-2.5 6-3.4 5.5-4.3 4.5-4.7 5.1-7.3 3-6 3.5-10 1.8-8 1.4-14-0.4-6zM1444.7 1228l-6 1.6-6 3-4.6 3.6-3.5 4-1.8 4-0.4 4 1.3 4 3 4 8 7 12 8.1 12 7.4 23.7 13.5 6.3 2.8 4 1.2 4 0.6 6 0 6-1.7 6-3.2 6-5.6 2.4-4.1 1.2-4 0.1-2-0.5-4-1.6-4-3.6-5.3-6-5.8-8-5.4-6.6-3.5-15.4-7.2-16-8.5-6-2.6-6-1.8-4-0.5-4 0.1zM1350.7 1336.2l-6.1 2-3.4 2-2.1 2-0.9 2 0.3 2 1.8 2 4 2 10.4 2.5 4-0.1 8-1.6 2.1-0.8 3.1-2 2-2 0.3-2-0.7-2-1.5-2-3.3-2.3-8-2.6-4-0.4-4 0.7z"/>
<path fill="#00ACC5" d="M1405.1 1146.2l218.6 0 0.8 6 3.7 16 9.2 44 9.2 36 2.3 8 3.8 10.7 11.1 27.3 4.9 10.4 7 13.6 9 16.1 7.4 11.9 20.6 28.6 28.5 35.4 3.7 6-454.2 0 0-191.5 16-1.9 34-2.2 14-1.7 8-1.8 6-1.9 6-2.7 6-3.7 5.6-4.6 5.2-6 3.9-6 3.8-8 2.8-8 1.8-8 1.5-14-0.1-6zM1440.7 1227.6l-6 2.4-4 2.2-4.8 4-3.2 4-1.7 4-0.3 4 1.2 4 3 4 9.5 8 14.3 9.8 16.7 10.2 15.1 8 8.2 3.5 4 1.1 6 0.6 6-0.5 6-2.1 4.5-2.6 5.5-5 3.1-5 1.3-4 0.2-2-0.5-4-2.1-5.2-4-5.6-6-5.7-8.1-5.5-7.7-4-16.2-7.4-16-8.3-6-2.4-6-1.4-6-0.2-4 0.6zM1350.7 1335.7l-7.5 2.5-3.3 2-2 2-0.9 2 0.4 2 1.7 2 3.8 2 7.4 2 4.4 0.8 4-0.1 8-1.3 3.7-1.4 3.4-2 1.5-2 0.1-2-0.8-2-1.6-2-2.4-2-5.9-2.3-6-1.3-2-0.1-4 0.7z"/>
<path fill="#00B1B7" d="M1407.4 1146.2l215 0 0.8 6 4.6 20 8 40 9.1 36 2.9 10 2.9 8 12.3 30 5.7 12.3 6 11.7 10 18 5 8 21 29 26.6 33 2.9 4 2.4 4-451.9 0 0-189.1 18-2.6 36-2.9 12-1.6 6-1.4 6-1.9 6-2.7 6-3.5 5.5-4.3 5.7-6 4.1-6 4.1-8 3.5-10 1.9-8 1.6-12 0.3-8zM1440.7 1226.2l-6 2.2-6 3.3-5.1 4.5-2.9 4-1.5 4-0.2 4 1.1 4 2.8 4 4.5 4 21.3 15.2 10.6 6.8 10.9 6 12.5 5.8 8 2.9 8 1 6-0.5 6-2.1 6-3.6 5.6-5.5 3.1-6 0.7-4-0.3-4-0.6-2-2.5-5.1-3.7-4.9-6.4-6-9.2-6-22.7-10.6-16-8.1-6-2.4-6-1.5-6-0.3-4 0.4zM1356.7 1334.1l-9.8 2.1-5.1 2-3.2 2-1.9 2-0.8 2 0.4 2 1.6 2 3.6 2 7.3 2 7.9 1.1 9.9-1.1 2.1-0.6 3.6-1.4 2.4-1.5 1.9-2.5 0-2-1-2-1.6-2-2.4-2-4.9-2.2-8-1.8z"/>
<path fill="#00B6A9" d="M1409.9 1146.2l211.3 0 0.8 6 4.1 18 8.3 42 10.3 41.3 2.1 6.7 3.7 10 12.2 29.3 6 12.9 8 15.4 6 10.8 6 9.6 22 29.8 24.3 30.2 5.2 8-449.5 0 0-186.8 12-2.2 12-1.7 12-1.3 20-1.4 12-1.8 6-1.5 6-2.1 6-2.9 6-3.7 5.7-4.6 5.5-6 4-6 3.1-6 3.1-8 2.8-10 2.3-14 0.6-8zM1444.7 1224.2l-6 1.1-7.3 2.9-6.1 4-4.1 4-2.5 4-0.8 2-0.7 4 0.4 4 1.7 4 3.6 4 5.2 4 22.6 16 13 8 12.4 6 10.3 4 6.3 1.7 8 0.5 6-1.1 7.3-3.1 3-2 3.7-3.2 3.7-4.8 1.8-4 0.8-4 0-2-1.6-6-3.5-6-3.4-4-5.8-5.2-4-2.9-6.7-3.9-19.3-8.8-22-10.6-8-2.3-6-0.4zM1354.7 1333.9l-9.6 2.3-6.4 3-3.2 3-0.7 2 0.3 2 1.6 2 4 2.2 12 2.9 6 0.2 10-1.2 5.3-2.1 2.7-2 1-2-0.1-2-0.9-2-1.7-2-4.3-3.1-6-2.2-8-1.2z"/>
<path fill="#00BB9A" d="M1412.5 1146.2l207.5 0 0.8 6 4.5 20 7.4 38.6 10 41.1 2 6.8 3.4 9.5 14 34 5.5 12 7.1 13.8 6 10.9 5.9 9.3 22.1 29.8 22.5 28.2 6.7 10-447.2 0 0-184.6 14-2.9 16-2.5 8-0.9 20-1.3 10-1.5 6-1.5 6-2.1 6-2.8 6.5-3.9 5.5-4.2 5.8-5.8 4.2-6 3.2-6 4-10 2.3-8 2.9-14 1.3-10zM1438.7 1223.8l-6 2-6 3.1-6 5-3.1 4.3-1.6 4-0.7 4 0.1 2 1 4 2.4 4 4.3 4 25.6 18.1 9.1 5.9 8.9 4.9 11.9 5.1 12.1 3.9 8 0.8 6-0.6 6.4-2.1 6.8-4 4.4-4 1.7-2 2.3-4 1.3-4 0.3-2-0.7-6-2.8-6-3.7-5-7.3-7-8.7-5.8-8.5-4.2-15.5-6.8-16-7.9-6-2.4-6-1.7-6-0.5-6 0.5zM1352.7 1333.9l-9.3 2.3-4.5 2-2.9 2-1.6 2-0.7 2 0.3 2 1.5 2 3.3 2 1.9 0.6 12 2.7 6 0.3 10-1 2.3-0.6 4.4-2 2.3-2 1-2-0.1-2-0.9-2-4-4-5-2.6-8-2-6-0.1z"/>
<path fill="#00BF8C" d="M1415.3 1146.2l203.5 0 0.9 6 4.4 20 7.6 40 9.6 40 2.4 8 2.9 8 14.1 35 10 21.1 6.4 11.9 6.1 10 5.5 8 16.7 22 22.3 28 4.3 6 3.6 6-444.9 0 0-182.4 14-3.3 18-3.2 8-0.9 18-1.1 12-1.8 6-1.6 6-2.2 6-3 7.1-4.5 6.9-5.5 4.1-4.5 4.1-6 3-6 3.8-10 2.4-8 3.3-14 1.6-10zM1440.7 1221.9l-6 1.3-7.3 3-5.9 4-3.7 4-3.2 6-1.1 6 0.4 4 0.6 2 2.2 4 4 4 15 10 13.8 10 9.4 6 7.6 4 9.6 4 12.7 4 5.9 1 8-0.1 4-0.8 4-1.4 6-3.2 6.5-5.5 4-6 1.3-4 0.1-6-2-6-3.8-6-4.1-4.6-6-5.2-6.4-4.2-7.6-3.9-16-7.1-18-8.7-6-2.5-8-2-8-0.3zM1350.7 1333.8l-9 2.4-4.2 2-2.7 2-1.6 2-0.7 2 0.3 2 1.5 2 3.2 2 3.2 1.1 12 2.5 6 0.3 10-0.8 3.8-1.1 4.1-2 2.1-2 0.8-2 0-2-0.8-2-4-4-3.3-2-2.7-1.1-10-2.2-6 0.5z"/>
<path fill="#00C47E" d="M1418.1 1146.2l199.6 0 0.9 6 4.4 20 7.5 40 9.9 42 4.6 14 15.2 38 4.5 10 6 12 6 10.7 5.8 9.3 21 28 20.7 26 5.6 8 3.6 6-442.7 0 0-180.2 14-3.7 18-3.6 8-1.1 20-1.1 12-1.9 6-1.8 6-2.4 6-3.2 7.9-5 5.2-4 4-4 4.2-6 3.1-6 3.8-10 3.2-10 3.7-14 2-10zM1432.7 1222l-6 2.2-6 3.8-4 4-2.7 4.2-2 6-0.3 6 1.7 6 2.7 4 5 4 11.6 7.3 20 14.2 7.5 4.5 8.2 4 11 4 11.3 3 8 0.6 4-0.2 4-0.9 8-3.2 6-4.1 5-5.2 3.2-6 0.6-2 0.3-4-1.2-6-3.2-6-4.7-5.9-6.7-6.1-9.3-6-44-20.4-8-2.6-6-0.8-6 0-6 1zM1346.7 1334.1l-8 2.7-2.6 1.4-2.6 2-1.5 2-0.6 2 0.3 2 1.4 2 3 2 4.6 1.6 12 2.3 6 0.3 10-0.7 6-2 2.8-1.5 2-2 0.9-2 0-2-0.9-2-1.6-2-5.4-4-3.8-1.6-4-1-8-1.1-8 1.2z"/>
<path fill="#00C970" d="M1420.6 1148.2l0.4-2 195.6 0 1.3 8 4 18 7 38 10.2 44 5.2 16 14.4 36.7 4.1 9.3 6 12 5.9 10.6 5.9 9.4 18 24 23.6 30 5.6 8 3.4 6-440.5 0 0-178 14-4.1 20-4.5 6-0.7 22-1.3 12-2 6-1.9 6-2.6 15.1-8.9 7.3-6 3.1-4 3.4-6 3.9-10 4.1-12 4.1-14 2.5-10zM1432.7 1220l-6 1.7-6 3.1-4 3.5-4.2 5.9-2.2 6-0.7 6 1.1 6 1.8 4 1.4 2 4.6 4 14.2 8.6 18.8 13.4 6.5 4 7.9 4 10.8 4 12 3.1 8 1 8-0.6 8-2.6 6-3.4 6.3-5.5 4-6 0.9-2 0.8-4-0.4-6-2.5-6-5.1-7-7.3-7-8.8-6-7.8-4-20.1-8.8-16-7.7-8-3-6-1.3-6-0.5-8 0.7zM1354.7 1332.2l-10.7 2-7.3 2.8-4 2.8-1.9 2.4-0.6 2 0.3 2 1.3 2 2.9 2 5.9 2 14.1 2.4 12-0.3 4-0.6 4.2-1.5 3.5-2 1.8-2 0.9-2 0.1-2-0.8-2-1.5-2-2.3-2-5.9-3.4-6-1.7-8-1.1z"/>
<path fill="#05CD67" d="M1423.8 1146.2l191.8 0 1.1 7.1 4.6 20.9 6.8 38 9.6 42 5 15.7 14.8 38.3 4.4 10 5 10 5.6 10 6.2 9.8 11.9 16.2 28.3 36 5.6 8 4.6 8-438.4 0 0-175.7 12.7-4.3 21.3-5.3 6-0.8 24-1.3 12-2.2 10-3.7 20-11.4 4-3.2 1.9-2.1 2.7-4 2-4 3-8 9.3-28 3.8-14zM1432.7 1217.9l-8 1.9-6 2.9-4 3.5-2 2.6-2 3.5-1.6 3.9-1 4-0.5 6 0.6 4 1.3 4 3.2 5.1 3.2 2.9 16.8 10 18 12.8 6 3.6 6.9 3.6 10.4 4 12.7 3.3 8 1.2 8-0.2 4-0.8 4.5-1.5 7.7-4 3.8-2.9 3.3-3.1 4-6 1.8-6-0.5-6-2.4-6-4.1-6-3.6-4-4.5-4.2-5.1-3.8-4.9-3-6-3.1-20-8.8-18-8.6-8-3.1-6-1.4-6-0.8-8 0.2zM1352.7 1332l-10.8 2.2-5.2 2-3.4 2-2.6 2.5-1.1 1.5-0.6 2 0.3 2 1.2 2 2.8 2 5.4 1.9 11.1 2.1 6.9 0.8 12-0.5 2.1-0.3 5.1-2 3.3-2 1.7-2 0.9-2 0.1-2-0.7-2-1.4-2-2.2-2-3-2-3.9-1.9-4-1.2-6-1.2-6-0.2z"/>
<path fill="#12D06A" d="M1430.4 1148.2l0.6-2 181.9 0 5.4 26 6.6 38 9.4 44 4.8 16 14 38 4.3 10 5 10 10.3 17.2 12 16.7 29.7 38.1 5.3 8 4.3 8-433.3 0 0-169.9 14-5.8 20.7-6.3 5.3-1 22-0.6 12-1.3 6-1.4 5.1-1.7 14.9-7 4-0.9 4 0 2 0.6 1.6 1.3 0.9 2 0.1 4-1.3 12 0.3 6 0.8 4 1.5 4 2.1 4 2 2.7 4 3.7 16 8.6 22 14.8 11.8 6.2 11.3 4 12.9 2.8 10 0.9 8-0.7 4.2-1 5.5-2 7.2-4 3.1-2.4 3.8-3.6 4.1-6 1.5-4 0.5-4-0.5-4-2.3-6-4-6-5.1-5.8-6-5.2-6-4.2-10-5.4-20-8.7-18-8.7-8-3.4-6-1.9-6-1.3-20-2.7-4-1.3-1.8-1.4-1.1-2-0.6-4 0.3-6 1-6 3.5-12 6.7-18 3.1-10zM1344.7 1331.9l-8 2.4-3.9 1.9-2.9 2-2.1 2-1.2 2-0.6 2 0.2 2 1.1 2 2.4 2 4.8 2 8.2 1.6 14 1.8 6 0.1 8-0.7 7.4-2.8 2.7-2 1.7-2 1-2 0.2-2-0.5-2-2.5-3.3-3.5-2.7-3.6-2-4.9-1.9-4-0.9-8-1-10 1.1z"/>
<path fill="#20D26C" d="M1438.1 1148.2l0.9-2 170.9 0 5.6 26 6.2 38 9 45.4 4.8 16.6 12.6 36 4.4 10 4 8 10.2 17 12 17.1 30.6 39.9 5.1 8 3.9 8-427.6 0 0-162.7 4-2.2 8-4.1 7.1-3 10.8-4 8.1-2.4 6-0.6 28-0.6 8-0.8 12-1.9 4-0.1 2 0.6 2 1.8 2 4 3.8 10 3.2 6 4.4 6 4.1 4 3 2 17.5 9.1 13.6 8.9 8.4 5.1 8 3.9 7.7 3 10.3 2.8 12 1.9 10 0.3 8-1 6-1.8 4-1.6 8.1-4.6 7-6 4.2-6 1.5-4 0.6-4-0.4-4-1.4-4-2.1-4-4.4-6-5.6-6-5.5-4.7-6-4.3-8-4.5-26-11.6-24-11.8-17.1-7.1-4.9-2.6-4.1-3.4-1.9-2.9-1.1-3.1-0.5-4 0.6-6 3.3-12 8.3-22zM1344.7 1330.1l-6 1.4-4 1.5-6 3-2.9 2.2-1.9 2-1.1 2-0.4 2 0.2 2 1 2 1.1 1.1 0.9 0.9 3.8 2 8.3 2 19 2.2 6 0.2 8-0.6 9.3-3.8 4.2-4 1.1-2 0.3-2-0.3-2-1-2-1.6-1.9-4-3.1-4-2.2-8-2.7-6-1.1-4-0.4-10 0.9z"/>
<path fill="#2ED56F" d="M1445.6 1148.2l1.2-2 160.2 0 6.1 28 5.4 36 8.3 46 4.9 18 10.1 30 7.2 16 5.4 10 4.9 8 13.4 19.5 33.1 44.5 3.7 6 3.5 8-422.3 0 0-155.2 12-7.5 6.5-3.3 9.5-4.1 8-2.8 6-1.3 10-0.5 16 0.2 14 0.9 6 1.1 4 1.8 2 1.4 4 4 7.8 9.3 3.8 4 4.6 4 3.8 2.5 16 8.3 22.2 13.2 8.3 4 13.5 4.7 8 1.9 8 1.2 10 0.6 8-0.5 6-1.1 8-2.6 8.5-4.2 5.7-4 4.4-4 4.3-6 1.7-4 0.6-4-0.4-4-1.4-4-2.1-4-4.5-6-5.6-6-4.3-4-6.9-5.3-8-4.9-8-4-24-10.8-24.1-13-9.4-6-2.4-2-3.7-4-2.2-4-1.1-4-0.3-4 0.6-6 1.4-6 2.6-8 3.3-8 3.3-6.4zM1344.7 1328.1l-6 1.4-6 2-5.7 2.7-4.3 2.9-2.8 3.1-1 2-0.3 2 0.4 2 1.7 2.8 1.1 1.2 3 2 3.9 1.4 6 1.2 26 2.6 10-0.6 8-2.9 2.8-1.7 4.3-4 1.1-2 0.6-2-0.1-2-0.8-2-1.5-2-2.4-2.2-4-2.7-4-2-6-2.1-6-1.3-6-0.7-10 0.6z"/>
<path fill="#3DD872" d="M1453.6 1148.2l1.6-2 149 0 4.3 18 2.4 12 5.1 38 6.5 42 1.8 8 3.4 12 7.9 24 7.1 16 10 17.5 12 17.9 36.4 50.6 4.6 8 2.2 6-417.2 0 0-147.3 8.5-6.7 9.5-5.8 8-3.8 8-3.2 6-1.8 6-1 8-0.5 10 0.4 8 1 8 1.8 6 2.2 4 2.3 4 2.8 14.2 11.6 7.8 5.3 38.5 20.7 9.3 4 12 4 8.9 2 9.3 1.3 12 0.4 8-0.8 8-1.8 6-2.1 8-3.8 7.8-5.2 4.5-4 4.6-6 1.7-4 0.7-4-0.4-4-1.4-4-2.2-4-4.7-6-9.9-10-7.6-6-9.1-5.7-8-4.1-26-12.1-14.2-8.1-11-8-4.1-4-3.1-4-2-4-1.2-4-0.5-6 0.6-6 2-8 2.3-6 3.2-5.8 4-5.2zM1344.7 1326.1l-6 1.2-8 2.6-6 2.7-5.7 3.6-2.3 2.3-1.2 1.7-0.7 2-0.1 2 0.5 2 1.1 2 1.8 2 2.7 2 4.5 2 3.4 0.8 8 1.2 24 1.9 10-0.7 9.1-3.2 3.1-2 4.4-4 1.2-2 0.7-2 0.1-2-0.6-2-1.2-2-2.8-2.9-4-2.8-6-2.9-4-1.5-6-1.6-6-1-6-0.2-6 0.5z"/>
<path fill="#4BDB75" d="M1461.9 1148.2l1.1-2 138.4 0 4.6 18 2.9 16 6.4 58 2.5 18 4 18 5.8 18 6.9 16 10 18 10.4 16 26.9 38 9.4 14 8.8 14 1.8 4 1.2 4-412.3 0 0-139.9 3.1-2.1 4.9-4.8 4-3.2 10-5.9 6-2.9 8-3.1 6-1.7 6-1 6-0.5 6 0.2 6 0.8 6 1.3 7.9 2.8 6.1 2.9 30 18.4 20.2 10.7 12.3 6 9.5 4 11.9 4 14.1 3.3 10 1.3 12 0.4 8-0.8 8-1.7 7.7-2.5 8.7-4 6.5-4 7.3-6 4.9-6 1.8-4 0.6-2 0.2-4-0.8-4-2-4-2.8-4-5.3-6-6.1-6-9.6-8-11.1-7.2-10-5.2-24-11.5-10.5-6.1-5.6-4-4.7-4-3.7-4-2.9-4-2.8-6-1.3-6-0.2-6 0.8-6 1.8-6 3-6 2.1-2.8 6-5.7zM1342.7 1324.2l-10 2.6-6 2.2-7.2 3.2-5.9 4-1.9 2-1.2 2-0.5 2 0.1 2 0.8 2 1.4 2 1.9 2 4.5 3 4 1.6 5.3 1.4 32.7 2.5 10-0.6 10.5-3.9 5.6-4 1.9-2 2.2-4 0.2-2-0.4-2.3-2-3.4-4-3.5-4-2.5-6-2.8-6-2-6-1.5-6-0.9-6-0.1-6 0.6z"/>
<path fill="#59DE78" d="M1468.2 1146.2l130.5 0 5.2 20 2.8 16 1.4 12 1 14 0.3 10-0.2 12 0.5 6 4.6 34 1.6 8 1.9 6 3.6 8 4.3 8 12.8 22 11.9 18 25.3 36 10.3 16 9.1 16 1.7 4 1.1 4-407.2 0 0-134.3 6-3.7 6-5.6 3.2-2.4 8.8-5.3 6-2.8 6-2.3 6-1.8 6-1.1 6-0.5 4 0.1 9.9 1.7 8.1 2.8 10 4.5 40 21.9 15.2 6.8 16.4 6 13.7 4 12.7 2.7 10.7 1.3 11.3 0.2 8-0.7 10-2.1 8-2.7 10.2-4.7 6.6-4 7.6-6 5.2-6 1.2-2 1.5-4 0.3-4-0.9-4-1.9-4-3-4-7.7-8-11.5-10-11.6-8.2-10-5.8-27.9-14-9.8-6-7.3-6-3.6-4-2.7-4-2.8-6-1.5-6-0.3-6 0.8-6 1.1-4 2-4.1 2.8-3.9 5.2-5.4 2.8-4.6zM1340.7 1322l-10 2.7-8 2.8-6.2 2.7-6.9 4-2.9 2.8-2 3.2-0.4 2 0.3 2 0.9 2 1.7 2 2.4 2 5.1 3.1 4 1.7 8 2.1 8 0.8 26 1.4 10-0.7 8-2.7 3.7-1.7 5.7-4 1.9-2 2.5-4 0.4-2-0.6-4-1.6-2.8-2-2.1-6-4.1-8-3.7-6-2-8-1.9-6-0.7-6 0-6 0.7z"/>
<path fill="#67E17B" d="M1472.6 1146.2l123.5 0 4.3 16 2.2 10 1.8 12 1.3 14 0.4 10-0.4 8-1 6-2.2 8-0.1 2 2.4 16 0.7 8 0 10-1.5 14 0.7 4 1.2 2 1.7 2 9.1 8.6 6 7.4 48.6 70 7.6 12 6.7 12 4.7 10 2.4 8-402 0 0-128.9 7.8-5.1 10.5-8 9.7-5.7 10-4 8-1.9 6-0.6 4 0 8 1.2 8 2.3 12 5.1 16 7.9 22 11.9 10 4.3 25.7 7.5 16 4 10.6 2 11.7 1.3 10 0.2 10-1 10-2.2 8-2.7 8.2-3.6 10.7-6 8.3-6 5.8-6 2.3-4 0.6-2 0.2-4-1-4-3.4-6-3.4-4-4.2-4-14.5-12-13.6-9.5-10-5.9-24-12.6-9.9-6-7.4-6-5.2-6-3.2-6-1.9-6-0.7-6 0.5-6 1.1-4 1.8-4 6.9-9.9 3.1-6.1zM1348.7 1318.1l-8 0.9-10 2.5-12 4-8 3.4-5.9 3.3-4.9 4-1.6 2-0.9 2-0.2 2 0.3 2 1 2 1.8 2 2.7 2 8.7 4 7 2.3 10 1.8 34 1.6 8-0.9 2-0.5 8-2.8 5.9-3.5 2.7-2 3.6-4 1.8-4 0-4.3-1.6-3.7-2.4-2.8-4-2.9-6-3.1-10-3.8-8-2.2-6-1-6-0.4z"/>
<path fill="#76E47E" d="M1476.6 1146.2l116.9 0 4.9 18 2.4 12 1.9 16 0.4 14-1.1 10-1 4-3.1 8-0.8 4-0.1 4 0.9 16-0.8 8-2.4 6.8-7.1 11.2-0.8 4 0.9 4 2.2 4 2.8 2.8 2.1 1.2 11.9 3.3 6 3.4 6 5.3 8 9.6 26.7 36.4 12.5 18 6.4 10 5.7 10 4.7 10 3 8 1.9 8-396.9 0 0-68.6 3.2 2.6 4.8 2.3 12.8 3.7 9.1 2 6.1 0.9 8 0.5 28 0.8 10-1.4 8-2.7 3.9-2.1 6-4 2.1-2 2.9-4 1.3-4 0-4-1.5-4-2.7-3.5-4-2.9-6-3-10-3.7-12-3.3-8-1-6 0-6 0.6-16 3.9-12 4.2-18 7.8-4 2.1 0-39.8 9.7-7.4 12.3-8.2 8-4.6 8-3.3 8-1.8 8-0.4 8 1 10 3 10.6 4.3 16.7 8 18.7 10.1 8 3.3 6 1.5 14 2.3 31.3 6.8 12.7 1.9 10 0.7 8 0 10-1.1 8-1.8 11.1-3.7 13.2-6 10.6-6 8.7-6 4.6-4 1.8-2 1.3-2 0.7-2 0.1-2-1-4-3.5-6-3.4-4-4.1-4-15.5-12-16.6-11.6-12-7.2-20.2-11.2-9.8-6-7.6-6-5.4-6-2.4-4-2.4-6-1-6 0.2-6 0.9-4 1.5-4 6.2-11.3 3.1-6.7z"/>
<path fill="#84E680" d="M1480.6 1146.2l110.3 0 4.9 18 2.5 12 1.7 14 0.4 12-0.4 6-1 6-6.1 18-2.5 18-1.7 6.2-2 3.8-2 2.3-2 1.4-2 0.7-2 0.2-4-1.2-15.9-11.4-27.4-18-39.9-24-8.4-6-4.4-4-3.5-4-3.5-6-2-6-0.7-6 0.3-4 1.4-6 9.1-20zM1329.5 1276.2l7.2-1.4 6-0.2 8 0.9 8 2.1 10 3.8 10.7 4.8 23.3 12.7 4 1.6 5.9 1.7 6.1 0.9 10 0.2 8 0.6 36.3 6.3 15.7 1.6 8 0.2 8-0.6 7.7-1.2 6.3-1.5 8-2.5 10.2-4 29.8-13.9 4-1.2 2-0.1 4 0.8 4 2.5 6.5 5.9 3.5 2.4 12 2.8 4 1.5 4 2.1 4 3 4 3.7 8 9 12 15.1 10.8 14.4 12.4 18 7.6 12 5.3 10 3.5 8 3 10 1.3 8-391.9 0 0-62.3 4 1.3 5 1 27 3.8 34 0.9 10-1 10-3.1 8.4-4.6 2.8-2 3.9-4 1.4-2 1.7-4 0.6-4-0.5-4-0.7-2-2.2-4-3.4-3.5-6-3.3-6-2.2-14-4.2-8-1.8-10-0.9-10 0.7-10 2-8 2.3-20 7.4-6 0.3-4-1.3 0-18.3 2.4-3.2 5.6-5.8 4-3.2 18.2-11 7.8-3.7z"/>
<path fill="#92E983" d="M1484.6 1146.2l103.6 0 5.4 20 2.1 10 1.6 12 0.3 12-0.7 8-1.3 6-10.9 29.2-2 4-2 2.6-2 1.6-2 0.8-4 0-8-2.6-10-4.7-8-4.4-40.5-24.5-12.2-8-9.3-7.6-4-4.4-3.8-6-2.1-6-0.8-6 0.4-6 1.6-6 7.7-18zM1338.4 1284.2l8.3 0.3 8 1.7 6.2 2 9.1 4 7 4 5.2 4 1.9 2 1.2 2 0.1 2-2.7 1.1-4 0.2-4-0.5-22-3.7-8-0.5-10 0-6 0.6-20 5.9-2 0.2-2-0.4-0.9-0.9-0.1-2 0.7-2 2.3-3.1 3.3-2.9 20.5-12 6.2-1.8zM1562.4 1294.2l6.3-1.4 6 0.5 4 1.6 10 6.1 12 3.5 4 1.6 4 2.2 4 2.7 4 3.4 6 6.1 12 13.9 10.8 13.8 11.2 16 10 16 5.1 10 3.1 8 2.3 10 0.6 8-387.1 0 0-58.5 4 0.7 14 0.8 18 1.7 34 0.5 10-1 12-4 7.7-4.2 2.7-2 4.2-4 2.7-4 1.5-4 0.7-6-0.8-6-3.1-12 0.3-2 2.1-1.6 4-1.3 22-2.8 8-0.2 10 0.8 30 4.4 10 1.1 12 0.5 10-0.7 10-1.9 10-2.8 9.8-3.5 24.2-9.5z"/>
<path fill="#A0EC86" d="M1488.7 1146.2l96.7 0 6.9 26 1.6 10 0.9 10 0 8-1 8-1.5 6-3.6 8.8-6 11.8-2.2 3.4-3.8 3.9-2 1.3-4 1-6-0.4-4-1-6-2.1-12-6-28.6-16.7-14.8-10-7.3-6-5.8-6-4-6-1.8-4-1.1-4-0.6-6 1-8 2.6-8 5.4-12zM1560.4 1298.2l8.3-1.3 6 0.6 4 1.4 10 4.7 12 4.2 6 3.1 6 4.3 6 5.3 6 6.1 10 11.3 11.2 14.3 10.9 16 8.3 14 4.6 10 2.4 8 1.1 8 0 8-382.5 0 0-55.6 4 0.4 14-0.2 26 1.2 26-0.1 10-1.1 10-3.1 11-5.5 5.1-4 3.6-4 2.4-4 1.5-4 1.9-12 1.1-4 1-2 1.7-2 4.7-3 9.9-3 8.1-1.2 8-0.2 10 0.8 24 3 12 1.2 10 0.3 10-0.6 10-1.8 8-2 34-11.1z"/>
<path fill="#AFEF89" d="M1492 1148.2l0.9-2 89.6 0 6.9 26 1.7 10 0.9 10-0.2 8-1.2 8-1.9 6.3-3.5 7.7-4.5 7.4-2 2.6-4 3.7-2 1.2-4 1.3-4 0.3-4-0.4-4-0.9-6-2.1-14-6.8-17.9-10.3-14.5-10-9-8-5.2-6-3.6-6-2.2-6-0.9-6 0.5-8 2.3-8 4.7-10zM1555.9 1302.2l8.8-1.5 8 0 6 1.4 16 6.2 8 3.8 6 3.9 8 6.5 8 7.7 10 11 10 12.8 9.6 14.2 8.1 14 4.4 10 2 8 0.5 8-0.5 8-378.1 0 0-53.2 4 0.2 14-0.9 26 0.5 26-0.4 10-1.2 10-3 4.7-2 7.5-4 5.3-4 3.8-4 3.8-6 5.2-14 1.7-2.9 2-2.2 2-1.6 4-2.3 8-2.7 8-1.2 8-0.3 14 0.9 28 2.8 10 0.3 10-0.5 10-1.6 8-1.9 30-8.5z"/>
<path fill="#BDF28C" d="M1496.4 1148.2l0.9-2 82.1 0 6.9 26 1.5 8 0.9 8 0.2 8-0.9 8-2.1 8-2.6 6-4.6 7.1-2.8 2.9-3.2 2.6-2.6 1.4-3.4 1.1-4 0.5-4-0.3-4-0.8-6-2-14-6.5-14-8-11.3-8-8.8-8-5.1-6-3.7-6-1.8-4-1.2-4-0.8-6 0.6-8 2.5-8 4.3-8zM1560.4 1304.2l8.3-0.5 8 0.9 10 3 10 4.4 8 4.8 8 5.9 8 7 8 8.1 9 10.4 8.8 12 8.8 14 5.4 10 3.1 8 1.7 8 0.2 6-1.2 10-373.8 0 0-51.1 4 0 14-1.5 36-0.1 16-0.6 10-1.3 10-3 12-5.5 4.3-2.9 4.8-4 5-6 7.6-14 4.3-5 4-2.7 4-1.9 8-2.4 8-1 8-0.2 38 2.7 10 0.2 8-0.5 10-1.4 32-7.7 10-1.9z"/>
<path fill="#CBF58F" d="M1501.5 1146.2l74.6 0 2.4 8 4 16 2.6 16 0.3 8-0.4 6-1.2 6-2 6-1.9 4-2.7 4-4.5 4.5-2.1 1.5-3.9 1.8-4 1-4 0.1-8-1.7-12.7-5.2-11.4-6-11.8-8-6.9-6-7-8-4.8-8-2.7-8-0.6-4-0.1-4 0.8-6 2.1-6 5.1-10zM1550.5 1308.2l10.2-1.2 10 0 8 1 7.8 2.2 8.6 4 9.6 6 10 7.6 8 7.2 10 10.6 8.4 10.6 9.2 14 7.5 14 3 8 1.4 8-0.1 6-1.6 10-369.8 0 0-49.2 20-2.2 34-0.5 16-0.9 10-1.4 10-2.9 11.3-4.9 9.1-6 6.2-6 9.4-13 2.6-3 3.4-3 6-3.6 4-1.6 6-1.6 6-1 8-0.5 8 0 28 1.7 8 0.1 10-0.4 12-1.7 30-6.1z"/>
<path fill="#D9F791" d="M1505.8 1146.2l66.8 0 2.1 7 2.1 9 2.8 14 1.4 10 0.3 6-0.3 6-0.7 4-1.7 6-1.8 4-2.1 3.3-4 4.3-3.6 2.4-2.4 1-6 1.1-4-0.4-4-0.9-12-4.7-11.5-6.1-8.7-6-6.7-6-6.6-8-4.4-8-2.1-6-0.7-4-0.2-4 0.8-6 1.2-4 5.2-12zM1553.7 1310.2l11-0.3 10 0.6 8 1.5 6 2.2 8 4.2 12 8 10 8.1 8 7.7 8 9.2 7.9 10.8 7.3 12 5.7 12 2.5 8 0.7 6-0.5 8-1.6 8-366 0 0-47.6 14-2 8-0.7 32-0.9 16-1.1 10-1.5 10-2.9 12.6-5.3 9.2-6 6.7-6 11.5-12.3 6-4.8 8-4.2 8.5-2.7 7.5-1.2 8-0.5 30 0.9 18-0.3 10-1.2 26-4.4 10-1.2z"/>
<path fill="#E8FA94" d="M1510.2 1146.2l58.5 0 1.8 6 1.7 8 3.6 26 0.1 10-1.1 6-1.4 4-3.5 6-4.5 4-4.7 2.1-6 0.1-8-2-9.8-4.2-10.3-6-7.9-6.1-5.6-5.9-4.2-6-3-6-1.9-6-0.6-6 0.5-6 1.7-6 3.8-10zM1535.4 1314.2l13.3-1.4 12-0.2 12 0.8 10 1.9 8 3.2 8 4.4 10 6.6 8 6.4 10 9.6 8.9 10.7 8 12 6.4 12 3.8 10 1.5 8-0.3 8-2.1 10-362.2 0 0-45.9 14-2.4 8-0.9 34-1.4 14-1.2 10-1.6 10-2.8 12-4.9 8.6-4.9 7.8-6 13.6-12.1 8-5.5 9-4.4 9-2.7 6-1 8-0.5 34 0.3 10-0.5 10-1 18-2.5z"/>
<path fill="#F6FD97" d="M1514.1 1148.2l0.8-2 49.5 0 2.3 8 0.9 8 0 14 1.1 16-0.7 6-1.3 4-2.5 4-3.5 2.9-4 1.4-6-0.2-6.7-2.1-7.3-3.6-10-6.1-6-5.1-4-4.6-3-4.6-2.7-6-1-4-0.6-4 0.2-6 1.2-6 2.5-8zM1530.4 1316.2l14.3-1.2 12 0 14 1.2 10 1.8 8 2.8 8 4.1 10 6.2 8 6.1 9.6 9 8.5 10 8 12 6.2 12 3.6 10 1.3 8-0.4 8-2.4 10-358.4 0 0-44.3 12-2.4 10-1.3 34-1.8 10-1 14-2.1 10-2.8 12-4.7 10.1-5.6 19.9-14.9 10-6.6 8-4 10-3.4 6-1.2 8-0.8 40-0.6 24-2.3z"/>
<path fill="#FCFB97" d="M1520 1146.2l39.6 0 1.4 4 0.8 4 0.3 4-0.2 4-1.5 6-3.9 8-0.9 4-0.7 8-1.2 4-1.6 2-1.4 0.9-2 0.6-2 0.2-4-0.6-6-2-6-2.8-4-2.8-4-4-2.5-3.5-2-4-1.4-4-0.7-4-0.2-4 0.5-6 1.3-6 1.4-4zM1521.9 1318.2l16.8-1.2 12-0.1 12 1 14 2.2 10 3 8 3.7 10 5.9 7.5 5.5 10.5 9.6 8 9.5 7.3 10.9 6 12 3.3 10 1.2 8-0.1 4-0.7 6-2.3 8-354.7 0 0-42.7 10-2.3 12-1.8 34-2.3 10-1.1 14-2.3 10-2.8 12.5-4.7 7.8-4 9.6-6 16.1-11 10-5.9 10-4.5 8-2.4 8-1.4 8-0.7 34-0.8 16-1.2z"/>
<path fill="#F3F093" d="M1524.6 1148.2l1-2 28.6 0 1.6 4 0.8 4 0 4-1 4-2 4-2.9 3.8-4 4.3-4 3.2-4 1.4-2 0.1-4-1.1-4-2.9-2-2.3-2-3.5-1.2-3-0.9-4-0.2-4 0.4-4 1-4zM1504.8 1320.2l23.9-1.4 12-0.3 12 0.5 14 1.7 12 2.5 8 2.7 10 4.7 10 6.2 10 8.2 5.2 5.2 4.8 5.6 7.3 10.4 6.2 12 3.5 10 1.1 6 0.3 4 0 4-0.8 6-2.6 8-351 0 0-41 8-2.3 12-2.1 12-1.3 24-1.8 10-1.1 16-2.9 14-4.3 10-4.1 12.9-7.1 25.1-15.5 8-4.1 8-3.2 8-2.2 10-1.6 12-0.8 24-0.6z"/>
<path fill="#EBE58E" d="M1531.5 1148.2l1.7-2 13.6 0 1.7 2 1.1 2 1 4-0.5 4-1.4 3.1-2.4 2.9-3.6 2.3-4 0.7-2-0.3-2-1-3.6-3.7-1.7-4-0.2-4 1.5-4.8zM1523.5 1320.2l15.2-0.2 12 0.7 14 1.8 12 2.6 10 3.4 8 3.6 8 4.6 8 5.9 8.2 7.6 8.3 10 6.3 10 4.6 10 2.9 10 0.9 8-0.3 6-0.7 4-2.9 8-347.3 0 0-39.1 1.8-0.9 8.2-2.3 12-2.2 34-3.3 18-2.6 8-1.7 12-3.5 10-3.7 9.8-4.7 36.2-20.7 10-4.4 8-2.4 10-1.8 10-1 44-1.7z"/>
<path fill="#E2DA89" d="M1489.2 1322.2l41.5-0.9 14 0.6 14 1.5 12 2.3 12 3.5 10 4.3 8.3 4.7 9.7 7.2 8.9 8.8 7.5 10 3.6 6 2.9 6 2.3 6 1.6 6 1.2 10-0.4 6-0.8 4-1.3 4-1.9 4-342.3 0-1.3-1.4 0-35.3 2-1.4 6-2.2 14-3 44-5.2 10-1.8 12-3 16-5.3 10-4.5 9.4-4.9 22.6-12.9 8-4 6-2.5 8-2.6 9.5-2 10.5-1.3 10-0.7z"/>
<path fill="#D9CF85" d="M1476.5 1324.2l14.2-1.2 28-0.6 18 0.5 14 1.1 16 2.6 10 2.6 10 3.7 10.4 5.3 9.6 6.6 6 5.3 4 4.1 7.7 10 3.6 6 2.8 6 2.2 6 1.6 6 0.6 4 0.3 6-0.5 6-0.9 4-1.5 4-2.1 4-333.2 0-4-4-2.6-4.8 0-24.3 2-2.3 2-1.4 6-2.2 12.1-3 11.9-1.9 32-4.1 16-3.2 14-3.9 10-3.6 8-3.4 11.8-5.9 20.2-11.4 12-5.8 12-3.9 14-2.7z"/>
<path fill="#D1C480" d="M1487.6 1324.2l21.1-0.7 18 0.3 16 0.9 14 1.6 12 2.4 10 3 10.7 4.5 9.3 5.3 10 7.7 8.5 9 6.9 10 4.8 10 2.8 10 0.7 6 0.1 4-0.7 6-1.1 4-1.7 4-2.3 4-324-0.2-4.7-3.8-2.8-4-3.6-14-0.2-4 1-4 1-2 1.7-2 3.1-2 18.5-5.5 40-6 16-3.2 14-3.8 10-3.4 14.4-6.1 27.6-15 14-6.3 8-2.5 8-1.9 10-1.5 8-0.7z"/>
<path fill="#C8B97B" d="M1478.1 1326.2l12.6-1.2 18-0.4 24 0.9 18 1.5 12 1.9 12 3.2 10 3.9 10 5.2 10 7.2 4.2 3.8 5.6 6 7 10 4.8 10 2.7 10 0.6 6-0.1 4-0.9 6-1.3 4-1.9 4-2.5 4-313.4 0-3.9-2-2.9-2.2-3.2-3.8-0.8-2-1.1-6-2.3-6-0.4-4 1.1-4 1.4-2 2.7-2 12.6-4.9 6-1.8 48-8.2 22-5.6 16-5.6 8-3.5 26-14.1 12-5.6 12-3.8 14-2.7z"/>
<path fill="#C0AE77" d="M1489.5 1326.2l11.2-0.4 18 0.3 24 1.5 14 1.7 12 2.6 10 3.3 10 4.7 8 4.9 9.2 7.4 7.4 8 6.7 10 4.4 10 1.5 6 0.6 4 0.2 6-0.4 4-0.9 4-1.5 4-2.1 4-2.8 4-301.4 0-4.9-1.6-4.8-2.4-3.2-2.6-2.3-3.4-1.7-6-2.4-6-0.2-4 0.5-2 1.2-2 2.4-2 6.5-2.9 5.7-3.1 10.3-2.9 42-7.5 20-4.8 18-5.9 8-3.4 28-15 12-5.3 8-2.6 8-1.9 10-1.6 10-1z"/>
<path fill="#B7A372" d="M1480.6 1328.2l14.1-1.1 14-0.1 28 1.5 16 1.5 12 2.3 10 3.1 10 4.3 7.8 4.5 5.7 4 4.5 3.8 7.9 8.2 3 4 3.8 6 2 4 2.4 6 1.5 6 0.5 4 0.1 6-0.6 4-1 4-1.7 4-2.3 4-3.2 4-282.2 0-8.2-0.9-5.2-1.1-4.8-1.5-4.9-2.5-3.1-2.6-2.3-3.4-3.6-10 0.1-4 1-2 2-2 4.8-2.4 6-4.1 4-1.7 6.9-1.8 17.1-3.6 24-4.3 20-4.7 10-2.8 8-2.7 9.2-3.9 24.8-13.3 12-5.5 12-3.9 16-3.1z"/>
<path fill="#AE976D" d="M1474.7 1330.2l14-1.5 16-0.4 30 1.4 14 1.2 12 2 10 2.7 10 4 8.5 4.6 5.8 4 4.9 4 7.9 8 3.1 4 3.9 6 2.1 4 2.3 6 1.5 6 0.5 4-0.1 6-0.7 4-1.2 4-1.9 4-2.6 4-3.5 4-269.6 0-4.9-1.7-10-1.1-5.7-1.2-5.7-2-3.8-2-2.8-2.2-2.8-3.8-2.6-6-0.4-4 0.6-2 1.4-2 5.8-3.5 2.9-2.5 3.1-1.9 5.7-2.1 10.3-2.7 18-3.8 16-2.8 30-7.3 10-3.4 8-3.4 26-13.7 10-4.5 12-4 12-2.4z"/>
<path fill="#A68C68" d="M1485 1330.2l11.7-0.6 18 0.3 26 1.5 14 1.7 10 2.2 8.9 2.9 8.7 4 8.4 5.2 6 4.6 4 3.7 7.5 8.5 5.1 8 2.7 6 1.3 4 1.1 6 0.2 4-0.3 4-0.8 4-1.4 4-2.1 4-2.9 4-3.7 4-261.6 0-7.1-3.4-12-1.5-4.4-1.1-5.6-2.1-4-2.1-4-3.4-2-3-1.5-3.4-0.3-2 0.1-2 0.9-2 2-2 2.8-1.7 5.5-4.3 2.5-1.3 7.7-2.7 15-4 25.3-4.8 30-7 8-2.5 9-3.7 29-14.9 12-5.1 8-2.4 6-1.3 16-2.3z"/>
<path fill="#9D8164" d="M1478.1 1332.2l10.6-1 16-0.3 28 1.2 16 1.4 10 1.7 10.5 3 9.5 4 8 4.7 9.5 7.3 4.1 4 4.4 5 6 9 2.7 6 1.3 4 1.1 6 0.2 4-0.4 4-1 4-1.6 4-2.3 4-3.1 4-4 4-253.8 0-11.1-5.4-10-1.3-4-0.9-8-3.2-4-2.3-2-1.7-2.5-3.2-1-2-0.4-2 0.3-2 1.6-2.4 7.1-5.6 3.5-2 10.7-4 12.7-3.6 34-6.7 20-4.7 9.2-3 8.8-3.6 26-13.2 12-5.2 12-3.7 12-2.1z"/>
<path fill="#94765F" d="M1495.6 1332.2l19.1 0.1 18 0.9 12 1.1 11.9 1.9 8.1 2.1 10.2 3.9 7.4 4 8.5 6 8.5 8 6.3 8 2.5 4 2.6 5.5 1.5 4.5 0.8 4 0.4 4-0.2 4-0.8 4-1.4 4-2.1 4-2.2 3-4 4.4-2.9 2.6-245.4 0-5.7-2.2-10-5-10-1.6-4.2-1.2-7.8-3.5-3.8-2.5-2.2-2.3-1-1.7-0.6-2 0.4-2 1.2-1.7 8-6.3 9.2-4 5.4-2 9.4-2.8 46-9.4 8-2.1 8-2.6 10-4 32-15.5 12-4.4 6-1.6 10-1.9 10-1.1 10-0.6z"/>
<path fill="#8C6B5A" d="M1483.3 1334.2l13.4-0.8 18 0.1 20 1 14 1.6 10.2 2.1 9.8 3.1 8 3.7 8.3 5.2 9.4 8 4.3 4.6 4 5.1 4.8 8.3 2.2 6 0.8 4 0.3 4-0.3 4-0.8 4-1.6 4-2.3 4-3.1 4-4 3.8-2.9 2.2-233.7 0-5.4-0.9-4-1.2-14-6.8-12-2.7-5.6-2.4-4.4-2.5-1.9-1.5-1.7-2-0.7-2 0.4-2 1.6-2 4.6-4 3.5-2 8.7-4 11.5-3.9 8.4-2.1 25.6-4.8 20-4.8 10-3.3 8-3.2 26-12.4 14-5.8 12-3.3 16-2.3z"/>
<path fill="#836056" d="M1477.1 1336.2l11.6-1.2 18-0.5 18 0.5 18 1.5 12 2.1 10 3 8 3.4 8.9 5.2 5.3 4 4.5 4 5.3 5.6 3.4 4.4 2.6 4 3 6 1.4 4 0.8 4 0.3 4-0.3 4-0.9 4-1.7 4-2.5 4-3.4 4-4.7 4-3.1 2-206.8 0-6.1-1-14-0.3-6-0.7-6-1.7-12-6-13.8-4.3-7.1-4-2.1-2-1-2 0.3-2 1.2-2 1.9-2 2.7-2 11.6-6 8.3-2.9 10-2.6 28-5.4 16-4 9.3-3.1 8.7-3.4 26-12 12-4.8 12-3.6 12-2.2z"/>
<path fill="#84625A" d="M1491.4 1336.2l13.3-0.6 18 0.4 16 1.3 12 2 10.6 2.9 9.4 3.9 7.1 4.1 8 6 8.1 8 3.2 4 3.6 5.5 2.2 4.5 1.4 4 0.9 4 0.3 4-0.4 4-1 4-3.4 6.5-2.9 3.5-3.1 2.9-4 2.8-4.3 2.3-196.4 0-5.3-1.7-4-0.8-16-0.5-8-1.2-6-2.1-10-5.2-10-3.8-5.1-2.7-2.3-2-1.2-2-0.2-2 0.9-2 1.8-2 5.4-4 8.1-4 5.5-2 7.1-2 28-5.5 18-4.7 18-6.5 32-13.9 12-4.1 14.8-3.3 17.2-2z"/>
<path fill="#8B6B63" d="M1491.2 1338.2l15.5-0.8 16 0.2 14 1.3 12 2.2 10.6 3.1 9.1 4 8.3 5.1 8 6.5 8 8.7 3.8 5.7 2.1 4 1.5 4 0.9 4 0.3 4-0.4 4-1.2 4-2 4-5 5.8-6.2 4.2-4.3 2-5.8 2-180 0-13.7-4.6-4-0.6-16-0.5-8-1.7-6-2.6-11.2-6-6.1-4-1.5-2-0.6-2 0.5-2 1.2-2 4.8-4 8.5-4 8.4-2.5 30-6.4 14-4.1 16-5.8 28-11.5 16-5.5 16-3.8 18-2.4z"/>
<path fill="#92746D" d="M1491.4 1340.2l13.3-1 18 0.1 12 1.2 12 2.3 10.7 3.4 9.3 4.4 8.6 5.6 8.9 8 6.6 8 4.3 8 1.3 4 0.7 4-0.1 4-0.9 4-1.8 4-1.6 2.3-2 2.2-4 3.2-4 2.3-4 1.7-12.8 4.3-71 0-20.2-0.7-22.6 0.7-48.1 0-7.3-2-14-5-6-0.7-14-0.7-7.5-1.6-8.5-4-5.9-4-2.3-2-1.6-2-0.7-2 0.2-2 1.1-2 2.1-2 3.1-1.9 5-2.1 6.5-2 20.5-4.9 14-4.2 16-5.6 36-13.7 12-3.9 18-4.5 20-3.1z"/>
<path fill="#997D76" d="M1491.9 1342.2l14.8-1.2 16 0 11.1 1.2 12.9 2.9 10 3.6 10.4 5.5 8.2 6 7.9 8 5.6 8 2 4 1.4 4 0.6 4-0.1 4-0.4 2-1.6 4-1.3 2-2.7 2.9-6 4.1-16 6.4-9.1 2.6-45.1 0-17.8-1.6-14-0.5-18 0.3-34 1.6-14-0.4-6-0.8-6-1.3-18-6.4-18-2.1-8-1.7-6.7-3.1-2.9-2-1.9-2-1.1-2-0.2-2 0.8-1.5 3.2-2.5 2.8-1.4 14-4.9 3.7-1.7 48-18 17-6 21.3-6.5 18-4.3 18-3z"/>
<path fill="#A08680" d="M1492.9 1344.2l13.8-1.3 14-0.1 12 1.2 12 2.8 10 3.7 10.4 5.7 7.9 6 7.6 8 5 8 1.7 4 0.9 4-0.1 6-1.4 4-1.2 2-1.7 2-3.1 2.7-8 4.3-14 5.5-6 1.5-6 1-8 0.7-10 0-32-2.5-14-0.6-18 0.2-36 1.3-16-0.6-6-0.9-6-1.3-16-5.7-20-4.8-2.4-0.8-3.9-2-1.8-2-0.2-2 1.2-2 4.9-4 8.2-5.2 9.5-4.8 28.5-11.7 18-6.2 28-8.1 20-4.8 18-3.2z"/>
<path fill="#A78F89" d="M1494.5 1346.2l14.2-1.4 12 0 12 1.4 10 2.4 10 3.7 10.5 5.9 7.6 6 4 4 3.2 4 2.5 4 1.8 4 1.5 6-0.1 4-0.4 2-1.9 4-1.6 2-5.1 4.2-11.6 5.8-8.4 2.9-10 2-8 0.7-10 0.1-32-2-12-0.4-50 1.1-18-0.6-10-1.5-8-2.2-23.3-8.1-3.5-2-2.1-2-0.7-2 0.2-2 1-2 3.6-4 2.7-2 6.9-4 8.3-4 18.9-8 18-5.8 32-8.7 18-4.3 16-2.9z"/>
<path fill="#AE9893" d="M1496.5 1348.2l12.2-1.2 12 0 10 1.1 10 2.3 10 3.8 10 5.6 8 6.4 5.3 6 2.5 4 1.7 4 1.2 6-0.4 4-0.6 2-2.5 4-5.2 4.6-5.8 3.4-4.2 2-8 2.8-10 2-8 0.8-10 0.2-40-1.8-50 0.8-18-0.8-12-1.7-10-2.8-14.9-5.5-3.5-2-2.2-2-1-2-0.1-2 0.7-2 1.3-2 2-2 3.7-2.6 6.3-3.4 17.5-8 16.2-5.5 42-11.5 18-4.2 14-2.5z"/>
<path fill="#B5A19C" d="M1499.2 1350.2l11.5-0.9 10 0.1 10 1.1 10 2.5 10 4.1 8.6 5.1 7.2 6 4.8 6 2.9 6 0.8 6-0.7 4-0.9 2-2.9 4-5.8 4.6-8 3.9-10 3.1-10 1.7-14 0.7-32-1.2-48 0.6-20-0.8-14-1.7-12-2.9-11.3-4-4.2-2-2.4-2-1.1-2-0.2-2 0.7-2 2.5-2.8 8.5-5.2 15.5-7.1 8-2.9 54-15.5 16-3.8 16-2.6z"/>
<path fill="#BCAAA5" d="M1503.1 1352.2l11.6-0.5 10 0.5 10 1.8 7.3 2.2 8.7 3.9 6.4 4.1 6.9 6 4.4 6 1.6 4 0.6 4-0.1 2-1.1 4-1 2-3.7 4.3-6 4-8.8 3.7-9.2 2.4-10 1.4-14 0.6-34-0.9-32 0.6-10-0.1-14-0.8-14-1.9-14.6-3.3-6.6-2-4.5-2-3.3-2-1.5-2-0.1-2 1.3-2 5.5-4 13.8-6.6 12-4.6 36-11.2 18-5.2 18-4.1 16-2.3z"/>
<path fill="#C3B3AF" d="M1490.9 1356.2l11.8-1.5 10-0.5 10 0.4 10 1.6 8 2.5 7.7 3.5 6.3 4.1 6.4 5.9 3.6 5.8 1.2 4.2-0.2 4-0.5 2-2.5 4.5-3.7 3.5-6.9 4-9.4 3.4-10 2.1-8 0.9-10 0.4-32-0.5-32 0.6-16-0.7-14-1.7-11.8-2.5-12.9-4-4.1-2-1.9-2 0-2 1.6-2 2.7-2 11.3-6 11.1-4.8 16-5.5 30-9.1 14-3.7 14-2.9z"/>
<path fill="#CABCB8" d="M1493.9 1358.2l10.8-1.1 10-0.2 10 0.7 8 1.5 8 2.7 6 3 6 4.2 4.9 5.2 1.3 2 1.7 4 0.4 4-1 4-1.1 2-2.2 2.6-4.2 3.4-8.3 4-7.5 2.3-10 2-10 0.9-10 0.2-24-0.2-30 0.6-12-0.5-11.2-1.3-12.8-2.6-9.4-3.4-3.5-2-2.1-2-0.4-2 0.9-2 4.4-4 8.1-5 8-3.5 18-6 26-7.7 14-3.5 12-2.1z"/>
<path fill="#D1C5C2" d="M1498.2 1360.2l10.5-0.6 10 0.3 8 1 8 2 6 2.4 6 3.7 5.5 5.2 2.5 4 1 4-0.5 4-2.2 4-4.3 4-6 3.3-7 2.7-7.8 2-9.2 1.4-12 0.6-24 0-24 0.6-16-0.5-12-1.7-9.8-2.4-6.2-2.5-2.4-1.5-1.9-2-0.8-2 0.3-2 1.2-2 1.8-2 5.8-4 6-2.8 16-5.4 30-8.6 14-3.3 12-1.8z"/>
<path fill="#D8CECB" d="M1486.9 1364.2l9.8-1.3 10-0.5 10 0.3 8 1 8 2 5.9 2.5 4.1 2.7 3.7 3.3 2.6 4 1 4-0.6 4-2.5 4-5.1 4-5.1 2.6-8 2.9-8 1.7-6 0.9-10 0.5-24 0.1-22 0.7-10-0.2-10-1.1-9.4-2.1-8.6-3.1-1.7-0.9-2.5-2-1-2 0-2 0.9-2 1.7-2 2.6-2 6-3 14-4.9 22-6.3 14-3.7 10-2.1z"/>
<path fill="#DFD7D5" d="M1490.4 1366.2l8.3-0.8 8-0.2 8 0.4 8 1.1 6 1.5 5.1 2 4.9 3.1 2.8 2.9 2.1 4 0.3 4-1.2 3-2.5 3-5.5 4-4.1 2-7.9 2.7-8 1.5-8 0.8-10 0.3-16 0.1-22 0.7-10-0.3-10-1.5-8-2.3-4.4-2-3.4-2-1.9-2-0.4-2 1-2 1.9-2 3.3-2 5.9-2.7 9.6-3.3 28.4-7.9 10-2.4 8-1.5z"/>
<path fill="#E6E0DE" d="M1498.5 1368.2l8.2 0 8 0.7 7.1 1.3 4.9 1.5 4.9 2.5 2.5 2 1.7 2 1 2 0.5 2-0.1 2-0.7 2-3.2 4-2.6 2-6 3.2-10 2.9-8 1.1-10 0.6-38 0.8-10.8-0.6-9.2-1.9-5.3-2.1-3.2-2-1.9-2-0.6-2 0.8-2 2.2-2 2-1.2 6-2.8 5.8-2 34.2-9.3 10-1.8 8-0.8z"/>
<path fill="#EDE9E7" d="M1485.9 1372.2l12.8-1 12 0.7 9.8 2.3 4.3 2 2.6 2 1.6 2 0.7 2 0.1 2-0.6 2-1.3 2-1.9 2-2.8 2-4.1 2-6.4 2-4 0.7-14 1.3-38 0.6-6-0.4-4-0.7-5.3-1.5-3.6-2-1.9-2-0.5-2 1-2 2.4-2 3.8-2 5.3-2 20.3-6 16.5-3.8z"/>
<path fill="#F4F2F1" d="M1480.3 1376.2l10.4-1.5 10-0.1 10 1.5 6 2.2 2.7 1.9 1.5 2 0.5 2-0.3 2-1.3 2-2.2 2-3.5 2-6 2-13.4 1.8-28 0.6-11.6-0.4-7.8-2-2.6-2-0.5-2 1.3-2 2.9-2 10.3-4 20-5.6z"/>
<path fill="#FBFBFA" d="M1478.8 1380.2l7.9-1.4 8-0.3 6 0.6 6 1.7 2.5 1.4 1.5 1.9 0.1 2.1-1.4 2-3.1 2-5.6 1.8-8 1.1-10 0.4-14-0.3-8.7-1-2.8-2 1-2 3.3-2 4.7-2 12.5-4z"/>
</g>
<path fill="none" stroke="#000" stroke-width="0.8" stroke-linejoin="round" d="M1625.5 1146.2l0.4 4 10.8 49 4.2 17 1.8 8.7 4 15.3 8 26 5.3 14 5.1 12 5.7 12 7.9 14.9 8 13.6 10 15.5 12 17.1 12.8 16.9 22.7 28 3.6 6M1290.7 1221.7l16-1.4 32-1.3 12-1.2 8-1.5 8-2.3 6-2.4 6-3.5 6-4.8 4.6-5.1 4.1-6 2.1-4 1.7-4 2.8-8 2-10 1.1-12-0.7-8M1446.7 1228l-6 1.2-4 1.6-4 2.2-4 3.1-2.1 2.1-1.9 2.7-1.5 3.3-0.4 4 0.5 2 0.9 2 2.9 4 7.6 6.7 20 13 24.5 14.3 7.9 4 5.6 1.9 4 0.6 4 0.1 2-0.1 4-1 4-1.6 3.3-1.9 2.7-2 3.9-4 2.3-4 1.2-4 0.2-2-0.6-4-1.6-4-2.6-4-2.8-3.1-5.6-4.9-9.7-6-18.7-8.8-14-7.6-6-2.9-8-2.5-4-0.5-4 0.1M1352.7 1335.7l-7.8 2.5-3.4 2-2.1 2-1 2 0.4 2 1.7 2 2.2 1.1 2 0.9 7.4 2 2.6 0.4 4-0.1 6-1.1 3.8-1.2 3-2 2-2 0.4-2-0.7-2-1.4-2-2.7-2-4.4-1.8-6-1.4-2-0.1-4 0.8M1600.3 1146.2l4.6 18 3.3 18 2 18 2.9 36 2.5 20 1.9 10 1.8 8 2.3 8 2.1 6 3.3 8 3.7 8 4.1 8 5.8 10 12.1 18.7 24.9 35.3 10.7 16 9.7 16 1.8 4 1.1 4M1290.7 1278.8l4-2.4 6-6 4-3 6-3.7 8-4 8-3.1 8-2.2 8-1 6 0 4 0.3 6 1.1 6 1.8 6 2.4 10 5 30 17.5 16.9 8.7 13.6 6 7.5 2.9 9.4 3.1 10.6 2.7 8 1.5 12 1.2 8 0.1 10-1.1 9.9-2.4 8.1-3.1 9.4-4.9 5.8-4 4.7-4 3.6-4 2.5-4 1.4-4 0.3-4-0.8-4-2-4-4.5-6-5.8-6-6.5-6-7.4-6-6.7-4.7-12-6.8-28-13.7-11.1-6.8-5.1-4-4.1-4-3.2-4-2.4-4-2.3-6-1-6 0-6 1.1-6 1.4-4 2.7-5.1 2.3-2.9 5.7-5.2 1.8-2.8 0.8-2M1338.7 1324l-10 3-8 3.2-7.1 4-2.5 2-1.8 2-1.1 2-0.4 2 0.2 2 0.9 2 1.5 2 2.1 2 2.7 2 3.9 2 7.6 2.3 8 0.8 26 1.7 10-0.7 10-3.6 4-2.5 2.6-2 1.9-2 1.4-2 0.9-2 0.4-2-0.2-2-1-2.4-2-2.7-6-4.5-8-3.8-10-3-8-1.4-8-0.1-6 0.8-4 0.9M1578.2 1146.2l6 22 2.5 12.7 0.8 7.3 0.2 6-0.2 4-0.8 6-1.6 6-2.4 6-2.2 4-3.8 4.9-4 3.4-4 2.2-4 1.1-4 0.2-6-0.8-8-2.7-13.3-6.3-10.6-6-6.1-4-7.8-6-6.3-6-5.1-6-2.8-4.3-2.7-5.7-1.8-6-0.5-6 0.5-6 1.7-6 7-14M1290.7 1365.8l4-0.1 10-1.3 6-0.3 34-0.3 16-0.7 10-1.4 10-2.9 6.3-2.6 5.7-2.8 4.9-3.2 4.8-4 5.2-6 7.1-12 2-2.7 3.2-3.3 2.7-2 3.7-2 8.4-2.8 8-1.3 8-0.4 10 0.3 28 2.1 10 0.1 8-0.5 10.8-1.5 27.2-6.2 10-2 10-1 6 0 4 0.4 4 0.7 8 2.4 8.3 3.7 9.7 5.8 8 6 8 7 8 8 8 9.2 7.5 10 6.6 10 5.8 10 4.7 10 1.9 6 1.2 8-0.2 6-1.2 8M1290.7 1380.8l4-2.8 5.6-1.8 10.4-2.3 12-1.9 34-4.1 16-3.2 14-3.9 10-3.7 8-3.6 8-4 22-12.5 8-4.2 10-4.1 10-2.9 6-1.2 10-1.3 20-1.1 30-0.4 12 0.4 10 0.9 12 1.7 10 2.2 10 3.2 8 3.3 8 4.3 6.6 4.4 7.2 6 5.9 6 6.2 8 4.9 8 3.7 8 2.6 8 1.3 8 0 8-0.6 4-1.1 4-2.7 6M1294.2 1416.2l-3.5-3.9M1352.4 1416.2l-3.7-1.5-8-4.3-2-0.7-10-1.4-6-1.8-8-3.8-3.2-2.5-1.8-2-1.2-2-0.4-2 0.4-2 1.3-2 7.7-6 4-2 10.4-4 10.8-3.1 10-2.2 14-2.5 22-4.7 8-2.1 8-2.6 10-4 32-15.7 8-3.1 6-1.9 10-2.2 10-1.4 14-1 10-0.1 20 0.7 16 1.1 12 1.5 8 1.7 5.7 1.6 5.6 2 8.3 4 6.4 4 7.7 6 4.2 4 3.6 4 5.8 8 2.7 5.2 1.9 4.8 1.1 4 0.6 4 0.1 4-0.4 4-1.8 6-2.1 4-2.9 4-5.9 6M1422 1416.2l-9.3-0.4-8-1.2-8-2.1-14-5.2-18-2-8-1.6-3.8-1.5-3.8-2-2.8-2-1.9-2-1.2-2-0.4-2 1-2 0.9-0.8 4-2.5 2-0.9 4-1.1 6-2.3 4-1.2 68-25.2 18-5.6 17.1-4.4 14.9-2.9 14-1.8 16-0.9 12 0.4 8 0.8 6 1.1 10 2.5 10 3.9 9 4.9 8.1 6 4.2 4 3.7 4 3.1 4 2.5 4 2 4 1.3 4 0.7 6-0.5 4-0.7 2-2.2 4-3.8 4-2.8 2-3.7 2-14.9 5.7-7.8 2.3M1508.9 1416.2l-16.2-1.5-16-0.4-18 0.3-33.9 1.6M1501.3 1352.2l9.4-0.7 10 0.2 8 0.9 8 1.7 8 2.8 6.5 3.1 6.3 4 6.8 6 2.4 2.9 2 3.1 1.6 4 0.6 4-0.1 2-1 4-2.5 4-4.3 4-6.3 3.6-6 2.4-6 1.7-6 1.2-8 1-8 0.5-10 0-30-0.8-32 0.6-18-0.4-16.9-1.8-15.1-3.1-9.7-2.9-4.5-2-3.2-2-1.5-2-0.1-2 1.2-2 5.5-4 8.3-4.3 8-3.4 8-3.1 38-11.8 18-5.1 16-3.7 16.6-2.6M1489.8 1366.2l6.9-0.7 8-0.4 8 0.2 6 0.6 6 1.1 6 1.7 4 1.8 4 2.6 3.1 3.1 1.2 2 0.9 2 0.3 2-0.1 2-0.6 2-1.2 2-1.6 1.8-2.7 2.2-3.3 2.1-6 2.7-6 2-5.9 1.2-10.1 1-26 0.4-22 0.8-8-0.2-10-1.2-10-2.7-4.7-2.1-3.3-2-1.9-2-0.4-2 0.9-2 2-2 3.3-2 6.1-2.8 10-3.4 28-7.8 10-2.4 9.1-1.6"/>
</g>
<rect x="1296.7" y="1152.2" width="487.8" height="256.2" fill="none" stroke="#000" stroke-width="2.3"/>
<path d="M1296.7 1408.4v5.4M1459.3 1408.4v5.4M1621.9 1408.4v5.4M1784.5 1408.4v5.4" stroke="#000" stroke-width="2.3" fill="none"/>
<path d="M1378 1408.4v3.2M1540.6 1408.4v3.2M1703.2 1408.4v3.2" stroke="#000" stroke-width="2.3" fill="none"/>
<text x="1296.7" y="1440.8" font-size="27.1" text-anchor="middle">0</text>
<text x="1459.3" y="1440.8" font-size="27.1" text-anchor="middle">5</text>
<text x="1621.9" y="1440.8" font-size="27.1" text-anchor="middle">10</text>
<text x="1783.5" y="1440.8" font-size="27.1" text-anchor="middle">15</text>
<path d="M1296.7 1152.2h-6.2M1296.7 1223.4h-6.2M1296.7 1294.5h-6.2M1296.7 1365.7h-6.2" stroke="#000" stroke-width="2.3" fill="none"/>
<text x="1279.5" y="1161.8" font-size="27.1" text-anchor="end">3.0</text>
<text x="1279.5" y="1233" font-size="27.1" text-anchor="end">2.5</text>
<text x="1279.5" y="1304.1" font-size="27.1" text-anchor="end">2.0</text>
<text x="1279.5" y="1375.3" font-size="27.1" text-anchor="end">1.5</text>
<text x="1539.3" y="1480.6" font-size="29" text-anchor="middle">k (Å<tspan font-size="20.5" dy="-13">−1</tspan><tspan dy="13">&#8203;</tspan>)</text>
<text transform="translate(1215.3 1280.6) rotate(-90)" font-size="28.7" text-anchor="middle">R+ΔR(Å)</text>
<text x="1189" y="1160.7" font-size="41.5" font-weight="bold">h</text>
<text x="1542.5" y="1189.2" font-size="27.3" text-anchor="middle" font-weight="bold">W-Co</text>
<text x="1489" y="1393.9" font-size="27.3" text-anchor="middle" font-weight="bold">W-N</text>
<defs><linearGradient id="cbh" x1="0" y1="1" x2="0" y2="0"><stop offset="0%" stop-color="#333399"/><stop offset="10%" stop-color="#0099FF"/><stop offset="15%" stop-color="#00CC66"/><stop offset="40%" stop-color="#FFFF99"/><stop offset="60%" stop-color="#805C54"/><stop offset="100%" stop-color="#FFFFFF"/></linearGradient></defs><rect x="1805.5" y="1152.8" width="12.3" height="254.5" fill="url(#cbh)" stroke="#5A5A5A" stroke-width="1.1"/>
<path d="M1817.8 1406.5h8M1817.8 1335.8h8M1817.8 1265.1h8M1817.8 1194.4h8" stroke="#333" stroke-width="1.2" fill="none"/>
<text x="1832.5" y="1414.8" font-size="25">0.0</text>
<text x="1832.5" y="1344.1" font-size="25">0.5</text>
<text x="1832.5" y="1273.4" font-size="25">1.0</text>
<text x="1832.5" y="1202.7" font-size="25">1.5</text>
</svg>
</body></html>
